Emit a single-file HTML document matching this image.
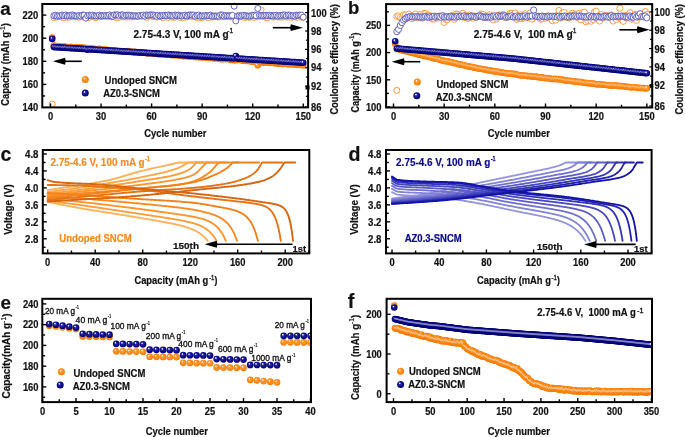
<!DOCTYPE html>
<html><head><meta charset="utf-8"><style>
html,body{margin:0;padding:0;background:#fff;width:685px;height:437px;overflow:hidden;position:relative}
svg{will-change:transform}
text{font-family:"Liberation Sans", sans-serif;white-space:pre}
</style></head><body>
<svg width="685" height="437" viewBox="0 0 685 437" style="position:absolute;left:0;top:0" font-family='"Liberation Sans", sans-serif'>
<defs>
<radialGradient id="gN" cx="0.5" cy="0.5" r="0.55" fx="0.34" fy="0.3">
<stop offset="0" stop-color="#ffffff"/><stop offset="0.12" stop-color="#d8d8f4"/><stop offset="0.3" stop-color="#2a2aa6"/><stop offset="0.7" stop-color="#08088a"/><stop offset="1" stop-color="#000066"/></radialGradient>
<radialGradient id="gO" cx="0.5" cy="0.5" r="0.55" fx="0.34" fy="0.3">
<stop offset="0" stop-color="#ffffff"/><stop offset="0.12" stop-color="#ffe6c8"/><stop offset="0.3" stop-color="#ff9a30"/><stop offset="0.7" stop-color="#ff8816"/><stop offset="1" stop-color="#f07400"/></radialGradient>
</defs>
<rect width="685" height="437" fill="#fff"/>
<circle cx="52.19" cy="104" r="3" fill="#fff" stroke="#FF8A1C" stroke-width="0.9"/>
<circle cx="53.87" cy="17.66" r="3" fill="#fff" stroke="#FF8A1C" stroke-width="0.75"/>
<circle cx="55.55" cy="16.66" r="3" fill="#fff" stroke="#FF8A1C" stroke-width="0.75"/>
<circle cx="57.24" cy="16.98" r="3" fill="#fff" stroke="#FF8A1C" stroke-width="0.75"/>
<circle cx="58.92" cy="16.55" r="3" fill="#fff" stroke="#FF8A1C" stroke-width="0.75"/>
<circle cx="60.61" cy="16.51" r="3" fill="#fff" stroke="#FF8A1C" stroke-width="0.75"/>
<circle cx="62.3" cy="17.54" r="3" fill="#fff" stroke="#FF8A1C" stroke-width="0.75"/>
<circle cx="63.98" cy="17.64" r="3" fill="#fff" stroke="#FF8A1C" stroke-width="0.75"/>
<circle cx="65.67" cy="16.12" r="3" fill="#fff" stroke="#FF8A1C" stroke-width="0.75"/>
<circle cx="67.35" cy="17.18" r="3" fill="#fff" stroke="#FF8A1C" stroke-width="0.75"/>
<circle cx="69.03" cy="17.23" r="3" fill="#fff" stroke="#FF8A1C" stroke-width="0.75"/>
<circle cx="70.72" cy="15.83" r="3" fill="#fff" stroke="#FF8A1C" stroke-width="0.75"/>
<circle cx="72.41" cy="16.79" r="3" fill="#fff" stroke="#FF8A1C" stroke-width="0.75"/>
<circle cx="74.09" cy="16.12" r="3" fill="#fff" stroke="#FF8A1C" stroke-width="0.75"/>
<circle cx="75.78" cy="16.78" r="3" fill="#fff" stroke="#FF8A1C" stroke-width="0.75"/>
<circle cx="77.46" cy="16.48" r="3" fill="#fff" stroke="#FF8A1C" stroke-width="0.75"/>
<circle cx="79.14" cy="17.38" r="3" fill="#fff" stroke="#FF8A1C" stroke-width="0.75"/>
<circle cx="80.83" cy="16.49" r="3" fill="#fff" stroke="#FF8A1C" stroke-width="0.75"/>
<circle cx="82.52" cy="16.06" r="3" fill="#fff" stroke="#FF8A1C" stroke-width="0.75"/>
<circle cx="84.2" cy="16.7" r="3" fill="#fff" stroke="#FF8A1C" stroke-width="0.75"/>
<circle cx="85.88" cy="16.3" r="3" fill="#fff" stroke="#FF8A1C" stroke-width="0.75"/>
<circle cx="87.57" cy="16.42" r="3" fill="#fff" stroke="#FF8A1C" stroke-width="0.75"/>
<circle cx="89.25" cy="17.54" r="3" fill="#fff" stroke="#FF8A1C" stroke-width="0.75"/>
<circle cx="90.94" cy="16.26" r="3" fill="#fff" stroke="#FF8A1C" stroke-width="0.75"/>
<circle cx="92.62" cy="16.57" r="3" fill="#fff" stroke="#FF8A1C" stroke-width="0.75"/>
<circle cx="94.31" cy="17.11" r="3" fill="#fff" stroke="#FF8A1C" stroke-width="0.75"/>
<circle cx="96" cy="17.6" r="3" fill="#fff" stroke="#FF8A1C" stroke-width="0.75"/>
<circle cx="97.68" cy="16.07" r="3" fill="#fff" stroke="#FF8A1C" stroke-width="0.75"/>
<circle cx="99.37" cy="16.79" r="3" fill="#fff" stroke="#FF8A1C" stroke-width="0.75"/>
<circle cx="101.05" cy="16.34" r="3" fill="#fff" stroke="#FF8A1C" stroke-width="0.75"/>
<circle cx="102.73" cy="16.04" r="3" fill="#fff" stroke="#FF8A1C" stroke-width="0.75"/>
<circle cx="104.42" cy="16.35" r="3" fill="#fff" stroke="#FF8A1C" stroke-width="0.75"/>
<circle cx="106.11" cy="15.97" r="3" fill="#fff" stroke="#FF8A1C" stroke-width="0.75"/>
<circle cx="107.79" cy="16.93" r="3" fill="#fff" stroke="#FF8A1C" stroke-width="0.75"/>
<circle cx="109.47" cy="16.19" r="3" fill="#fff" stroke="#FF8A1C" stroke-width="0.75"/>
<circle cx="111.16" cy="16.84" r="3" fill="#fff" stroke="#FF8A1C" stroke-width="0.75"/>
<circle cx="112.84" cy="15.94" r="3" fill="#fff" stroke="#FF8A1C" stroke-width="0.75"/>
<circle cx="114.53" cy="16.04" r="3" fill="#fff" stroke="#FF8A1C" stroke-width="0.75"/>
<circle cx="116.22" cy="17.48" r="3" fill="#fff" stroke="#FF8A1C" stroke-width="0.75"/>
<circle cx="117.9" cy="17.41" r="3" fill="#fff" stroke="#FF8A1C" stroke-width="0.75"/>
<circle cx="119.59" cy="17.26" r="3" fill="#fff" stroke="#FF8A1C" stroke-width="0.75"/>
<circle cx="121.27" cy="15.88" r="3" fill="#fff" stroke="#FF8A1C" stroke-width="0.75"/>
<circle cx="122.95" cy="16.86" r="3" fill="#fff" stroke="#FF8A1C" stroke-width="0.75"/>
<circle cx="124.64" cy="16.51" r="3" fill="#fff" stroke="#FF8A1C" stroke-width="0.75"/>
<circle cx="126.33" cy="17.11" r="3" fill="#fff" stroke="#FF8A1C" stroke-width="0.75"/>
<circle cx="128.01" cy="16.73" r="3" fill="#fff" stroke="#FF8A1C" stroke-width="0.75"/>
<circle cx="129.69" cy="16.95" r="3" fill="#fff" stroke="#FF8A1C" stroke-width="0.75"/>
<circle cx="131.38" cy="17.01" r="3" fill="#fff" stroke="#FF8A1C" stroke-width="0.75"/>
<circle cx="133.06" cy="16.58" r="3" fill="#fff" stroke="#FF8A1C" stroke-width="0.75"/>
<circle cx="134.75" cy="16.58" r="3" fill="#fff" stroke="#FF8A1C" stroke-width="0.75"/>
<circle cx="136.44" cy="16" r="3" fill="#fff" stroke="#FF8A1C" stroke-width="0.75"/>
<circle cx="138.12" cy="16.41" r="3" fill="#fff" stroke="#FF8A1C" stroke-width="0.75"/>
<circle cx="139.81" cy="15.95" r="3" fill="#fff" stroke="#FF8A1C" stroke-width="0.75"/>
<circle cx="141.49" cy="16.08" r="3" fill="#fff" stroke="#FF8A1C" stroke-width="0.75"/>
<circle cx="143.18" cy="15.84" r="3" fill="#fff" stroke="#FF8A1C" stroke-width="0.75"/>
<circle cx="144.86" cy="16.42" r="3" fill="#fff" stroke="#FF8A1C" stroke-width="0.75"/>
<circle cx="146.55" cy="17.36" r="3" fill="#fff" stroke="#FF8A1C" stroke-width="0.75"/>
<circle cx="148.23" cy="16.08" r="3" fill="#fff" stroke="#FF8A1C" stroke-width="0.75"/>
<circle cx="149.92" cy="15.89" r="3" fill="#fff" stroke="#FF8A1C" stroke-width="0.75"/>
<circle cx="151.6" cy="16" r="3" fill="#fff" stroke="#FF8A1C" stroke-width="0.75"/>
<circle cx="153.28" cy="16.61" r="3" fill="#fff" stroke="#FF8A1C" stroke-width="0.75"/>
<circle cx="154.97" cy="16.35" r="3" fill="#fff" stroke="#FF8A1C" stroke-width="0.75"/>
<circle cx="156.66" cy="17.27" r="3" fill="#fff" stroke="#FF8A1C" stroke-width="0.75"/>
<circle cx="158.34" cy="16.13" r="3" fill="#fff" stroke="#FF8A1C" stroke-width="0.75"/>
<circle cx="160.03" cy="16.6" r="3" fill="#fff" stroke="#FF8A1C" stroke-width="0.75"/>
<circle cx="161.71" cy="17.14" r="3" fill="#fff" stroke="#FF8A1C" stroke-width="0.75"/>
<circle cx="163.4" cy="17.54" r="3" fill="#fff" stroke="#FF8A1C" stroke-width="0.75"/>
<circle cx="165.08" cy="16.09" r="3" fill="#fff" stroke="#FF8A1C" stroke-width="0.75"/>
<circle cx="166.76" cy="15.84" r="3" fill="#fff" stroke="#FF8A1C" stroke-width="0.75"/>
<circle cx="168.45" cy="17.5" r="3" fill="#fff" stroke="#FF8A1C" stroke-width="0.75"/>
<circle cx="170.13" cy="16.19" r="3" fill="#fff" stroke="#FF8A1C" stroke-width="0.75"/>
<circle cx="171.82" cy="16.9" r="3" fill="#fff" stroke="#FF8A1C" stroke-width="0.75"/>
<circle cx="173.5" cy="17.38" r="3" fill="#fff" stroke="#FF8A1C" stroke-width="0.75"/>
<circle cx="175.19" cy="17.12" r="3" fill="#fff" stroke="#FF8A1C" stroke-width="0.75"/>
<circle cx="176.88" cy="16.25" r="3" fill="#fff" stroke="#FF8A1C" stroke-width="0.75"/>
<circle cx="178.56" cy="16.05" r="3" fill="#fff" stroke="#FF8A1C" stroke-width="0.75"/>
<circle cx="180.25" cy="17.58" r="3" fill="#fff" stroke="#FF8A1C" stroke-width="0.75"/>
<circle cx="181.93" cy="16.53" r="3" fill="#fff" stroke="#FF8A1C" stroke-width="0.75"/>
<circle cx="183.62" cy="17.58" r="3" fill="#fff" stroke="#FF8A1C" stroke-width="0.75"/>
<circle cx="185.3" cy="16.34" r="3" fill="#fff" stroke="#FF8A1C" stroke-width="0.75"/>
<circle cx="186.99" cy="17.05" r="3" fill="#fff" stroke="#FF8A1C" stroke-width="0.75"/>
<circle cx="188.67" cy="16.04" r="3" fill="#fff" stroke="#FF8A1C" stroke-width="0.75"/>
<circle cx="190.36" cy="15.86" r="3" fill="#fff" stroke="#FF8A1C" stroke-width="0.75"/>
<circle cx="192.04" cy="16.73" r="3" fill="#fff" stroke="#FF8A1C" stroke-width="0.75"/>
<circle cx="193.72" cy="15.82" r="3" fill="#fff" stroke="#FF8A1C" stroke-width="0.75"/>
<circle cx="195.41" cy="17.09" r="3" fill="#fff" stroke="#FF8A1C" stroke-width="0.75"/>
<circle cx="197.09" cy="17.52" r="3" fill="#fff" stroke="#FF8A1C" stroke-width="0.75"/>
<circle cx="198.78" cy="16.56" r="3" fill="#fff" stroke="#FF8A1C" stroke-width="0.75"/>
<circle cx="200.47" cy="17.6" r="3" fill="#fff" stroke="#FF8A1C" stroke-width="0.75"/>
<circle cx="202.15" cy="17.3" r="3" fill="#fff" stroke="#FF8A1C" stroke-width="0.75"/>
<circle cx="203.84" cy="16.91" r="3" fill="#fff" stroke="#FF8A1C" stroke-width="0.75"/>
<circle cx="205.52" cy="16.54" r="3" fill="#fff" stroke="#FF8A1C" stroke-width="0.75"/>
<circle cx="207.21" cy="17.37" r="3" fill="#fff" stroke="#FF8A1C" stroke-width="0.75"/>
<circle cx="208.89" cy="17.58" r="3" fill="#fff" stroke="#FF8A1C" stroke-width="0.75"/>
<circle cx="210.58" cy="16.06" r="3" fill="#fff" stroke="#FF8A1C" stroke-width="0.75"/>
<circle cx="212.26" cy="17.08" r="3" fill="#fff" stroke="#FF8A1C" stroke-width="0.75"/>
<circle cx="213.94" cy="15.9" r="3" fill="#fff" stroke="#FF8A1C" stroke-width="0.75"/>
<circle cx="215.63" cy="16.01" r="3" fill="#fff" stroke="#FF8A1C" stroke-width="0.75"/>
<circle cx="217.31" cy="16.96" r="3" fill="#fff" stroke="#FF8A1C" stroke-width="0.75"/>
<circle cx="219" cy="16.81" r="3" fill="#fff" stroke="#FF8A1C" stroke-width="0.75"/>
<circle cx="220.69" cy="16.7" r="3" fill="#fff" stroke="#FF8A1C" stroke-width="0.75"/>
<circle cx="222.37" cy="16.48" r="3" fill="#fff" stroke="#FF8A1C" stroke-width="0.75"/>
<circle cx="224.06" cy="16.56" r="3" fill="#fff" stroke="#FF8A1C" stroke-width="0.75"/>
<circle cx="225.74" cy="16.63" r="3" fill="#fff" stroke="#FF8A1C" stroke-width="0.75"/>
<circle cx="227.43" cy="16.52" r="3" fill="#fff" stroke="#FF8A1C" stroke-width="0.75"/>
<circle cx="229.11" cy="15.93" r="3" fill="#fff" stroke="#FF8A1C" stroke-width="0.75"/>
<circle cx="230.8" cy="16.73" r="3" fill="#fff" stroke="#FF8A1C" stroke-width="0.75"/>
<circle cx="232.48" cy="16.87" r="3" fill="#fff" stroke="#FF8A1C" stroke-width="0.75"/>
<circle cx="234.16" cy="16.33" r="3" fill="#fff" stroke="#FF8A1C" stroke-width="0.75"/>
<circle cx="235.85" cy="17.22" r="3" fill="#fff" stroke="#FF8A1C" stroke-width="0.75"/>
<circle cx="237.53" cy="17.11" r="3" fill="#fff" stroke="#FF8A1C" stroke-width="0.75"/>
<circle cx="239.22" cy="15.86" r="3" fill="#fff" stroke="#FF8A1C" stroke-width="0.75"/>
<circle cx="240.91" cy="16.7" r="3" fill="#fff" stroke="#FF8A1C" stroke-width="0.75"/>
<circle cx="242.59" cy="16.65" r="3" fill="#fff" stroke="#FF8A1C" stroke-width="0.75"/>
<circle cx="244.28" cy="17.64" r="3" fill="#fff" stroke="#FF8A1C" stroke-width="0.75"/>
<circle cx="245.96" cy="16.9" r="3" fill="#fff" stroke="#FF8A1C" stroke-width="0.75"/>
<circle cx="247.65" cy="16.59" r="3" fill="#fff" stroke="#FF8A1C" stroke-width="0.75"/>
<circle cx="249.33" cy="17.62" r="3" fill="#fff" stroke="#FF8A1C" stroke-width="0.75"/>
<circle cx="251.02" cy="16.53" r="3" fill="#fff" stroke="#FF8A1C" stroke-width="0.75"/>
<circle cx="252.7" cy="16.5" r="3" fill="#fff" stroke="#FF8A1C" stroke-width="0.75"/>
<circle cx="254.39" cy="17.55" r="3" fill="#fff" stroke="#FF8A1C" stroke-width="0.75"/>
<circle cx="256.07" cy="16.51" r="3" fill="#fff" stroke="#FF8A1C" stroke-width="0.75"/>
<circle cx="257.75" cy="16.8" r="3" fill="#fff" stroke="#FF8A1C" stroke-width="0.75"/>
<circle cx="259.44" cy="16.41" r="3" fill="#fff" stroke="#FF8A1C" stroke-width="0.75"/>
<circle cx="261.12" cy="9.84" r="3" fill="#fff" stroke="#FF8A1C" stroke-width="0.75"/>
<circle cx="262.81" cy="16.36" r="3" fill="#fff" stroke="#FF8A1C" stroke-width="0.75"/>
<circle cx="264.5" cy="16.3" r="3" fill="#fff" stroke="#FF8A1C" stroke-width="0.75"/>
<circle cx="266.18" cy="17.62" r="3" fill="#fff" stroke="#FF8A1C" stroke-width="0.75"/>
<circle cx="267.87" cy="17.55" r="3" fill="#fff" stroke="#FF8A1C" stroke-width="0.75"/>
<circle cx="269.55" cy="16.42" r="3" fill="#fff" stroke="#FF8A1C" stroke-width="0.75"/>
<circle cx="271.24" cy="15.89" r="3" fill="#fff" stroke="#FF8A1C" stroke-width="0.75"/>
<circle cx="272.92" cy="17.2" r="3" fill="#fff" stroke="#FF8A1C" stroke-width="0.75"/>
<circle cx="274.61" cy="16.82" r="3" fill="#fff" stroke="#FF8A1C" stroke-width="0.75"/>
<circle cx="276.29" cy="16.57" r="3" fill="#fff" stroke="#FF8A1C" stroke-width="0.75"/>
<circle cx="277.98" cy="17.07" r="3" fill="#fff" stroke="#FF8A1C" stroke-width="0.75"/>
<circle cx="279.66" cy="16.99" r="3" fill="#fff" stroke="#FF8A1C" stroke-width="0.75"/>
<circle cx="281.35" cy="17.08" r="3" fill="#fff" stroke="#FF8A1C" stroke-width="0.75"/>
<circle cx="283.03" cy="16.98" r="3" fill="#fff" stroke="#FF8A1C" stroke-width="0.75"/>
<circle cx="284.72" cy="16.56" r="3" fill="#fff" stroke="#FF8A1C" stroke-width="0.75"/>
<circle cx="286.4" cy="17.11" r="3" fill="#fff" stroke="#FF8A1C" stroke-width="0.75"/>
<circle cx="288.09" cy="16.97" r="3" fill="#fff" stroke="#FF8A1C" stroke-width="0.75"/>
<circle cx="289.77" cy="16.24" r="3" fill="#fff" stroke="#FF8A1C" stroke-width="0.75"/>
<circle cx="291.46" cy="17.61" r="3" fill="#fff" stroke="#FF8A1C" stroke-width="0.75"/>
<circle cx="293.14" cy="16.61" r="3" fill="#fff" stroke="#FF8A1C" stroke-width="0.75"/>
<circle cx="294.83" cy="16.31" r="3" fill="#fff" stroke="#FF8A1C" stroke-width="0.75"/>
<circle cx="296.51" cy="17.09" r="3" fill="#fff" stroke="#FF8A1C" stroke-width="0.75"/>
<circle cx="298.2" cy="17.25" r="3" fill="#fff" stroke="#FF8A1C" stroke-width="0.75"/>
<circle cx="299.88" cy="16.18" r="3" fill="#fff" stroke="#FF8A1C" stroke-width="0.75"/>
<circle cx="301.56" cy="17.22" r="3" fill="#fff" stroke="#FF8A1C" stroke-width="0.75"/>
<circle cx="303.25" cy="17.2" r="3" fill="#fff" stroke="#FF8A1C" stroke-width="0.75"/>
<circle cx="53.87" cy="15.64" r="3" fill="#fff" stroke="#4c4cb8" stroke-width="0.85"/>
<circle cx="55.55" cy="15.25" r="3" fill="#fff" stroke="#4c4cb8" stroke-width="0.85"/>
<circle cx="57.24" cy="16.13" r="3" fill="#fff" stroke="#4c4cb8" stroke-width="0.85"/>
<circle cx="58.92" cy="15.81" r="3" fill="#fff" stroke="#4c4cb8" stroke-width="0.85"/>
<circle cx="60.61" cy="15.79" r="3" fill="#fff" stroke="#4c4cb8" stroke-width="0.85"/>
<circle cx="62.3" cy="15.05" r="3" fill="#fff" stroke="#4c4cb8" stroke-width="0.85"/>
<circle cx="63.98" cy="15.63" r="3" fill="#fff" stroke="#4c4cb8" stroke-width="0.85"/>
<circle cx="65.67" cy="15.02" r="3" fill="#fff" stroke="#4c4cb8" stroke-width="0.85"/>
<circle cx="67.35" cy="16.03" r="3" fill="#fff" stroke="#4c4cb8" stroke-width="0.85"/>
<circle cx="69.03" cy="15.78" r="3" fill="#fff" stroke="#4c4cb8" stroke-width="0.85"/>
<circle cx="70.72" cy="15.32" r="3" fill="#fff" stroke="#4c4cb8" stroke-width="0.85"/>
<circle cx="72.41" cy="14.98" r="3" fill="#fff" stroke="#4c4cb8" stroke-width="0.85"/>
<circle cx="74.09" cy="15.62" r="3" fill="#fff" stroke="#4c4cb8" stroke-width="0.85"/>
<circle cx="75.78" cy="15.95" r="3" fill="#fff" stroke="#4c4cb8" stroke-width="0.85"/>
<circle cx="77.46" cy="16.1" r="3" fill="#fff" stroke="#4c4cb8" stroke-width="0.85"/>
<circle cx="79.14" cy="15.5" r="3" fill="#fff" stroke="#4c4cb8" stroke-width="0.85"/>
<circle cx="80.83" cy="16" r="3" fill="#fff" stroke="#4c4cb8" stroke-width="0.85"/>
<circle cx="82.52" cy="15.09" r="3" fill="#fff" stroke="#4c4cb8" stroke-width="0.85"/>
<circle cx="84.2" cy="15.05" r="3" fill="#fff" stroke="#4c4cb8" stroke-width="0.85"/>
<circle cx="85.88" cy="18.12" r="3" fill="#fff" stroke="#4c4cb8" stroke-width="0.85"/>
<circle cx="87.57" cy="15.87" r="3" fill="#fff" stroke="#4c4cb8" stroke-width="0.85"/>
<circle cx="89.25" cy="15.09" r="3" fill="#fff" stroke="#4c4cb8" stroke-width="0.85"/>
<circle cx="90.94" cy="15.34" r="3" fill="#fff" stroke="#4c4cb8" stroke-width="0.85"/>
<circle cx="92.62" cy="15.09" r="3" fill="#fff" stroke="#4c4cb8" stroke-width="0.85"/>
<circle cx="94.31" cy="15.77" r="3" fill="#fff" stroke="#4c4cb8" stroke-width="0.85"/>
<circle cx="96" cy="16.09" r="3" fill="#fff" stroke="#4c4cb8" stroke-width="0.85"/>
<circle cx="97.68" cy="15.85" r="3" fill="#fff" stroke="#4c4cb8" stroke-width="0.85"/>
<circle cx="99.37" cy="15.11" r="3" fill="#fff" stroke="#4c4cb8" stroke-width="0.85"/>
<circle cx="101.05" cy="15.88" r="3" fill="#fff" stroke="#4c4cb8" stroke-width="0.85"/>
<circle cx="102.73" cy="15.77" r="3" fill="#fff" stroke="#4c4cb8" stroke-width="0.85"/>
<circle cx="104.42" cy="15.67" r="3" fill="#fff" stroke="#4c4cb8" stroke-width="0.85"/>
<circle cx="106.11" cy="15.66" r="3" fill="#fff" stroke="#4c4cb8" stroke-width="0.85"/>
<circle cx="107.79" cy="15.68" r="3" fill="#fff" stroke="#4c4cb8" stroke-width="0.85"/>
<circle cx="109.47" cy="14.92" r="3" fill="#fff" stroke="#4c4cb8" stroke-width="0.85"/>
<circle cx="111.16" cy="16.05" r="3" fill="#fff" stroke="#4c4cb8" stroke-width="0.85"/>
<circle cx="112.84" cy="16.27" r="3" fill="#fff" stroke="#4c4cb8" stroke-width="0.85"/>
<circle cx="114.53" cy="14.89" r="3" fill="#fff" stroke="#4c4cb8" stroke-width="0.85"/>
<circle cx="116.22" cy="14.98" r="3" fill="#fff" stroke="#4c4cb8" stroke-width="0.85"/>
<circle cx="117.9" cy="14.83" r="3" fill="#fff" stroke="#4c4cb8" stroke-width="0.85"/>
<circle cx="119.59" cy="15.64" r="3" fill="#fff" stroke="#4c4cb8" stroke-width="0.85"/>
<circle cx="121.27" cy="14.88" r="3" fill="#fff" stroke="#4c4cb8" stroke-width="0.85"/>
<circle cx="122.95" cy="14.91" r="3" fill="#fff" stroke="#4c4cb8" stroke-width="0.85"/>
<circle cx="124.64" cy="15.95" r="3" fill="#fff" stroke="#4c4cb8" stroke-width="0.85"/>
<circle cx="126.33" cy="15.18" r="3" fill="#fff" stroke="#4c4cb8" stroke-width="0.85"/>
<circle cx="128.01" cy="15.05" r="3" fill="#fff" stroke="#4c4cb8" stroke-width="0.85"/>
<circle cx="129.69" cy="15.3" r="3" fill="#fff" stroke="#4c4cb8" stroke-width="0.85"/>
<circle cx="131.38" cy="15.52" r="3" fill="#fff" stroke="#4c4cb8" stroke-width="0.85"/>
<circle cx="133.06" cy="15.85" r="3" fill="#fff" stroke="#4c4cb8" stroke-width="0.85"/>
<circle cx="134.75" cy="15.78" r="3" fill="#fff" stroke="#4c4cb8" stroke-width="0.85"/>
<circle cx="136.44" cy="15.95" r="3" fill="#fff" stroke="#4c4cb8" stroke-width="0.85"/>
<circle cx="138.12" cy="16.18" r="3" fill="#fff" stroke="#4c4cb8" stroke-width="0.85"/>
<circle cx="139.81" cy="15.41" r="3" fill="#fff" stroke="#4c4cb8" stroke-width="0.85"/>
<circle cx="141.49" cy="15.86" r="3" fill="#fff" stroke="#4c4cb8" stroke-width="0.85"/>
<circle cx="143.18" cy="15.09" r="3" fill="#fff" stroke="#4c4cb8" stroke-width="0.85"/>
<circle cx="144.86" cy="16.21" r="3" fill="#fff" stroke="#4c4cb8" stroke-width="0.85"/>
<circle cx="146.55" cy="14.95" r="3" fill="#fff" stroke="#4c4cb8" stroke-width="0.85"/>
<circle cx="148.23" cy="15.26" r="3" fill="#fff" stroke="#4c4cb8" stroke-width="0.85"/>
<circle cx="149.92" cy="14.92" r="3" fill="#fff" stroke="#4c4cb8" stroke-width="0.85"/>
<circle cx="151.6" cy="14.96" r="3" fill="#fff" stroke="#4c4cb8" stroke-width="0.85"/>
<circle cx="153.28" cy="14.96" r="3" fill="#fff" stroke="#4c4cb8" stroke-width="0.85"/>
<circle cx="154.97" cy="15.43" r="3" fill="#fff" stroke="#4c4cb8" stroke-width="0.85"/>
<circle cx="156.66" cy="16.26" r="3" fill="#fff" stroke="#4c4cb8" stroke-width="0.85"/>
<circle cx="158.34" cy="15.18" r="3" fill="#fff" stroke="#4c4cb8" stroke-width="0.85"/>
<circle cx="160.03" cy="16.03" r="3" fill="#fff" stroke="#4c4cb8" stroke-width="0.85"/>
<circle cx="161.71" cy="15.84" r="3" fill="#fff" stroke="#4c4cb8" stroke-width="0.85"/>
<circle cx="163.4" cy="15.3" r="3" fill="#fff" stroke="#4c4cb8" stroke-width="0.85"/>
<circle cx="165.08" cy="15.51" r="3" fill="#fff" stroke="#4c4cb8" stroke-width="0.85"/>
<circle cx="166.76" cy="15.67" r="3" fill="#fff" stroke="#4c4cb8" stroke-width="0.85"/>
<circle cx="168.45" cy="14.9" r="3" fill="#fff" stroke="#4c4cb8" stroke-width="0.85"/>
<circle cx="170.13" cy="15.38" r="3" fill="#fff" stroke="#4c4cb8" stroke-width="0.85"/>
<circle cx="171.82" cy="15.78" r="3" fill="#fff" stroke="#4c4cb8" stroke-width="0.85"/>
<circle cx="173.5" cy="15.91" r="3" fill="#fff" stroke="#4c4cb8" stroke-width="0.85"/>
<circle cx="175.19" cy="15.01" r="3" fill="#fff" stroke="#4c4cb8" stroke-width="0.85"/>
<circle cx="176.88" cy="15.58" r="3" fill="#fff" stroke="#4c4cb8" stroke-width="0.85"/>
<circle cx="178.56" cy="15.13" r="3" fill="#fff" stroke="#4c4cb8" stroke-width="0.85"/>
<circle cx="180.25" cy="15.76" r="3" fill="#fff" stroke="#4c4cb8" stroke-width="0.85"/>
<circle cx="181.93" cy="15.99" r="3" fill="#fff" stroke="#4c4cb8" stroke-width="0.85"/>
<circle cx="183.62" cy="15.49" r="3" fill="#fff" stroke="#4c4cb8" stroke-width="0.85"/>
<circle cx="185.3" cy="15.08" r="3" fill="#fff" stroke="#4c4cb8" stroke-width="0.85"/>
<circle cx="186.99" cy="16.03" r="3" fill="#fff" stroke="#4c4cb8" stroke-width="0.85"/>
<circle cx="188.67" cy="15.11" r="3" fill="#fff" stroke="#4c4cb8" stroke-width="0.85"/>
<circle cx="190.36" cy="14.92" r="3" fill="#fff" stroke="#4c4cb8" stroke-width="0.85"/>
<circle cx="192.04" cy="15.09" r="3" fill="#fff" stroke="#4c4cb8" stroke-width="0.85"/>
<circle cx="193.72" cy="15.07" r="3" fill="#fff" stroke="#4c4cb8" stroke-width="0.85"/>
<circle cx="195.41" cy="16.27" r="3" fill="#fff" stroke="#4c4cb8" stroke-width="0.85"/>
<circle cx="197.09" cy="15.35" r="3" fill="#fff" stroke="#4c4cb8" stroke-width="0.85"/>
<circle cx="198.78" cy="15.01" r="3" fill="#fff" stroke="#4c4cb8" stroke-width="0.85"/>
<circle cx="200.47" cy="16.21" r="3" fill="#fff" stroke="#4c4cb8" stroke-width="0.85"/>
<circle cx="202.15" cy="15.88" r="3" fill="#fff" stroke="#4c4cb8" stroke-width="0.85"/>
<circle cx="203.84" cy="15.88" r="3" fill="#fff" stroke="#4c4cb8" stroke-width="0.85"/>
<circle cx="205.52" cy="15.5" r="3" fill="#fff" stroke="#4c4cb8" stroke-width="0.85"/>
<circle cx="207.21" cy="15.66" r="3" fill="#fff" stroke="#4c4cb8" stroke-width="0.85"/>
<circle cx="208.89" cy="15.58" r="3" fill="#fff" stroke="#4c4cb8" stroke-width="0.85"/>
<circle cx="210.58" cy="15.14" r="3" fill="#fff" stroke="#4c4cb8" stroke-width="0.85"/>
<circle cx="212.26" cy="16.28" r="3" fill="#fff" stroke="#4c4cb8" stroke-width="0.85"/>
<circle cx="213.94" cy="16.2" r="3" fill="#fff" stroke="#4c4cb8" stroke-width="0.85"/>
<circle cx="215.63" cy="16.09" r="3" fill="#fff" stroke="#4c4cb8" stroke-width="0.85"/>
<circle cx="217.31" cy="16.1" r="3" fill="#fff" stroke="#4c4cb8" stroke-width="0.85"/>
<circle cx="219" cy="16.18" r="3" fill="#fff" stroke="#4c4cb8" stroke-width="0.85"/>
<circle cx="220.69" cy="14.85" r="3" fill="#fff" stroke="#4c4cb8" stroke-width="0.85"/>
<circle cx="222.37" cy="15.02" r="3" fill="#fff" stroke="#4c4cb8" stroke-width="0.85"/>
<circle cx="224.06" cy="16.15" r="3" fill="#fff" stroke="#4c4cb8" stroke-width="0.85"/>
<circle cx="225.74" cy="15.54" r="3" fill="#fff" stroke="#4c4cb8" stroke-width="0.85"/>
<circle cx="227.43" cy="15.82" r="3" fill="#fff" stroke="#4c4cb8" stroke-width="0.85"/>
<circle cx="229.11" cy="15.82" r="3" fill="#fff" stroke="#4c4cb8" stroke-width="0.85"/>
<circle cx="230.8" cy="15.76" r="3" fill="#fff" stroke="#4c4cb8" stroke-width="0.85"/>
<circle cx="232.48" cy="15.33" r="3" fill="#fff" stroke="#4c4cb8" stroke-width="0.85"/>
<circle cx="234.16" cy="6.16" r="3" fill="#fff" stroke="#4c4cb8" stroke-width="0.85"/>
<circle cx="235.85" cy="20.88" r="3" fill="#fff" stroke="#4c4cb8" stroke-width="0.85"/>
<circle cx="237.53" cy="16" r="3" fill="#fff" stroke="#4c4cb8" stroke-width="0.85"/>
<circle cx="239.22" cy="15.8" r="3" fill="#fff" stroke="#4c4cb8" stroke-width="0.85"/>
<circle cx="240.91" cy="16.1" r="3" fill="#fff" stroke="#4c4cb8" stroke-width="0.85"/>
<circle cx="242.59" cy="15.46" r="3" fill="#fff" stroke="#4c4cb8" stroke-width="0.85"/>
<circle cx="244.28" cy="15.23" r="3" fill="#fff" stroke="#4c4cb8" stroke-width="0.85"/>
<circle cx="245.96" cy="15.72" r="3" fill="#fff" stroke="#4c4cb8" stroke-width="0.85"/>
<circle cx="247.65" cy="16.16" r="3" fill="#fff" stroke="#4c4cb8" stroke-width="0.85"/>
<circle cx="249.33" cy="16.02" r="3" fill="#fff" stroke="#4c4cb8" stroke-width="0.85"/>
<circle cx="251.02" cy="15.73" r="3" fill="#fff" stroke="#4c4cb8" stroke-width="0.85"/>
<circle cx="252.7" cy="15.39" r="3" fill="#fff" stroke="#4c4cb8" stroke-width="0.85"/>
<circle cx="254.39" cy="15.13" r="3" fill="#fff" stroke="#4c4cb8" stroke-width="0.85"/>
<circle cx="256.07" cy="15.72" r="3" fill="#fff" stroke="#4c4cb8" stroke-width="0.85"/>
<circle cx="257.75" cy="8.46" r="3" fill="#fff" stroke="#4c4cb8" stroke-width="0.85"/>
<circle cx="259.44" cy="15.36" r="3" fill="#fff" stroke="#4c4cb8" stroke-width="0.85"/>
<circle cx="261.12" cy="15.64" r="3" fill="#fff" stroke="#4c4cb8" stroke-width="0.85"/>
<circle cx="262.81" cy="15.73" r="3" fill="#fff" stroke="#4c4cb8" stroke-width="0.85"/>
<circle cx="264.5" cy="15.55" r="3" fill="#fff" stroke="#4c4cb8" stroke-width="0.85"/>
<circle cx="266.18" cy="15.25" r="3" fill="#fff" stroke="#4c4cb8" stroke-width="0.85"/>
<circle cx="267.87" cy="15.66" r="3" fill="#fff" stroke="#4c4cb8" stroke-width="0.85"/>
<circle cx="269.55" cy="15.26" r="3" fill="#fff" stroke="#4c4cb8" stroke-width="0.85"/>
<circle cx="271.24" cy="15.6" r="3" fill="#fff" stroke="#4c4cb8" stroke-width="0.85"/>
<circle cx="272.92" cy="15.92" r="3" fill="#fff" stroke="#4c4cb8" stroke-width="0.85"/>
<circle cx="274.61" cy="15.49" r="3" fill="#fff" stroke="#4c4cb8" stroke-width="0.85"/>
<circle cx="276.29" cy="15.26" r="3" fill="#fff" stroke="#4c4cb8" stroke-width="0.85"/>
<circle cx="277.98" cy="16.17" r="3" fill="#fff" stroke="#4c4cb8" stroke-width="0.85"/>
<circle cx="279.66" cy="15.65" r="3" fill="#fff" stroke="#4c4cb8" stroke-width="0.85"/>
<circle cx="281.35" cy="15.65" r="3" fill="#fff" stroke="#4c4cb8" stroke-width="0.85"/>
<circle cx="283.03" cy="14.99" r="3" fill="#fff" stroke="#4c4cb8" stroke-width="0.85"/>
<circle cx="284.72" cy="14.9" r="3" fill="#fff" stroke="#4c4cb8" stroke-width="0.85"/>
<circle cx="286.4" cy="15.73" r="3" fill="#fff" stroke="#4c4cb8" stroke-width="0.85"/>
<circle cx="288.09" cy="14.96" r="3" fill="#fff" stroke="#4c4cb8" stroke-width="0.85"/>
<circle cx="289.77" cy="15.12" r="3" fill="#fff" stroke="#4c4cb8" stroke-width="0.85"/>
<circle cx="291.46" cy="15.89" r="3" fill="#fff" stroke="#4c4cb8" stroke-width="0.85"/>
<circle cx="293.14" cy="15.6" r="3" fill="#fff" stroke="#4c4cb8" stroke-width="0.85"/>
<circle cx="294.83" cy="16.1" r="3" fill="#fff" stroke="#4c4cb8" stroke-width="0.85"/>
<circle cx="296.51" cy="15.08" r="3" fill="#fff" stroke="#4c4cb8" stroke-width="0.85"/>
<circle cx="298.2" cy="15.31" r="3" fill="#fff" stroke="#4c4cb8" stroke-width="0.85"/>
<circle cx="299.88" cy="14.97" r="3" fill="#fff" stroke="#4c4cb8" stroke-width="0.85"/>
<circle cx="301.56" cy="15.11" r="3" fill="#fff" stroke="#4c4cb8" stroke-width="0.85"/>
<circle cx="303.25" cy="17.2" r="3" fill="#fff" stroke="#4c4cb8" stroke-width="0.85"/>
<circle cx="52.19" cy="37.62" r="3.3" fill="url(#gO)"/>
<circle cx="53.87" cy="45.49" r="3.3" fill="url(#gO)"/>
<circle cx="55.55" cy="45.78" r="3.3" fill="url(#gO)"/>
<circle cx="57.24" cy="46.34" r="3.3" fill="url(#gO)"/>
<circle cx="58.92" cy="46.02" r="3.3" fill="url(#gO)"/>
<circle cx="60.61" cy="46.7" r="3.3" fill="url(#gO)"/>
<circle cx="62.3" cy="46.7" r="3.3" fill="url(#gO)"/>
<circle cx="63.98" cy="46.25" r="3.3" fill="url(#gO)"/>
<circle cx="65.67" cy="47.06" r="3.3" fill="url(#gO)"/>
<circle cx="67.35" cy="47.15" r="3.3" fill="url(#gO)"/>
<circle cx="69.03" cy="47.27" r="3.3" fill="url(#gO)"/>
<circle cx="70.72" cy="46.68" r="3.3" fill="url(#gO)"/>
<circle cx="72.41" cy="47.46" r="3.3" fill="url(#gO)"/>
<circle cx="74.09" cy="47.74" r="3.3" fill="url(#gO)"/>
<circle cx="75.78" cy="47.12" r="3.3" fill="url(#gO)"/>
<circle cx="77.46" cy="47.91" r="3.3" fill="url(#gO)"/>
<circle cx="79.14" cy="47.38" r="3.3" fill="url(#gO)"/>
<circle cx="80.83" cy="47.67" r="3.3" fill="url(#gO)"/>
<circle cx="82.52" cy="47.65" r="3.3" fill="url(#gO)"/>
<circle cx="84.2" cy="47.68" r="3.3" fill="url(#gO)"/>
<circle cx="85.88" cy="48.16" r="3.3" fill="url(#gO)"/>
<circle cx="87.57" cy="48.08" r="3.3" fill="url(#gO)"/>
<circle cx="89.25" cy="48.92" r="3.3" fill="url(#gO)"/>
<circle cx="90.94" cy="48.38" r="3.3" fill="url(#gO)"/>
<circle cx="92.62" cy="48.75" r="3.3" fill="url(#gO)"/>
<circle cx="94.31" cy="48.69" r="3.3" fill="url(#gO)"/>
<circle cx="96" cy="49.39" r="3.3" fill="url(#gO)"/>
<circle cx="97.68" cy="48.93" r="3.3" fill="url(#gO)"/>
<circle cx="99.37" cy="48.89" r="3.3" fill="url(#gO)"/>
<circle cx="101.05" cy="49.83" r="3.3" fill="url(#gO)"/>
<circle cx="102.73" cy="49.72" r="3.3" fill="url(#gO)"/>
<circle cx="104.42" cy="49.63" r="3.3" fill="url(#gO)"/>
<circle cx="106.11" cy="49.52" r="3.3" fill="url(#gO)"/>
<circle cx="107.79" cy="50.19" r="3.3" fill="url(#gO)"/>
<circle cx="109.47" cy="50.38" r="3.3" fill="url(#gO)"/>
<circle cx="111.16" cy="50.45" r="3.3" fill="url(#gO)"/>
<circle cx="112.84" cy="50.24" r="3.3" fill="url(#gO)"/>
<circle cx="114.53" cy="50.25" r="3.3" fill="url(#gO)"/>
<circle cx="116.22" cy="50.71" r="3.3" fill="url(#gO)"/>
<circle cx="117.9" cy="50.87" r="3.3" fill="url(#gO)"/>
<circle cx="119.59" cy="50.98" r="3.3" fill="url(#gO)"/>
<circle cx="121.27" cy="51.15" r="3.3" fill="url(#gO)"/>
<circle cx="122.95" cy="51.22" r="3.3" fill="url(#gO)"/>
<circle cx="124.64" cy="51.66" r="3.3" fill="url(#gO)"/>
<circle cx="126.33" cy="51.41" r="3.3" fill="url(#gO)"/>
<circle cx="128.01" cy="51.11" r="3.3" fill="url(#gO)"/>
<circle cx="129.69" cy="51.76" r="3.3" fill="url(#gO)"/>
<circle cx="131.38" cy="51.58" r="3.3" fill="url(#gO)"/>
<circle cx="133.06" cy="52.26" r="3.3" fill="url(#gO)"/>
<circle cx="134.75" cy="51.9" r="3.3" fill="url(#gO)"/>
<circle cx="136.44" cy="51.97" r="3.3" fill="url(#gO)"/>
<circle cx="138.12" cy="52.18" r="3.3" fill="url(#gO)"/>
<circle cx="139.81" cy="52.46" r="3.3" fill="url(#gO)"/>
<circle cx="141.49" cy="52.62" r="3.3" fill="url(#gO)"/>
<circle cx="143.18" cy="52.61" r="3.3" fill="url(#gO)"/>
<circle cx="144.86" cy="52.5" r="3.3" fill="url(#gO)"/>
<circle cx="146.55" cy="53.33" r="3.3" fill="url(#gO)"/>
<circle cx="148.23" cy="53.51" r="3.3" fill="url(#gO)"/>
<circle cx="149.92" cy="53.04" r="3.3" fill="url(#gO)"/>
<circle cx="151.6" cy="53.02" r="3.3" fill="url(#gO)"/>
<circle cx="153.28" cy="53.52" r="3.3" fill="url(#gO)"/>
<circle cx="154.97" cy="53.72" r="3.3" fill="url(#gO)"/>
<circle cx="156.66" cy="53.6" r="3.3" fill="url(#gO)"/>
<circle cx="158.34" cy="54.22" r="3.3" fill="url(#gO)"/>
<circle cx="160.03" cy="54.28" r="3.3" fill="url(#gO)"/>
<circle cx="161.71" cy="54.48" r="3.3" fill="url(#gO)"/>
<circle cx="163.4" cy="54.25" r="3.3" fill="url(#gO)"/>
<circle cx="165.08" cy="54.63" r="3.3" fill="url(#gO)"/>
<circle cx="166.76" cy="54.84" r="3.3" fill="url(#gO)"/>
<circle cx="168.45" cy="54.55" r="3.3" fill="url(#gO)"/>
<circle cx="170.13" cy="54.44" r="3.3" fill="url(#gO)"/>
<circle cx="171.82" cy="55.18" r="3.3" fill="url(#gO)"/>
<circle cx="173.5" cy="54.94" r="3.3" fill="url(#gO)"/>
<circle cx="175.19" cy="55.34" r="3.3" fill="url(#gO)"/>
<circle cx="176.88" cy="55.07" r="3.3" fill="url(#gO)"/>
<circle cx="178.56" cy="55.45" r="3.3" fill="url(#gO)"/>
<circle cx="180.25" cy="55.87" r="3.3" fill="url(#gO)"/>
<circle cx="181.93" cy="56.05" r="3.3" fill="url(#gO)"/>
<circle cx="183.62" cy="56.36" r="3.3" fill="url(#gO)"/>
<circle cx="185.3" cy="56.07" r="3.3" fill="url(#gO)"/>
<circle cx="186.99" cy="56.3" r="3.3" fill="url(#gO)"/>
<circle cx="188.67" cy="56.62" r="3.3" fill="url(#gO)"/>
<circle cx="190.36" cy="56.58" r="3.3" fill="url(#gO)"/>
<circle cx="192.04" cy="56.75" r="3.3" fill="url(#gO)"/>
<circle cx="193.72" cy="56.47" r="3.3" fill="url(#gO)"/>
<circle cx="195.41" cy="57.18" r="3.3" fill="url(#gO)"/>
<circle cx="197.09" cy="56.53" r="3.3" fill="url(#gO)"/>
<circle cx="198.78" cy="57.14" r="3.3" fill="url(#gO)"/>
<circle cx="200.47" cy="57.16" r="3.3" fill="url(#gO)"/>
<circle cx="202.15" cy="57.41" r="3.3" fill="url(#gO)"/>
<circle cx="203.84" cy="57.21" r="3.3" fill="url(#gO)"/>
<circle cx="205.52" cy="57.35" r="3.3" fill="url(#gO)"/>
<circle cx="207.21" cy="57.73" r="3.3" fill="url(#gO)"/>
<circle cx="208.89" cy="57.93" r="3.3" fill="url(#gO)"/>
<circle cx="210.58" cy="57.84" r="3.3" fill="url(#gO)"/>
<circle cx="212.26" cy="57.85" r="3.3" fill="url(#gO)"/>
<circle cx="213.94" cy="58.4" r="3.3" fill="url(#gO)"/>
<circle cx="215.63" cy="58.23" r="3.3" fill="url(#gO)"/>
<circle cx="217.31" cy="58.15" r="3.3" fill="url(#gO)"/>
<circle cx="219" cy="58.74" r="3.3" fill="url(#gO)"/>
<circle cx="220.69" cy="59.09" r="3.3" fill="url(#gO)"/>
<circle cx="222.37" cy="59.22" r="3.3" fill="url(#gO)"/>
<circle cx="224.06" cy="58.91" r="3.3" fill="url(#gO)"/>
<circle cx="225.74" cy="59.08" r="3.3" fill="url(#gO)"/>
<circle cx="227.43" cy="58.95" r="3.3" fill="url(#gO)"/>
<circle cx="229.11" cy="59.18" r="3.3" fill="url(#gO)"/>
<circle cx="230.8" cy="59.88" r="3.3" fill="url(#gO)"/>
<circle cx="232.48" cy="60.06" r="3.3" fill="url(#gO)"/>
<circle cx="234.16" cy="60.13" r="3.3" fill="url(#gO)"/>
<circle cx="235.85" cy="60.32" r="3.3" fill="url(#gO)"/>
<circle cx="237.53" cy="59.98" r="3.3" fill="url(#gO)"/>
<circle cx="239.22" cy="59.97" r="3.3" fill="url(#gO)"/>
<circle cx="240.91" cy="60.06" r="3.3" fill="url(#gO)"/>
<circle cx="242.59" cy="60.79" r="3.3" fill="url(#gO)"/>
<circle cx="244.28" cy="60.36" r="3.3" fill="url(#gO)"/>
<circle cx="245.96" cy="61" r="3.3" fill="url(#gO)"/>
<circle cx="247.65" cy="61.04" r="3.3" fill="url(#gO)"/>
<circle cx="249.33" cy="60.89" r="3.3" fill="url(#gO)"/>
<circle cx="251.02" cy="61.61" r="3.3" fill="url(#gO)"/>
<circle cx="252.7" cy="61.74" r="3.3" fill="url(#gO)"/>
<circle cx="254.39" cy="61.19" r="3.3" fill="url(#gO)"/>
<circle cx="256.07" cy="61.82" r="3.3" fill="url(#gO)"/>
<circle cx="257.75" cy="65.34" r="3.3" fill="url(#gO)"/>
<circle cx="259.44" cy="61.82" r="3.3" fill="url(#gO)"/>
<circle cx="261.12" cy="61.86" r="3.3" fill="url(#gO)"/>
<circle cx="262.81" cy="62.61" r="3.3" fill="url(#gO)"/>
<circle cx="264.5" cy="62.44" r="3.3" fill="url(#gO)"/>
<circle cx="266.18" cy="62.48" r="3.3" fill="url(#gO)"/>
<circle cx="267.87" cy="62.57" r="3.3" fill="url(#gO)"/>
<circle cx="269.55" cy="62.96" r="3.3" fill="url(#gO)"/>
<circle cx="271.24" cy="62.74" r="3.3" fill="url(#gO)"/>
<circle cx="272.92" cy="62.53" r="3.3" fill="url(#gO)"/>
<circle cx="274.61" cy="63.19" r="3.3" fill="url(#gO)"/>
<circle cx="276.29" cy="63.18" r="3.3" fill="url(#gO)"/>
<circle cx="277.98" cy="63.7" r="3.3" fill="url(#gO)"/>
<circle cx="279.66" cy="63.69" r="3.3" fill="url(#gO)"/>
<circle cx="281.35" cy="63.46" r="3.3" fill="url(#gO)"/>
<circle cx="283.03" cy="64.11" r="3.3" fill="url(#gO)"/>
<circle cx="284.72" cy="63.53" r="3.3" fill="url(#gO)"/>
<circle cx="286.4" cy="63.64" r="3.3" fill="url(#gO)"/>
<circle cx="288.09" cy="64.52" r="3.3" fill="url(#gO)"/>
<circle cx="289.77" cy="63.87" r="3.3" fill="url(#gO)"/>
<circle cx="291.46" cy="64.53" r="3.3" fill="url(#gO)"/>
<circle cx="293.14" cy="64.29" r="3.3" fill="url(#gO)"/>
<circle cx="294.83" cy="64.44" r="3.3" fill="url(#gO)"/>
<circle cx="296.51" cy="65" r="3.3" fill="url(#gO)"/>
<circle cx="298.2" cy="64.78" r="3.3" fill="url(#gO)"/>
<circle cx="299.88" cy="64.93" r="3.3" fill="url(#gO)"/>
<circle cx="301.56" cy="64.93" r="3.3" fill="url(#gO)"/>
<circle cx="303.25" cy="65.56" r="3.3" fill="url(#gO)"/>
<path d="M52.57 43.89 l0.9 1.9M54.26 44.18 l0.9 1.9M55.94 44.74 l0.9 1.9M57.62 44.42 l0.9 1.9M59.31 45.1 l0.9 1.9M61 45.1 l0.9 1.9M62.68 44.65 l0.9 1.9M64.37 45.46 l0.9 1.9M66.05 45.55 l0.9 1.9M67.73 45.67 l0.9 1.9M69.42 45.08 l0.9 1.9M71.11 45.86 l0.9 1.9M72.79 46.14 l0.9 1.9M74.48 45.52 l0.9 1.9M76.16 46.31 l0.9 1.9M77.84 45.78 l0.9 1.9M79.53 46.07 l0.9 1.9M81.22 46.05 l0.9 1.9M82.9 46.08 l0.9 1.9M84.58 46.56 l0.9 1.9M86.27 46.48 l0.9 1.9M87.95 47.32 l0.9 1.9M89.64 46.78 l0.9 1.9M91.33 47.15 l0.9 1.9M93.01 47.09 l0.9 1.9M94.7 47.79 l0.9 1.9M96.38 47.33 l0.9 1.9M98.07 47.29 l0.9 1.9M99.75 48.23 l0.9 1.9M101.44 48.12 l0.9 1.9M103.12 48.03 l0.9 1.9M104.81 47.92 l0.9 1.9M106.49 48.59 l0.9 1.9M108.17 48.78 l0.9 1.9M109.86 48.85 l0.9 1.9M111.55 48.64 l0.9 1.9M113.23 48.65 l0.9 1.9M114.92 49.11 l0.9 1.9M116.6 49.27 l0.9 1.9M118.29 49.38 l0.9 1.9M119.97 49.55 l0.9 1.9M121.66 49.62 l0.9 1.9M123.34 50.06 l0.9 1.9M125.03 49.81 l0.9 1.9M126.71 49.51 l0.9 1.9M128.39 50.16 l0.9 1.9M130.08 49.98 l0.9 1.9M131.76 50.66 l0.9 1.9M133.45 50.3 l0.9 1.9M135.13 50.37 l0.9 1.9M136.82 50.58 l0.9 1.9M138.5 50.86 l0.9 1.9M140.19 51.02 l0.9 1.9M141.88 51.01 l0.9 1.9M143.56 50.9 l0.9 1.9M145.25 51.73 l0.9 1.9M146.93 51.91 l0.9 1.9M148.62 51.44 l0.9 1.9M150.3 51.42 l0.9 1.9M151.98 51.92 l0.9 1.9M153.67 52.12 l0.9 1.9M155.35 52 l0.9 1.9M157.04 52.62 l0.9 1.9M158.72 52.68 l0.9 1.9M160.41 52.88 l0.9 1.9M162.09 52.65 l0.9 1.9M163.78 53.03 l0.9 1.9M165.46 53.24 l0.9 1.9M167.15 52.95 l0.9 1.9M168.83 52.84 l0.9 1.9M170.52 53.58 l0.9 1.9M172.2 53.34 l0.9 1.9M173.89 53.74 l0.9 1.9M175.57 53.47 l0.9 1.9M177.26 53.85 l0.9 1.9M178.94 54.27 l0.9 1.9M180.63 54.45 l0.9 1.9M182.31 54.76 l0.9 1.9M184 54.47 l0.9 1.9M185.69 54.7 l0.9 1.9M187.37 55.02 l0.9 1.9M189.06 54.98 l0.9 1.9M190.74 55.15 l0.9 1.9M192.42 54.87 l0.9 1.9M194.11 55.58 l0.9 1.9M195.79 54.93 l0.9 1.9M197.48 55.54 l0.9 1.9M199.16 55.56 l0.9 1.9M200.85 55.81 l0.9 1.9M202.53 55.61 l0.9 1.9M204.22 55.75 l0.9 1.9M205.91 56.13 l0.9 1.9M207.59 56.33 l0.9 1.9M209.28 56.24 l0.9 1.9M210.96 56.25 l0.9 1.9M212.64 56.8 l0.9 1.9M214.33 56.63 l0.9 1.9M216.01 56.55 l0.9 1.9M217.7 57.14 l0.9 1.9M219.38 57.49 l0.9 1.9M221.07 57.62 l0.9 1.9M222.75 57.31 l0.9 1.9M224.44 57.48 l0.9 1.9M226.12 57.35 l0.9 1.9M227.81 57.58 l0.9 1.9M229.5 58.28 l0.9 1.9M231.18 58.46 l0.9 1.9M232.86 58.53 l0.9 1.9M234.55 58.72 l0.9 1.9M236.23 58.38 l0.9 1.9M237.92 58.37 l0.9 1.9M239.6 58.46 l0.9 1.9M241.29 59.19 l0.9 1.9M242.97 58.76 l0.9 1.9M244.66 59.4 l0.9 1.9M246.34 59.44 l0.9 1.9M248.03 59.29 l0.9 1.9M249.72 60.01 l0.9 1.9M251.4 60.14 l0.9 1.9M253.09 59.59 l0.9 1.9M254.77 60.22 l0.9 1.9M256.45 63.74 l0.9 1.9M258.14 60.22 l0.9 1.9M259.82 60.26 l0.9 1.9M261.51 61.01 l0.9 1.9M263.19 60.84 l0.9 1.9M264.88 60.88 l0.9 1.9M266.56 60.97 l0.9 1.9M268.25 61.36 l0.9 1.9M269.94 61.14 l0.9 1.9M271.62 60.93 l0.9 1.9M273.31 61.59 l0.9 1.9M274.99 61.58 l0.9 1.9M276.68 62.1 l0.9 1.9M278.36 62.09 l0.9 1.9M280.05 61.86 l0.9 1.9M281.73 62.51 l0.9 1.9M283.42 61.93 l0.9 1.9M285.1 62.04 l0.9 1.9M286.79 62.92 l0.9 1.9M288.47 62.27 l0.9 1.9M290.16 62.93 l0.9 1.9M291.84 62.69 l0.9 1.9M293.53 62.84 l0.9 1.9M295.21 63.4 l0.9 1.9M296.9 63.18 l0.9 1.9M298.58 63.33 l0.9 1.9M300.26 63.33 l0.9 1.9M301.95 63.96 l0.9 1.9" stroke="#fff" stroke-width="0.75" opacity="0.55" fill="none"/>
<circle cx="52.19" cy="38.89" r="3.3" fill="url(#gN)"/>
<circle cx="53.87" cy="47.09" r="3.3" fill="url(#gN)"/>
<circle cx="55.55" cy="47.2" r="3.3" fill="url(#gN)"/>
<circle cx="57.24" cy="47.3" r="3.3" fill="url(#gN)"/>
<circle cx="58.92" cy="47.41" r="3.3" fill="url(#gN)"/>
<circle cx="60.61" cy="47.51" r="3.3" fill="url(#gN)"/>
<circle cx="62.3" cy="47.62" r="3.3" fill="url(#gN)"/>
<circle cx="63.98" cy="47.73" r="3.3" fill="url(#gN)"/>
<circle cx="65.67" cy="47.83" r="3.3" fill="url(#gN)"/>
<circle cx="67.35" cy="47.94" r="3.3" fill="url(#gN)"/>
<circle cx="69.03" cy="48.04" r="3.3" fill="url(#gN)"/>
<circle cx="70.72" cy="48.15" r="3.3" fill="url(#gN)"/>
<circle cx="72.41" cy="48.25" r="3.3" fill="url(#gN)"/>
<circle cx="74.09" cy="48.36" r="3.3" fill="url(#gN)"/>
<circle cx="75.78" cy="48.46" r="3.3" fill="url(#gN)"/>
<circle cx="77.46" cy="48.57" r="3.3" fill="url(#gN)"/>
<circle cx="79.14" cy="48.67" r="3.3" fill="url(#gN)"/>
<circle cx="80.83" cy="48.78" r="3.3" fill="url(#gN)"/>
<circle cx="82.52" cy="48.88" r="3.3" fill="url(#gN)"/>
<circle cx="84.2" cy="48.99" r="3.3" fill="url(#gN)"/>
<circle cx="85.88" cy="49.1" r="3.3" fill="url(#gN)"/>
<circle cx="87.57" cy="49.75" r="3.3" fill="url(#gN)"/>
<circle cx="89.25" cy="49.31" r="3.3" fill="url(#gN)"/>
<circle cx="90.94" cy="49.41" r="3.3" fill="url(#gN)"/>
<circle cx="92.62" cy="49.52" r="3.3" fill="url(#gN)"/>
<circle cx="94.31" cy="49.62" r="3.3" fill="url(#gN)"/>
<circle cx="96" cy="49.73" r="3.3" fill="url(#gN)"/>
<circle cx="97.68" cy="49.83" r="3.3" fill="url(#gN)"/>
<circle cx="99.37" cy="49.94" r="3.3" fill="url(#gN)"/>
<circle cx="101.05" cy="50.04" r="3.3" fill="url(#gN)"/>
<circle cx="102.73" cy="50.15" r="3.3" fill="url(#gN)"/>
<circle cx="104.42" cy="50.25" r="3.3" fill="url(#gN)"/>
<circle cx="106.11" cy="50.36" r="3.3" fill="url(#gN)"/>
<circle cx="107.79" cy="50.46" r="3.3" fill="url(#gN)"/>
<circle cx="109.47" cy="50.57" r="3.3" fill="url(#gN)"/>
<circle cx="111.16" cy="50.68" r="3.3" fill="url(#gN)"/>
<circle cx="112.84" cy="50.78" r="3.3" fill="url(#gN)"/>
<circle cx="114.53" cy="50.89" r="3.3" fill="url(#gN)"/>
<circle cx="116.22" cy="50.99" r="3.3" fill="url(#gN)"/>
<circle cx="117.9" cy="51.1" r="3.3" fill="url(#gN)"/>
<circle cx="119.59" cy="51.2" r="3.3" fill="url(#gN)"/>
<circle cx="121.27" cy="51.31" r="3.3" fill="url(#gN)"/>
<circle cx="122.95" cy="51.41" r="3.3" fill="url(#gN)"/>
<circle cx="124.64" cy="51.52" r="3.3" fill="url(#gN)"/>
<circle cx="126.33" cy="51.62" r="3.3" fill="url(#gN)"/>
<circle cx="128.01" cy="51.73" r="3.3" fill="url(#gN)"/>
<circle cx="129.69" cy="51.83" r="3.3" fill="url(#gN)"/>
<circle cx="131.38" cy="51.94" r="3.3" fill="url(#gN)"/>
<circle cx="133.06" cy="52.05" r="3.3" fill="url(#gN)"/>
<circle cx="134.75" cy="52.15" r="3.3" fill="url(#gN)"/>
<circle cx="136.44" cy="52.26" r="3.3" fill="url(#gN)"/>
<circle cx="138.12" cy="52.36" r="3.3" fill="url(#gN)"/>
<circle cx="139.81" cy="52.47" r="3.3" fill="url(#gN)"/>
<circle cx="141.49" cy="52.57" r="3.3" fill="url(#gN)"/>
<circle cx="143.18" cy="52.68" r="3.3" fill="url(#gN)"/>
<circle cx="144.86" cy="52.78" r="3.3" fill="url(#gN)"/>
<circle cx="146.55" cy="52.89" r="3.3" fill="url(#gN)"/>
<circle cx="148.23" cy="52.99" r="3.3" fill="url(#gN)"/>
<circle cx="149.92" cy="53.1" r="3.3" fill="url(#gN)"/>
<circle cx="151.6" cy="53.2" r="3.3" fill="url(#gN)"/>
<circle cx="153.28" cy="53.31" r="3.3" fill="url(#gN)"/>
<circle cx="154.97" cy="53.41" r="3.3" fill="url(#gN)"/>
<circle cx="156.66" cy="53.52" r="3.3" fill="url(#gN)"/>
<circle cx="158.34" cy="53.63" r="3.3" fill="url(#gN)"/>
<circle cx="160.03" cy="53.73" r="3.3" fill="url(#gN)"/>
<circle cx="161.71" cy="53.84" r="3.3" fill="url(#gN)"/>
<circle cx="163.4" cy="53.94" r="3.3" fill="url(#gN)"/>
<circle cx="165.08" cy="54.05" r="3.3" fill="url(#gN)"/>
<circle cx="166.76" cy="54.15" r="3.3" fill="url(#gN)"/>
<circle cx="168.45" cy="54.26" r="3.3" fill="url(#gN)"/>
<circle cx="170.13" cy="54.36" r="3.3" fill="url(#gN)"/>
<circle cx="171.82" cy="54.47" r="3.3" fill="url(#gN)"/>
<circle cx="173.5" cy="54.57" r="3.3" fill="url(#gN)"/>
<circle cx="175.19" cy="54.68" r="3.3" fill="url(#gN)"/>
<circle cx="176.88" cy="54.78" r="3.3" fill="url(#gN)"/>
<circle cx="178.56" cy="54.89" r="3.3" fill="url(#gN)"/>
<circle cx="180.25" cy="55" r="3.3" fill="url(#gN)"/>
<circle cx="181.93" cy="55.1" r="3.3" fill="url(#gN)"/>
<circle cx="183.62" cy="55.21" r="3.3" fill="url(#gN)"/>
<circle cx="185.3" cy="55.31" r="3.3" fill="url(#gN)"/>
<circle cx="186.99" cy="55.42" r="3.3" fill="url(#gN)"/>
<circle cx="188.67" cy="55.52" r="3.3" fill="url(#gN)"/>
<circle cx="190.36" cy="55.63" r="3.3" fill="url(#gN)"/>
<circle cx="192.04" cy="55.73" r="3.3" fill="url(#gN)"/>
<circle cx="193.72" cy="55.84" r="3.3" fill="url(#gN)"/>
<circle cx="195.41" cy="55.94" r="3.3" fill="url(#gN)"/>
<circle cx="197.09" cy="56.05" r="3.3" fill="url(#gN)"/>
<circle cx="198.78" cy="56.15" r="3.3" fill="url(#gN)"/>
<circle cx="200.47" cy="56.26" r="3.3" fill="url(#gN)"/>
<circle cx="202.15" cy="56.36" r="3.3" fill="url(#gN)"/>
<circle cx="203.84" cy="56.47" r="3.3" fill="url(#gN)"/>
<circle cx="205.52" cy="56.58" r="3.3" fill="url(#gN)"/>
<circle cx="207.21" cy="56.68" r="3.3" fill="url(#gN)"/>
<circle cx="208.89" cy="56.79" r="3.3" fill="url(#gN)"/>
<circle cx="210.58" cy="56.89" r="3.3" fill="url(#gN)"/>
<circle cx="212.26" cy="57" r="3.3" fill="url(#gN)"/>
<circle cx="213.94" cy="57.1" r="3.3" fill="url(#gN)"/>
<circle cx="215.63" cy="57.21" r="3.3" fill="url(#gN)"/>
<circle cx="217.31" cy="57.31" r="3.3" fill="url(#gN)"/>
<circle cx="219" cy="57.42" r="3.3" fill="url(#gN)"/>
<circle cx="220.69" cy="57.52" r="3.3" fill="url(#gN)"/>
<circle cx="222.37" cy="57.63" r="3.3" fill="url(#gN)"/>
<circle cx="224.06" cy="57.73" r="3.3" fill="url(#gN)"/>
<circle cx="225.74" cy="57.84" r="3.3" fill="url(#gN)"/>
<circle cx="227.43" cy="57.95" r="3.3" fill="url(#gN)"/>
<circle cx="229.11" cy="58.05" r="3.3" fill="url(#gN)"/>
<circle cx="230.8" cy="58.16" r="3.3" fill="url(#gN)"/>
<circle cx="232.48" cy="58.26" r="3.3" fill="url(#gN)"/>
<circle cx="234.16" cy="58.37" r="3.3" fill="url(#gN)"/>
<circle cx="235.85" cy="55.99" r="3.3" fill="url(#gN)"/>
<circle cx="237.53" cy="58.58" r="3.3" fill="url(#gN)"/>
<circle cx="239.22" cy="58.68" r="3.3" fill="url(#gN)"/>
<circle cx="240.91" cy="58.79" r="3.3" fill="url(#gN)"/>
<circle cx="242.59" cy="58.89" r="3.3" fill="url(#gN)"/>
<circle cx="244.28" cy="59" r="3.3" fill="url(#gN)"/>
<circle cx="245.96" cy="59.1" r="3.3" fill="url(#gN)"/>
<circle cx="247.65" cy="59.21" r="3.3" fill="url(#gN)"/>
<circle cx="249.33" cy="59.31" r="3.3" fill="url(#gN)"/>
<circle cx="251.02" cy="59.42" r="3.3" fill="url(#gN)"/>
<circle cx="252.7" cy="59.53" r="3.3" fill="url(#gN)"/>
<circle cx="254.39" cy="59.63" r="3.3" fill="url(#gN)"/>
<circle cx="256.07" cy="59.74" r="3.3" fill="url(#gN)"/>
<circle cx="257.75" cy="59.84" r="3.3" fill="url(#gN)"/>
<circle cx="259.44" cy="59.95" r="3.3" fill="url(#gN)"/>
<circle cx="261.12" cy="60.05" r="3.3" fill="url(#gN)"/>
<circle cx="262.81" cy="60.16" r="3.3" fill="url(#gN)"/>
<circle cx="264.5" cy="60.26" r="3.3" fill="url(#gN)"/>
<circle cx="266.18" cy="60.37" r="3.3" fill="url(#gN)"/>
<circle cx="267.87" cy="60.47" r="3.3" fill="url(#gN)"/>
<circle cx="269.55" cy="60.58" r="3.3" fill="url(#gN)"/>
<circle cx="271.24" cy="60.68" r="3.3" fill="url(#gN)"/>
<circle cx="272.92" cy="60.79" r="3.3" fill="url(#gN)"/>
<circle cx="274.61" cy="60.89" r="3.3" fill="url(#gN)"/>
<circle cx="276.29" cy="61" r="3.3" fill="url(#gN)"/>
<circle cx="277.98" cy="61.11" r="3.3" fill="url(#gN)"/>
<circle cx="279.66" cy="61.21" r="3.3" fill="url(#gN)"/>
<circle cx="281.35" cy="61.32" r="3.3" fill="url(#gN)"/>
<circle cx="283.03" cy="61.42" r="3.3" fill="url(#gN)"/>
<circle cx="284.72" cy="61.53" r="3.3" fill="url(#gN)"/>
<circle cx="286.4" cy="61.63" r="3.3" fill="url(#gN)"/>
<circle cx="288.09" cy="61.74" r="3.3" fill="url(#gN)"/>
<circle cx="289.77" cy="61.84" r="3.3" fill="url(#gN)"/>
<circle cx="291.46" cy="61.95" r="3.3" fill="url(#gN)"/>
<circle cx="293.14" cy="62.05" r="3.3" fill="url(#gN)"/>
<circle cx="294.83" cy="62.16" r="3.3" fill="url(#gN)"/>
<circle cx="296.51" cy="62.26" r="3.3" fill="url(#gN)"/>
<circle cx="298.2" cy="62.37" r="3.3" fill="url(#gN)"/>
<circle cx="299.88" cy="62.48" r="3.3" fill="url(#gN)"/>
<circle cx="301.56" cy="62.58" r="3.3" fill="url(#gN)"/>
<circle cx="303.25" cy="62.69" r="3.3" fill="url(#gN)"/>
<path d="M52.57 45.49 l0.9 1.9M54.26 45.6 l0.9 1.9M55.94 45.7 l0.9 1.9M57.62 45.81 l0.9 1.9M59.31 45.91 l0.9 1.9M61 46.02 l0.9 1.9M62.68 46.13 l0.9 1.9M64.37 46.23 l0.9 1.9M66.05 46.34 l0.9 1.9M67.73 46.44 l0.9 1.9M69.42 46.55 l0.9 1.9M71.11 46.65 l0.9 1.9M72.79 46.76 l0.9 1.9M74.48 46.86 l0.9 1.9M76.16 46.97 l0.9 1.9M77.84 47.07 l0.9 1.9M79.53 47.18 l0.9 1.9M81.22 47.28 l0.9 1.9M82.9 47.39 l0.9 1.9M84.58 47.5 l0.9 1.9M86.27 48.15 l0.9 1.9M87.95 47.71 l0.9 1.9M89.64 47.81 l0.9 1.9M91.33 47.92 l0.9 1.9M93.01 48.02 l0.9 1.9M94.7 48.13 l0.9 1.9M96.38 48.23 l0.9 1.9M98.07 48.34 l0.9 1.9M99.75 48.44 l0.9 1.9M101.44 48.55 l0.9 1.9M103.12 48.65 l0.9 1.9M104.81 48.76 l0.9 1.9M106.49 48.86 l0.9 1.9M108.17 48.97 l0.9 1.9M109.86 49.08 l0.9 1.9M111.55 49.18 l0.9 1.9M113.23 49.29 l0.9 1.9M114.92 49.39 l0.9 1.9M116.6 49.5 l0.9 1.9M118.29 49.6 l0.9 1.9M119.97 49.71 l0.9 1.9M121.66 49.81 l0.9 1.9M123.34 49.92 l0.9 1.9M125.03 50.02 l0.9 1.9M126.71 50.13 l0.9 1.9M128.39 50.23 l0.9 1.9M130.08 50.34 l0.9 1.9M131.76 50.45 l0.9 1.9M133.45 50.55 l0.9 1.9M135.13 50.66 l0.9 1.9M136.82 50.76 l0.9 1.9M138.5 50.87 l0.9 1.9M140.19 50.97 l0.9 1.9M141.88 51.08 l0.9 1.9M143.56 51.18 l0.9 1.9M145.25 51.29 l0.9 1.9M146.93 51.39 l0.9 1.9M148.62 51.5 l0.9 1.9M150.3 51.6 l0.9 1.9M151.98 51.71 l0.9 1.9M153.67 51.81 l0.9 1.9M155.35 51.92 l0.9 1.9M157.04 52.03 l0.9 1.9M158.72 52.13 l0.9 1.9M160.41 52.24 l0.9 1.9M162.09 52.34 l0.9 1.9M163.78 52.45 l0.9 1.9M165.46 52.55 l0.9 1.9M167.15 52.66 l0.9 1.9M168.83 52.76 l0.9 1.9M170.52 52.87 l0.9 1.9M172.2 52.97 l0.9 1.9M173.89 53.08 l0.9 1.9M175.57 53.18 l0.9 1.9M177.26 53.29 l0.9 1.9M178.94 53.4 l0.9 1.9M180.63 53.5 l0.9 1.9M182.31 53.61 l0.9 1.9M184 53.71 l0.9 1.9M185.69 53.82 l0.9 1.9M187.37 53.92 l0.9 1.9M189.06 54.03 l0.9 1.9M190.74 54.13 l0.9 1.9M192.42 54.24 l0.9 1.9M194.11 54.34 l0.9 1.9M195.79 54.45 l0.9 1.9M197.48 54.55 l0.9 1.9M199.16 54.66 l0.9 1.9M200.85 54.76 l0.9 1.9M202.53 54.87 l0.9 1.9M204.22 54.98 l0.9 1.9M205.91 55.08 l0.9 1.9M207.59 55.19 l0.9 1.9M209.28 55.29 l0.9 1.9M210.96 55.4 l0.9 1.9M212.64 55.5 l0.9 1.9M214.33 55.61 l0.9 1.9M216.01 55.71 l0.9 1.9M217.7 55.82 l0.9 1.9M219.38 55.92 l0.9 1.9M221.07 56.03 l0.9 1.9M222.75 56.13 l0.9 1.9M224.44 56.24 l0.9 1.9M226.12 56.35 l0.9 1.9M227.81 56.45 l0.9 1.9M229.5 56.56 l0.9 1.9M231.18 56.66 l0.9 1.9M232.86 56.77 l0.9 1.9M234.55 54.39 l0.9 1.9M236.23 56.98 l0.9 1.9M237.92 57.08 l0.9 1.9M239.6 57.19 l0.9 1.9M241.29 57.29 l0.9 1.9M242.97 57.4 l0.9 1.9M244.66 57.5 l0.9 1.9M246.34 57.61 l0.9 1.9M248.03 57.71 l0.9 1.9M249.72 57.82 l0.9 1.9M251.4 57.93 l0.9 1.9M253.09 58.03 l0.9 1.9M254.77 58.14 l0.9 1.9M256.45 58.24 l0.9 1.9M258.14 58.35 l0.9 1.9M259.82 58.45 l0.9 1.9M261.51 58.56 l0.9 1.9M263.19 58.66 l0.9 1.9M264.88 58.77 l0.9 1.9M266.56 58.87 l0.9 1.9M268.25 58.98 l0.9 1.9M269.94 59.08 l0.9 1.9M271.62 59.19 l0.9 1.9M273.31 59.29 l0.9 1.9M274.99 59.4 l0.9 1.9M276.68 59.51 l0.9 1.9M278.36 59.61 l0.9 1.9M280.05 59.72 l0.9 1.9M281.73 59.82 l0.9 1.9M283.42 59.93 l0.9 1.9M285.1 60.03 l0.9 1.9M286.79 60.14 l0.9 1.9M288.47 60.24 l0.9 1.9M290.16 60.35 l0.9 1.9M291.84 60.45 l0.9 1.9M293.53 60.56 l0.9 1.9M295.21 60.66 l0.9 1.9M296.9 60.77 l0.9 1.9M298.58 60.88 l0.9 1.9M300.26 60.98 l0.9 1.9M301.95 61.09 l0.9 1.9" stroke="#fff" stroke-width="0.75" opacity="0.55" fill="none"/>
<rect x="305.5" y="85.5" width="4" height="4" fill="#000"/>
<rect x="42.3" y="4" width="265.8" height="103.4" fill="none" stroke="#000" stroke-width="2"/>
<line x1="42.3" y1="95.95" x2="45.1" y2="95.95" stroke="#000" stroke-width="1.4" stroke-linecap="butt"/>
<line x1="42.3" y1="84.4" x2="46.3" y2="84.4" stroke="#000" stroke-width="1.4" stroke-linecap="butt"/>
<line x1="42.3" y1="72.85" x2="45.1" y2="72.85" stroke="#000" stroke-width="1.4" stroke-linecap="butt"/>
<line x1="42.3" y1="61.3" x2="46.3" y2="61.3" stroke="#000" stroke-width="1.4" stroke-linecap="butt"/>
<line x1="42.3" y1="49.75" x2="45.1" y2="49.75" stroke="#000" stroke-width="1.4" stroke-linecap="butt"/>
<line x1="42.3" y1="38.2" x2="46.3" y2="38.2" stroke="#000" stroke-width="1.4" stroke-linecap="butt"/>
<line x1="42.3" y1="26.65" x2="45.1" y2="26.65" stroke="#000" stroke-width="1.4" stroke-linecap="butt"/>
<line x1="42.3" y1="15.1" x2="46.3" y2="15.1" stroke="#000" stroke-width="1.4" stroke-linecap="butt"/>
<line x1="50.5" y1="107.4" x2="50.5" y2="103.4" stroke="#000" stroke-width="1.4" stroke-linecap="butt"/>
<line x1="75.78" y1="107.4" x2="75.78" y2="104.6" stroke="#000" stroke-width="1.4" stroke-linecap="butt"/>
<line x1="101.05" y1="107.4" x2="101.05" y2="103.4" stroke="#000" stroke-width="1.4" stroke-linecap="butt"/>
<line x1="126.33" y1="107.4" x2="126.33" y2="104.6" stroke="#000" stroke-width="1.4" stroke-linecap="butt"/>
<line x1="151.6" y1="107.4" x2="151.6" y2="103.4" stroke="#000" stroke-width="1.4" stroke-linecap="butt"/>
<line x1="176.88" y1="107.4" x2="176.88" y2="104.6" stroke="#000" stroke-width="1.4" stroke-linecap="butt"/>
<line x1="202.15" y1="107.4" x2="202.15" y2="103.4" stroke="#000" stroke-width="1.4" stroke-linecap="butt"/>
<line x1="227.43" y1="107.4" x2="227.43" y2="104.6" stroke="#000" stroke-width="1.4" stroke-linecap="butt"/>
<line x1="252.7" y1="107.4" x2="252.7" y2="103.4" stroke="#000" stroke-width="1.4" stroke-linecap="butt"/>
<line x1="277.98" y1="107.4" x2="277.98" y2="104.6" stroke="#000" stroke-width="1.4" stroke-linecap="butt"/>
<line x1="303.25" y1="107.4" x2="303.25" y2="103.4" stroke="#000" stroke-width="1.4" stroke-linecap="butt"/>
<line x1="308.1" y1="12.6" x2="305.1" y2="12.6" stroke="#000" stroke-width="1.2" stroke-linecap="butt"/>
<line x1="308.1" y1="21.8" x2="305.9" y2="21.8" stroke="#000" stroke-width="1.2" stroke-linecap="butt"/>
<line x1="308.1" y1="31" x2="305.1" y2="31" stroke="#000" stroke-width="1.2" stroke-linecap="butt"/>
<line x1="308.1" y1="40.2" x2="305.9" y2="40.2" stroke="#000" stroke-width="1.2" stroke-linecap="butt"/>
<line x1="308.1" y1="49.4" x2="305.1" y2="49.4" stroke="#000" stroke-width="1.2" stroke-linecap="butt"/>
<line x1="308.1" y1="58.6" x2="305.9" y2="58.6" stroke="#000" stroke-width="1.2" stroke-linecap="butt"/>
<line x1="308.1" y1="67.8" x2="305.1" y2="67.8" stroke="#000" stroke-width="1.2" stroke-linecap="butt"/>
<line x1="308.1" y1="77" x2="305.9" y2="77" stroke="#000" stroke-width="1.2" stroke-linecap="butt"/>
<line x1="308.1" y1="86.2" x2="305.1" y2="86.2" stroke="#000" stroke-width="1.2" stroke-linecap="butt"/>
<line x1="308.1" y1="96.3" x2="305.9" y2="96.3" stroke="#000" stroke-width="1.2" stroke-linecap="butt"/>
<line x1="308.1" y1="107" x2="305.1" y2="107" stroke="#000" stroke-width="1.2" stroke-linecap="butt"/>
<text x="38.2" y="111.3" font-size="10.1" font-weight="bold" fill="#111" text-anchor="end" textLength="15.6" lengthAdjust="spacingAndGlyphs" stroke="#111" stroke-width="0.2">140</text>
<text x="38.2" y="88.2" font-size="10.1" font-weight="bold" fill="#111" text-anchor="end" textLength="15.6" lengthAdjust="spacingAndGlyphs" stroke="#111" stroke-width="0.2">160</text>
<text x="38.2" y="65.1" font-size="10.1" font-weight="bold" fill="#111" text-anchor="end" textLength="15.6" lengthAdjust="spacingAndGlyphs" stroke="#111" stroke-width="0.2">180</text>
<text x="38.2" y="42" font-size="10.1" font-weight="bold" fill="#111" text-anchor="end" textLength="15.6" lengthAdjust="spacingAndGlyphs" stroke="#111" stroke-width="0.2">200</text>
<text x="38.2" y="18.9" font-size="10.1" font-weight="bold" fill="#111" text-anchor="end" textLength="15.6" lengthAdjust="spacingAndGlyphs" stroke="#111" stroke-width="0.2">220</text>
<text x="50.5" y="120" font-size="10.1" font-weight="bold" fill="#111" text-anchor="middle" textLength="5.2" lengthAdjust="spacingAndGlyphs" stroke="#111" stroke-width="0.2">0</text>
<text x="101.05" y="120" font-size="10.1" font-weight="bold" fill="#111" text-anchor="middle" textLength="10.4" lengthAdjust="spacingAndGlyphs" stroke="#111" stroke-width="0.2">30</text>
<text x="151.6" y="120" font-size="10.1" font-weight="bold" fill="#111" text-anchor="middle" textLength="10.4" lengthAdjust="spacingAndGlyphs" stroke="#111" stroke-width="0.2">60</text>
<text x="202.15" y="120" font-size="10.1" font-weight="bold" fill="#111" text-anchor="middle" textLength="10.4" lengthAdjust="spacingAndGlyphs" stroke="#111" stroke-width="0.2">90</text>
<text x="252.7" y="120" font-size="10.1" font-weight="bold" fill="#111" text-anchor="middle" textLength="15.6" lengthAdjust="spacingAndGlyphs" stroke="#111" stroke-width="0.2">120</text>
<text x="303.25" y="120" font-size="10.1" font-weight="bold" fill="#111" text-anchor="middle" textLength="15.6" lengthAdjust="spacingAndGlyphs" stroke="#111" stroke-width="0.2">150</text>
<text x="311" y="16.7" font-size="10.1" font-weight="bold" fill="#111" text-anchor="start" textLength="15.6" lengthAdjust="spacingAndGlyphs" stroke="#111" stroke-width="0.2">100</text>
<text x="311" y="35.1" font-size="10.1" font-weight="bold" fill="#111" text-anchor="start" textLength="10.4" lengthAdjust="spacingAndGlyphs" stroke="#111" stroke-width="0.2">98</text>
<text x="311" y="53.1" font-size="10.1" font-weight="bold" fill="#111" text-anchor="start" textLength="10.4" lengthAdjust="spacingAndGlyphs" stroke="#111" stroke-width="0.2">96</text>
<text x="311" y="70.9" font-size="10.1" font-weight="bold" fill="#111" text-anchor="start" textLength="10.4" lengthAdjust="spacingAndGlyphs" stroke="#111" stroke-width="0.2">94</text>
<text x="311" y="89.6" font-size="10.1" font-weight="bold" fill="#111" text-anchor="start" textLength="10.4" lengthAdjust="spacingAndGlyphs" stroke="#111" stroke-width="0.2">92</text>
<text x="311" y="111.1" font-size="10.1" font-weight="bold" fill="#111" text-anchor="start" textLength="10.4" lengthAdjust="spacingAndGlyphs" stroke="#111" stroke-width="0.2">86</text>
<text x="144.2" y="136.8" font-size="10" font-weight="bold" fill="#111" text-anchor="start" textLength="62.2" lengthAdjust="spacingAndGlyphs" stroke="#111" stroke-width="0.2">Cycle number</text>
<text x="9.3" y="105.8" font-size="10" font-weight="bold" fill="#111" text-anchor="start" textLength="82.6" lengthAdjust="spacingAndGlyphs" transform="rotate(-90 9.3 105.8)" stroke="#111" stroke-width="0.2">Capacity (mAh g<tspan font-size="7" font-weight="normal" dy="-4.3">-1</tspan><tspan dy="4.3">)</tspan></text>
<text x="338.3" y="114.6" font-size="10" font-weight="bold" fill="#111" text-anchor="start" textLength="110.5" lengthAdjust="spacingAndGlyphs" transform="rotate(-90 338.3 114.6)" stroke="#111" stroke-width="0.2">Coulombic efficiency (%)</text>
<text x="0.3" y="15" font-size="18.8" font-weight="bold" fill="#111" text-anchor="start" stroke="#111" stroke-width="0.2">a</text>
<text x="133.5" y="38.4" font-size="10" font-weight="bold" fill="#111" text-anchor="start" textLength="95" lengthAdjust="spacingAndGlyphs" stroke="#111" stroke-width="0.2">2.75-4.3 V, 100 mA g</text>
<text x="227.3" y="33.4" font-size="6.8" font-weight="normal" fill="#111" text-anchor="start" textLength="5.6" lengthAdjust="spacingAndGlyphs" stroke="#111" stroke-width="0.3">-1</text>
<circle cx="85.3" cy="79.5" r="3.5" fill="url(#gO)"/>
<circle cx="85.3" cy="93.1" r="3.5" fill="url(#gN)"/>
<text x="104.6" y="83.8" font-size="10" font-weight="bold" fill="#111" text-anchor="start" textLength="72.4" lengthAdjust="spacingAndGlyphs" stroke="#111" stroke-width="0.2">Undoped SNCM</text>
<text x="103.2" y="97.1" font-size="10" font-weight="bold" fill="#111" text-anchor="start" textLength="56.8" lengthAdjust="spacingAndGlyphs" stroke="#111" stroke-width="0.2">AZ0.3-SNCM</text>
<line x1="81.8" y1="61.3" x2="64.1" y2="61.3" stroke="#000" stroke-width="1.6" stroke-linecap="butt"/>
<path d="M52.9 61.3 L65.1 57.8 L65.7 61.3 L65.1 64.8 Z" fill="#000"/>
<line x1="272.8" y1="27.7" x2="291.8" y2="27.7" stroke="#000" stroke-width="1.6" stroke-linecap="butt"/>
<path d="M303 27.7 L290.8 24.3 L290.2 27.7 L290.8 31.1 Z" fill="#000"/>
<circle cx="396.8" cy="90.4" r="3" fill="#fff" stroke="#FF8A1C" stroke-width="0.9"/>
<circle cx="396.88" cy="16.36" r="3.1" fill="#fff" stroke="#FF8A1C" stroke-width="0.8"/>
<circle cx="398.57" cy="16.03" r="3.1" fill="#fff" stroke="#FF8A1C" stroke-width="0.8"/>
<circle cx="400.26" cy="17.54" r="3.1" fill="#fff" stroke="#FF8A1C" stroke-width="0.8"/>
<circle cx="401.94" cy="18.5" r="3.1" fill="#fff" stroke="#FF8A1C" stroke-width="0.8"/>
<circle cx="403.63" cy="14.86" r="3.1" fill="#fff" stroke="#FF8A1C" stroke-width="0.8"/>
<circle cx="405.32" cy="15.09" r="3.1" fill="#fff" stroke="#FF8A1C" stroke-width="0.8"/>
<circle cx="407.01" cy="18.23" r="3.1" fill="#fff" stroke="#FF8A1C" stroke-width="0.8"/>
<circle cx="408.7" cy="14.15" r="3.1" fill="#fff" stroke="#FF8A1C" stroke-width="0.8"/>
<circle cx="410.39" cy="17.51" r="3.1" fill="#fff" stroke="#FF8A1C" stroke-width="0.8"/>
<circle cx="412.08" cy="18.62" r="3.1" fill="#fff" stroke="#FF8A1C" stroke-width="0.8"/>
<circle cx="413.77" cy="15.39" r="3.1" fill="#fff" stroke="#FF8A1C" stroke-width="0.8"/>
<circle cx="415.46" cy="14.08" r="3.1" fill="#fff" stroke="#FF8A1C" stroke-width="0.8"/>
<circle cx="417.15" cy="17.27" r="3.1" fill="#fff" stroke="#FF8A1C" stroke-width="0.8"/>
<circle cx="418.83" cy="17.33" r="3.1" fill="#fff" stroke="#FF8A1C" stroke-width="0.8"/>
<circle cx="420.52" cy="14.42" r="3.1" fill="#fff" stroke="#FF8A1C" stroke-width="0.8"/>
<circle cx="422.21" cy="18.19" r="3.1" fill="#fff" stroke="#FF8A1C" stroke-width="0.8"/>
<circle cx="423.9" cy="13.44" r="3.1" fill="#fff" stroke="#FF8A1C" stroke-width="0.8"/>
<circle cx="425.59" cy="13.51" r="3.1" fill="#fff" stroke="#FF8A1C" stroke-width="0.8"/>
<circle cx="427.28" cy="15.45" r="3.1" fill="#fff" stroke="#FF8A1C" stroke-width="0.8"/>
<circle cx="428.97" cy="15.21" r="3.1" fill="#fff" stroke="#FF8A1C" stroke-width="0.8"/>
<circle cx="430.66" cy="16.94" r="3.1" fill="#fff" stroke="#FF8A1C" stroke-width="0.8"/>
<circle cx="432.35" cy="18.92" r="3.1" fill="#fff" stroke="#FF8A1C" stroke-width="0.8"/>
<circle cx="434.04" cy="18.98" r="3.1" fill="#fff" stroke="#FF8A1C" stroke-width="0.8"/>
<circle cx="435.73" cy="17.38" r="3.1" fill="#fff" stroke="#FF8A1C" stroke-width="0.8"/>
<circle cx="437.41" cy="18.02" r="3.1" fill="#fff" stroke="#FF8A1C" stroke-width="0.8"/>
<circle cx="439.1" cy="16.07" r="3.1" fill="#fff" stroke="#FF8A1C" stroke-width="0.8"/>
<circle cx="440.79" cy="16.18" r="3.1" fill="#fff" stroke="#FF8A1C" stroke-width="0.8"/>
<circle cx="442.48" cy="15.87" r="3.1" fill="#fff" stroke="#FF8A1C" stroke-width="0.8"/>
<circle cx="444.17" cy="22.45" r="3.1" fill="#fff" stroke="#FF8A1C" stroke-width="0.8"/>
<circle cx="445.86" cy="19.49" r="3.1" fill="#fff" stroke="#FF8A1C" stroke-width="0.8"/>
<circle cx="447.55" cy="19.38" r="3.1" fill="#fff" stroke="#FF8A1C" stroke-width="0.8"/>
<circle cx="449.24" cy="17.29" r="3.1" fill="#fff" stroke="#FF8A1C" stroke-width="0.8"/>
<circle cx="450.93" cy="17.4" r="3.1" fill="#fff" stroke="#FF8A1C" stroke-width="0.8"/>
<circle cx="452.62" cy="15.37" r="3.1" fill="#fff" stroke="#FF8A1C" stroke-width="0.8"/>
<circle cx="454.3" cy="19.25" r="3.1" fill="#fff" stroke="#FF8A1C" stroke-width="0.8"/>
<circle cx="455.99" cy="13.99" r="3.1" fill="#fff" stroke="#FF8A1C" stroke-width="0.8"/>
<circle cx="457.68" cy="14.39" r="3.1" fill="#fff" stroke="#FF8A1C" stroke-width="0.8"/>
<circle cx="459.37" cy="15.92" r="3.1" fill="#fff" stroke="#FF8A1C" stroke-width="0.8"/>
<circle cx="461.06" cy="16.43" r="3.1" fill="#fff" stroke="#FF8A1C" stroke-width="0.8"/>
<circle cx="462.75" cy="13.35" r="3.1" fill="#fff" stroke="#FF8A1C" stroke-width="0.8"/>
<circle cx="464.44" cy="17.49" r="3.1" fill="#fff" stroke="#FF8A1C" stroke-width="0.8"/>
<circle cx="466.13" cy="15.18" r="3.1" fill="#fff" stroke="#FF8A1C" stroke-width="0.8"/>
<circle cx="467.82" cy="18.37" r="3.1" fill="#fff" stroke="#FF8A1C" stroke-width="0.8"/>
<circle cx="469.5" cy="15.18" r="3.1" fill="#fff" stroke="#FF8A1C" stroke-width="0.8"/>
<circle cx="471.19" cy="16.25" r="3.1" fill="#fff" stroke="#FF8A1C" stroke-width="0.8"/>
<circle cx="472.88" cy="18.18" r="3.1" fill="#fff" stroke="#FF8A1C" stroke-width="0.8"/>
<circle cx="474.57" cy="15.97" r="3.1" fill="#fff" stroke="#FF8A1C" stroke-width="0.8"/>
<circle cx="476.26" cy="17.22" r="3.1" fill="#fff" stroke="#FF8A1C" stroke-width="0.8"/>
<circle cx="477.95" cy="16.59" r="3.1" fill="#fff" stroke="#FF8A1C" stroke-width="0.8"/>
<circle cx="479.64" cy="15.65" r="3.1" fill="#fff" stroke="#FF8A1C" stroke-width="0.8"/>
<circle cx="481.33" cy="14.06" r="3.1" fill="#fff" stroke="#FF8A1C" stroke-width="0.8"/>
<circle cx="483.02" cy="14.41" r="3.1" fill="#fff" stroke="#FF8A1C" stroke-width="0.8"/>
<circle cx="484.71" cy="16.65" r="3.1" fill="#fff" stroke="#FF8A1C" stroke-width="0.8"/>
<circle cx="486.39" cy="17.65" r="3.1" fill="#fff" stroke="#FF8A1C" stroke-width="0.8"/>
<circle cx="488.08" cy="15.77" r="3.1" fill="#fff" stroke="#FF8A1C" stroke-width="0.8"/>
<circle cx="489.77" cy="14.72" r="3.1" fill="#fff" stroke="#FF8A1C" stroke-width="0.8"/>
<circle cx="491.46" cy="16.63" r="3.1" fill="#fff" stroke="#FF8A1C" stroke-width="0.8"/>
<circle cx="493.15" cy="19.86" r="3.1" fill="#fff" stroke="#FF8A1C" stroke-width="0.8"/>
<circle cx="494.84" cy="16.51" r="3.1" fill="#fff" stroke="#FF8A1C" stroke-width="0.8"/>
<circle cx="496.53" cy="18.94" r="3.1" fill="#fff" stroke="#FF8A1C" stroke-width="0.8"/>
<circle cx="498.22" cy="15.37" r="3.1" fill="#fff" stroke="#FF8A1C" stroke-width="0.8"/>
<circle cx="499.91" cy="15.01" r="3.1" fill="#fff" stroke="#FF8A1C" stroke-width="0.8"/>
<circle cx="501.6" cy="15.71" r="3.1" fill="#fff" stroke="#FF8A1C" stroke-width="0.8"/>
<circle cx="503.28" cy="14.38" r="3.1" fill="#fff" stroke="#FF8A1C" stroke-width="0.8"/>
<circle cx="504.97" cy="17.61" r="3.1" fill="#fff" stroke="#FF8A1C" stroke-width="0.8"/>
<circle cx="506.66" cy="17" r="3.1" fill="#fff" stroke="#FF8A1C" stroke-width="0.8"/>
<circle cx="508.35" cy="16.49" r="3.1" fill="#fff" stroke="#FF8A1C" stroke-width="0.8"/>
<circle cx="510.04" cy="13.29" r="3.1" fill="#fff" stroke="#FF8A1C" stroke-width="0.8"/>
<circle cx="511.73" cy="13.24" r="3.1" fill="#fff" stroke="#FF8A1C" stroke-width="0.8"/>
<circle cx="513.42" cy="15.86" r="3.1" fill="#fff" stroke="#FF8A1C" stroke-width="0.8"/>
<circle cx="515.11" cy="13.01" r="3.1" fill="#fff" stroke="#FF8A1C" stroke-width="0.8"/>
<circle cx="516.8" cy="19.31" r="3.1" fill="#fff" stroke="#FF8A1C" stroke-width="0.8"/>
<circle cx="518.49" cy="18.21" r="3.1" fill="#fff" stroke="#FF8A1C" stroke-width="0.8"/>
<circle cx="520.17" cy="14.93" r="3.1" fill="#fff" stroke="#FF8A1C" stroke-width="0.8"/>
<circle cx="521.86" cy="18.74" r="3.1" fill="#fff" stroke="#FF8A1C" stroke-width="0.8"/>
<circle cx="523.55" cy="17.78" r="3.1" fill="#fff" stroke="#FF8A1C" stroke-width="0.8"/>
<circle cx="525.24" cy="13.72" r="3.1" fill="#fff" stroke="#FF8A1C" stroke-width="0.8"/>
<circle cx="526.93" cy="16.89" r="3.1" fill="#fff" stroke="#FF8A1C" stroke-width="0.8"/>
<circle cx="528.62" cy="17.6" r="3.1" fill="#fff" stroke="#FF8A1C" stroke-width="0.8"/>
<circle cx="530.31" cy="13.02" r="3.1" fill="#fff" stroke="#FF8A1C" stroke-width="0.8"/>
<circle cx="532" cy="18.96" r="3.1" fill="#fff" stroke="#FF8A1C" stroke-width="0.8"/>
<circle cx="533.69" cy="16.24" r="3.1" fill="#fff" stroke="#FF8A1C" stroke-width="0.8"/>
<circle cx="535.38" cy="16.5" r="3.1" fill="#fff" stroke="#FF8A1C" stroke-width="0.8"/>
<circle cx="537.07" cy="16.61" r="3.1" fill="#fff" stroke="#FF8A1C" stroke-width="0.8"/>
<circle cx="538.75" cy="16.14" r="3.1" fill="#fff" stroke="#FF8A1C" stroke-width="0.8"/>
<circle cx="540.44" cy="19.16" r="3.1" fill="#fff" stroke="#FF8A1C" stroke-width="0.8"/>
<circle cx="542.13" cy="18.72" r="3.1" fill="#fff" stroke="#FF8A1C" stroke-width="0.8"/>
<circle cx="543.82" cy="16.37" r="3.1" fill="#fff" stroke="#FF8A1C" stroke-width="0.8"/>
<circle cx="545.51" cy="18.35" r="3.1" fill="#fff" stroke="#FF8A1C" stroke-width="0.8"/>
<circle cx="547.2" cy="16.01" r="3.1" fill="#fff" stroke="#FF8A1C" stroke-width="0.8"/>
<circle cx="548.89" cy="17.28" r="3.1" fill="#fff" stroke="#FF8A1C" stroke-width="0.8"/>
<circle cx="550.58" cy="16.63" r="3.1" fill="#fff" stroke="#FF8A1C" stroke-width="0.8"/>
<circle cx="552.27" cy="20.71" r="3.1" fill="#fff" stroke="#FF8A1C" stroke-width="0.8"/>
<circle cx="553.96" cy="16.5" r="3.1" fill="#fff" stroke="#FF8A1C" stroke-width="0.8"/>
<circle cx="555.64" cy="20.05" r="3.1" fill="#fff" stroke="#FF8A1C" stroke-width="0.8"/>
<circle cx="557.33" cy="15.18" r="3.1" fill="#fff" stroke="#FF8A1C" stroke-width="0.8"/>
<circle cx="559.02" cy="10.5" r="3.1" fill="#fff" stroke="#FF8A1C" stroke-width="0.8"/>
<circle cx="560.71" cy="18.06" r="3.1" fill="#fff" stroke="#FF8A1C" stroke-width="0.8"/>
<circle cx="562.4" cy="13.06" r="3.1" fill="#fff" stroke="#FF8A1C" stroke-width="0.8"/>
<circle cx="564.09" cy="12.57" r="3.1" fill="#fff" stroke="#FF8A1C" stroke-width="0.8"/>
<circle cx="565.78" cy="17.16" r="3.1" fill="#fff" stroke="#FF8A1C" stroke-width="0.8"/>
<circle cx="567.47" cy="17.15" r="3.1" fill="#fff" stroke="#FF8A1C" stroke-width="0.8"/>
<circle cx="569.16" cy="17.85" r="3.1" fill="#fff" stroke="#FF8A1C" stroke-width="0.8"/>
<circle cx="570.85" cy="14.84" r="3.1" fill="#fff" stroke="#FF8A1C" stroke-width="0.8"/>
<circle cx="572.53" cy="13.26" r="3.1" fill="#fff" stroke="#FF8A1C" stroke-width="0.8"/>
<circle cx="574.22" cy="14.77" r="3.1" fill="#fff" stroke="#FF8A1C" stroke-width="0.8"/>
<circle cx="575.91" cy="14.14" r="3.1" fill="#fff" stroke="#FF8A1C" stroke-width="0.8"/>
<circle cx="577.6" cy="17.59" r="3.1" fill="#fff" stroke="#FF8A1C" stroke-width="0.8"/>
<circle cx="579.29" cy="13.38" r="3.1" fill="#fff" stroke="#FF8A1C" stroke-width="0.8"/>
<circle cx="580.98" cy="19.77" r="3.1" fill="#fff" stroke="#FF8A1C" stroke-width="0.8"/>
<circle cx="582.67" cy="12.63" r="3.1" fill="#fff" stroke="#FF8A1C" stroke-width="0.8"/>
<circle cx="584.36" cy="12.15" r="3.1" fill="#fff" stroke="#FF8A1C" stroke-width="0.8"/>
<circle cx="586.05" cy="21.89" r="3.1" fill="#fff" stroke="#FF8A1C" stroke-width="0.8"/>
<circle cx="587.74" cy="20.47" r="3.1" fill="#fff" stroke="#FF8A1C" stroke-width="0.8"/>
<circle cx="589.42" cy="17.51" r="3.1" fill="#fff" stroke="#FF8A1C" stroke-width="0.8"/>
<circle cx="591.11" cy="21.19" r="3.1" fill="#fff" stroke="#FF8A1C" stroke-width="0.8"/>
<circle cx="592.8" cy="19.44" r="3.1" fill="#fff" stroke="#FF8A1C" stroke-width="0.8"/>
<circle cx="594.49" cy="12.06" r="3.1" fill="#fff" stroke="#FF8A1C" stroke-width="0.8"/>
<circle cx="596.18" cy="11.18" r="3.1" fill="#fff" stroke="#FF8A1C" stroke-width="0.8"/>
<circle cx="597.87" cy="18.91" r="3.1" fill="#fff" stroke="#FF8A1C" stroke-width="0.8"/>
<circle cx="599.56" cy="21.04" r="3.1" fill="#fff" stroke="#FF8A1C" stroke-width="0.8"/>
<circle cx="601.25" cy="14.58" r="3.1" fill="#fff" stroke="#FF8A1C" stroke-width="0.8"/>
<circle cx="602.94" cy="17.89" r="3.1" fill="#fff" stroke="#FF8A1C" stroke-width="0.8"/>
<circle cx="604.62" cy="16.35" r="3.1" fill="#fff" stroke="#FF8A1C" stroke-width="0.8"/>
<circle cx="606.31" cy="15.35" r="3.1" fill="#fff" stroke="#FF8A1C" stroke-width="0.8"/>
<circle cx="608" cy="16.17" r="3.1" fill="#fff" stroke="#FF8A1C" stroke-width="0.8"/>
<circle cx="609.69" cy="15.95" r="3.1" fill="#fff" stroke="#FF8A1C" stroke-width="0.8"/>
<circle cx="611.38" cy="14.83" r="3.1" fill="#fff" stroke="#FF8A1C" stroke-width="0.8"/>
<circle cx="613.07" cy="21.03" r="3.1" fill="#fff" stroke="#FF8A1C" stroke-width="0.8"/>
<circle cx="614.76" cy="16.4" r="3.1" fill="#fff" stroke="#FF8A1C" stroke-width="0.8"/>
<circle cx="616.45" cy="19.47" r="3.1" fill="#fff" stroke="#FF8A1C" stroke-width="0.8"/>
<circle cx="618.14" cy="17.2" r="3.1" fill="#fff" stroke="#FF8A1C" stroke-width="0.8"/>
<circle cx="619.83" cy="8.23" r="3.1" fill="#fff" stroke="#FF8A1C" stroke-width="0.8"/>
<circle cx="621.51" cy="18.5" r="3.1" fill="#fff" stroke="#FF8A1C" stroke-width="0.8"/>
<circle cx="623.2" cy="21.3" r="3.1" fill="#fff" stroke="#FF8A1C" stroke-width="0.8"/>
<circle cx="624.89" cy="15.39" r="3.1" fill="#fff" stroke="#FF8A1C" stroke-width="0.8"/>
<circle cx="626.58" cy="17.99" r="3.1" fill="#fff" stroke="#FF8A1C" stroke-width="0.8"/>
<circle cx="628.27" cy="15.41" r="3.1" fill="#fff" stroke="#FF8A1C" stroke-width="0.8"/>
<circle cx="629.96" cy="12.71" r="3.1" fill="#fff" stroke="#FF8A1C" stroke-width="0.8"/>
<circle cx="631.65" cy="19.25" r="3.1" fill="#fff" stroke="#FF8A1C" stroke-width="0.8"/>
<circle cx="633.34" cy="18.38" r="3.1" fill="#fff" stroke="#FF8A1C" stroke-width="0.8"/>
<circle cx="635.03" cy="14.39" r="3.1" fill="#fff" stroke="#FF8A1C" stroke-width="0.8"/>
<circle cx="636.72" cy="20.37" r="3.1" fill="#fff" stroke="#FF8A1C" stroke-width="0.8"/>
<circle cx="638.4" cy="17.21" r="3.1" fill="#fff" stroke="#FF8A1C" stroke-width="0.8"/>
<circle cx="640.09" cy="16.45" r="3.1" fill="#fff" stroke="#FF8A1C" stroke-width="0.8"/>
<circle cx="641.78" cy="16.27" r="3.1" fill="#fff" stroke="#FF8A1C" stroke-width="0.8"/>
<circle cx="643.47" cy="15.18" r="3.1" fill="#fff" stroke="#FF8A1C" stroke-width="0.8"/>
<circle cx="645.16" cy="11.52" r="3.1" fill="#fff" stroke="#FF8A1C" stroke-width="0.8"/>
<circle cx="646.85" cy="14.46" r="3.1" fill="#fff" stroke="#FF8A1C" stroke-width="0.8"/>
<circle cx="396.88" cy="31.62" r="3.1" fill="#fff" stroke="#4c4cb8" stroke-width="0.85"/>
<circle cx="398.57" cy="29.32" r="3.1" fill="#fff" stroke="#4c4cb8" stroke-width="0.85"/>
<circle cx="400.26" cy="25.44" r="3.1" fill="#fff" stroke="#4c4cb8" stroke-width="0.85"/>
<circle cx="401.94" cy="22.55" r="3.1" fill="#fff" stroke="#4c4cb8" stroke-width="0.85"/>
<circle cx="403.63" cy="20.19" r="3.1" fill="#fff" stroke="#4c4cb8" stroke-width="0.85"/>
<circle cx="405.32" cy="18.74" r="3.1" fill="#fff" stroke="#4c4cb8" stroke-width="0.85"/>
<circle cx="407.01" cy="17.49" r="3.1" fill="#fff" stroke="#4c4cb8" stroke-width="0.85"/>
<circle cx="408.7" cy="17.01" r="3.1" fill="#fff" stroke="#4c4cb8" stroke-width="0.85"/>
<circle cx="410.39" cy="16.53" r="3.1" fill="#fff" stroke="#4c4cb8" stroke-width="0.85"/>
<circle cx="412.08" cy="16.93" r="3.1" fill="#fff" stroke="#4c4cb8" stroke-width="0.85"/>
<circle cx="413.77" cy="16.91" r="3.1" fill="#fff" stroke="#4c4cb8" stroke-width="0.85"/>
<circle cx="415.46" cy="16.97" r="3.1" fill="#fff" stroke="#4c4cb8" stroke-width="0.85"/>
<circle cx="417.15" cy="16.63" r="3.1" fill="#fff" stroke="#4c4cb8" stroke-width="0.85"/>
<circle cx="418.83" cy="16.97" r="3.1" fill="#fff" stroke="#4c4cb8" stroke-width="0.85"/>
<circle cx="420.52" cy="17.18" r="3.1" fill="#fff" stroke="#4c4cb8" stroke-width="0.85"/>
<circle cx="422.21" cy="17.06" r="3.1" fill="#fff" stroke="#4c4cb8" stroke-width="0.85"/>
<circle cx="423.9" cy="16.97" r="3.1" fill="#fff" stroke="#4c4cb8" stroke-width="0.85"/>
<circle cx="425.59" cy="16.5" r="3.1" fill="#fff" stroke="#4c4cb8" stroke-width="0.85"/>
<circle cx="427.28" cy="17.13" r="3.1" fill="#fff" stroke="#4c4cb8" stroke-width="0.85"/>
<circle cx="428.97" cy="17.19" r="3.1" fill="#fff" stroke="#4c4cb8" stroke-width="0.85"/>
<circle cx="430.66" cy="16.56" r="3.1" fill="#fff" stroke="#4c4cb8" stroke-width="0.85"/>
<circle cx="432.35" cy="16.62" r="3.1" fill="#fff" stroke="#4c4cb8" stroke-width="0.85"/>
<circle cx="434.04" cy="16.19" r="3.1" fill="#fff" stroke="#4c4cb8" stroke-width="0.85"/>
<circle cx="435.73" cy="17.14" r="3.1" fill="#fff" stroke="#4c4cb8" stroke-width="0.85"/>
<circle cx="437.41" cy="16.63" r="3.1" fill="#fff" stroke="#4c4cb8" stroke-width="0.85"/>
<circle cx="439.1" cy="16.64" r="3.1" fill="#fff" stroke="#4c4cb8" stroke-width="0.85"/>
<circle cx="440.79" cy="17.18" r="3.1" fill="#fff" stroke="#4c4cb8" stroke-width="0.85"/>
<circle cx="442.48" cy="15.8" r="3.1" fill="#fff" stroke="#4c4cb8" stroke-width="0.85"/>
<circle cx="444.17" cy="16.9" r="3.1" fill="#fff" stroke="#4c4cb8" stroke-width="0.85"/>
<circle cx="445.86" cy="17.08" r="3.1" fill="#fff" stroke="#4c4cb8" stroke-width="0.85"/>
<circle cx="447.55" cy="16.52" r="3.1" fill="#fff" stroke="#4c4cb8" stroke-width="0.85"/>
<circle cx="449.24" cy="16.98" r="3.1" fill="#fff" stroke="#4c4cb8" stroke-width="0.85"/>
<circle cx="450.93" cy="16.31" r="3.1" fill="#fff" stroke="#4c4cb8" stroke-width="0.85"/>
<circle cx="452.62" cy="16.71" r="3.1" fill="#fff" stroke="#4c4cb8" stroke-width="0.85"/>
<circle cx="454.3" cy="17.04" r="3.1" fill="#fff" stroke="#4c4cb8" stroke-width="0.85"/>
<circle cx="455.99" cy="17.14" r="3.1" fill="#fff" stroke="#4c4cb8" stroke-width="0.85"/>
<circle cx="457.68" cy="16.15" r="3.1" fill="#fff" stroke="#4c4cb8" stroke-width="0.85"/>
<circle cx="459.37" cy="16.81" r="3.1" fill="#fff" stroke="#4c4cb8" stroke-width="0.85"/>
<circle cx="461.06" cy="16.06" r="3.1" fill="#fff" stroke="#4c4cb8" stroke-width="0.85"/>
<circle cx="462.75" cy="16.54" r="3.1" fill="#fff" stroke="#4c4cb8" stroke-width="0.85"/>
<circle cx="464.44" cy="15.85" r="3.1" fill="#fff" stroke="#4c4cb8" stroke-width="0.85"/>
<circle cx="466.13" cy="16.78" r="3.1" fill="#fff" stroke="#4c4cb8" stroke-width="0.85"/>
<circle cx="467.82" cy="16.85" r="3.1" fill="#fff" stroke="#4c4cb8" stroke-width="0.85"/>
<circle cx="469.5" cy="16.83" r="3.1" fill="#fff" stroke="#4c4cb8" stroke-width="0.85"/>
<circle cx="471.19" cy="16.02" r="3.1" fill="#fff" stroke="#4c4cb8" stroke-width="0.85"/>
<circle cx="472.88" cy="16.3" r="3.1" fill="#fff" stroke="#4c4cb8" stroke-width="0.85"/>
<circle cx="474.57" cy="16.71" r="3.1" fill="#fff" stroke="#4c4cb8" stroke-width="0.85"/>
<circle cx="476.26" cy="17.08" r="3.1" fill="#fff" stroke="#4c4cb8" stroke-width="0.85"/>
<circle cx="477.95" cy="16.22" r="3.1" fill="#fff" stroke="#4c4cb8" stroke-width="0.85"/>
<circle cx="479.64" cy="15.8" r="3.1" fill="#fff" stroke="#4c4cb8" stroke-width="0.85"/>
<circle cx="481.33" cy="16.35" r="3.1" fill="#fff" stroke="#4c4cb8" stroke-width="0.85"/>
<circle cx="483.02" cy="17.21" r="3.1" fill="#fff" stroke="#4c4cb8" stroke-width="0.85"/>
<circle cx="484.71" cy="17.17" r="3.1" fill="#fff" stroke="#4c4cb8" stroke-width="0.85"/>
<circle cx="486.39" cy="17.09" r="3.1" fill="#fff" stroke="#4c4cb8" stroke-width="0.85"/>
<circle cx="488.08" cy="16.97" r="3.1" fill="#fff" stroke="#4c4cb8" stroke-width="0.85"/>
<circle cx="489.77" cy="17.16" r="3.1" fill="#fff" stroke="#4c4cb8" stroke-width="0.85"/>
<circle cx="491.46" cy="17.14" r="3.1" fill="#fff" stroke="#4c4cb8" stroke-width="0.85"/>
<circle cx="493.15" cy="16.26" r="3.1" fill="#fff" stroke="#4c4cb8" stroke-width="0.85"/>
<circle cx="494.84" cy="15.9" r="3.1" fill="#fff" stroke="#4c4cb8" stroke-width="0.85"/>
<circle cx="496.53" cy="16.92" r="3.1" fill="#fff" stroke="#4c4cb8" stroke-width="0.85"/>
<circle cx="498.22" cy="15.79" r="3.1" fill="#fff" stroke="#4c4cb8" stroke-width="0.85"/>
<circle cx="499.91" cy="16.52" r="3.1" fill="#fff" stroke="#4c4cb8" stroke-width="0.85"/>
<circle cx="501.6" cy="16.04" r="3.1" fill="#fff" stroke="#4c4cb8" stroke-width="0.85"/>
<circle cx="503.28" cy="15.87" r="3.1" fill="#fff" stroke="#4c4cb8" stroke-width="0.85"/>
<circle cx="504.97" cy="15.84" r="3.1" fill="#fff" stroke="#4c4cb8" stroke-width="0.85"/>
<circle cx="506.66" cy="17.17" r="3.1" fill="#fff" stroke="#4c4cb8" stroke-width="0.85"/>
<circle cx="508.35" cy="16.77" r="3.1" fill="#fff" stroke="#4c4cb8" stroke-width="0.85"/>
<circle cx="510.04" cy="16.33" r="3.1" fill="#fff" stroke="#4c4cb8" stroke-width="0.85"/>
<circle cx="511.73" cy="15.83" r="3.1" fill="#fff" stroke="#4c4cb8" stroke-width="0.85"/>
<circle cx="513.42" cy="17.09" r="3.1" fill="#fff" stroke="#4c4cb8" stroke-width="0.85"/>
<circle cx="515.11" cy="16.79" r="3.1" fill="#fff" stroke="#4c4cb8" stroke-width="0.85"/>
<circle cx="516.8" cy="15.97" r="3.1" fill="#fff" stroke="#4c4cb8" stroke-width="0.85"/>
<circle cx="518.49" cy="17.05" r="3.1" fill="#fff" stroke="#4c4cb8" stroke-width="0.85"/>
<circle cx="520.17" cy="16.65" r="3.1" fill="#fff" stroke="#4c4cb8" stroke-width="0.85"/>
<circle cx="521.86" cy="16.73" r="3.1" fill="#fff" stroke="#4c4cb8" stroke-width="0.85"/>
<circle cx="523.55" cy="16.22" r="3.1" fill="#fff" stroke="#4c4cb8" stroke-width="0.85"/>
<circle cx="525.24" cy="15.86" r="3.1" fill="#fff" stroke="#4c4cb8" stroke-width="0.85"/>
<circle cx="526.93" cy="16.96" r="3.1" fill="#fff" stroke="#4c4cb8" stroke-width="0.85"/>
<circle cx="528.62" cy="16.13" r="3.1" fill="#fff" stroke="#4c4cb8" stroke-width="0.85"/>
<circle cx="530.31" cy="16.14" r="3.1" fill="#fff" stroke="#4c4cb8" stroke-width="0.85"/>
<circle cx="532" cy="15.99" r="3.1" fill="#fff" stroke="#4c4cb8" stroke-width="0.85"/>
<circle cx="533.69" cy="10.07" r="3.1" fill="#fff" stroke="#4c4cb8" stroke-width="0.85"/>
<circle cx="535.38" cy="15.86" r="3.1" fill="#fff" stroke="#4c4cb8" stroke-width="0.85"/>
<circle cx="537.07" cy="16.69" r="3.1" fill="#fff" stroke="#4c4cb8" stroke-width="0.85"/>
<circle cx="538.75" cy="16.61" r="3.1" fill="#fff" stroke="#4c4cb8" stroke-width="0.85"/>
<circle cx="540.44" cy="16.88" r="3.1" fill="#fff" stroke="#4c4cb8" stroke-width="0.85"/>
<circle cx="542.13" cy="16.07" r="3.1" fill="#fff" stroke="#4c4cb8" stroke-width="0.85"/>
<circle cx="543.82" cy="16.51" r="3.1" fill="#fff" stroke="#4c4cb8" stroke-width="0.85"/>
<circle cx="545.51" cy="16.82" r="3.1" fill="#fff" stroke="#4c4cb8" stroke-width="0.85"/>
<circle cx="547.2" cy="16.97" r="3.1" fill="#fff" stroke="#4c4cb8" stroke-width="0.85"/>
<circle cx="548.89" cy="16.16" r="3.1" fill="#fff" stroke="#4c4cb8" stroke-width="0.85"/>
<circle cx="550.58" cy="16.33" r="3.1" fill="#fff" stroke="#4c4cb8" stroke-width="0.85"/>
<circle cx="552.27" cy="16.18" r="3.1" fill="#fff" stroke="#4c4cb8" stroke-width="0.85"/>
<circle cx="553.96" cy="16.65" r="3.1" fill="#fff" stroke="#4c4cb8" stroke-width="0.85"/>
<circle cx="555.64" cy="16.5" r="3.1" fill="#fff" stroke="#4c4cb8" stroke-width="0.85"/>
<circle cx="557.33" cy="16.99" r="3.1" fill="#fff" stroke="#4c4cb8" stroke-width="0.85"/>
<circle cx="559.02" cy="16.18" r="3.1" fill="#fff" stroke="#4c4cb8" stroke-width="0.85"/>
<circle cx="560.71" cy="17.18" r="3.1" fill="#fff" stroke="#4c4cb8" stroke-width="0.85"/>
<circle cx="562.4" cy="16.53" r="3.1" fill="#fff" stroke="#4c4cb8" stroke-width="0.85"/>
<circle cx="564.09" cy="16.11" r="3.1" fill="#fff" stroke="#4c4cb8" stroke-width="0.85"/>
<circle cx="565.78" cy="16.22" r="3.1" fill="#fff" stroke="#4c4cb8" stroke-width="0.85"/>
<circle cx="567.47" cy="17.08" r="3.1" fill="#fff" stroke="#4c4cb8" stroke-width="0.85"/>
<circle cx="569.16" cy="16.87" r="3.1" fill="#fff" stroke="#4c4cb8" stroke-width="0.85"/>
<circle cx="570.85" cy="15.98" r="3.1" fill="#fff" stroke="#4c4cb8" stroke-width="0.85"/>
<circle cx="572.53" cy="16.28" r="3.1" fill="#fff" stroke="#4c4cb8" stroke-width="0.85"/>
<circle cx="574.22" cy="15.93" r="3.1" fill="#fff" stroke="#4c4cb8" stroke-width="0.85"/>
<circle cx="575.91" cy="15.94" r="3.1" fill="#fff" stroke="#4c4cb8" stroke-width="0.85"/>
<circle cx="577.6" cy="16.56" r="3.1" fill="#fff" stroke="#4c4cb8" stroke-width="0.85"/>
<circle cx="579.29" cy="15.9" r="3.1" fill="#fff" stroke="#4c4cb8" stroke-width="0.85"/>
<circle cx="580.98" cy="16.14" r="3.1" fill="#fff" stroke="#4c4cb8" stroke-width="0.85"/>
<circle cx="582.67" cy="16.73" r="3.1" fill="#fff" stroke="#4c4cb8" stroke-width="0.85"/>
<circle cx="584.36" cy="16.68" r="3.1" fill="#fff" stroke="#4c4cb8" stroke-width="0.85"/>
<circle cx="586.05" cy="17.11" r="3.1" fill="#fff" stroke="#4c4cb8" stroke-width="0.85"/>
<circle cx="587.74" cy="16.63" r="3.1" fill="#fff" stroke="#4c4cb8" stroke-width="0.85"/>
<circle cx="589.42" cy="15.82" r="3.1" fill="#fff" stroke="#4c4cb8" stroke-width="0.85"/>
<circle cx="591.11" cy="17.06" r="3.1" fill="#fff" stroke="#4c4cb8" stroke-width="0.85"/>
<circle cx="592.8" cy="16.38" r="3.1" fill="#fff" stroke="#4c4cb8" stroke-width="0.85"/>
<circle cx="594.49" cy="17.06" r="3.1" fill="#fff" stroke="#4c4cb8" stroke-width="0.85"/>
<circle cx="596.18" cy="17.1" r="3.1" fill="#fff" stroke="#4c4cb8" stroke-width="0.85"/>
<circle cx="597.87" cy="16.27" r="3.1" fill="#fff" stroke="#4c4cb8" stroke-width="0.85"/>
<circle cx="599.56" cy="16.87" r="3.1" fill="#fff" stroke="#4c4cb8" stroke-width="0.85"/>
<circle cx="601.25" cy="17.15" r="3.1" fill="#fff" stroke="#4c4cb8" stroke-width="0.85"/>
<circle cx="602.94" cy="16.99" r="3.1" fill="#fff" stroke="#4c4cb8" stroke-width="0.85"/>
<circle cx="604.62" cy="16.27" r="3.1" fill="#fff" stroke="#4c4cb8" stroke-width="0.85"/>
<circle cx="606.31" cy="16.36" r="3.1" fill="#fff" stroke="#4c4cb8" stroke-width="0.85"/>
<circle cx="608" cy="17.2" r="3.1" fill="#fff" stroke="#4c4cb8" stroke-width="0.85"/>
<circle cx="609.69" cy="16.88" r="3.1" fill="#fff" stroke="#4c4cb8" stroke-width="0.85"/>
<circle cx="611.38" cy="15.8" r="3.1" fill="#fff" stroke="#4c4cb8" stroke-width="0.85"/>
<circle cx="613.07" cy="16.9" r="3.1" fill="#fff" stroke="#4c4cb8" stroke-width="0.85"/>
<circle cx="614.76" cy="16.39" r="3.1" fill="#fff" stroke="#4c4cb8" stroke-width="0.85"/>
<circle cx="616.45" cy="16.6" r="3.1" fill="#fff" stroke="#4c4cb8" stroke-width="0.85"/>
<circle cx="618.14" cy="16.07" r="3.1" fill="#fff" stroke="#4c4cb8" stroke-width="0.85"/>
<circle cx="619.83" cy="16.33" r="3.1" fill="#fff" stroke="#4c4cb8" stroke-width="0.85"/>
<circle cx="621.51" cy="16.06" r="3.1" fill="#fff" stroke="#4c4cb8" stroke-width="0.85"/>
<circle cx="623.2" cy="16.43" r="3.1" fill="#fff" stroke="#4c4cb8" stroke-width="0.85"/>
<circle cx="624.89" cy="16.94" r="3.1" fill="#fff" stroke="#4c4cb8" stroke-width="0.85"/>
<circle cx="626.58" cy="16.96" r="3.1" fill="#fff" stroke="#4c4cb8" stroke-width="0.85"/>
<circle cx="628.27" cy="17.1" r="3.1" fill="#fff" stroke="#4c4cb8" stroke-width="0.85"/>
<circle cx="629.96" cy="16.01" r="3.1" fill="#fff" stroke="#4c4cb8" stroke-width="0.85"/>
<circle cx="631.65" cy="17.05" r="3.1" fill="#fff" stroke="#4c4cb8" stroke-width="0.85"/>
<circle cx="633.34" cy="17.18" r="3.1" fill="#fff" stroke="#4c4cb8" stroke-width="0.85"/>
<circle cx="635.03" cy="15.8" r="3.1" fill="#fff" stroke="#4c4cb8" stroke-width="0.85"/>
<circle cx="636.72" cy="16.93" r="3.1" fill="#fff" stroke="#4c4cb8" stroke-width="0.85"/>
<circle cx="638.4" cy="15.91" r="3.1" fill="#fff" stroke="#4c4cb8" stroke-width="0.85"/>
<circle cx="640.09" cy="13.73" r="3.1" fill="#fff" stroke="#4c4cb8" stroke-width="0.85"/>
<circle cx="641.78" cy="16.54" r="3.1" fill="#fff" stroke="#4c4cb8" stroke-width="0.85"/>
<circle cx="643.47" cy="16.89" r="3.1" fill="#fff" stroke="#4c4cb8" stroke-width="0.85"/>
<circle cx="645.16" cy="16" r="3.1" fill="#fff" stroke="#4c4cb8" stroke-width="0.85"/>
<circle cx="646.85" cy="17.86" r="3.1" fill="#fff" stroke="#4c4cb8" stroke-width="0.85"/>
<circle cx="395.19" cy="43.82" r="3.3" fill="url(#gO)"/>
<circle cx="396.88" cy="48.92" r="3.3" fill="url(#gO)"/>
<circle cx="398.57" cy="49.27" r="3.3" fill="url(#gO)"/>
<circle cx="400.26" cy="49.96" r="3.3" fill="url(#gO)"/>
<circle cx="401.94" cy="50.23" r="3.3" fill="url(#gO)"/>
<circle cx="403.63" cy="50.73" r="3.3" fill="url(#gO)"/>
<circle cx="405.32" cy="51.32" r="3.3" fill="url(#gO)"/>
<circle cx="407.01" cy="51.33" r="3.3" fill="url(#gO)"/>
<circle cx="408.7" cy="51.87" r="3.3" fill="url(#gO)"/>
<circle cx="410.39" cy="52.16" r="3.3" fill="url(#gO)"/>
<circle cx="412.08" cy="52.91" r="3.3" fill="url(#gO)"/>
<circle cx="413.77" cy="53.15" r="3.3" fill="url(#gO)"/>
<circle cx="415.46" cy="53.61" r="3.3" fill="url(#gO)"/>
<circle cx="417.15" cy="53.89" r="3.3" fill="url(#gO)"/>
<circle cx="418.83" cy="54.67" r="3.3" fill="url(#gO)"/>
<circle cx="420.52" cy="54.94" r="3.3" fill="url(#gO)"/>
<circle cx="422.21" cy="55.29" r="3.3" fill="url(#gO)"/>
<circle cx="423.9" cy="55.93" r="3.3" fill="url(#gO)"/>
<circle cx="425.59" cy="56.09" r="3.3" fill="url(#gO)"/>
<circle cx="427.28" cy="56.42" r="3.3" fill="url(#gO)"/>
<circle cx="428.97" cy="57.01" r="3.3" fill="url(#gO)"/>
<circle cx="430.66" cy="57.31" r="3.3" fill="url(#gO)"/>
<circle cx="432.35" cy="57.75" r="3.3" fill="url(#gO)"/>
<circle cx="434.04" cy="58.39" r="3.3" fill="url(#gO)"/>
<circle cx="435.73" cy="58.73" r="3.3" fill="url(#gO)"/>
<circle cx="437.41" cy="58.8" r="3.3" fill="url(#gO)"/>
<circle cx="439.1" cy="59.58" r="3.3" fill="url(#gO)"/>
<circle cx="440.79" cy="59.95" r="3.3" fill="url(#gO)"/>
<circle cx="442.48" cy="60.56" r="3.3" fill="url(#gO)"/>
<circle cx="444.17" cy="60.91" r="3.3" fill="url(#gO)"/>
<circle cx="445.86" cy="61.34" r="3.3" fill="url(#gO)"/>
<circle cx="447.55" cy="61.32" r="3.3" fill="url(#gO)"/>
<circle cx="449.24" cy="61.83" r="3.3" fill="url(#gO)"/>
<circle cx="450.93" cy="62.15" r="3.3" fill="url(#gO)"/>
<circle cx="452.62" cy="62.49" r="3.3" fill="url(#gO)"/>
<circle cx="454.3" cy="63.09" r="3.3" fill="url(#gO)"/>
<circle cx="455.99" cy="63.32" r="3.3" fill="url(#gO)"/>
<circle cx="457.68" cy="63.93" r="3.3" fill="url(#gO)"/>
<circle cx="459.37" cy="64.39" r="3.3" fill="url(#gO)"/>
<circle cx="461.06" cy="64.51" r="3.3" fill="url(#gO)"/>
<circle cx="462.75" cy="64.93" r="3.3" fill="url(#gO)"/>
<circle cx="464.44" cy="65.3" r="3.3" fill="url(#gO)"/>
<circle cx="466.13" cy="65.95" r="3.3" fill="url(#gO)"/>
<circle cx="467.82" cy="66.2" r="3.3" fill="url(#gO)"/>
<circle cx="469.5" cy="66.79" r="3.3" fill="url(#gO)"/>
<circle cx="471.19" cy="66.78" r="3.3" fill="url(#gO)"/>
<circle cx="472.88" cy="67.13" r="3.3" fill="url(#gO)"/>
<circle cx="474.57" cy="67.78" r="3.3" fill="url(#gO)"/>
<circle cx="476.26" cy="67.74" r="3.3" fill="url(#gO)"/>
<circle cx="477.95" cy="68.46" r="3.3" fill="url(#gO)"/>
<circle cx="479.64" cy="68.81" r="3.3" fill="url(#gO)"/>
<circle cx="481.33" cy="68.78" r="3.3" fill="url(#gO)"/>
<circle cx="483.02" cy="69.32" r="3.3" fill="url(#gO)"/>
<circle cx="484.71" cy="69.51" r="3.3" fill="url(#gO)"/>
<circle cx="486.39" cy="69.75" r="3.3" fill="url(#gO)"/>
<circle cx="488.08" cy="70.38" r="3.3" fill="url(#gO)"/>
<circle cx="489.77" cy="70.31" r="3.3" fill="url(#gO)"/>
<circle cx="491.46" cy="70.87" r="3.3" fill="url(#gO)"/>
<circle cx="493.15" cy="71.1" r="3.3" fill="url(#gO)"/>
<circle cx="494.84" cy="71.45" r="3.3" fill="url(#gO)"/>
<circle cx="496.53" cy="71.49" r="3.3" fill="url(#gO)"/>
<circle cx="498.22" cy="71.74" r="3.3" fill="url(#gO)"/>
<circle cx="499.91" cy="72.25" r="3.3" fill="url(#gO)"/>
<circle cx="501.6" cy="72.6" r="3.3" fill="url(#gO)"/>
<circle cx="503.28" cy="72.75" r="3.3" fill="url(#gO)"/>
<circle cx="504.97" cy="72.94" r="3.3" fill="url(#gO)"/>
<circle cx="506.66" cy="73.37" r="3.3" fill="url(#gO)"/>
<circle cx="508.35" cy="73.59" r="3.3" fill="url(#gO)"/>
<circle cx="510.04" cy="73.51" r="3.3" fill="url(#gO)"/>
<circle cx="511.73" cy="73.8" r="3.3" fill="url(#gO)"/>
<circle cx="513.42" cy="73.9" r="3.3" fill="url(#gO)"/>
<circle cx="515.11" cy="74.15" r="3.3" fill="url(#gO)"/>
<circle cx="516.8" cy="74.46" r="3.3" fill="url(#gO)"/>
<circle cx="518.49" cy="74.99" r="3.3" fill="url(#gO)"/>
<circle cx="520.17" cy="75.36" r="3.3" fill="url(#gO)"/>
<circle cx="521.86" cy="75.46" r="3.3" fill="url(#gO)"/>
<circle cx="523.55" cy="75.57" r="3.3" fill="url(#gO)"/>
<circle cx="525.24" cy="75.72" r="3.3" fill="url(#gO)"/>
<circle cx="526.93" cy="75.89" r="3.3" fill="url(#gO)"/>
<circle cx="528.62" cy="76.18" r="3.3" fill="url(#gO)"/>
<circle cx="530.31" cy="76.09" r="3.3" fill="url(#gO)"/>
<circle cx="532" cy="76.59" r="3.3" fill="url(#gO)"/>
<circle cx="533.69" cy="76.68" r="3.3" fill="url(#gO)"/>
<circle cx="535.38" cy="76.63" r="3.3" fill="url(#gO)"/>
<circle cx="537.07" cy="76.86" r="3.3" fill="url(#gO)"/>
<circle cx="538.75" cy="77.32" r="3.3" fill="url(#gO)"/>
<circle cx="540.44" cy="77.54" r="3.3" fill="url(#gO)"/>
<circle cx="542.13" cy="77.41" r="3.3" fill="url(#gO)"/>
<circle cx="543.82" cy="78.03" r="3.3" fill="url(#gO)"/>
<circle cx="545.51" cy="78.15" r="3.3" fill="url(#gO)"/>
<circle cx="547.2" cy="78.12" r="3.3" fill="url(#gO)"/>
<circle cx="548.89" cy="78.3" r="3.3" fill="url(#gO)"/>
<circle cx="550.58" cy="78.69" r="3.3" fill="url(#gO)"/>
<circle cx="552.27" cy="78.93" r="3.3" fill="url(#gO)"/>
<circle cx="553.96" cy="79.04" r="3.3" fill="url(#gO)"/>
<circle cx="555.64" cy="78.91" r="3.3" fill="url(#gO)"/>
<circle cx="557.33" cy="79.26" r="3.3" fill="url(#gO)"/>
<circle cx="559.02" cy="79.17" r="3.3" fill="url(#gO)"/>
<circle cx="560.71" cy="79.46" r="3.3" fill="url(#gO)"/>
<circle cx="562.4" cy="79.54" r="3.3" fill="url(#gO)"/>
<circle cx="564.09" cy="80.27" r="3.3" fill="url(#gO)"/>
<circle cx="565.78" cy="80.41" r="3.3" fill="url(#gO)"/>
<circle cx="567.47" cy="80.72" r="3.3" fill="url(#gO)"/>
<circle cx="569.16" cy="80.71" r="3.3" fill="url(#gO)"/>
<circle cx="570.85" cy="80.98" r="3.3" fill="url(#gO)"/>
<circle cx="572.53" cy="81.35" r="3.3" fill="url(#gO)"/>
<circle cx="574.22" cy="81.3" r="3.3" fill="url(#gO)"/>
<circle cx="575.91" cy="81.76" r="3.3" fill="url(#gO)"/>
<circle cx="577.6" cy="81.86" r="3.3" fill="url(#gO)"/>
<circle cx="579.29" cy="82.11" r="3.3" fill="url(#gO)"/>
<circle cx="580.98" cy="82.03" r="3.3" fill="url(#gO)"/>
<circle cx="582.67" cy="82.46" r="3.3" fill="url(#gO)"/>
<circle cx="584.36" cy="82.76" r="3.3" fill="url(#gO)"/>
<circle cx="586.05" cy="83.09" r="3.3" fill="url(#gO)"/>
<circle cx="587.74" cy="83.1" r="3.3" fill="url(#gO)"/>
<circle cx="589.42" cy="83.21" r="3.3" fill="url(#gO)"/>
<circle cx="591.11" cy="83.4" r="3.3" fill="url(#gO)"/>
<circle cx="592.8" cy="83.49" r="3.3" fill="url(#gO)"/>
<circle cx="594.49" cy="83.77" r="3.3" fill="url(#gO)"/>
<circle cx="596.18" cy="84.29" r="3.3" fill="url(#gO)"/>
<circle cx="597.87" cy="84.5" r="3.3" fill="url(#gO)"/>
<circle cx="599.56" cy="84.3" r="3.3" fill="url(#gO)"/>
<circle cx="601.25" cy="84.43" r="3.3" fill="url(#gO)"/>
<circle cx="602.94" cy="84.73" r="3.3" fill="url(#gO)"/>
<circle cx="604.62" cy="84.7" r="3.3" fill="url(#gO)"/>
<circle cx="606.31" cy="84.99" r="3.3" fill="url(#gO)"/>
<circle cx="608" cy="85.29" r="3.3" fill="url(#gO)"/>
<circle cx="609.69" cy="85.49" r="3.3" fill="url(#gO)"/>
<circle cx="611.38" cy="85.72" r="3.3" fill="url(#gO)"/>
<circle cx="613.07" cy="85.52" r="3.3" fill="url(#gO)"/>
<circle cx="614.76" cy="85.53" r="3.3" fill="url(#gO)"/>
<circle cx="616.45" cy="85.67" r="3.3" fill="url(#gO)"/>
<circle cx="618.14" cy="86.06" r="3.3" fill="url(#gO)"/>
<circle cx="619.83" cy="86.09" r="3.3" fill="url(#gO)"/>
<circle cx="621.51" cy="86.09" r="3.3" fill="url(#gO)"/>
<circle cx="623.2" cy="86.3" r="3.3" fill="url(#gO)"/>
<circle cx="624.89" cy="86.56" r="3.3" fill="url(#gO)"/>
<circle cx="626.58" cy="86.81" r="3.3" fill="url(#gO)"/>
<circle cx="628.27" cy="86.9" r="3.3" fill="url(#gO)"/>
<circle cx="629.96" cy="87.23" r="3.3" fill="url(#gO)"/>
<circle cx="631.65" cy="87.37" r="3.3" fill="url(#gO)"/>
<circle cx="633.34" cy="87.24" r="3.3" fill="url(#gO)"/>
<circle cx="635.03" cy="87.22" r="3.3" fill="url(#gO)"/>
<circle cx="636.72" cy="87.61" r="3.3" fill="url(#gO)"/>
<circle cx="638.4" cy="87.83" r="3.3" fill="url(#gO)"/>
<circle cx="640.09" cy="88" r="3.3" fill="url(#gO)"/>
<circle cx="641.78" cy="88.09" r="3.3" fill="url(#gO)"/>
<circle cx="643.47" cy="88.05" r="3.3" fill="url(#gO)"/>
<circle cx="645.16" cy="88.38" r="3.3" fill="url(#gO)"/>
<circle cx="646.85" cy="88.25" r="3.3" fill="url(#gO)"/>
<path d="M393.89 42.22 l0.9 1.9M395.58 47.32 l0.9 1.9M397.27 47.67 l0.9 1.9M398.96 48.36 l0.9 1.9M400.64 48.63 l0.9 1.9M402.33 49.13 l0.9 1.9M404.02 49.72 l0.9 1.9M405.71 49.73 l0.9 1.9M407.4 50.27 l0.9 1.9M409.09 50.56 l0.9 1.9M410.78 51.31 l0.9 1.9M412.47 51.55 l0.9 1.9M414.16 52.01 l0.9 1.9M415.85 52.29 l0.9 1.9M417.53 53.07 l0.9 1.9M419.22 53.34 l0.9 1.9M420.91 53.69 l0.9 1.9M422.6 54.33 l0.9 1.9M424.29 54.49 l0.9 1.9M425.98 54.82 l0.9 1.9M427.67 55.41 l0.9 1.9M429.36 55.71 l0.9 1.9M431.05 56.15 l0.9 1.9M432.74 56.79 l0.9 1.9M434.43 57.13 l0.9 1.9M436.11 57.2 l0.9 1.9M437.8 57.98 l0.9 1.9M439.49 58.35 l0.9 1.9M441.18 58.96 l0.9 1.9M442.87 59.31 l0.9 1.9M444.56 59.74 l0.9 1.9M446.25 59.72 l0.9 1.9M447.94 60.23 l0.9 1.9M449.63 60.55 l0.9 1.9M451.31 60.89 l0.9 1.9M453 61.49 l0.9 1.9M454.69 61.72 l0.9 1.9M456.38 62.33 l0.9 1.9M458.07 62.79 l0.9 1.9M459.76 62.91 l0.9 1.9M461.45 63.33 l0.9 1.9M463.14 63.7 l0.9 1.9M464.83 64.35 l0.9 1.9M466.52 64.6 l0.9 1.9M468.2 65.19 l0.9 1.9M469.89 65.18 l0.9 1.9M471.58 65.53 l0.9 1.9M473.27 66.18 l0.9 1.9M474.96 66.14 l0.9 1.9M476.65 66.86 l0.9 1.9M478.34 67.21 l0.9 1.9M480.03 67.18 l0.9 1.9M481.72 67.72 l0.9 1.9M483.41 67.91 l0.9 1.9M485.09 68.15 l0.9 1.9M486.78 68.78 l0.9 1.9M488.47 68.71 l0.9 1.9M490.16 69.27 l0.9 1.9M491.85 69.5 l0.9 1.9M493.54 69.85 l0.9 1.9M495.23 69.89 l0.9 1.9M496.92 70.14 l0.9 1.9M498.61 70.65 l0.9 1.9M500.3 71 l0.9 1.9M501.98 71.15 l0.9 1.9M503.67 71.34 l0.9 1.9M505.36 71.77 l0.9 1.9M507.05 71.99 l0.9 1.9M508.74 71.91 l0.9 1.9M510.43 72.2 l0.9 1.9M512.12 72.3 l0.9 1.9M513.81 72.55 l0.9 1.9M515.5 72.86 l0.9 1.9M517.19 73.39 l0.9 1.9M518.88 73.76 l0.9 1.9M520.56 73.86 l0.9 1.9M522.25 73.97 l0.9 1.9M523.94 74.12 l0.9 1.9M525.63 74.29 l0.9 1.9M527.32 74.58 l0.9 1.9M529.01 74.49 l0.9 1.9M530.7 74.99 l0.9 1.9M532.39 75.08 l0.9 1.9M534.08 75.03 l0.9 1.9M535.77 75.26 l0.9 1.9M537.45 75.72 l0.9 1.9M539.14 75.94 l0.9 1.9M540.83 75.81 l0.9 1.9M542.52 76.43 l0.9 1.9M544.21 76.55 l0.9 1.9M545.9 76.52 l0.9 1.9M547.59 76.7 l0.9 1.9M549.28 77.09 l0.9 1.9M550.97 77.33 l0.9 1.9M552.66 77.44 l0.9 1.9M554.34 77.31 l0.9 1.9M556.03 77.66 l0.9 1.9M557.72 77.57 l0.9 1.9M559.41 77.86 l0.9 1.9M561.1 77.94 l0.9 1.9M562.79 78.67 l0.9 1.9M564.48 78.81 l0.9 1.9M566.17 79.12 l0.9 1.9M567.86 79.11 l0.9 1.9M569.55 79.38 l0.9 1.9M571.23 79.75 l0.9 1.9M572.92 79.7 l0.9 1.9M574.61 80.16 l0.9 1.9M576.3 80.26 l0.9 1.9M577.99 80.51 l0.9 1.9M579.68 80.43 l0.9 1.9M581.37 80.86 l0.9 1.9M583.06 81.16 l0.9 1.9M584.75 81.49 l0.9 1.9M586.44 81.5 l0.9 1.9M588.12 81.61 l0.9 1.9M589.81 81.8 l0.9 1.9M591.5 81.89 l0.9 1.9M593.19 82.17 l0.9 1.9M594.88 82.69 l0.9 1.9M596.57 82.9 l0.9 1.9M598.26 82.7 l0.9 1.9M599.95 82.83 l0.9 1.9M601.64 83.13 l0.9 1.9M603.33 83.1 l0.9 1.9M605.01 83.39 l0.9 1.9M606.7 83.69 l0.9 1.9M608.39 83.89 l0.9 1.9M610.08 84.12 l0.9 1.9M611.77 83.92 l0.9 1.9M613.46 83.93 l0.9 1.9M615.15 84.07 l0.9 1.9M616.84 84.46 l0.9 1.9M618.53 84.49 l0.9 1.9M620.22 84.49 l0.9 1.9M621.9 84.7 l0.9 1.9M623.59 84.96 l0.9 1.9M625.28 85.21 l0.9 1.9M626.97 85.3 l0.9 1.9M628.66 85.63 l0.9 1.9M630.35 85.77 l0.9 1.9M632.04 85.64 l0.9 1.9M633.73 85.62 l0.9 1.9M635.42 86.01 l0.9 1.9M637.11 86.23 l0.9 1.9M638.79 86.4 l0.9 1.9M640.48 86.49 l0.9 1.9M642.17 86.45 l0.9 1.9M643.86 86.78 l0.9 1.9M645.55 86.65 l0.9 1.9" stroke="#fff" stroke-width="0.75" opacity="0.55" fill="none"/>
<circle cx="395.19" cy="41.18" r="3.3" fill="url(#gN)"/>
<circle cx="396.88" cy="48.52" r="3.3" fill="url(#gN)"/>
<circle cx="398.57" cy="48.67" r="3.3" fill="url(#gN)"/>
<circle cx="400.26" cy="48.81" r="3.3" fill="url(#gN)"/>
<circle cx="401.94" cy="48.96" r="3.3" fill="url(#gN)"/>
<circle cx="403.63" cy="49.1" r="3.3" fill="url(#gN)"/>
<circle cx="405.32" cy="49.25" r="3.3" fill="url(#gN)"/>
<circle cx="407.01" cy="49.4" r="3.3" fill="url(#gN)"/>
<circle cx="408.7" cy="49.54" r="3.3" fill="url(#gN)"/>
<circle cx="410.39" cy="49.69" r="3.3" fill="url(#gN)"/>
<circle cx="412.08" cy="49.83" r="3.3" fill="url(#gN)"/>
<circle cx="413.77" cy="49.98" r="3.3" fill="url(#gN)"/>
<circle cx="415.46" cy="50.12" r="3.3" fill="url(#gN)"/>
<circle cx="417.15" cy="50.27" r="3.3" fill="url(#gN)"/>
<circle cx="418.83" cy="50.42" r="3.3" fill="url(#gN)"/>
<circle cx="420.52" cy="50.56" r="3.3" fill="url(#gN)"/>
<circle cx="422.21" cy="50.71" r="3.3" fill="url(#gN)"/>
<circle cx="423.9" cy="50.85" r="3.3" fill="url(#gN)"/>
<circle cx="425.59" cy="51" r="3.3" fill="url(#gN)"/>
<circle cx="427.28" cy="51.15" r="3.3" fill="url(#gN)"/>
<circle cx="428.97" cy="51.29" r="3.3" fill="url(#gN)"/>
<circle cx="430.66" cy="51.44" r="3.3" fill="url(#gN)"/>
<circle cx="432.35" cy="51.58" r="3.3" fill="url(#gN)"/>
<circle cx="434.04" cy="51.73" r="3.3" fill="url(#gN)"/>
<circle cx="435.73" cy="51.87" r="3.3" fill="url(#gN)"/>
<circle cx="437.41" cy="52.02" r="3.3" fill="url(#gN)"/>
<circle cx="439.1" cy="52.17" r="3.3" fill="url(#gN)"/>
<circle cx="440.79" cy="52.31" r="3.3" fill="url(#gN)"/>
<circle cx="442.48" cy="52.46" r="3.3" fill="url(#gN)"/>
<circle cx="444.17" cy="52.6" r="3.3" fill="url(#gN)"/>
<circle cx="445.86" cy="52.75" r="3.3" fill="url(#gN)"/>
<circle cx="447.55" cy="52.9" r="3.3" fill="url(#gN)"/>
<circle cx="449.24" cy="53.04" r="3.3" fill="url(#gN)"/>
<circle cx="450.93" cy="53.19" r="3.3" fill="url(#gN)"/>
<circle cx="452.62" cy="53.33" r="3.3" fill="url(#gN)"/>
<circle cx="454.3" cy="53.48" r="3.3" fill="url(#gN)"/>
<circle cx="455.99" cy="53.62" r="3.3" fill="url(#gN)"/>
<circle cx="457.68" cy="53.77" r="3.3" fill="url(#gN)"/>
<circle cx="459.37" cy="53.92" r="3.3" fill="url(#gN)"/>
<circle cx="461.06" cy="54.06" r="3.3" fill="url(#gN)"/>
<circle cx="462.75" cy="54.21" r="3.3" fill="url(#gN)"/>
<circle cx="464.44" cy="54.35" r="3.3" fill="url(#gN)"/>
<circle cx="466.13" cy="54.5" r="3.3" fill="url(#gN)"/>
<circle cx="467.82" cy="54.65" r="3.3" fill="url(#gN)"/>
<circle cx="469.5" cy="54.79" r="3.3" fill="url(#gN)"/>
<circle cx="471.19" cy="54.94" r="3.3" fill="url(#gN)"/>
<circle cx="472.88" cy="55.08" r="3.3" fill="url(#gN)"/>
<circle cx="474.57" cy="55.23" r="3.3" fill="url(#gN)"/>
<circle cx="476.26" cy="55.38" r="3.3" fill="url(#gN)"/>
<circle cx="477.95" cy="55.52" r="3.3" fill="url(#gN)"/>
<circle cx="479.64" cy="55.67" r="3.3" fill="url(#gN)"/>
<circle cx="481.33" cy="55.81" r="3.3" fill="url(#gN)"/>
<circle cx="483.02" cy="55.96" r="3.3" fill="url(#gN)"/>
<circle cx="484.71" cy="56.1" r="3.3" fill="url(#gN)"/>
<circle cx="486.39" cy="56.25" r="3.3" fill="url(#gN)"/>
<circle cx="488.08" cy="56.4" r="3.3" fill="url(#gN)"/>
<circle cx="489.77" cy="56.54" r="3.3" fill="url(#gN)"/>
<circle cx="491.46" cy="56.69" r="3.3" fill="url(#gN)"/>
<circle cx="493.15" cy="56.83" r="3.3" fill="url(#gN)"/>
<circle cx="494.84" cy="56.98" r="3.3" fill="url(#gN)"/>
<circle cx="496.53" cy="57.13" r="3.3" fill="url(#gN)"/>
<circle cx="498.22" cy="57.27" r="3.3" fill="url(#gN)"/>
<circle cx="499.91" cy="57.42" r="3.3" fill="url(#gN)"/>
<circle cx="501.6" cy="57.56" r="3.3" fill="url(#gN)"/>
<circle cx="503.28" cy="57.71" r="3.3" fill="url(#gN)"/>
<circle cx="504.97" cy="57.85" r="3.3" fill="url(#gN)"/>
<circle cx="506.66" cy="58" r="3.3" fill="url(#gN)"/>
<circle cx="508.35" cy="58.15" r="3.3" fill="url(#gN)"/>
<circle cx="510.04" cy="58.29" r="3.3" fill="url(#gN)"/>
<circle cx="511.73" cy="58.44" r="3.3" fill="url(#gN)"/>
<circle cx="513.42" cy="58.58" r="3.3" fill="url(#gN)"/>
<circle cx="515.11" cy="58.77" r="3.3" fill="url(#gN)"/>
<circle cx="516.8" cy="58.96" r="3.3" fill="url(#gN)"/>
<circle cx="518.49" cy="59.14" r="3.3" fill="url(#gN)"/>
<circle cx="520.17" cy="59.33" r="3.3" fill="url(#gN)"/>
<circle cx="521.86" cy="59.51" r="3.3" fill="url(#gN)"/>
<circle cx="523.55" cy="59.7" r="3.3" fill="url(#gN)"/>
<circle cx="525.24" cy="59.89" r="3.3" fill="url(#gN)"/>
<circle cx="526.93" cy="60.07" r="3.3" fill="url(#gN)"/>
<circle cx="528.62" cy="60.26" r="3.3" fill="url(#gN)"/>
<circle cx="530.31" cy="60.44" r="3.3" fill="url(#gN)"/>
<circle cx="532" cy="60.63" r="3.3" fill="url(#gN)"/>
<circle cx="533.69" cy="60.82" r="3.3" fill="url(#gN)"/>
<circle cx="535.38" cy="61" r="3.3" fill="url(#gN)"/>
<circle cx="537.07" cy="61.19" r="3.3" fill="url(#gN)"/>
<circle cx="538.75" cy="61.37" r="3.3" fill="url(#gN)"/>
<circle cx="540.44" cy="61.56" r="3.3" fill="url(#gN)"/>
<circle cx="542.13" cy="61.74" r="3.3" fill="url(#gN)"/>
<circle cx="543.82" cy="61.93" r="3.3" fill="url(#gN)"/>
<circle cx="545.51" cy="62.12" r="3.3" fill="url(#gN)"/>
<circle cx="547.2" cy="62.3" r="3.3" fill="url(#gN)"/>
<circle cx="548.89" cy="62.49" r="3.3" fill="url(#gN)"/>
<circle cx="550.58" cy="62.67" r="3.3" fill="url(#gN)"/>
<circle cx="552.27" cy="62.86" r="3.3" fill="url(#gN)"/>
<circle cx="553.96" cy="63.05" r="3.3" fill="url(#gN)"/>
<circle cx="555.64" cy="63.23" r="3.3" fill="url(#gN)"/>
<circle cx="557.33" cy="63.42" r="3.3" fill="url(#gN)"/>
<circle cx="559.02" cy="63.6" r="3.3" fill="url(#gN)"/>
<circle cx="560.71" cy="63.79" r="3.3" fill="url(#gN)"/>
<circle cx="562.4" cy="63.98" r="3.3" fill="url(#gN)"/>
<circle cx="564.09" cy="64.16" r="3.3" fill="url(#gN)"/>
<circle cx="565.78" cy="64.35" r="3.3" fill="url(#gN)"/>
<circle cx="567.47" cy="64.53" r="3.3" fill="url(#gN)"/>
<circle cx="569.16" cy="64.72" r="3.3" fill="url(#gN)"/>
<circle cx="570.85" cy="64.91" r="3.3" fill="url(#gN)"/>
<circle cx="572.53" cy="65.09" r="3.3" fill="url(#gN)"/>
<circle cx="574.22" cy="65.28" r="3.3" fill="url(#gN)"/>
<circle cx="575.91" cy="65.46" r="3.3" fill="url(#gN)"/>
<circle cx="577.6" cy="65.65" r="3.3" fill="url(#gN)"/>
<circle cx="579.29" cy="65.84" r="3.3" fill="url(#gN)"/>
<circle cx="580.98" cy="66.02" r="3.3" fill="url(#gN)"/>
<circle cx="582.67" cy="66.21" r="3.3" fill="url(#gN)"/>
<circle cx="584.36" cy="66.39" r="3.3" fill="url(#gN)"/>
<circle cx="586.05" cy="66.58" r="3.3" fill="url(#gN)"/>
<circle cx="587.74" cy="66.76" r="3.3" fill="url(#gN)"/>
<circle cx="589.42" cy="66.95" r="3.3" fill="url(#gN)"/>
<circle cx="591.11" cy="67.14" r="3.3" fill="url(#gN)"/>
<circle cx="592.8" cy="67.32" r="3.3" fill="url(#gN)"/>
<circle cx="594.49" cy="67.51" r="3.3" fill="url(#gN)"/>
<circle cx="596.18" cy="67.69" r="3.3" fill="url(#gN)"/>
<circle cx="597.87" cy="67.88" r="3.3" fill="url(#gN)"/>
<circle cx="599.56" cy="68.07" r="3.3" fill="url(#gN)"/>
<circle cx="601.25" cy="68.25" r="3.3" fill="url(#gN)"/>
<circle cx="602.94" cy="68.44" r="3.3" fill="url(#gN)"/>
<circle cx="604.62" cy="68.62" r="3.3" fill="url(#gN)"/>
<circle cx="606.31" cy="68.81" r="3.3" fill="url(#gN)"/>
<circle cx="608" cy="69" r="3.3" fill="url(#gN)"/>
<circle cx="609.69" cy="69.18" r="3.3" fill="url(#gN)"/>
<circle cx="611.38" cy="69.37" r="3.3" fill="url(#gN)"/>
<circle cx="613.07" cy="69.55" r="3.3" fill="url(#gN)"/>
<circle cx="614.76" cy="69.74" r="3.3" fill="url(#gN)"/>
<circle cx="616.45" cy="69.93" r="3.3" fill="url(#gN)"/>
<circle cx="618.14" cy="70.11" r="3.3" fill="url(#gN)"/>
<circle cx="619.83" cy="70.3" r="3.3" fill="url(#gN)"/>
<circle cx="621.51" cy="70.48" r="3.3" fill="url(#gN)"/>
<circle cx="623.2" cy="70.67" r="3.3" fill="url(#gN)"/>
<circle cx="624.89" cy="70.85" r="3.3" fill="url(#gN)"/>
<circle cx="626.58" cy="71.04" r="3.3" fill="url(#gN)"/>
<circle cx="628.27" cy="71.23" r="3.3" fill="url(#gN)"/>
<circle cx="629.96" cy="71.41" r="3.3" fill="url(#gN)"/>
<circle cx="631.65" cy="71.6" r="3.3" fill="url(#gN)"/>
<circle cx="633.34" cy="71.78" r="3.3" fill="url(#gN)"/>
<circle cx="635.03" cy="71.97" r="3.3" fill="url(#gN)"/>
<circle cx="636.72" cy="72.16" r="3.3" fill="url(#gN)"/>
<circle cx="638.4" cy="72.34" r="3.3" fill="url(#gN)"/>
<circle cx="640.09" cy="72.53" r="3.3" fill="url(#gN)"/>
<circle cx="641.78" cy="72.71" r="3.3" fill="url(#gN)"/>
<circle cx="643.47" cy="72.9" r="3.3" fill="url(#gN)"/>
<circle cx="645.16" cy="73.09" r="3.3" fill="url(#gN)"/>
<circle cx="646.85" cy="73.27" r="3.3" fill="url(#gN)"/>
<path d="M393.89 39.58 l0.9 1.9M395.58 46.92 l0.9 1.9M397.27 47.07 l0.9 1.9M398.96 47.21 l0.9 1.9M400.64 47.36 l0.9 1.9M402.33 47.5 l0.9 1.9M404.02 47.65 l0.9 1.9M405.71 47.8 l0.9 1.9M407.4 47.94 l0.9 1.9M409.09 48.09 l0.9 1.9M410.78 48.23 l0.9 1.9M412.47 48.38 l0.9 1.9M414.16 48.52 l0.9 1.9M415.85 48.67 l0.9 1.9M417.53 48.82 l0.9 1.9M419.22 48.96 l0.9 1.9M420.91 49.11 l0.9 1.9M422.6 49.25 l0.9 1.9M424.29 49.4 l0.9 1.9M425.98 49.55 l0.9 1.9M427.67 49.69 l0.9 1.9M429.36 49.84 l0.9 1.9M431.05 49.98 l0.9 1.9M432.74 50.13 l0.9 1.9M434.43 50.27 l0.9 1.9M436.11 50.42 l0.9 1.9M437.8 50.57 l0.9 1.9M439.49 50.71 l0.9 1.9M441.18 50.86 l0.9 1.9M442.87 51 l0.9 1.9M444.56 51.15 l0.9 1.9M446.25 51.3 l0.9 1.9M447.94 51.44 l0.9 1.9M449.63 51.59 l0.9 1.9M451.31 51.73 l0.9 1.9M453 51.88 l0.9 1.9M454.69 52.02 l0.9 1.9M456.38 52.17 l0.9 1.9M458.07 52.32 l0.9 1.9M459.76 52.46 l0.9 1.9M461.45 52.61 l0.9 1.9M463.14 52.75 l0.9 1.9M464.83 52.9 l0.9 1.9M466.52 53.05 l0.9 1.9M468.2 53.19 l0.9 1.9M469.89 53.34 l0.9 1.9M471.58 53.48 l0.9 1.9M473.27 53.63 l0.9 1.9M474.96 53.78 l0.9 1.9M476.65 53.92 l0.9 1.9M478.34 54.07 l0.9 1.9M480.03 54.21 l0.9 1.9M481.72 54.36 l0.9 1.9M483.41 54.5 l0.9 1.9M485.09 54.65 l0.9 1.9M486.78 54.8 l0.9 1.9M488.47 54.94 l0.9 1.9M490.16 55.09 l0.9 1.9M491.85 55.23 l0.9 1.9M493.54 55.38 l0.9 1.9M495.23 55.53 l0.9 1.9M496.92 55.67 l0.9 1.9M498.61 55.82 l0.9 1.9M500.3 55.96 l0.9 1.9M501.98 56.11 l0.9 1.9M503.67 56.25 l0.9 1.9M505.36 56.4 l0.9 1.9M507.05 56.55 l0.9 1.9M508.74 56.69 l0.9 1.9M510.43 56.84 l0.9 1.9M512.12 56.98 l0.9 1.9M513.81 57.17 l0.9 1.9M515.5 57.36 l0.9 1.9M517.19 57.54 l0.9 1.9M518.88 57.73 l0.9 1.9M520.56 57.91 l0.9 1.9M522.25 58.1 l0.9 1.9M523.94 58.29 l0.9 1.9M525.63 58.47 l0.9 1.9M527.32 58.66 l0.9 1.9M529.01 58.84 l0.9 1.9M530.7 59.03 l0.9 1.9M532.39 59.22 l0.9 1.9M534.08 59.4 l0.9 1.9M535.77 59.59 l0.9 1.9M537.45 59.77 l0.9 1.9M539.14 59.96 l0.9 1.9M540.83 60.14 l0.9 1.9M542.52 60.33 l0.9 1.9M544.21 60.52 l0.9 1.9M545.9 60.7 l0.9 1.9M547.59 60.89 l0.9 1.9M549.28 61.07 l0.9 1.9M550.97 61.26 l0.9 1.9M552.66 61.45 l0.9 1.9M554.34 61.63 l0.9 1.9M556.03 61.82 l0.9 1.9M557.72 62 l0.9 1.9M559.41 62.19 l0.9 1.9M561.1 62.38 l0.9 1.9M562.79 62.56 l0.9 1.9M564.48 62.75 l0.9 1.9M566.17 62.93 l0.9 1.9M567.86 63.12 l0.9 1.9M569.55 63.31 l0.9 1.9M571.23 63.49 l0.9 1.9M572.92 63.68 l0.9 1.9M574.61 63.86 l0.9 1.9M576.3 64.05 l0.9 1.9M577.99 64.24 l0.9 1.9M579.68 64.42 l0.9 1.9M581.37 64.61 l0.9 1.9M583.06 64.79 l0.9 1.9M584.75 64.98 l0.9 1.9M586.44 65.16 l0.9 1.9M588.12 65.35 l0.9 1.9M589.81 65.54 l0.9 1.9M591.5 65.72 l0.9 1.9M593.19 65.91 l0.9 1.9M594.88 66.09 l0.9 1.9M596.57 66.28 l0.9 1.9M598.26 66.47 l0.9 1.9M599.95 66.65 l0.9 1.9M601.64 66.84 l0.9 1.9M603.33 67.02 l0.9 1.9M605.01 67.21 l0.9 1.9M606.7 67.4 l0.9 1.9M608.39 67.58 l0.9 1.9M610.08 67.77 l0.9 1.9M611.77 67.95 l0.9 1.9M613.46 68.14 l0.9 1.9M615.15 68.33 l0.9 1.9M616.84 68.51 l0.9 1.9M618.53 68.7 l0.9 1.9M620.22 68.88 l0.9 1.9M621.9 69.07 l0.9 1.9M623.59 69.25 l0.9 1.9M625.28 69.44 l0.9 1.9M626.97 69.63 l0.9 1.9M628.66 69.81 l0.9 1.9M630.35 70 l0.9 1.9M632.04 70.18 l0.9 1.9M633.73 70.37 l0.9 1.9M635.42 70.56 l0.9 1.9M637.11 70.74 l0.9 1.9M638.79 70.93 l0.9 1.9M640.48 71.11 l0.9 1.9M642.17 71.3 l0.9 1.9M643.86 71.49 l0.9 1.9M645.55 71.67 l0.9 1.9" stroke="#fff" stroke-width="0.75" opacity="0.55" fill="none"/>
<rect x="649.8" y="84" width="3.4" height="3.8" fill="#000"/>
<rect x="386.1" y="4.1" width="266.1" height="103.4" fill="none" stroke="#000" stroke-width="2"/>
<line x1="386.1" y1="107" x2="390.1" y2="107" stroke="#000" stroke-width="1.4" stroke-linecap="butt"/>
<line x1="386.1" y1="93.4" x2="388.9" y2="93.4" stroke="#000" stroke-width="1.4" stroke-linecap="butt"/>
<line x1="386.1" y1="79.8" x2="390.1" y2="79.8" stroke="#000" stroke-width="1.4" stroke-linecap="butt"/>
<line x1="386.1" y1="66.2" x2="388.9" y2="66.2" stroke="#000" stroke-width="1.4" stroke-linecap="butt"/>
<line x1="386.1" y1="52.6" x2="390.1" y2="52.6" stroke="#000" stroke-width="1.4" stroke-linecap="butt"/>
<line x1="386.1" y1="39" x2="388.9" y2="39" stroke="#000" stroke-width="1.4" stroke-linecap="butt"/>
<line x1="386.1" y1="25.4" x2="390.1" y2="25.4" stroke="#000" stroke-width="1.4" stroke-linecap="butt"/>
<line x1="386.1" y1="11.8" x2="388.9" y2="11.8" stroke="#000" stroke-width="1.4" stroke-linecap="butt"/>
<line x1="393.5" y1="107.5" x2="393.5" y2="103.5" stroke="#000" stroke-width="1.4" stroke-linecap="butt"/>
<line x1="418.83" y1="107.5" x2="418.83" y2="104.7" stroke="#000" stroke-width="1.4" stroke-linecap="butt"/>
<line x1="444.17" y1="107.5" x2="444.17" y2="103.5" stroke="#000" stroke-width="1.4" stroke-linecap="butt"/>
<line x1="469.5" y1="107.5" x2="469.5" y2="104.7" stroke="#000" stroke-width="1.4" stroke-linecap="butt"/>
<line x1="494.84" y1="107.5" x2="494.84" y2="103.5" stroke="#000" stroke-width="1.4" stroke-linecap="butt"/>
<line x1="520.17" y1="107.5" x2="520.17" y2="104.7" stroke="#000" stroke-width="1.4" stroke-linecap="butt"/>
<line x1="545.51" y1="107.5" x2="545.51" y2="103.5" stroke="#000" stroke-width="1.4" stroke-linecap="butt"/>
<line x1="570.85" y1="107.5" x2="570.85" y2="104.7" stroke="#000" stroke-width="1.4" stroke-linecap="butt"/>
<line x1="596.18" y1="107.5" x2="596.18" y2="103.5" stroke="#000" stroke-width="1.4" stroke-linecap="butt"/>
<line x1="621.51" y1="107.5" x2="621.51" y2="104.7" stroke="#000" stroke-width="1.4" stroke-linecap="butt"/>
<line x1="646.85" y1="107.5" x2="646.85" y2="103.5" stroke="#000" stroke-width="1.4" stroke-linecap="butt"/>
<line x1="652.2" y1="11.9" x2="649.2" y2="11.9" stroke="#000" stroke-width="1.2" stroke-linecap="butt"/>
<line x1="652.2" y1="21.07" x2="650" y2="21.07" stroke="#000" stroke-width="1.2" stroke-linecap="butt"/>
<line x1="652.2" y1="30.24" x2="649.2" y2="30.24" stroke="#000" stroke-width="1.2" stroke-linecap="butt"/>
<line x1="652.2" y1="39.41" x2="650" y2="39.41" stroke="#000" stroke-width="1.2" stroke-linecap="butt"/>
<line x1="652.2" y1="48.58" x2="649.2" y2="48.58" stroke="#000" stroke-width="1.2" stroke-linecap="butt"/>
<line x1="652.2" y1="57.75" x2="650" y2="57.75" stroke="#000" stroke-width="1.2" stroke-linecap="butt"/>
<line x1="652.2" y1="66.92" x2="649.2" y2="66.92" stroke="#000" stroke-width="1.2" stroke-linecap="butt"/>
<line x1="652.2" y1="76.09" x2="650" y2="76.09" stroke="#000" stroke-width="1.2" stroke-linecap="butt"/>
<line x1="652.2" y1="85.26" x2="649.2" y2="85.26" stroke="#000" stroke-width="1.2" stroke-linecap="butt"/>
<line x1="652.2" y1="96" x2="650" y2="96" stroke="#000" stroke-width="1.2" stroke-linecap="butt"/>
<line x1="652.2" y1="106" x2="649.2" y2="106" stroke="#000" stroke-width="1.2" stroke-linecap="butt"/>
<text x="381.5" y="110.8" font-size="10.1" font-weight="bold" fill="#111" text-anchor="end" textLength="15.6" lengthAdjust="spacingAndGlyphs" stroke="#111" stroke-width="0.2">100</text>
<text x="381.5" y="83.6" font-size="10.1" font-weight="bold" fill="#111" text-anchor="end" textLength="15.6" lengthAdjust="spacingAndGlyphs" stroke="#111" stroke-width="0.2">150</text>
<text x="381.5" y="56.4" font-size="10.1" font-weight="bold" fill="#111" text-anchor="end" textLength="15.6" lengthAdjust="spacingAndGlyphs" stroke="#111" stroke-width="0.2">200</text>
<text x="381.5" y="29.2" font-size="10.1" font-weight="bold" fill="#111" text-anchor="end" textLength="15.6" lengthAdjust="spacingAndGlyphs" stroke="#111" stroke-width="0.2">250</text>
<text x="393.5" y="120" font-size="10.1" font-weight="bold" fill="#111" text-anchor="middle" textLength="5.2" lengthAdjust="spacingAndGlyphs" stroke="#111" stroke-width="0.2">0</text>
<text x="444.17" y="120" font-size="10.1" font-weight="bold" fill="#111" text-anchor="middle" textLength="10.4" lengthAdjust="spacingAndGlyphs" stroke="#111" stroke-width="0.2">30</text>
<text x="494.84" y="120" font-size="10.1" font-weight="bold" fill="#111" text-anchor="middle" textLength="10.4" lengthAdjust="spacingAndGlyphs" stroke="#111" stroke-width="0.2">60</text>
<text x="545.51" y="120" font-size="10.1" font-weight="bold" fill="#111" text-anchor="middle" textLength="10.4" lengthAdjust="spacingAndGlyphs" stroke="#111" stroke-width="0.2">90</text>
<text x="596.18" y="120" font-size="10.1" font-weight="bold" fill="#111" text-anchor="middle" textLength="15.6" lengthAdjust="spacingAndGlyphs" stroke="#111" stroke-width="0.2">120</text>
<text x="646.85" y="120" font-size="10.1" font-weight="bold" fill="#111" text-anchor="middle" textLength="15.6" lengthAdjust="spacingAndGlyphs" stroke="#111" stroke-width="0.2">150</text>
<text x="654.5" y="16" font-size="10.1" font-weight="bold" fill="#111" text-anchor="start" textLength="15.6" lengthAdjust="spacingAndGlyphs" stroke="#111" stroke-width="0.2">100</text>
<text x="654.5" y="34.4" font-size="10.1" font-weight="bold" fill="#111" text-anchor="start" textLength="10.4" lengthAdjust="spacingAndGlyphs" stroke="#111" stroke-width="0.2">98</text>
<text x="654.5" y="52.6" font-size="10.1" font-weight="bold" fill="#111" text-anchor="start" textLength="10.4" lengthAdjust="spacingAndGlyphs" stroke="#111" stroke-width="0.2">96</text>
<text x="654.5" y="71.1" font-size="10.1" font-weight="bold" fill="#111" text-anchor="start" textLength="10.4" lengthAdjust="spacingAndGlyphs" stroke="#111" stroke-width="0.2">94</text>
<text x="654.5" y="89.4" font-size="10.1" font-weight="bold" fill="#111" text-anchor="start" textLength="10.4" lengthAdjust="spacingAndGlyphs" stroke="#111" stroke-width="0.2">92</text>
<text x="654.5" y="110.1" font-size="10.1" font-weight="bold" fill="#111" text-anchor="start" textLength="10.4" lengthAdjust="spacingAndGlyphs" stroke="#111" stroke-width="0.2">86</text>
<text x="487.8" y="136.8" font-size="10" font-weight="bold" fill="#111" text-anchor="start" textLength="62.2" lengthAdjust="spacingAndGlyphs" stroke="#111" stroke-width="0.2">Cycle number</text>
<text x="358.7" y="112.6" font-size="10" font-weight="bold" fill="#111" text-anchor="start" textLength="80.2" lengthAdjust="spacingAndGlyphs" transform="rotate(-90 358.7 112.6)" stroke="#111" stroke-width="0.2">Capacity (mAh g<tspan font-size="7" font-weight="normal" dy="-4.3">-1</tspan><tspan dy="4.3">)</tspan></text>
<text x="683" y="114.6" font-size="10" font-weight="bold" fill="#111" text-anchor="start" textLength="110.5" lengthAdjust="spacingAndGlyphs" transform="rotate(-90 683 114.6)" stroke="#111" stroke-width="0.2">Coulombic efficiency (%)</text>
<text x="348" y="14" font-size="18.5" font-weight="bold" fill="#111" text-anchor="start" stroke="#111" stroke-width="0.2">b</text>
<text x="473.7" y="38" font-size="10" font-weight="bold" fill="#111" text-anchor="start" textLength="98.9" lengthAdjust="spacingAndGlyphs" stroke="#111" stroke-width="0.2">2.75-4.6 V,  100 mA g</text>
<text x="571" y="32.8" font-size="6.6" font-weight="normal" fill="#111" text-anchor="start" textLength="5.3" lengthAdjust="spacingAndGlyphs" stroke="#111" stroke-width="0.3">-1</text>
<circle cx="417.3" cy="81.9" r="3.5" fill="url(#gO)"/>
<circle cx="416.8" cy="95.7" r="3.5" fill="url(#gN)"/>
<text x="436.5" y="88.2" font-size="10" font-weight="bold" fill="#111" text-anchor="start" textLength="71.8" lengthAdjust="spacingAndGlyphs" stroke="#111" stroke-width="0.2">Undoped SNCM</text>
<text x="435.7" y="100.8" font-size="10" font-weight="bold" fill="#111" text-anchor="start" textLength="56.7" lengthAdjust="spacingAndGlyphs" stroke="#111" stroke-width="0.2">AZ0.3-SNCM</text>
<line x1="420.3" y1="61.7" x2="403" y2="61.7" stroke="#000" stroke-width="1.6" stroke-linecap="butt"/>
<path d="M391.8 61.7 L404 58.2 L404.6 61.7 L404 65.2 Z" fill="#000"/>
<line x1="619.3" y1="29.8" x2="638.4" y2="29.8" stroke="#000" stroke-width="1.6" stroke-linecap="butt"/>
<path d="M649.6 29.8 L637.4 26.3 L636.8 29.8 L637.4 33.3 Z" fill="#000"/>
<path d="M47.7 190.02 L48.89 189.84 L50.08 189.67 L51.26 189.49 L52.45 189.32 L53.64 189.15 L54.83 188.97 L56.01 188.8 L57.2 188.63 L58.39 188.46 L59.58 188.28 L60.76 188.11 L61.95 187.94 L63.14 187.76 L64.33 187.59 L65.51 187.41 L66.7 187.24 L67.89 187.06 L69.08 186.88 L70.26 186.7 L71.45 186.52 L72.64 186.34 L73.83 186.16 L75.01 185.97 L76.2 185.78 L77.39 185.59 L78.58 185.41 L79.76 185.22 L80.95 185.03 L82.14 184.85 L83.33 184.66 L84.51 184.48 L85.7 184.29 L86.89 184.1 L88.08 183.91 L89.26 183.72 L90.45 183.53 L91.64 183.34 L92.83 183.14 L94.01 182.95 L95.2 182.74 L96.39 182.54 L97.58 182.33 L98.76 182.12 L99.95 181.91 L101.14 181.69 L102.33 181.47 L103.51 181.24 L104.7 181 L105.89 180.77 L107.08 180.52 L108.26 180.27 L109.45 180.01 L110.64 179.74 L111.83 179.46 L113.01 179.16 L114.2 178.85 L115.39 178.53 L116.58 178.21 L117.76 177.88 L118.95 177.54 L120.14 177.19 L121.33 176.84 L122.51 176.48 L123.7 176.12 L124.89 175.76 L126.08 175.4 L127.26 175.04 L128.45 174.67 L129.64 174.31 L130.82 173.95 L132.01 173.59 L133.2 173.24 L134.39 172.89 L135.57 172.55 L136.76 172.21 L137.95 171.88 L139.14 171.56 L140.32 171.25 L141.51 170.95 L142.7 170.66 L143.89 170.37 L145.07 170.08 L146.26 169.8 L147.45 169.52 L148.64 169.24 L149.82 168.96 L151.01 168.69 L152.2 168.42 L153.39 168.16 L154.57 167.89 L155.76 167.63 L156.95 167.37 L158.14 167.11 L159.32 166.85 L160.51 166.59 L161.7 166.33 L162.89 166.08 L164.07 165.82 L165.26 165.57 L166.45 165.31 L167.64 165.06 L168.82 164.8 L170.01 164.55 L171.2 164.29 L172.39 164.04 L173.57 163.78 L174.76 163.52 L175.95 163.26 L177.14 163 L178.32 162.74 L179.51 162.48 L203.26 162.48" fill="none" stroke="#FFB25C" stroke-width="1.9" stroke-linejoin="round" stroke-linecap="round" opacity="1"/>
<path d="M47.7 201.88 L48.89 202.12 L50.08 202.35 L51.26 202.59 L52.45 202.82 L53.64 203.06 L54.83 203.3 L56.01 203.54 L57.2 203.78 L58.39 204.02 L59.58 204.26 L60.76 204.49 L61.95 204.73 L63.14 204.97 L64.33 205.2 L65.51 205.44 L66.7 205.67 L67.89 205.9 L69.08 206.13 L70.26 206.36 L71.45 206.58 L72.64 206.81 L73.83 207.03 L75.01 207.24 L76.2 207.46 L77.39 207.67 L78.58 207.88 L79.76 208.09 L80.95 208.29 L82.14 208.5 L83.33 208.7 L84.51 208.9 L85.7 209.1 L86.89 209.3 L88.08 209.5 L89.26 209.7 L90.45 209.89 L91.64 210.09 L92.83 210.28 L94.01 210.47 L95.2 210.67 L96.39 210.86 L97.58 211.05 L98.76 211.24 L99.95 211.43 L101.14 211.62 L102.33 211.8 L103.51 211.99 L104.7 212.18 L105.89 212.37 L107.08 212.55 L108.26 212.74 L109.45 212.93 L110.64 213.11 L111.83 213.3 L113.01 213.48 L114.2 213.67 L115.39 213.86 L116.58 214.05 L117.76 214.23 L118.95 214.42 L120.14 214.61 L121.33 214.8 L122.51 214.99 L123.7 215.18 L124.89 215.37 L126.08 215.56 L127.26 215.75 L128.45 215.95 L129.64 216.14 L130.82 216.34 L132.01 216.54 L133.2 216.73 L134.39 216.93 L135.57 217.13 L136.76 217.33 L137.95 217.52 L139.14 217.72 L140.32 217.92 L141.51 218.12 L142.7 218.32 L143.89 218.52 L144.18 218.57 L144.48 218.62 L144.78 218.67 L145.07 218.72 L145.37 218.77 L145.67 218.82 L145.97 218.87 L146.26 218.92 L146.56 218.98 L146.86 219.03 L147.15 219.08 L147.45 219.13 L147.75 219.18 L148.04 219.23 L148.34 219.28 L148.64 219.33 L148.93 219.38 L149.23 219.43 L149.53 219.48 L149.82 219.53 L150.12 219.58 L150.42 219.63 L150.72 219.69 L151.01 219.74 L151.31 219.79 L151.61 219.84 L151.9 219.89 L152.2 219.94 L152.5 219.99 L152.79 220.04 L153.09 220.1 L153.39 220.15 L153.68 220.2 L153.98 220.25 L154.28 220.3 L154.57 220.35 L154.87 220.41 L155.17 220.46 L155.47 220.51 L155.76 220.56 L156.06 220.61 L156.36 220.67 L156.65 220.72 L156.95 220.77 L157.25 220.82 L157.54 220.87 L157.84 220.93 L158.14 220.98 L158.43 221.03 L158.73 221.09 L159.03 221.14 L159.32 221.19 L159.62 221.24 L159.92 221.3 L160.22 221.35 L160.51 221.4 L160.81 221.46 L161.11 221.51 L161.4 221.57 L161.7 221.62 L162 221.67 L162.29 221.73 L162.59 221.78 L162.89 221.84 L163.18 221.89 L163.48 221.94 L163.78 222 L164.07 222.05 L164.37 222.11 L164.67 222.16 L164.97 222.22 L165.26 222.27 L165.56 222.33 L165.86 222.39 L166.15 222.44 L166.45 222.5 L166.75 222.55 L167.04 222.61 L167.34 222.67 L167.64 222.72 L167.93 222.78 L168.23 222.84 L168.53 222.9 L168.82 222.95 L169.12 223.01 L169.42 223.07 L169.72 223.13 L170.01 223.19 L170.31 223.25 L170.61 223.31 L170.9 223.37 L171.2 223.43 L171.5 223.49 L171.79 223.55 L172.09 223.61 L172.39 223.67 L172.68 223.73 L172.98 223.79 L173.28 223.85 L173.57 223.92 L173.87 223.98 L174.17 224.04 L174.47 224.11 L174.76 224.17 L175.06 224.23 L175.36 224.3 L175.65 224.36 L175.95 224.43 L176.25 224.5 L176.54 224.56 L176.84 224.63 L177.14 224.7 L177.43 224.77 L177.73 224.83 L178.03 224.9 L178.32 224.97 L178.62 225.04 L178.92 225.11 L179.22 225.19 L179.51 225.26 L179.81 225.33 L180.11 225.4 L180.4 225.48 L180.7 225.55 L181 225.63 L181.29 225.71 L181.59 225.78 L181.89 225.86 L182.18 225.94 L182.48 226.02 L182.78 226.1 L183.07 226.18 L183.37 226.26 L183.67 226.35 L183.97 226.43 L184.26 226.52 L184.56 226.6 L184.86 226.69 L185.15 226.78 L185.45 226.87 L185.75 226.96 L186.04 227.05 L186.34 227.14 L186.64 227.23 L186.93 227.33 L187.23 227.43 L187.53 227.52 L187.82 227.62 L188.12 227.72 L188.42 227.82 L188.72 227.93 L189.01 228.03 L189.31 228.14 L189.61 228.25 L189.9 228.36 L190.2 228.47 L190.5 228.58 L190.79 228.7 L191.09 228.81 L191.39 228.93 L191.68 229.05 L191.98 229.18 L192.28 229.3 L192.57 229.43 L192.87 229.56 L193.17 229.69 L193.47 229.82 L193.76 229.96 L194.06 230.1 L194.36 230.24 L194.65 230.38 L194.95 230.53 L195.25 230.68 L195.54 230.83 L195.84 230.98 L196.14 231.14 L196.43 231.3 L196.73 231.47 L197.03 231.63 L197.32 231.8 L197.62 231.98 L197.92 232.15 L198.22 232.34 L198.51 232.52 L198.81 232.71 L199.11 232.9 L199.4 233.1 L199.7 233.3 L200 233.5 L200.29 233.71 L200.59 233.93 L200.89 234.14 L201.18 234.37 L201.48 234.59 L201.78 234.83 L202.07 235.07 L202.37 235.31 L202.67 235.56 L202.97 235.81 L203.26 236.07 L203.56 236.34 L203.86 236.61 L204.15 236.89 L204.45 237.18 L204.75 237.47 L205.04 237.77 L205.34 238.07 L205.64 238.38 L205.93 238.7 L206.23 239.03 L206.53 239.37 L206.82 239.71 L207.12 240.06 L207.42 240.42 L207.72 240.79 L207.78 240.87" fill="none" stroke="#FFB25C" stroke-width="1.9" stroke-linejoin="round" stroke-linecap="round" opacity="1"/>
<path d="M47.7 192.14 L48.89 191.97 L50.08 191.8 L51.26 191.63 L52.45 191.47 L53.64 191.3 L54.83 191.13 L56.01 190.97 L57.2 190.81 L58.39 190.64 L59.58 190.48 L60.76 190.31 L61.95 190.15 L63.14 189.99 L64.33 189.82 L65.51 189.66 L66.7 189.5 L67.89 189.33 L69.08 189.17 L70.26 189.01 L71.45 188.84 L72.64 188.68 L73.83 188.51 L75.01 188.34 L76.2 188.18 L77.39 188.01 L78.58 187.84 L79.76 187.67 L80.95 187.5 L82.14 187.33 L83.33 187.16 L84.51 186.98 L85.7 186.81 L86.89 186.63 L88.08 186.46 L89.26 186.28 L90.45 186.1 L91.64 185.91 L92.83 185.73 L94.01 185.54 L95.2 185.36 L96.39 185.17 L97.58 184.98 L98.76 184.79 L99.95 184.6 L101.14 184.41 L102.33 184.22 L103.51 184.02 L104.7 183.83 L105.89 183.63 L107.08 183.44 L108.26 183.24 L109.45 183.04 L110.64 182.84 L111.83 182.64 L113.01 182.44 L114.2 182.24 L115.39 182.04 L116.58 181.83 L117.76 181.63 L118.95 181.42 L120.14 181.21 L121.33 181 L122.51 180.78 L123.7 180.57 L124.89 180.35 L126.08 180.14 L127.26 179.92 L128.45 179.7 L129.64 179.47 L130.82 179.25 L132.01 179.02 L133.2 178.79 L134.39 178.56 L135.57 178.33 L136.76 178.09 L137.95 177.85 L139.14 177.62 L140.32 177.37 L141.51 177.13 L142.7 176.88 L143.89 176.64 L145.07 176.39 L146.26 176.15 L147.45 175.91 L148.64 175.67 L149.82 175.43 L151.01 175.19 L152.2 174.94 L153.39 174.7 L154.57 174.45 L155.76 174.2 L156.95 173.94 L158.14 173.68 L159.32 173.42 L160.51 173.15 L161.7 172.87 L162.89 172.59 L164.07 172.3 L165.26 172 L166.45 171.69 L167.64 171.37 L168.82 171.04 L170.01 170.7 L171.2 170.35 L172.39 169.99 L173.57 169.61 L174.76 169.23 L175.95 168.82 L177.14 168.41 L178.39 167.92 L179.64 167.35 L180.9 166.71 L182.15 166.03 L183.4 165.32 L184.66 164.59 L185.91 163.87 L187.17 163.16 L188.42 162.48 L209.2 162.48" fill="none" stroke="#FFA84A" stroke-width="1.9" stroke-linejoin="round" stroke-linecap="round" opacity="1"/>
<path d="M47.7 193.83 L48.89 193.68 L50.08 193.54 L51.26 193.39 L52.45 193.24 L53.64 193.1 L54.83 192.95 L56.01 192.81 L57.2 192.66 L58.39 192.52 L59.58 192.38 L60.76 192.23 L61.95 192.09 L63.14 191.95 L64.33 191.8 L65.51 191.66 L66.7 191.51 L67.89 191.37 L69.08 191.23 L70.26 191.08 L71.45 190.94 L72.64 190.79 L73.83 190.65 L75.01 190.5 L76.2 190.36 L77.39 190.21 L78.58 190.06 L79.76 189.91 L80.95 189.76 L82.14 189.61 L83.33 189.46 L84.51 189.31 L85.7 189.16 L86.89 189.01 L88.08 188.85 L89.26 188.7 L90.45 188.54 L91.64 188.38 L92.83 188.22 L94.01 188.06 L95.2 187.9 L96.39 187.74 L97.58 187.57 L98.76 187.41 L99.95 187.24 L101.14 187.08 L102.33 186.91 L103.51 186.74 L104.7 186.57 L105.89 186.4 L107.08 186.23 L108.26 186.06 L109.45 185.89 L110.64 185.72 L111.83 185.54 L113.01 185.37 L114.2 185.19 L115.39 185.01 L116.58 184.84 L117.76 184.66 L118.95 184.48 L120.14 184.3 L121.33 184.12 L122.51 183.94 L123.7 183.75 L124.89 183.57 L126.08 183.38 L127.26 183.2 L128.45 183.01 L129.64 182.82 L130.82 182.63 L132.01 182.45 L133.2 182.25 L134.39 182.06 L135.57 181.87 L136.76 181.68 L137.95 181.48 L139.14 181.29 L140.32 181.09 L141.51 180.89 L142.7 180.7 L143.89 180.5 L145.07 180.31 L146.26 180.12 L147.45 179.93 L148.64 179.75 L149.82 179.56 L151.01 179.38 L152.2 179.2 L153.39 179.01 L154.57 178.83 L155.76 178.64 L156.95 178.46 L158.14 178.26 L159.32 178.07 L160.51 177.87 L161.7 177.67 L162.89 177.46 L164.07 177.25 L165.26 177.03 L166.45 176.8 L167.64 176.57 L168.82 176.32 L170.01 176.07 L171.2 175.81 L172.39 175.54 L173.57 175.26 L174.76 174.96 L175.95 174.66 L177.14 174.34 L178.32 174.01 L179.51 173.65 L180.7 173.27 L181.89 172.86 L183.07 172.42 L184.26 171.94 L185.45 171.42 L186.64 170.85 L187.82 170.23 L189.01 169.56 L190.2 168.83 L191.39 167.89 L192.57 166.66 L193.76 165.26 L194.95 163.83 L196.14 162.48 L217.51 162.48" fill="none" stroke="#FF9E3A" stroke-width="1.9" stroke-linejoin="round" stroke-linecap="round" opacity="1"/>
<path d="M47.7 200.61 L48.89 200.77 L50.08 200.93 L51.26 201.09 L52.45 201.25 L53.64 201.41 L54.83 201.57 L56.01 201.73 L57.2 201.89 L58.39 202.05 L59.58 202.21 L60.76 202.37 L61.95 202.53 L63.14 202.69 L64.33 202.85 L65.51 203.01 L66.7 203.17 L67.89 203.33 L69.08 203.49 L70.26 203.65 L71.45 203.82 L72.64 203.98 L73.83 204.14 L75.01 204.31 L76.2 204.48 L77.39 204.64 L78.58 204.81 L79.76 204.98 L80.95 205.15 L82.14 205.32 L83.33 205.49 L84.51 205.66 L85.7 205.83 L86.89 206 L88.08 206.17 L89.26 206.35 L90.45 206.52 L91.64 206.69 L92.83 206.87 L94.01 207.04 L95.2 207.21 L96.39 207.39 L97.58 207.56 L98.76 207.74 L99.95 207.91 L101.14 208.09 L102.33 208.27 L103.51 208.44 L104.7 208.62 L105.89 208.8 L107.08 208.97 L108.26 209.15 L109.45 209.33 L110.64 209.5 L111.83 209.68 L113.01 209.86 L114.2 210.04 L115.39 210.21 L116.58 210.39 L117.76 210.57 L118.95 210.74 L120.14 210.92 L121.33 211.1 L122.51 211.28 L123.7 211.45 L124.89 211.63 L126.08 211.81 L127.26 211.98 L128.45 212.16 L129.64 212.34 L130.82 212.51 L132.01 212.69 L133.2 212.87 L134.39 213.04 L135.57 213.22 L136.76 213.4 L137.95 213.58 L139.14 213.75 L140.32 213.93 L141.51 214.11 L142.7 214.29 L143.89 214.46 L145.07 214.64 L146.26 214.82 L147.45 215 L148.64 215.18 L149.82 215.36 L151.01 215.54 L152.2 215.72 L153.39 215.9 L154.57 216.08 L155.76 216.26 L156.95 216.44 L158.14 216.62 L159.32 216.81 L160.51 216.99 L160.81 217.03 L161.11 217.08 L161.4 217.13 L161.7 217.17 L162 217.22 L162.29 217.26 L162.59 217.31 L162.89 217.36 L163.18 217.4 L163.48 217.45 L163.78 217.5 L164.07 217.54 L164.37 217.59 L164.67 217.63 L164.97 217.68 L165.26 217.73 L165.56 217.77 L165.86 217.82 L166.15 217.87 L166.45 217.92 L166.75 217.96 L167.04 218.01 L167.34 218.06 L167.64 218.1 L167.93 218.15 L168.23 218.2 L168.53 218.25 L168.82 218.29 L169.12 218.34 L169.42 218.39 L169.72 218.44 L170.01 218.49 L170.31 218.53 L170.61 218.58 L170.9 218.63 L171.2 218.68 L171.5 218.73 L171.79 218.78 L172.09 218.82 L172.39 218.87 L172.68 218.92 L172.98 218.97 L173.28 219.02 L173.57 219.07 L173.87 219.12 L174.17 219.17 L174.47 219.22 L174.76 219.27 L175.06 219.32 L175.36 219.37 L175.65 219.42 L175.95 219.47 L176.25 219.52 L176.54 219.58 L176.84 219.63 L177.14 219.68 L177.43 219.73 L177.73 219.78 L178.03 219.84 L178.32 219.89 L178.62 219.94 L178.92 220 L179.22 220.05 L179.51 220.1 L179.81 220.16 L180.11 220.21 L180.4 220.27 L180.7 220.32 L181 220.38 L181.29 220.44 L181.59 220.49 L181.89 220.55 L182.18 220.61 L182.48 220.66 L182.78 220.72 L183.07 220.78 L183.37 220.84 L183.67 220.9 L183.97 220.96 L184.26 221.02 L184.56 221.08 L184.86 221.14 L185.15 221.2 L185.45 221.27 L185.75 221.33 L186.04 221.39 L186.34 221.46 L186.64 221.52 L186.93 221.59 L187.23 221.65 L187.53 221.72 L187.82 221.79 L188.12 221.86 L188.42 221.92 L188.72 221.99 L189.01 222.06 L189.31 222.14 L189.61 222.21 L189.9 222.28 L190.2 222.36 L190.5 222.43 L190.79 222.51 L191.09 222.58 L191.39 222.66 L191.68 222.74 L191.98 222.82 L192.28 222.9 L192.57 222.99 L192.87 223.07 L193.17 223.16 L193.47 223.24 L193.76 223.33 L194.06 223.42 L194.36 223.51 L194.65 223.6 L194.95 223.69 L195.25 223.79 L195.54 223.89 L195.84 223.99 L196.14 224.09 L196.43 224.19 L196.73 224.29 L197.03 224.4 L197.32 224.5 L197.62 224.61 L197.92 224.72 L198.22 224.84 L198.51 224.95 L198.81 225.07 L199.11 225.19 L199.4 225.32 L199.7 225.44 L200 225.57 L200.29 225.7 L200.59 225.83 L200.89 225.97 L201.18 226.11 L201.48 226.25 L201.78 226.4 L202.07 226.54 L202.37 226.7 L202.67 226.85 L202.97 227.01 L203.26 227.17 L203.56 227.34 L203.86 227.51 L204.15 227.68 L204.45 227.86 L204.75 228.04 L205.04 228.23 L205.34 228.42 L205.64 228.62 L205.93 228.82 L206.23 229.02 L206.53 229.23 L206.82 229.45 L207.12 229.67 L207.42 229.9 L207.72 230.13 L208.01 230.37 L208.31 230.61 L208.61 230.86 L208.9 231.12 L209.2 231.39 L209.5 231.66 L209.79 231.94 L210.09 232.22 L210.39 232.52 L210.68 232.82 L210.98 233.13 L211.28 233.45 L211.57 233.78 L211.87 234.11 L212.17 234.46 L212.47 234.81 L212.76 235.18 L213.06 235.55 L213.36 235.94 L213.65 236.33 L213.95 236.74 L214.25 237.16 L214.54 237.59 L214.84 238.04 L215.14 238.49 L215.43 238.96 L215.73 239.44 L216.03 239.94 L216.32 240.45 L216.56 240.87" fill="none" stroke="#FF9E3A" stroke-width="1.9" stroke-linejoin="round" stroke-linecap="round" opacity="1"/>
<path d="M47.7 195.1 L48.89 194.98 L50.08 194.85 L51.26 194.72 L52.45 194.6 L53.64 194.47 L54.83 194.34 L56.01 194.22 L57.2 194.09 L58.39 193.97 L59.58 193.84 L60.76 193.72 L61.95 193.59 L63.14 193.47 L64.33 193.34 L65.51 193.21 L66.7 193.09 L67.89 192.96 L69.08 192.84 L70.26 192.71 L71.45 192.59 L72.64 192.46 L73.83 192.33 L75.01 192.21 L76.2 192.08 L77.39 191.96 L78.58 191.83 L79.76 191.7 L80.95 191.57 L82.14 191.45 L83.33 191.32 L84.51 191.19 L85.7 191.06 L86.89 190.93 L88.08 190.8 L89.26 190.67 L90.45 190.54 L91.64 190.41 L92.83 190.28 L94.01 190.15 L95.2 190.02 L96.39 189.89 L97.58 189.75 L98.76 189.62 L99.95 189.49 L101.14 189.36 L102.33 189.23 L103.51 189.1 L104.7 188.97 L105.89 188.84 L107.08 188.71 L108.26 188.57 L109.45 188.44 L110.64 188.31 L111.83 188.18 L113.01 188.05 L114.2 187.91 L115.39 187.78 L116.58 187.65 L117.76 187.51 L118.95 187.38 L120.14 187.24 L121.33 187.11 L122.51 186.97 L123.7 186.84 L124.89 186.7 L126.08 186.56 L127.26 186.42 L128.45 186.28 L129.64 186.14 L130.82 186 L132.01 185.85 L133.2 185.71 L134.39 185.56 L135.57 185.42 L136.76 185.27 L137.95 185.12 L139.14 184.97 L140.32 184.82 L141.51 184.66 L142.7 184.51 L143.89 184.36 L145.07 184.2 L146.26 184.05 L147.45 183.9 L148.64 183.75 L149.82 183.59 L151.01 183.44 L152.2 183.29 L153.39 183.14 L154.57 182.98 L155.76 182.83 L156.95 182.67 L158.14 182.51 L159.32 182.35 L160.51 182.18 L161.7 182.01 L162.89 181.84 L164.07 181.67 L165.26 181.49 L166.45 181.31 L167.64 181.12 L168.82 180.93 L170.01 180.73 L171.2 180.53 L172.39 180.32 L173.57 180.11 L174.76 179.89 L175.95 179.66 L177.14 179.43 L178.32 179.19 L179.51 178.95 L180.7 178.7 L181.89 178.44 L183.07 178.17 L184.26 177.89 L185.45 177.58 L186.64 177.26 L187.82 176.9 L189.01 176.53 L190.2 176.11 L191.39 175.67 L192.57 175.19 L193.76 174.6 L194.95 173.84 L196.14 172.95 L197.32 171.94 L198.51 170.84 L199.7 169.67 L200.89 168.45 L202.07 167.21 L203.26 165.97 L204.45 164.75 L205.64 163.58 L206.82 162.48 L227.01 162.48" fill="none" stroke="#FF952C" stroke-width="1.9" stroke-linejoin="round" stroke-linecap="round" opacity="1"/>
<path d="M47.7 198.92 L48.89 199.02 L50.08 199.13 L51.26 199.24 L52.45 199.34 L53.64 199.44 L54.83 199.55 L56.01 199.65 L57.2 199.75 L58.39 199.86 L59.58 199.96 L60.76 200.07 L61.95 200.17 L63.14 200.27 L64.33 200.38 L65.51 200.49 L66.7 200.59 L67.89 200.7 L69.08 200.81 L70.26 200.92 L71.45 201.03 L72.64 201.15 L73.83 201.26 L75.01 201.38 L76.2 201.5 L77.39 201.62 L78.58 201.74 L79.76 201.86 L80.95 201.98 L82.14 202.11 L83.33 202.23 L84.51 202.36 L85.7 202.49 L86.89 202.62 L88.08 202.75 L89.26 202.88 L90.45 203.01 L91.64 203.14 L92.83 203.27 L94.01 203.41 L95.2 203.54 L96.39 203.68 L97.58 203.81 L98.76 203.95 L99.95 204.09 L101.14 204.23 L102.33 204.37 L103.51 204.51 L104.7 204.65 L105.89 204.79 L107.08 204.93 L108.26 205.07 L109.45 205.22 L110.64 205.36 L111.83 205.5 L113.01 205.65 L114.2 205.79 L115.39 205.94 L116.58 206.08 L117.76 206.23 L118.95 206.37 L120.14 206.52 L121.33 206.67 L122.51 206.81 L123.7 206.96 L124.89 207.11 L126.08 207.26 L127.26 207.4 L128.45 207.55 L129.64 207.7 L130.82 207.85 L132.01 208 L133.2 208.14 L134.39 208.3 L135.57 208.45 L136.76 208.6 L137.95 208.75 L139.14 208.91 L140.32 209.06 L141.51 209.22 L142.7 209.37 L143.89 209.53 L145.07 209.69 L146.26 209.85 L147.45 210.01 L148.64 210.17 L149.82 210.33 L151.01 210.49 L152.2 210.65 L153.39 210.81 L154.57 210.97 L155.76 211.13 L156.95 211.3 L158.14 211.46 L159.32 211.62 L160.51 211.79 L161.7 211.95 L162.89 212.12 L164.07 212.28 L165.26 212.45 L166.45 212.62 L167.64 212.78 L168.82 212.95 L170.01 213.12 L171.2 213.29 L172.39 213.46 L172.68 213.5 L172.98 213.54 L173.28 213.58 L173.57 213.63 L173.87 213.67 L174.17 213.71 L174.47 213.75 L174.76 213.8 L175.06 213.84 L175.36 213.88 L175.65 213.93 L175.95 213.97 L176.25 214.01 L176.54 214.05 L176.84 214.1 L177.14 214.14 L177.43 214.18 L177.73 214.23 L178.03 214.27 L178.32 214.32 L178.62 214.36 L178.92 214.4 L179.22 214.45 L179.51 214.49 L179.81 214.53 L180.11 214.58 L180.4 214.62 L180.7 214.67 L181 214.71 L181.29 214.76 L181.59 214.8 L181.89 214.85 L182.18 214.89 L182.48 214.94 L182.78 214.98 L183.07 215.03 L183.37 215.07 L183.67 215.12 L183.97 215.16 L184.26 215.21 L184.56 215.26 L184.86 215.3 L185.15 215.35 L185.45 215.4 L185.75 215.44 L186.04 215.49 L186.34 215.54 L186.64 215.59 L186.93 215.64 L187.23 215.68 L187.53 215.73 L187.82 215.78 L188.12 215.83 L188.42 215.88 L188.72 215.93 L189.01 215.98 L189.31 216.03 L189.61 216.08 L189.9 216.14 L190.2 216.19 L190.5 216.24 L190.79 216.29 L191.09 216.35 L191.39 216.4 L191.68 216.45 L191.98 216.51 L192.28 216.56 L192.57 216.62 L192.87 216.68 L193.17 216.73 L193.47 216.79 L193.76 216.85 L194.06 216.91 L194.36 216.97 L194.65 217.03 L194.95 217.09 L195.25 217.15 L195.54 217.21 L195.84 217.27 L196.14 217.34 L196.43 217.4 L196.73 217.47 L197.03 217.53 L197.32 217.6 L197.62 217.67 L197.92 217.74 L198.22 217.81 L198.51 217.88 L198.81 217.95 L199.11 218.02 L199.4 218.1 L199.7 218.17 L200 218.25 L200.29 218.32 L200.59 218.4 L200.89 218.48 L201.18 218.57 L201.48 218.65 L201.78 218.73 L202.07 218.82 L202.37 218.91 L202.67 219 L202.97 219.09 L203.26 219.18 L203.56 219.27 L203.86 219.37 L204.15 219.47 L204.45 219.57 L204.75 219.67 L205.04 219.77 L205.34 219.88 L205.64 219.99 L205.93 220.1 L206.23 220.21 L206.53 220.33 L206.82 220.45 L207.12 220.57 L207.42 220.69 L207.72 220.82 L208.01 220.95 L208.31 221.08 L208.61 221.22 L208.9 221.36 L209.2 221.5 L209.5 221.65 L209.79 221.8 L210.09 221.95 L210.39 222.11 L210.68 222.27 L210.98 222.43 L211.28 222.6 L211.57 222.78 L211.87 222.96 L212.17 223.14 L212.47 223.33 L212.76 223.52 L213.06 223.72 L213.36 223.92 L213.65 224.13 L213.95 224.35 L214.25 224.57 L214.54 224.8 L214.84 225.03 L215.14 225.27 L215.43 225.52 L215.73 225.77 L216.03 226.03 L216.32 226.3 L216.62 226.58 L216.92 226.86 L217.22 227.15 L217.51 227.45 L217.81 227.76 L218.11 228.08 L218.4 228.41 L218.7 228.75 L219 229.1 L219.29 229.46 L219.59 229.83 L219.89 230.21 L220.18 230.6 L220.48 231.01 L220.78 231.42 L221.07 231.85 L221.37 232.3 L221.67 232.75 L221.97 233.22 L222.26 233.71 L222.56 234.21 L222.86 234.72 L223.15 235.26 L223.45 235.81 L223.75 236.37 L224.04 236.96 L224.34 237.56 L224.64 238.18 L224.93 238.82 L225.23 239.48 L225.53 240.16 L225.82 240.87" fill="none" stroke="#FF952C" stroke-width="1.9" stroke-linejoin="round" stroke-linecap="round" opacity="1"/>
<path d="M47.7 196.38 L48.89 196.27 L50.08 196.16 L51.26 196.06 L52.45 195.95 L53.64 195.84 L54.83 195.74 L56.01 195.63 L57.2 195.52 L58.39 195.41 L59.58 195.31 L60.76 195.2 L61.95 195.09 L63.14 194.98 L64.33 194.87 L65.51 194.77 L66.7 194.66 L67.89 194.55 L69.08 194.44 L70.26 194.34 L71.45 194.23 L72.64 194.12 L73.83 194.01 L75.01 193.91 L76.2 193.8 L77.39 193.69 L78.58 193.59 L79.76 193.48 L80.95 193.38 L82.14 193.27 L83.33 193.17 L84.51 193.06 L85.7 192.96 L86.89 192.85 L88.08 192.75 L89.26 192.65 L90.45 192.54 L91.64 192.44 L92.83 192.34 L94.01 192.24 L95.2 192.14 L96.39 192.04 L97.58 191.94 L98.76 191.84 L99.95 191.74 L101.14 191.65 L102.33 191.55 L103.51 191.46 L104.7 191.36 L105.89 191.27 L107.08 191.18 L108.26 191.08 L109.45 190.99 L110.64 190.9 L111.83 190.81 L113.01 190.71 L114.2 190.62 L115.39 190.53 L116.58 190.44 L117.76 190.35 L118.95 190.26 L120.14 190.17 L121.33 190.07 L122.51 189.98 L123.7 189.89 L124.89 189.8 L126.08 189.7 L127.26 189.61 L128.45 189.52 L129.64 189.42 L130.82 189.33 L132.01 189.23 L133.2 189.13 L134.39 189.03 L135.57 188.94 L136.76 188.84 L137.95 188.74 L139.14 188.64 L140.32 188.53 L141.51 188.43 L142.7 188.32 L143.89 188.22 L145.07 188.12 L146.26 188.01 L147.45 187.91 L148.64 187.82 L149.82 187.72 L151.01 187.62 L152.2 187.52 L153.39 187.42 L154.57 187.32 L155.76 187.22 L156.95 187.12 L158.14 187.02 L159.32 186.91 L160.51 186.81 L161.7 186.7 L162.89 186.59 L164.07 186.47 L165.26 186.35 L166.45 186.23 L167.64 186.11 L168.82 185.98 L170.01 185.85 L171.2 185.71 L172.39 185.56 L173.57 185.41 L174.76 185.26 L175.95 185.1 L177.14 184.93 L178.32 184.76 L179.51 184.57 L180.7 184.37 L181.89 184.16 L183.07 183.93 L184.26 183.69 L185.45 183.43 L186.64 183.16 L187.82 182.87 L189.01 182.56 L190.2 182.24 L191.39 181.9 L192.57 181.54 L193.76 181.15 L194.95 180.72 L196.14 180.25 L197.32 179.74 L198.51 179.19 L199.7 178.6 L200.89 177.98 L202.07 177.32 L203.26 176.62 L204.45 175.89 L205.64 175.13 L206.82 174.33 L208.01 173.5 L209.2 172.64 L210.39 171.68 L211.57 170.55 L212.76 169.3 L213.95 167.96 L215.14 166.57 L216.32 165.17 L217.51 163.79 L218.7 162.48 L238.89 162.48" fill="none" stroke="#FC8C22" stroke-width="1.9" stroke-linejoin="round" stroke-linecap="round" opacity="1"/>
<path d="M47.7 196.38 L48.89 196.45 L50.08 196.52 L51.26 196.59 L52.45 196.66 L53.64 196.72 L54.83 196.79 L56.01 196.86 L57.2 196.93 L58.39 197 L59.58 197.06 L60.76 197.13 L61.95 197.2 L63.14 197.27 L64.33 197.34 L65.51 197.41 L66.7 197.48 L67.89 197.55 L69.08 197.63 L70.26 197.7 L71.45 197.78 L72.64 197.85 L73.83 197.93 L75.01 198.01 L76.2 198.09 L77.39 198.18 L78.58 198.26 L79.76 198.35 L80.95 198.43 L82.14 198.52 L83.33 198.61 L84.51 198.7 L85.7 198.79 L86.89 198.88 L88.08 198.97 L89.26 199.07 L90.45 199.16 L91.64 199.26 L92.83 199.35 L94.01 199.45 L95.2 199.55 L96.39 199.64 L97.58 199.74 L98.76 199.84 L99.95 199.94 L101.14 200.04 L102.33 200.15 L103.51 200.25 L104.7 200.35 L105.89 200.46 L107.08 200.56 L108.26 200.67 L109.45 200.77 L110.64 200.88 L111.83 200.99 L113.01 201.09 L114.2 201.2 L115.39 201.31 L116.58 201.42 L117.76 201.53 L118.95 201.64 L120.14 201.75 L121.33 201.86 L122.51 201.97 L123.7 202.08 L124.89 202.19 L126.08 202.3 L127.26 202.42 L128.45 202.53 L129.64 202.64 L130.82 202.75 L132.01 202.87 L133.2 202.98 L134.39 203.09 L135.57 203.2 L136.76 203.31 L137.95 203.42 L139.14 203.54 L140.32 203.65 L141.51 203.76 L142.7 203.87 L143.89 203.98 L145.07 204.09 L146.26 204.2 L147.45 204.31 L148.64 204.42 L149.82 204.54 L151.01 204.65 L152.2 204.76 L153.39 204.88 L154.57 204.99 L155.76 205.11 L156.95 205.23 L158.14 205.34 L159.32 205.46 L160.51 205.58 L161.7 205.7 L162.89 205.83 L164.07 205.95 L165.26 206.07 L166.45 206.2 L167.64 206.33 L168.82 206.46 L170.01 206.59 L171.2 206.72 L172.39 206.86 L173.57 206.99 L174.76 207.13 L175.95 207.27 L177.14 207.42 L178.32 207.56 L179.51 207.71 L180.7 207.86 L181.89 208.02 L183.07 208.17 L184.26 208.33 L185.45 208.49 L186.64 208.66 L187.82 208.83 L188.12 208.87 L188.42 208.92 L188.72 208.96 L189.01 209 L189.31 209.05 L189.61 209.09 L189.9 209.14 L190.2 209.18 L190.5 209.23 L190.79 209.27 L191.09 209.32 L191.39 209.36 L191.68 209.41 L191.98 209.46 L192.28 209.5 L192.57 209.55 L192.87 209.6 L193.17 209.65 L193.47 209.7 L193.76 209.75 L194.06 209.8 L194.36 209.86 L194.65 209.91 L194.95 209.97 L195.25 210.03 L195.54 210.08 L195.84 210.15 L196.14 210.21 L196.43 210.27 L196.73 210.33 L197.03 210.4 L197.32 210.46 L197.62 210.53 L197.92 210.59 L198.22 210.66 L198.51 210.73 L198.81 210.8 L199.11 210.86 L199.4 210.93 L199.7 211 L200 211.07 L200.29 211.14 L200.59 211.21 L200.89 211.28 L201.18 211.35 L201.48 211.42 L201.78 211.48 L202.07 211.55 L202.37 211.62 L202.67 211.69 L202.97 211.76 L203.26 211.83 L203.56 211.9 L203.86 211.97 L204.15 212.04 L204.45 212.11 L204.75 212.19 L205.04 212.26 L205.34 212.33 L205.64 212.41 L205.93 212.48 L206.23 212.56 L206.53 212.63 L206.82 212.71 L207.12 212.79 L207.42 212.87 L207.72 212.95 L208.01 213.03 L208.31 213.11 L208.61 213.19 L208.9 213.28 L209.2 213.36 L209.5 213.45 L209.79 213.53 L210.09 213.62 L210.39 213.71 L210.68 213.8 L210.98 213.89 L211.28 213.98 L211.57 214.08 L211.87 214.17 L212.17 214.27 L212.47 214.37 L212.76 214.47 L213.06 214.57 L213.36 214.67 L213.65 214.78 L213.95 214.88 L214.25 214.99 L214.54 215.1 L214.84 215.21 L215.14 215.33 L215.43 215.44 L215.73 215.56 L216.03 215.68 L216.32 215.81 L216.62 215.93 L216.92 216.06 L217.22 216.19 L217.51 216.32 L217.81 216.46 L218.11 216.6 L218.4 216.74 L218.7 216.89 L219 217.04 L219.29 217.19 L219.59 217.35 L219.89 217.5 L220.18 217.67 L220.48 217.84 L220.78 218.01 L221.07 218.18 L221.37 218.36 L221.67 218.55 L221.97 218.73 L222.26 218.93 L222.56 219.13 L222.86 219.33 L223.15 219.54 L223.45 219.75 L223.75 219.97 L224.04 220.2 L224.34 220.43 L224.64 220.67 L224.93 220.92 L225.23 221.17 L225.53 221.43 L225.82 221.7 L226.12 221.97 L226.42 222.26 L226.72 222.55 L227.01 222.85 L227.31 223.16 L227.61 223.48 L227.9 223.8 L228.2 224.14 L228.5 224.49 L228.79 224.85 L229.09 225.22 L229.39 225.6 L229.68 225.99 L229.98 226.39 L230.28 226.81 L230.57 227.24 L230.87 227.69 L231.17 228.14 L231.47 228.62 L231.76 229.11 L232.06 229.61 L232.36 230.13 L232.65 230.67 L232.95 231.22 L233.25 231.79 L233.54 232.38 L233.84 233 L234.14 233.63 L234.43 234.28 L234.73 234.95 L235.03 235.65 L235.32 236.37 L235.62 237.11 L235.92 237.88 L236.22 238.67 L236.51 239.5 L236.81 240.35 L236.99 240.87" fill="none" stroke="#FC8C22" stroke-width="1.9" stroke-linejoin="round" stroke-linecap="round" opacity="1"/>
<path d="M47.7 198.07 L48.89 197.95 L50.08 197.84 L51.26 197.72 L52.45 197.61 L53.64 197.49 L54.83 197.37 L56.01 197.26 L57.2 197.14 L58.39 197.03 L59.58 196.91 L60.76 196.8 L61.95 196.68 L63.14 196.57 L64.33 196.45 L65.51 196.34 L66.7 196.22 L67.89 196.11 L69.08 196 L70.26 195.88 L71.45 195.76 L72.64 195.65 L73.83 195.53 L75.01 195.42 L76.2 195.3 L77.39 195.19 L78.58 195.07 L79.76 194.95 L80.95 194.84 L82.14 194.72 L83.33 194.6 L84.51 194.48 L85.7 194.37 L86.89 194.25 L88.08 194.13 L89.26 194.01 L90.45 193.89 L91.64 193.77 L92.83 193.65 L94.01 193.53 L95.2 193.41 L96.39 193.29 L97.58 193.17 L98.76 193.04 L99.95 192.92 L101.14 192.8 L102.33 192.68 L103.51 192.55 L104.7 192.43 L105.89 192.3 L107.08 192.18 L108.26 192.06 L109.45 191.93 L110.64 191.81 L111.83 191.68 L113.01 191.56 L114.2 191.43 L115.39 191.31 L116.58 191.18 L117.76 191.05 L118.95 190.93 L120.14 190.8 L121.33 190.67 L122.51 190.55 L123.7 190.42 L124.89 190.29 L126.08 190.16 L127.26 190.03 L128.45 189.9 L129.64 189.77 L130.82 189.64 L132.01 189.51 L133.2 189.38 L134.39 189.25 L135.57 189.12 L136.76 188.99 L137.95 188.86 L139.14 188.72 L140.32 188.59 L141.51 188.46 L142.7 188.32 L143.89 188.19 L145.07 188.06 L146.26 187.94 L147.45 187.81 L148.64 187.69 L149.82 187.57 L151.01 187.45 L152.2 187.33 L153.39 187.22 L154.57 187.1 L155.76 186.99 L156.95 186.87 L158.14 186.76 L159.32 186.65 L160.51 186.53 L161.7 186.42 L162.89 186.3 L164.07 186.19 L165.26 186.07 L166.45 185.95 L167.64 185.83 L168.82 185.7 L170.01 185.58 L171.2 185.45 L172.39 185.32 L173.57 185.18 L174.76 185.04 L175.95 184.9 L177.14 184.76 L178.32 184.61 L179.51 184.45 L180.7 184.29 L181.89 184.13 L183.07 183.96 L184.26 183.78 L185.45 183.6 L186.64 183.42 L187.82 183.23 L189.01 183.03 L190.2 182.82 L191.39 182.61 L192.57 182.39 L193.76 182.15 L194.95 181.89 L196.14 181.6 L197.32 181.29 L198.51 180.95 L199.7 180.6 L200.89 180.22 L202.07 179.83 L203.26 179.42 L204.45 178.99 L205.64 178.55 L206.82 178.1 L208.01 177.63 L209.2 177.16 L210.39 176.67 L211.57 176.18 L212.76 175.69 L213.95 175.19 L215.14 174.68 L216.32 174.14 L217.51 173.59 L218.7 173.01 L219.89 172.4 L221.07 171.76 L222.26 171.08 L223.45 170.37 L224.64 169.62 L225.82 168.83 L227.01 167.94 L228.2 166.93 L229.39 165.84 L230.57 164.7 L231.76 163.57 L232.95 162.48 L259.07 162.48" fill="none" stroke="#F2821C" stroke-width="1.9" stroke-linejoin="round" stroke-linecap="round" opacity="1"/>
<path d="M47.7 192.99 L48.89 193.06 L50.08 193.13 L51.26 193.2 L52.45 193.27 L53.64 193.34 L54.83 193.41 L56.01 193.48 L57.2 193.55 L58.39 193.62 L59.58 193.69 L60.76 193.76 L61.95 193.83 L63.14 193.9 L64.33 193.97 L65.51 194.04 L66.7 194.11 L67.89 194.18 L69.08 194.26 L70.26 194.33 L71.45 194.4 L72.64 194.48 L73.83 194.55 L75.01 194.63 L76.2 194.7 L77.39 194.78 L78.58 194.86 L79.76 194.93 L80.95 195.01 L82.14 195.09 L83.33 195.17 L84.51 195.25 L85.7 195.33 L86.89 195.41 L88.08 195.49 L89.26 195.57 L90.45 195.66 L91.64 195.74 L92.83 195.82 L94.01 195.9 L95.2 195.99 L96.39 196.07 L97.58 196.15 L98.76 196.24 L99.95 196.32 L101.14 196.41 L102.33 196.49 L103.51 196.58 L104.7 196.66 L105.89 196.75 L107.08 196.83 L108.26 196.92 L109.45 197 L110.64 197.09 L111.83 197.17 L113.01 197.26 L114.2 197.34 L115.39 197.43 L116.58 197.51 L117.76 197.59 L118.95 197.68 L120.14 197.76 L121.33 197.85 L122.51 197.93 L123.7 198.01 L124.89 198.1 L126.08 198.18 L127.26 198.26 L128.45 198.35 L129.64 198.43 L130.82 198.51 L132.01 198.59 L133.2 198.67 L134.39 198.75 L135.57 198.82 L136.76 198.9 L137.95 198.97 L139.14 199.05 L140.32 199.12 L141.51 199.19 L142.7 199.26 L143.89 199.33 L145.07 199.4 L146.26 199.47 L147.45 199.54 L148.64 199.61 L149.82 199.67 L151.01 199.74 L152.2 199.81 L153.39 199.88 L154.57 199.95 L155.76 200.01 L156.95 200.08 L158.14 200.15 L159.32 200.22 L160.51 200.29 L161.7 200.36 L162.89 200.43 L164.07 200.5 L165.26 200.58 L166.45 200.65 L167.64 200.72 L168.82 200.8 L170.01 200.88 L171.2 200.95 L172.39 201.03 L173.57 201.12 L174.76 201.2 L175.95 201.28 L177.14 201.37 L178.32 201.46 L179.51 201.55 L180.7 201.64 L181.89 201.73 L183.07 201.83 L184.26 201.93 L185.45 202.03 L186.64 202.13 L187.82 202.24 L189.01 202.35 L190.2 202.46 L191.39 202.57 L192.57 202.69 L193.76 202.81 L194.95 202.94 L196.14 203.08 L197.32 203.24 L198.51 203.4 L199.7 203.57 L200.89 203.75 L202.07 203.94 L203.26 204.13 L204.45 204.33 L205.64 204.53 L206.82 204.74 L208.01 204.95 L209.2 205.16 L210.39 205.38 L211.57 205.6 L212.76 205.81 L213.95 206.03 L215.14 206.25 L215.43 206.3 L215.73 206.36 L216.03 206.41 L216.32 206.46 L216.62 206.52 L216.92 206.57 L217.22 206.63 L217.51 206.68 L217.81 206.73 L218.11 206.79 L218.4 206.84 L218.7 206.89 L219 206.95 L219.29 207 L219.59 207.05 L219.89 207.1 L220.18 207.16 L220.48 207.21 L220.78 207.26 L221.07 207.32 L221.37 207.37 L221.67 207.42 L221.97 207.48 L222.26 207.53 L222.56 207.59 L222.86 207.64 L223.15 207.7 L223.45 207.75 L223.75 207.81 L224.04 207.87 L224.34 207.92 L224.64 207.98 L224.93 208.04 L225.23 208.1 L225.53 208.16 L225.82 208.22 L226.12 208.28 L226.42 208.34 L226.72 208.4 L227.01 208.46 L227.31 208.52 L227.61 208.59 L227.9 208.65 L228.2 208.71 L228.5 208.78 L228.79 208.85 L229.09 208.91 L229.39 208.98 L229.68 209.05 L229.98 209.12 L230.28 209.19 L230.57 209.26 L230.87 209.33 L231.17 209.41 L231.47 209.48 L231.76 209.56 L232.06 209.63 L232.36 209.71 L232.65 209.79 L232.95 209.87 L233.25 209.96 L233.54 210.04 L233.84 210.13 L234.14 210.21 L234.43 210.3 L234.73 210.39 L235.03 210.49 L235.32 210.58 L235.62 210.68 L235.92 210.78 L236.22 210.88 L236.51 210.98 L236.81 211.09 L237.11 211.2 L237.4 211.31 L237.7 211.42 L238 211.54 L238.29 211.66 L238.59 211.78 L238.89 211.91 L239.18 212.04 L239.48 212.17 L239.78 212.31 L240.07 212.45 L240.37 212.59 L240.67 212.74 L240.97 212.89 L241.26 213.05 L241.56 213.21 L241.86 213.38 L242.15 213.55 L242.45 213.73 L242.75 213.91 L243.04 214.1 L243.34 214.29 L243.64 214.49 L243.93 214.7 L244.23 214.92 L244.53 215.14 L244.82 215.37 L245.12 215.6 L245.42 215.85 L245.72 216.1 L246.01 216.36 L246.31 216.63 L246.61 216.92 L246.9 217.21 L247.2 217.51 L247.5 217.82 L247.79 218.14 L248.09 218.48 L248.39 218.82 L248.68 219.18 L248.98 219.56 L249.28 219.94 L249.57 220.34 L249.87 220.76 L250.17 221.19 L250.47 221.64 L250.76 222.11 L251.06 222.59 L251.36 223.09 L251.65 223.61 L251.95 224.16 L252.25 224.72 L252.54 225.3 L252.84 225.91 L253.14 226.54 L253.43 227.2 L253.73 227.88 L254.03 228.59 L254.32 229.33 L254.62 230.1 L254.92 230.89 L255.22 231.72 L255.51 232.58 L255.81 233.48 L256.11 234.42 L256.4 235.39 L256.7 236.4 L257 237.45 L257.29 238.54 L257.59 239.68 L257.89 240.87" fill="none" stroke="#F2821C" stroke-width="1.9" stroke-linejoin="round" stroke-linecap="round" opacity="1"/>
<path d="M47.7 199.76 L48.89 199.66 L50.08 199.55 L51.26 199.45 L52.45 199.34 L53.64 199.24 L54.83 199.13 L56.01 199.02 L57.2 198.92 L58.39 198.81 L59.58 198.71 L60.76 198.6 L61.95 198.49 L63.14 198.39 L64.33 198.28 L65.51 198.18 L66.7 198.07 L67.89 197.96 L69.08 197.86 L70.26 197.75 L71.45 197.65 L72.64 197.54 L73.83 197.43 L75.01 197.33 L76.2 197.22 L77.39 197.12 L78.58 197.01 L79.76 196.9 L80.95 196.8 L82.14 196.69 L83.33 196.59 L84.51 196.48 L85.7 196.38 L86.89 196.27 L88.08 196.16 L89.26 196.06 L90.45 195.95 L91.64 195.85 L92.83 195.74 L94.01 195.63 L95.2 195.53 L96.39 195.42 L97.58 195.31 L98.76 195.21 L99.95 195.1 L101.14 194.99 L102.33 194.88 L103.51 194.77 L104.7 194.66 L105.89 194.55 L107.08 194.44 L108.26 194.33 L109.45 194.22 L110.64 194.11 L111.83 194 L113.01 193.89 L114.2 193.78 L115.39 193.67 L116.58 193.56 L117.76 193.45 L118.95 193.34 L120.14 193.23 L121.33 193.12 L122.51 193.01 L123.7 192.9 L124.89 192.8 L126.08 192.69 L127.26 192.58 L128.45 192.48 L129.64 192.37 L130.82 192.27 L132.01 192.17 L133.2 192.06 L134.39 191.96 L135.57 191.86 L136.76 191.77 L137.95 191.67 L139.14 191.57 L140.32 191.48 L141.51 191.38 L142.7 191.29 L143.89 191.2 L145.07 191.11 L146.26 191.02 L147.45 190.94 L148.64 190.86 L149.82 190.78 L151.01 190.7 L152.2 190.62 L153.39 190.54 L154.57 190.47 L155.76 190.39 L156.95 190.32 L158.14 190.25 L159.32 190.17 L160.51 190.1 L161.7 190.03 L162.89 189.96 L164.07 189.89 L165.26 189.82 L166.45 189.75 L167.64 189.68 L168.82 189.61 L170.01 189.53 L171.2 189.46 L172.39 189.39 L173.57 189.31 L174.76 189.24 L175.95 189.16 L177.14 189.08 L178.32 189.01 L179.51 188.92 L180.7 188.84 L181.89 188.76 L183.07 188.67 L184.26 188.58 L185.45 188.49 L186.64 188.4 L187.82 188.31 L189.01 188.21 L190.2 188.11 L191.39 188.01 L192.57 187.9 L193.76 187.79 L194.95 187.68 L196.14 187.57 L197.32 187.46 L198.51 187.34 L199.7 187.22 L200.89 187.1 L202.07 186.98 L203.26 186.85 L204.45 186.72 L205.64 186.59 L206.82 186.45 L208.01 186.31 L209.2 186.17 L210.39 186.02 L211.57 185.87 L212.76 185.71 L213.95 185.55 L215.14 185.39 L216.32 185.22 L217.51 185.04 L218.7 184.86 L219.89 184.68 L221.07 184.49 L222.26 184.29 L223.45 184.09 L224.64 183.88 L225.82 183.66 L227.01 183.44 L228.2 183.2 L229.39 182.95 L230.57 182.69 L231.76 182.41 L232.95 182.12 L234.14 181.81 L235.32 181.49 L236.51 181.15 L237.7 180.8 L238.89 180.42 L240.07 180.03 L241.26 179.63 L242.45 179.2 L243.64 178.76 L244.82 178.29 L246.01 177.81 L247.2 177.31 L248.39 176.77 L249.57 176.17 L250.76 175.51 L251.95 174.78 L253.14 173.96 L254.32 173.06 L255.51 172.06 L256.7 170.95 L258.04 169.29 L259.37 167.12 L260.71 164.75 L262.04 162.48 L282.23 162.48" fill="none" stroke="#E47416" stroke-width="1.9" stroke-linejoin="round" stroke-linecap="round" opacity="1"/>
<path d="M47.7 184.93 L48.89 184.95 L50.08 184.97 L51.26 184.99 L52.45 185.01 L53.64 185.03 L54.83 185.05 L56.01 185.07 L57.2 185.09 L58.39 185.1 L59.58 185.12 L60.76 185.14 L61.95 185.16 L63.14 185.18 L64.33 185.2 L65.51 185.23 L66.7 185.25 L67.89 185.27 L69.08 185.3 L70.26 185.33 L71.45 185.36 L72.64 185.39 L73.83 185.42 L75.01 185.46 L76.2 185.49 L77.39 185.53 L78.58 185.57 L79.76 185.62 L80.95 185.66 L82.14 185.71 L83.33 185.75 L84.51 185.8 L85.7 185.86 L86.89 185.91 L88.08 185.96 L89.26 186.02 L90.45 186.08 L91.64 186.14 L92.83 186.2 L94.01 186.26 L95.2 186.32 L96.39 186.39 L97.58 186.45 L98.76 186.52 L99.95 186.59 L101.14 186.66 L102.33 186.73 L103.51 186.81 L104.7 186.88 L105.89 186.96 L107.08 187.03 L108.26 187.11 L109.45 187.19 L110.64 187.27 L111.83 187.35 L113.01 187.43 L114.2 187.51 L115.39 187.6 L116.58 187.68 L117.76 187.77 L118.95 187.85 L120.14 187.94 L121.33 188.02 L122.51 188.11 L123.7 188.2 L124.89 188.29 L126.08 188.38 L127.26 188.47 L128.45 188.56 L129.64 188.66 L130.82 188.75 L132.01 188.84 L133.2 188.94 L134.39 189.04 L135.57 189.15 L136.76 189.26 L137.95 189.38 L139.14 189.5 L140.32 189.62 L141.51 189.74 L142.7 189.87 L143.89 190 L145.07 190.14 L146.26 190.28 L147.45 190.42 L148.64 190.56 L149.82 190.7 L151.01 190.85 L152.2 191 L153.39 191.15 L154.57 191.3 L155.76 191.46 L156.95 191.62 L158.14 191.77 L159.32 191.93 L160.51 192.09 L161.7 192.26 L162.89 192.42 L164.07 192.58 L165.26 192.74 L166.45 192.91 L167.64 193.07 L168.82 193.24 L170.01 193.4 L171.2 193.57 L172.39 193.73 L173.57 193.9 L174.76 194.06 L175.95 194.23 L177.14 194.39 L178.32 194.55 L179.51 194.71 L180.7 194.87 L181.89 195.03 L183.07 195.19 L184.26 195.34 L185.45 195.49 L186.64 195.65 L187.82 195.8 L189.01 195.94 L190.2 196.09 L191.39 196.23 L192.57 196.38 L193.76 196.51 L194.95 196.65 L196.14 196.79 L197.32 196.93 L198.51 197.07 L199.7 197.2 L200.89 197.34 L202.07 197.47 L203.26 197.61 L204.45 197.74 L205.64 197.88 L206.82 198.01 L208.01 198.15 L209.2 198.28 L210.39 198.41 L211.57 198.55 L212.76 198.68 L213.95 198.81 L215.14 198.95 L216.32 199.08 L217.51 199.21 L218.7 199.34 L219.89 199.47 L221.07 199.61 L222.26 199.74 L223.45 199.87 L224.64 200 L225.82 200.13 L227.01 200.27 L228.2 200.4 L229.39 200.53 L230.57 200.66 L231.76 200.8 L232.95 200.93 L234.14 201.07 L235.32 201.2 L236.51 201.34 L237.7 201.47 L238.89 201.61 L240.07 201.74 L241.26 201.88 L242.45 202.02 L243.64 202.16 L244.82 202.3 L246.01 202.45 L247.2 202.59 L248.39 202.74 L249.57 202.9 L249.87 202.94 L250.17 202.98 L250.47 203.02 L250.76 203.06 L251.06 203.1 L251.36 203.14 L251.65 203.18 L251.95 203.22 L252.25 203.26 L252.54 203.31 L252.84 203.35 L253.14 203.39 L253.43 203.44 L253.73 203.48 L254.03 203.53 L254.32 203.58 L254.62 203.62 L254.92 203.67 L255.22 203.72 L255.51 203.77 L255.81 203.82 L256.11 203.87 L256.4 203.93 L256.7 203.98 L257 204.04 L257.29 204.09 L257.59 204.15 L257.89 204.21 L258.18 204.27 L258.48 204.33 L258.78 204.4 L259.07 204.46 L259.37 204.53 L259.67 204.6 L259.97 204.67 L260.26 204.74 L260.56 204.82 L260.86 204.9 L261.15 204.98 L261.45 205.06 L261.75 205.15 L262.04 205.24 L262.34 205.33 L262.64 205.42 L262.93 205.52 L263.23 205.63 L263.53 205.73 L263.82 205.84 L264.12 205.96 L264.42 206.08 L264.72 206.21 L265.01 206.34 L265.31 206.47 L265.61 206.61 L265.9 206.76 L266.2 206.92 L266.5 207.08 L266.79 207.25 L267.09 207.43 L267.39 207.61 L267.68 207.8 L267.98 208.01 L268.28 208.22 L268.57 208.44 L268.87 208.68 L269.17 208.92 L269.47 209.18 L269.76 209.45 L270.06 209.73 L270.36 210.03 L270.65 210.34 L270.95 210.67 L271.25 211.02 L271.54 211.38 L271.84 211.76 L272.14 212.16 L272.43 212.59 L272.73 213.03 L273.03 213.5 L273.32 213.99 L273.62 214.51 L273.92 215.06 L274.22 215.64 L274.51 216.25 L274.81 216.89 L275.11 217.57 L275.4 218.28 L275.7 219.03 L276 219.82 L276.29 220.66 L276.59 221.54 L276.89 222.47 L277.18 223.45 L277.48 224.49 L277.78 225.58 L278.07 226.73 L278.37 227.95 L278.67 229.24 L278.97 230.59 L279.26 232.03 L279.56 233.54 L279.86 235.13 L280.15 236.82 L280.45 238.6 L280.75 240.48 L280.81 240.87" fill="none" stroke="#E47416" stroke-width="1.9" stroke-linejoin="round" stroke-linecap="round" opacity="1"/>
<path d="M47.7 201.46 L48.89 201.39 L50.08 201.32 L51.26 201.25 L52.45 201.18 L53.64 201.11 L54.83 201.04 L56.01 200.96 L57.2 200.89 L58.39 200.82 L59.58 200.75 L60.76 200.68 L61.95 200.61 L63.14 200.54 L64.33 200.47 L65.51 200.4 L66.7 200.33 L67.89 200.25 L69.08 200.18 L70.26 200.11 L71.45 200.04 L72.64 199.97 L73.83 199.9 L75.01 199.83 L76.2 199.76 L77.39 199.69 L78.58 199.62 L79.76 199.55 L80.95 199.48 L82.14 199.41 L83.33 199.34 L84.51 199.27 L85.7 199.2 L86.89 199.14 L88.08 199.07 L89.26 199 L90.45 198.94 L91.64 198.87 L92.83 198.81 L94.01 198.75 L95.2 198.68 L96.39 198.62 L97.58 198.55 L98.76 198.49 L99.95 198.43 L101.14 198.36 L102.33 198.3 L103.51 198.23 L104.7 198.17 L105.89 198.1 L107.08 198.03 L108.26 197.97 L109.45 197.9 L110.64 197.83 L111.83 197.76 L113.01 197.68 L114.2 197.61 L115.39 197.54 L116.58 197.46 L117.76 197.38 L118.95 197.3 L120.14 197.22 L121.33 197.14 L122.51 197.06 L123.7 196.97 L124.89 196.88 L126.08 196.79 L127.26 196.7 L128.45 196.61 L129.64 196.51 L130.82 196.42 L132.01 196.32 L133.2 196.22 L134.39 196.12 L135.57 196.02 L136.76 195.92 L137.95 195.82 L139.14 195.71 L140.32 195.61 L141.51 195.5 L142.7 195.39 L143.89 195.29 L145.07 195.18 L146.26 195.07 L147.45 194.96 L148.64 194.85 L149.82 194.74 L151.01 194.63 L152.2 194.51 L153.39 194.4 L154.57 194.29 L155.76 194.17 L156.95 194.06 L158.14 193.95 L159.32 193.83 L160.51 193.72 L161.7 193.6 L162.89 193.48 L164.07 193.36 L165.26 193.24 L166.45 193.12 L167.64 192.99 L168.82 192.87 L170.01 192.74 L171.2 192.61 L172.39 192.48 L173.57 192.35 L174.76 192.22 L175.95 192.09 L177.14 191.96 L178.32 191.83 L179.51 191.69 L180.7 191.56 L181.89 191.43 L183.07 191.3 L184.26 191.16 L185.45 191.03 L186.64 190.9 L187.82 190.76 L189.01 190.63 L190.2 190.5 L191.39 190.37 L192.57 190.24 L193.76 190.11 L194.95 189.98 L196.14 189.85 L197.32 189.72 L198.51 189.59 L199.7 189.47 L200.89 189.35 L202.07 189.23 L203.26 189.11 L204.45 188.99 L205.64 188.88 L206.82 188.77 L208.01 188.65 L209.2 188.54 L210.39 188.43 L211.57 188.32 L212.76 188.21 L213.95 188.1 L215.14 187.98 L216.32 187.87 L217.51 187.76 L218.7 187.64 L219.89 187.53 L221.07 187.41 L222.26 187.29 L223.45 187.17 L224.64 187.04 L225.82 186.92 L227.01 186.79 L228.2 186.65 L229.39 186.52 L230.57 186.38 L231.76 186.24 L232.95 186.09 L234.14 185.94 L235.32 185.78 L236.51 185.62 L237.7 185.46 L238.89 185.3 L240.07 185.14 L241.26 184.98 L242.45 184.81 L243.64 184.64 L244.82 184.46 L246.01 184.28 L247.2 184.09 L248.39 183.89 L249.57 183.69 L250.76 183.48 L251.95 183.26 L253.14 183.03 L254.32 182.8 L255.51 182.55 L256.7 182.29 L257.89 182.02 L259.07 181.73 L260.26 181.43 L261.45 181.12 L262.64 180.78 L263.82 180.39 L265.01 179.96 L266.2 179.49 L267.39 178.97 L268.57 178.4 L269.76 177.8 L270.95 177.15 L272.14 176.46 L273.32 175.68 L274.51 174.78 L275.7 173.76 L276.89 172.63 L278.07 171.41 L279.26 170.1 L280.54 168.45 L281.82 166.52 L283.09 164.47 L284.37 162.48 L295.29 162.48" fill="none" stroke="#D66610" stroke-width="1.9" stroke-linejoin="round" stroke-linecap="round" opacity="1"/>
<path d="M47.7 180.27 L48.89 180.58 L50.08 180.91 L51.26 181.24 L52.45 181.54 L53.64 181.79 L54.83 181.97 L56.01 182.09 L57.2 182.21 L58.39 182.32 L59.58 182.42 L60.76 182.52 L61.95 182.61 L63.14 182.7 L64.33 182.78 L65.51 182.86 L66.7 182.93 L67.89 183 L69.08 183.06 L70.26 183.12 L71.45 183.18 L72.64 183.23 L73.83 183.29 L75.01 183.34 L76.2 183.39 L77.39 183.44 L78.58 183.48 L79.76 183.53 L80.95 183.57 L82.14 183.62 L83.33 183.66 L84.51 183.71 L85.7 183.76 L86.89 183.81 L88.08 183.86 L89.26 183.91 L90.45 183.96 L91.64 184.02 L92.83 184.08 L94.01 184.14 L95.2 184.2 L96.39 184.27 L97.58 184.35 L98.76 184.43 L99.95 184.51 L101.14 184.6 L102.33 184.69 L103.51 184.78 L104.7 184.88 L105.89 184.98 L107.08 185.09 L108.26 185.19 L109.45 185.3 L110.64 185.42 L111.83 185.53 L113.01 185.65 L114.2 185.77 L115.39 185.89 L116.58 186.01 L117.76 186.14 L118.95 186.26 L120.14 186.39 L121.33 186.52 L122.51 186.65 L123.7 186.78 L124.89 186.91 L126.08 187.04 L127.26 187.18 L128.45 187.31 L129.64 187.44 L130.82 187.58 L132.01 187.71 L133.2 187.84 L134.39 187.97 L135.57 188.11 L136.76 188.24 L137.95 188.37 L139.14 188.5 L140.32 188.63 L141.51 188.75 L142.7 188.88 L143.89 189 L145.07 189.13 L146.26 189.25 L147.45 189.36 L148.64 189.48 L149.82 189.59 L151.01 189.71 L152.2 189.82 L153.39 189.93 L154.57 190.04 L155.76 190.14 L156.95 190.25 L158.14 190.35 L159.32 190.46 L160.51 190.56 L161.7 190.66 L162.89 190.77 L164.07 190.87 L165.26 190.97 L166.45 191.07 L167.64 191.17 L168.82 191.27 L170.01 191.37 L171.2 191.47 L172.39 191.57 L173.57 191.67 L174.76 191.78 L175.95 191.88 L177.14 191.98 L178.32 192.08 L179.51 192.19 L180.7 192.29 L181.89 192.4 L183.07 192.51 L184.26 192.61 L185.45 192.72 L186.64 192.83 L187.82 192.94 L189.01 193.06 L190.2 193.17 L191.39 193.29 L192.57 193.41 L193.76 193.53 L194.95 193.65 L196.14 193.77 L197.32 193.89 L198.51 194.02 L199.7 194.14 L200.89 194.27 L202.07 194.4 L203.26 194.52 L204.45 194.65 L205.64 194.78 L206.82 194.91 L208.01 195.05 L209.2 195.18 L210.39 195.31 L211.57 195.45 L212.76 195.58 L213.95 195.72 L215.14 195.85 L216.32 195.99 L217.51 196.13 L218.7 196.27 L219.89 196.41 L221.07 196.55 L222.26 196.69 L223.45 196.84 L224.64 196.98 L225.82 197.12 L227.01 197.27 L228.2 197.42 L229.39 197.56 L230.57 197.71 L231.76 197.86 L232.95 198.01 L234.14 198.16 L235.32 198.31 L236.51 198.46 L237.7 198.61 L238.89 198.76 L240.07 198.92 L241.26 199.07 L242.45 199.23 L243.64 199.39 L244.82 199.56 L246.01 199.72 L247.2 199.89 L248.39 200.06 L249.57 200.23 L250.76 200.4 L251.95 200.57 L253.14 200.75 L254.32 200.92 L255.51 201.1 L256.7 201.27 L257.89 201.45 L259.07 201.62 L260.26 201.8 L261.45 201.97 L262.64 202.15 L263.82 202.32 L265.01 202.5 L266.2 202.68 L267.39 202.86 L268.57 203.04 L269.76 203.23 L270.95 203.43 L271.25 203.48 L271.54 203.53 L271.84 203.58 L272.14 203.63 L272.43 203.69 L272.73 203.74 L273.03 203.8 L273.32 203.86 L273.62 203.91 L273.92 203.97 L274.22 204.03 L274.51 204.1 L274.81 204.16 L275.11 204.22 L275.4 204.29 L275.7 204.36 L276 204.43 L276.29 204.51 L276.59 204.58 L276.89 204.66 L277.18 204.74 L277.48 204.83 L277.78 204.92 L278.07 205.01 L278.37 205.11 L278.67 205.21 L278.97 205.32 L279.26 205.43 L279.56 205.54 L279.86 205.67 L280.15 205.8 L280.45 205.93 L280.75 206.08 L281.04 206.23 L281.34 206.39 L281.64 206.56 L281.93 206.74 L282.23 206.94 L282.53 207.14 L282.82 207.36 L283.12 207.59 L283.42 207.84 L283.72 208.11 L284.01 208.39 L284.31 208.69 L284.61 209.01 L284.9 209.36 L285.2 209.73 L285.5 210.13 L285.79 210.56 L286.09 211.01 L286.39 211.5 L286.68 212.03 L286.98 212.6 L287.28 213.21 L287.57 213.87 L287.87 214.57 L288.17 215.33 L288.47 216.15 L288.76 217.03 L289.06 217.98 L289.36 219.01 L289.65 220.11 L289.95 221.3 L290.25 222.58 L290.54 223.96 L290.84 225.46 L291.14 227.07 L291.43 228.8 L291.73 230.68 L292.03 232.7 L292.32 234.89 L292.62 237.25 L292.92 239.79 L293.04 240.87" fill="none" stroke="#D66610" stroke-width="1.9" stroke-linejoin="round" stroke-linecap="round" opacity="1"/>
<rect x="42.8" y="150" width="266.5" height="103.4" fill="none" stroke="#000" stroke-width="2"/>
<line x1="42.8" y1="247.22" x2="45.6" y2="247.22" stroke="#000" stroke-width="1.4" stroke-linecap="butt"/>
<line x1="42.8" y1="238.75" x2="46.8" y2="238.75" stroke="#000" stroke-width="1.4" stroke-linecap="butt"/>
<line x1="42.8" y1="230.28" x2="45.6" y2="230.28" stroke="#000" stroke-width="1.4" stroke-linecap="butt"/>
<line x1="42.8" y1="221.8" x2="46.8" y2="221.8" stroke="#000" stroke-width="1.4" stroke-linecap="butt"/>
<line x1="42.8" y1="213.32" x2="45.6" y2="213.32" stroke="#000" stroke-width="1.4" stroke-linecap="butt"/>
<line x1="42.8" y1="204.85" x2="46.8" y2="204.85" stroke="#000" stroke-width="1.4" stroke-linecap="butt"/>
<line x1="42.8" y1="196.38" x2="45.6" y2="196.38" stroke="#000" stroke-width="1.4" stroke-linecap="butt"/>
<line x1="42.8" y1="187.9" x2="46.8" y2="187.9" stroke="#000" stroke-width="1.4" stroke-linecap="butt"/>
<line x1="42.8" y1="179.43" x2="45.6" y2="179.43" stroke="#000" stroke-width="1.4" stroke-linecap="butt"/>
<line x1="42.8" y1="170.95" x2="46.8" y2="170.95" stroke="#000" stroke-width="1.4" stroke-linecap="butt"/>
<line x1="42.8" y1="162.48" x2="45.6" y2="162.48" stroke="#000" stroke-width="1.4" stroke-linecap="butt"/>
<line x1="42.8" y1="154" x2="46.8" y2="154" stroke="#000" stroke-width="1.4" stroke-linecap="butt"/>
<line x1="47.7" y1="253.4" x2="47.7" y2="249.4" stroke="#000" stroke-width="1.4" stroke-linecap="butt"/>
<line x1="71.45" y1="253.4" x2="71.45" y2="250.6" stroke="#000" stroke-width="1.4" stroke-linecap="butt"/>
<line x1="95.2" y1="253.4" x2="95.2" y2="249.4" stroke="#000" stroke-width="1.4" stroke-linecap="butt"/>
<line x1="118.95" y1="253.4" x2="118.95" y2="250.6" stroke="#000" stroke-width="1.4" stroke-linecap="butt"/>
<line x1="142.7" y1="253.4" x2="142.7" y2="249.4" stroke="#000" stroke-width="1.4" stroke-linecap="butt"/>
<line x1="166.45" y1="253.4" x2="166.45" y2="250.6" stroke="#000" stroke-width="1.4" stroke-linecap="butt"/>
<line x1="190.2" y1="253.4" x2="190.2" y2="249.4" stroke="#000" stroke-width="1.4" stroke-linecap="butt"/>
<line x1="213.95" y1="253.4" x2="213.95" y2="250.6" stroke="#000" stroke-width="1.4" stroke-linecap="butt"/>
<line x1="237.7" y1="253.4" x2="237.7" y2="249.4" stroke="#000" stroke-width="1.4" stroke-linecap="butt"/>
<line x1="261.45" y1="253.4" x2="261.45" y2="250.6" stroke="#000" stroke-width="1.4" stroke-linecap="butt"/>
<line x1="285.2" y1="253.4" x2="285.2" y2="249.4" stroke="#000" stroke-width="1.4" stroke-linecap="butt"/>
<line x1="308.95" y1="253.4" x2="308.95" y2="250.6" stroke="#000" stroke-width="1.4" stroke-linecap="butt"/>
<text x="38.5" y="242.55" font-size="10.1" font-weight="bold" fill="#111" text-anchor="end" textLength="13.4" lengthAdjust="spacingAndGlyphs" stroke="#111" stroke-width="0.2">2.8</text>
<text x="38.5" y="225.6" font-size="10.1" font-weight="bold" fill="#111" text-anchor="end" textLength="13.4" lengthAdjust="spacingAndGlyphs" stroke="#111" stroke-width="0.2">3.2</text>
<text x="38.5" y="208.65" font-size="10.1" font-weight="bold" fill="#111" text-anchor="end" textLength="13.4" lengthAdjust="spacingAndGlyphs" stroke="#111" stroke-width="0.2">3.6</text>
<text x="38.5" y="191.7" font-size="10.1" font-weight="bold" fill="#111" text-anchor="end" textLength="13.4" lengthAdjust="spacingAndGlyphs" stroke="#111" stroke-width="0.2">4.0</text>
<text x="38.5" y="174.75" font-size="10.1" font-weight="bold" fill="#111" text-anchor="end" textLength="13.4" lengthAdjust="spacingAndGlyphs" stroke="#111" stroke-width="0.2">4.4</text>
<text x="38.5" y="157.8" font-size="10.1" font-weight="bold" fill="#111" text-anchor="end" textLength="13.4" lengthAdjust="spacingAndGlyphs" stroke="#111" stroke-width="0.2">4.8</text>
<text x="47.7" y="265.9" font-size="10.1" font-weight="bold" fill="#111" text-anchor="middle" textLength="5.2" lengthAdjust="spacingAndGlyphs" stroke="#111" stroke-width="0.2">0</text>
<text x="95.2" y="265.9" font-size="10.1" font-weight="bold" fill="#111" text-anchor="middle" textLength="10.4" lengthAdjust="spacingAndGlyphs" stroke="#111" stroke-width="0.2">40</text>
<text x="142.7" y="265.9" font-size="10.1" font-weight="bold" fill="#111" text-anchor="middle" textLength="10.4" lengthAdjust="spacingAndGlyphs" stroke="#111" stroke-width="0.2">80</text>
<text x="190.2" y="265.9" font-size="10.1" font-weight="bold" fill="#111" text-anchor="middle" textLength="15.6" lengthAdjust="spacingAndGlyphs" stroke="#111" stroke-width="0.2">120</text>
<text x="237.7" y="265.9" font-size="10.1" font-weight="bold" fill="#111" text-anchor="middle" textLength="15.6" lengthAdjust="spacingAndGlyphs" stroke="#111" stroke-width="0.2">160</text>
<text x="285.2" y="265.9" font-size="10.1" font-weight="bold" fill="#111" text-anchor="middle" textLength="15.6" lengthAdjust="spacingAndGlyphs" stroke="#111" stroke-width="0.2">200</text>
<text x="12.4" y="234.8" font-size="10" font-weight="bold" fill="#111" text-anchor="start" textLength="50.5" lengthAdjust="spacingAndGlyphs" transform="rotate(-90 12.4 234.8)" stroke="#111" stroke-width="0.2">Voltage (V)</text>
<text x="134.4" y="283.8" font-size="10" font-weight="bold" fill="#111" text-anchor="start" textLength="73.9" lengthAdjust="spacingAndGlyphs" stroke="#111" stroke-width="0.2">Capacity (mAh g</text>
<text x="209" y="279.8" font-size="7" font-weight="normal" fill="#111" text-anchor="start" textLength="5.4" lengthAdjust="spacingAndGlyphs" stroke="#111" stroke-width="0.3">-1</text>
<text x="214.4" y="283.8" font-size="10" font-weight="bold" fill="#111" text-anchor="start" textLength="2.9" lengthAdjust="spacingAndGlyphs" stroke="#111" stroke-width="0.2">)</text>
<text x="0.4" y="161.2" font-size="19.5" font-weight="bold" fill="#111" text-anchor="start" stroke="#111" stroke-width="0.2">c</text>
<text x="50.4" y="165.6" font-size="10" font-weight="bold" fill="#FF8A1C" text-anchor="start" textLength="94.3" lengthAdjust="spacingAndGlyphs" stroke="#FF8A1C" stroke-width="0.15">2.75-4.6 V, 100 mA g</text>
<text x="145" y="160.9" font-size="6.6" font-weight="normal" fill="#FF8A1C" text-anchor="start" textLength="4.9" lengthAdjust="spacingAndGlyphs" stroke="#FF8A1C" stroke-width="0.35">-1</text>
<text x="59.3" y="241.8" font-size="10" font-weight="bold" fill="#FF8A1C" text-anchor="start" textLength="72.4" lengthAdjust="spacingAndGlyphs" stroke="#FF8A1C" stroke-width="0.2">Undoped SNCM</text>
<line x1="292.5" y1="244.3" x2="215.8" y2="244.3" stroke="#000" stroke-width="1.6" stroke-linecap="butt"/>
<path d="M204.6 244.3 L216.8 240.8 L217.4 244.3 L216.8 247.8 Z" fill="#000"/>
<text x="173" y="249.4" font-size="9.6" font-weight="bold" fill="#111" text-anchor="start" textLength="26" lengthAdjust="spacingAndGlyphs" stroke="#111" stroke-width="0.2">150th</text>
<text x="292.5" y="251.6" font-size="9.6" font-weight="bold" fill="#111" text-anchor="start" textLength="13.5" lengthAdjust="spacingAndGlyphs" stroke="#111" stroke-width="0.2">1st</text>
<path d="M392 198.49 L393.2 198.33 L394.4 198.18 L395.59 198.02 L396.79 197.87 L397.99 197.72 L399.19 197.56 L400.39 197.41 L401.58 197.26 L402.78 197.11 L403.98 196.97 L405.18 196.82 L406.37 196.67 L407.57 196.52 L408.77 196.37 L409.97 196.21 L411.17 196.06 L412.36 195.91 L413.56 195.75 L414.76 195.59 L415.96 195.43 L417.16 195.27 L418.35 195.1 L419.55 194.93 L420.75 194.76 L421.95 194.58 L423.15 194.4 L424.34 194.21 L425.54 194.03 L426.74 193.83 L427.95 193.63 L429.16 193.42 L430.37 193.21 L431.58 192.99 L432.79 192.76 L434 192.52 L435.21 192.29 L436.42 192.04 L437.63 191.79 L438.85 191.54 L440.06 191.28 L441.27 191.02 L442.48 190.76 L443.69 190.5 L444.9 190.23 L446.11 189.96 L447.32 189.68 L448.53 189.41 L449.74 189.13 L450.95 188.86 L452.16 188.58 L453.37 188.3 L454.58 188.03 L455.79 187.75 L457 187.48 L458.22 187.21 L459.43 186.93 L460.64 186.66 L461.85 186.4 L463.06 186.13 L464.27 185.87 L465.48 185.61 L466.69 185.36 L467.9 185.11 L469.1 184.86 L470.31 184.61 L471.51 184.36 L472.72 184.11 L473.93 183.86 L475.13 183.61 L476.34 183.36 L477.55 183.12 L478.75 182.87 L479.96 182.62 L481.16 182.38 L482.37 182.13 L483.58 181.88 L484.78 181.64 L485.99 181.39 L487.2 181.15 L488.4 180.9 L489.61 180.66 L490.81 180.41 L492.02 180.16 L493.23 179.92 L494.43 179.67 L495.64 179.43 L496.84 179.18 L498.05 178.94 L499.26 178.69 L500.46 178.44 L501.67 178.2 L502.88 177.95 L504.08 177.7 L505.29 177.45 L506.49 177.21 L507.7 176.96 L508.91 176.71 L510.11 176.46 L511.33 176.21 L512.55 175.96 L513.76 175.7 L514.98 175.45 L516.19 175.2 L517.41 174.95 L518.62 174.7 L519.84 174.45 L521.06 174.2 L522.27 173.94 L523.49 173.69 L524.7 173.44 L525.92 173.18 L527.14 172.93 L528.35 172.67 L529.57 172.41 L530.78 172.16 L532 171.9 L533.21 171.64 L534.43 171.37 L535.66 171.11 L536.88 170.85 L538.11 170.6 L539.34 170.35 L540.56 170.1 L541.79 169.85 L543.01 169.6 L544.24 169.35 L545.47 169.09 L546.69 168.83 L547.92 168.56 L549.14 168.28 L550.37 167.99 L551.6 167.69 L552.82 167.38 L554.05 167.05 L555.27 166.71 L556.49 166.35 L557.71 165.96 L558.92 165.53 L560.14 165.08 L561.35 164.59 L562.8 163.94 L564.25 163.21 L565.7 162.48 L586.7 162.48" fill="none" stroke="#9494de" stroke-width="1.8" stroke-linejoin="round" stroke-linecap="round" opacity="1"/>
<path d="M392 192.14 L393.18 192.7 L394.36 193.33 L395.54 193.93 L396.72 194.4 L397.9 194.68 L399.08 194.82 L400.26 194.94 L401.44 195.05 L402.62 195.15 L403.8 195.25 L404.98 195.33 L406.16 195.4 L407.34 195.47 L408.52 195.52 L409.7 195.58 L410.88 195.63 L412.06 195.67 L413.24 195.72 L414.42 195.76 L415.6 195.8 L416.78 195.84 L417.96 195.88 L419.14 195.93 L420.32 195.97 L421.5 196.02 L422.68 196.08 L423.86 196.14 L425.04 196.21 L426.22 196.29 L427.4 196.38 L428.58 196.47 L429.76 196.57 L430.94 196.67 L432.12 196.78 L433.3 196.89 L434.48 197 L435.66 197.12 L436.84 197.25 L438.02 197.37 L439.2 197.5 L440.38 197.64 L441.56 197.77 L442.74 197.91 L443.92 198.06 L445.1 198.2 L446.28 198.35 L447.46 198.5 L448.64 198.65 L449.82 198.81 L451 198.96 L452.18 199.12 L453.36 199.28 L454.54 199.44 L455.72 199.6 L456.9 199.77 L458.08 199.93 L459.26 200.1 L460.44 200.27 L461.62 200.45 L462.8 200.63 L463.98 200.82 L465.16 201.01 L466.34 201.2 L467.52 201.4 L468.7 201.6 L469.88 201.8 L471.06 202 L472.24 202.21 L473.42 202.42 L474.6 202.63 L475.78 202.85 L476.96 203.07 L478.14 203.28 L479.32 203.5 L480.5 203.73 L481.68 203.95 L482.86 204.17 L484.04 204.4 L485.22 204.63 L486.4 204.85 L487.58 205.08 L488.76 205.32 L489.94 205.56 L491.12 205.81 L492.3 206.06 L493.48 206.32 L494.66 206.58 L495.84 206.84 L497.02 207.11 L498.2 207.37 L499.38 207.64 L500.56 207.9 L501.74 208.17 L502.92 208.43 L504.1 208.69 L505.28 208.95 L506.46 209.21 L507.64 209.46 L508.82 209.71 L510 209.96 L511.18 210.2 L512.36 210.43 L513.54 210.67 L514.72 210.91 L515.9 211.14 L517.08 211.38 L518.26 211.61 L518.55 211.67 L518.85 211.73 L519.14 211.79 L519.44 211.85 L519.74 211.91 L520.03 211.96 L520.33 212.02 L520.62 212.08 L520.91 212.14 L521.21 212.2 L521.5 212.25 L521.8 212.31 L522.1 212.37 L522.39 212.43 L522.68 212.49 L522.98 212.54 L523.27 212.6 L523.57 212.66 L523.87 212.72 L524.16 212.78 L524.45 212.83 L524.75 212.89 L525.04 212.95 L525.34 213.01 L525.63 213.07 L525.93 213.12 L526.23 213.18 L526.52 213.24 L526.82 213.3 L527.11 213.36 L527.4 213.41 L527.7 213.47 L528 213.53 L528.29 213.59 L528.59 213.65 L528.88 213.7 L529.17 213.76 L529.47 213.82 L529.76 213.88 L530.06 213.94 L530.36 213.99 L530.65 214.05 L530.94 214.11 L531.24 214.17 L531.53 214.23 L531.83 214.29 L532.12 214.35 L532.42 214.4 L532.72 214.46 L533.01 214.52 L533.3 214.58 L533.6 214.64 L533.89 214.7 L534.19 214.76 L534.49 214.82 L534.78 214.88 L535.08 214.93 L535.37 214.99 L535.66 215.05 L535.96 215.11 L536.25 215.17 L536.55 215.23 L536.85 215.29 L537.14 215.35 L537.43 215.41 L537.73 215.47 L538.02 215.53 L538.32 215.59 L538.62 215.65 L538.91 215.72 L539.2 215.78 L539.5 215.84 L539.79 215.9 L540.09 215.96 L540.38 216.02 L540.68 216.08 L540.98 216.15 L541.27 216.21 L541.57 216.27 L541.86 216.33 L542.15 216.4 L542.45 216.46 L542.75 216.52 L543.04 216.59 L543.34 216.65 L543.63 216.72 L543.92 216.78 L544.22 216.85 L544.51 216.91 L544.81 216.98 L545.11 217.04 L545.4 217.11 L545.69 217.17 L545.99 217.24 L546.28 217.31 L546.58 217.38 L546.88 217.44 L547.17 217.51 L547.47 217.58 L547.76 217.65 L548.05 217.72 L548.35 217.79 L548.64 217.86 L548.94 217.93 L549.24 218 L549.53 218.07 L549.83 218.14 L550.12 218.21 L550.41 218.29 L550.71 218.36 L551 218.43 L551.3 218.51 L551.6 218.58 L551.89 218.66 L552.18 218.74 L552.48 218.81 L552.77 218.89 L553.07 218.97 L553.37 219.05 L553.66 219.13 L553.95 219.21 L554.25 219.29 L554.54 219.37 L554.84 219.45 L555.13 219.53 L555.43 219.62 L555.73 219.7 L556.02 219.79 L556.32 219.88 L556.61 219.96 L556.9 220.05 L557.2 220.14 L557.5 220.23 L557.79 220.32 L558.09 220.41 L558.38 220.51 L558.67 220.6 L558.97 220.7 L559.26 220.79 L559.56 220.89 L559.86 220.99 L560.15 221.09 L560.44 221.19 L560.74 221.29 L561.03 221.4 L561.33 221.5 L561.62 221.61 L561.92 221.72 L562.22 221.83 L562.51 221.94 L562.8 222.05 L563.1 222.16 L563.39 222.28 L563.69 222.4 L563.99 222.52 L564.28 222.64 L564.58 222.76 L564.87 222.88 L565.16 223.01 L565.46 223.14 L565.75 223.27 L566.05 223.4 L566.35 223.54 L566.64 223.67 L566.93 223.81 L567.23 223.95 L567.52 224.1 L567.82 224.24 L568.12 224.39 L568.41 224.54 L568.7 224.7 L569 224.85 L569.29 225.01 L569.59 225.18 L569.88 225.34 L570.18 225.51 L570.48 225.68 L570.77 225.85 L571.07 226.03 L571.36 226.21 L571.65 226.39 L571.95 226.58 L572.25 226.77 L572.54 226.96 L572.84 227.16 L573.13 227.36 L573.42 227.57 L573.72 227.78 L574.01 227.99 L574.31 228.21 L574.61 228.43 L574.9 228.66 L575.19 228.89 L575.49 229.13 L575.78 229.37 L576.08 229.61 L576.38 229.86 L576.67 230.12 L576.97 230.38 L577.26 230.65 L577.55 230.92 L577.85 231.2 L578.14 231.48 L578.44 231.77 L578.74 232.07 L579.03 232.37 L579.33 232.68 L579.62 233 L579.91 233.32 L580.21 233.65 L580.5 233.99 L580.8 234.33 L581.1 234.69 L581.39 235.05 L581.68 235.42 L581.98 235.8 L582.27 236.18 L582.57 236.58 L582.87 236.98 L583.16 237.4 L583.45 237.82 L583.75 238.25 L584.04 238.69 L584.34 239.15 L584.63 239.61 L584.93 240.09 L585.23 240.57 L585.4 240.87" fill="none" stroke="#9494de" stroke-width="1.8" stroke-linejoin="round" stroke-linecap="round" opacity="1"/>
<path d="M392 199.63 L393.2 199.49 L394.4 199.35 L395.59 199.21 L396.79 199.08 L397.99 198.94 L399.19 198.81 L400.39 198.68 L401.59 198.54 L402.78 198.41 L403.98 198.28 L405.18 198.15 L406.38 198.02 L407.58 197.89 L408.78 197.75 L409.97 197.62 L411.17 197.49 L412.37 197.35 L413.57 197.21 L414.77 197.08 L415.97 196.94 L417.16 196.8 L418.36 196.65 L419.56 196.51 L420.76 196.36 L421.96 196.21 L423.16 196.05 L424.35 195.89 L425.55 195.73 L426.75 195.57 L427.95 195.4 L429.15 195.23 L430.33 195.06 L431.52 194.88 L432.71 194.69 L433.89 194.5 L435.08 194.31 L436.27 194.11 L437.45 193.9 L438.64 193.69 L439.83 193.48 L441.01 193.26 L442.2 193.04 L443.39 192.82 L444.57 192.6 L445.76 192.37 L446.95 192.14 L448.13 191.91 L449.32 191.67 L450.51 191.44 L451.69 191.2 L452.88 190.96 L454.07 190.72 L455.25 190.48 L456.44 190.24 L457.63 190 L458.81 189.76 L460 189.52 L461.19 189.28 L462.37 189.04 L463.56 188.8 L464.75 188.57 L465.93 188.33 L467.12 188.1 L468.3 187.87 L469.49 187.64 L470.68 187.42 L471.86 187.19 L473.06 186.97 L474.25 186.75 L475.44 186.53 L476.63 186.31 L477.82 186.09 L479.01 185.87 L480.2 185.66 L481.39 185.44 L482.58 185.22 L483.77 185 L484.96 184.79 L486.15 184.57 L487.34 184.35 L488.53 184.14 L489.72 183.92 L490.91 183.7 L492.1 183.49 L493.3 183.27 L494.49 183.05 L495.68 182.84 L496.87 182.62 L498.06 182.4 L499.25 182.18 L500.44 181.97 L501.63 181.75 L502.82 181.53 L504.01 181.31 L505.2 181.09 L506.39 180.87 L507.58 180.65 L508.77 180.43 L509.96 180.21 L511.15 179.99 L512.34 179.77 L513.54 179.54 L514.73 179.32 L515.92 179.1 L517.11 178.87 L518.3 178.65 L519.48 178.42 L520.66 178.2 L521.84 177.97 L523.03 177.74 L524.21 177.52 L525.39 177.29 L526.57 177.06 L527.75 176.84 L528.94 176.61 L530.12 176.38 L531.3 176.15 L532.48 175.92 L533.66 175.69 L534.84 175.45 L536.03 175.22 L537.21 174.99 L538.39 174.75 L539.57 174.52 L540.75 174.28 L541.94 174.04 L543.12 173.8 L544.3 173.56 L545.54 173.31 L546.78 173.07 L548.01 172.84 L549.25 172.61 L550.49 172.38 L551.73 172.15 L552.97 171.92 L554.21 171.69 L555.44 171.46 L556.68 171.21 L557.92 170.96 L559.16 170.7 L560.4 170.43 L561.64 170.14 L562.87 169.83 L564.11 169.51 L565.35 169.17 L566.59 168.81 L567.89 168.39 L569.19 167.92 L570.49 167.37 L571.79 166.76 L573.09 166.08 L574.64 165.03 L576.18 163.75 L577.73 162.48 L591.42 162.48" fill="none" stroke="#8282d8" stroke-width="1.8" stroke-linejoin="round" stroke-linecap="round" opacity="1"/>
<path d="M392 188.9 L393.18 189.51 L394.36 190.18 L395.54 190.82 L396.72 191.33 L397.9 191.62 L399.08 191.76 L400.26 191.88 L401.44 192 L402.62 192.1 L403.8 192.19 L404.98 192.28 L406.16 192.35 L407.34 192.42 L408.52 192.48 L409.7 192.54 L410.88 192.59 L412.06 192.63 L413.24 192.68 L414.42 192.72 L415.6 192.76 L416.78 192.8 L417.96 192.84 L419.14 192.89 L420.32 192.93 L421.5 192.98 L422.68 193.03 L423.86 193.09 L425.04 193.16 L426.22 193.23 L427.4 193.31 L428.58 193.4 L429.76 193.49 L430.94 193.58 L432.12 193.67 L433.3 193.77 L434.48 193.86 L435.66 193.96 L436.84 194.07 L438.02 194.17 L439.2 194.28 L440.38 194.39 L441.56 194.5 L442.74 194.61 L443.92 194.73 L445.1 194.85 L446.28 194.97 L447.46 195.1 L448.64 195.22 L449.82 195.35 L451 195.48 L452.18 195.62 L453.36 195.75 L454.54 195.89 L455.72 196.03 L456.9 196.18 L458.08 196.33 L459.26 196.48 L460.44 196.65 L461.62 196.81 L462.8 196.99 L463.98 197.17 L465.16 197.35 L466.34 197.54 L467.52 197.74 L468.7 197.94 L469.88 198.14 L471.06 198.34 L472.24 198.55 L473.42 198.76 L474.6 198.98 L475.78 199.19 L476.96 199.41 L478.14 199.63 L479.32 199.85 L480.5 200.07 L481.68 200.29 L482.86 200.51 L484.04 200.74 L485.22 200.96 L486.4 201.18 L487.58 201.4 L488.76 201.63 L489.94 201.86 L491.12 202.1 L492.3 202.34 L493.48 202.58 L494.66 202.83 L495.84 203.08 L497.02 203.33 L498.2 203.58 L499.38 203.83 L500.56 204.09 L501.74 204.34 L502.92 204.58 L504.1 204.83 L505.28 205.07 L506.46 205.31 L507.64 205.55 L508.82 205.78 L510 206.01 L511.18 206.23 L512.36 206.45 L513.54 206.67 L514.72 206.89 L515.9 207.1 L517.08 207.32 L518.26 207.53 L519.44 207.75 L520.62 207.96 L521.8 208.17 L522.98 208.38 L524.16 208.59 L525.34 208.8 L526.52 209.01 L527.7 209.21 L528.88 209.42 L530.06 209.63 L530.36 209.68 L530.65 209.73 L530.94 209.78 L531.24 209.84 L531.53 209.89 L531.83 209.94 L532.12 209.99 L532.42 210.04 L532.72 210.1 L533.01 210.15 L533.3 210.2 L533.6 210.25 L533.89 210.3 L534.19 210.36 L534.49 210.41 L534.78 210.46 L535.08 210.51 L535.37 210.56 L535.66 210.62 L535.96 210.67 L536.25 210.72 L536.55 210.77 L536.85 210.83 L537.14 210.88 L537.43 210.93 L537.73 210.98 L538.02 211.04 L538.32 211.09 L538.62 211.14 L538.91 211.2 L539.2 211.25 L539.5 211.3 L539.79 211.35 L540.09 211.41 L540.38 211.46 L540.68 211.51 L540.98 211.57 L541.27 211.62 L541.57 211.68 L541.86 211.73 L542.15 211.78 L542.45 211.84 L542.75 211.89 L543.04 211.95 L543.34 212 L543.63 212.06 L543.92 212.11 L544.22 212.17 L544.51 212.22 L544.81 212.28 L545.11 212.34 L545.4 212.39 L545.69 212.45 L545.99 212.5 L546.28 212.56 L546.58 212.62 L546.88 212.67 L547.17 212.73 L547.47 212.79 L547.76 212.85 L548.05 212.91 L548.35 212.97 L548.64 213.02 L548.94 213.08 L549.24 213.14 L549.53 213.2 L549.83 213.26 L550.12 213.32 L550.41 213.38 L550.71 213.45 L551 213.51 L551.3 213.57 L551.6 213.63 L551.89 213.69 L552.18 213.76 L552.48 213.82 L552.77 213.89 L553.07 213.95 L553.37 214.02 L553.66 214.08 L553.95 214.15 L554.25 214.21 L554.54 214.28 L554.84 214.35 L555.13 214.42 L555.43 214.49 L555.73 214.56 L556.02 214.63 L556.32 214.7 L556.61 214.77 L556.9 214.84 L557.2 214.91 L557.5 214.99 L557.79 215.06 L558.09 215.14 L558.38 215.21 L558.67 215.29 L558.97 215.37 L559.26 215.45 L559.56 215.53 L559.86 215.61 L560.15 215.69 L560.44 215.77 L560.74 215.86 L561.03 215.94 L561.33 216.03 L561.62 216.11 L561.92 216.2 L562.22 216.29 L562.51 216.38 L562.8 216.47 L563.1 216.57 L563.39 216.66 L563.69 216.76 L563.99 216.85 L564.28 216.95 L564.58 217.05 L564.87 217.15 L565.16 217.26 L565.46 217.36 L565.75 217.47 L566.05 217.58 L566.35 217.69 L566.64 217.8 L566.93 217.91 L567.23 218.03 L567.52 218.15 L567.82 218.27 L568.12 218.39 L568.41 218.52 L568.7 218.64 L569 218.77 L569.29 218.9 L569.59 219.04 L569.88 219.17 L570.18 219.31 L570.48 219.45 L570.77 219.6 L571.07 219.74 L571.36 219.89 L571.65 220.05 L571.95 220.2 L572.25 220.36 L572.54 220.52 L572.84 220.69 L573.13 220.86 L573.42 221.03 L573.72 221.21 L574.01 221.39 L574.31 221.57 L574.61 221.76 L574.9 221.95 L575.19 222.15 L575.49 222.35 L575.78 222.55 L576.08 222.76 L576.38 222.98 L576.67 223.2 L576.97 223.42 L577.26 223.65 L577.55 223.89 L577.85 224.13 L578.14 224.38 L578.44 224.63 L578.74 224.89 L579.03 225.15 L579.33 225.42 L579.62 225.7 L579.91 225.98 L580.21 226.27 L580.5 226.57 L580.8 226.88 L581.1 227.19 L581.39 227.51 L581.68 227.84 L581.98 228.18 L582.27 228.52 L582.57 228.88 L582.87 229.24 L583.16 229.62 L583.45 230 L583.75 230.39 L584.04 230.8 L584.34 231.21 L584.63 231.63 L584.93 232.07 L585.23 232.52 L585.52 232.98 L585.82 233.45 L586.11 233.93 L586.4 234.43 L586.7 234.94 L587 235.46 L587.29 236 L587.59 236.55 L587.88 237.12 L588.17 237.71 L588.47 238.3 L588.76 238.92 L589.06 239.55 L589.36 240.2 L589.65 240.87" fill="none" stroke="#8282d8" stroke-width="1.8" stroke-linejoin="round" stroke-linecap="round" opacity="1"/>
<path d="M392 200.68 L393.19 200.55 L394.37 200.43 L395.56 200.31 L396.74 200.19 L397.93 200.07 L399.11 199.95 L400.3 199.83 L401.49 199.71 L402.67 199.59 L403.86 199.48 L405.04 199.36 L406.23 199.24 L407.41 199.13 L408.6 199.01 L409.79 198.89 L410.97 198.77 L412.16 198.65 L413.34 198.53 L414.53 198.41 L415.71 198.29 L416.9 198.17 L418.09 198.04 L419.27 197.92 L420.46 197.79 L421.64 197.66 L422.83 197.52 L424.01 197.39 L425.2 197.25 L426.39 197.11 L427.57 196.97 L428.76 196.82 L429.94 196.67 L431.13 196.52 L432.31 196.36 L433.5 196.2 L434.68 196.04 L435.87 195.87 L437.05 195.69 L438.23 195.51 L439.42 195.33 L440.6 195.15 L441.79 194.96 L442.97 194.76 L444.15 194.57 L445.34 194.37 L446.52 194.17 L447.71 193.97 L448.89 193.76 L450.08 193.55 L451.26 193.34 L452.44 193.13 L453.63 192.92 L454.81 192.71 L456 192.49 L457.18 192.28 L458.36 192.06 L459.55 191.85 L460.73 191.63 L461.92 191.41 L463.1 191.2 L464.29 190.98 L465.47 190.76 L466.65 190.55 L467.84 190.34 L469.02 190.12 L470.21 189.91 L471.39 189.7 L472.57 189.5 L473.76 189.29 L474.94 189.09 L476.13 188.88 L477.32 188.68 L478.51 188.48 L479.71 188.28 L480.9 188.08 L482.09 187.88 L483.28 187.68 L484.48 187.49 L485.67 187.29 L486.86 187.09 L488.06 186.89 L489.25 186.7 L490.44 186.5 L491.64 186.3 L492.83 186.1 L494.02 185.91 L495.21 185.71 L496.41 185.51 L497.6 185.32 L498.79 185.12 L499.99 184.92 L501.18 184.72 L502.37 184.53 L503.56 184.33 L504.76 184.13 L505.95 183.93 L507.14 183.73 L508.34 183.53 L509.53 183.33 L510.72 183.13 L511.92 182.93 L513.11 182.72 L514.3 182.52 L515.49 182.32 L516.69 182.11 L517.88 181.91 L519.07 181.7 L520.27 181.49 L521.46 181.29 L522.65 181.08 L523.84 180.87 L525.04 180.66 L526.23 180.45 L527.42 180.23 L528.61 180.02 L529.8 179.81 L530.99 179.59 L532.18 179.38 L533.37 179.16 L534.56 178.94 L535.76 178.73 L536.95 178.51 L538.14 178.29 L539.33 178.07 L540.52 177.84 L541.71 177.62 L542.9 177.4 L544.09 177.17 L545.28 176.95 L546.47 176.72 L547.66 176.49 L548.86 176.27 L550.05 176.04 L551.24 175.8 L552.43 175.57 L553.66 175.34 L554.9 175.11 L556.14 174.89 L557.37 174.67 L558.61 174.46 L559.84 174.25 L561.08 174.04 L562.31 173.83 L563.55 173.61 L564.78 173.38 L566.02 173.15 L567.26 172.91 L568.49 172.65 L569.73 172.38 L570.96 172.09 L572.2 171.79 L573.43 171.46 L574.67 171.11 L575.91 170.74 L577.27 170.27 L578.64 169.71 L580.01 169.06 L581.38 168.31 L582.75 167.45 L583.98 166.45 L585.2 165.18 L586.42 163.8 L587.64 162.48 L598.5 162.48" fill="none" stroke="#7070d0" stroke-width="1.8" stroke-linejoin="round" stroke-linecap="round" opacity="1"/>
<path d="M392 185.92 L393.18 186.57 L394.36 187.28 L395.54 187.96 L396.72 188.5 L397.9 188.8 L399.08 188.94 L400.26 189.07 L401.44 189.19 L402.62 189.29 L403.8 189.39 L404.98 189.47 L406.16 189.55 L407.34 189.62 L408.52 189.68 L409.7 189.74 L410.88 189.79 L412.06 189.84 L413.24 189.88 L414.42 189.93 L415.6 189.97 L416.78 190.01 L417.96 190.05 L419.14 190.09 L420.32 190.14 L421.5 190.18 L422.68 190.24 L423.86 190.29 L425.04 190.35 L426.22 190.42 L427.4 190.5 L428.58 190.58 L429.76 190.66 L430.94 190.74 L432.12 190.82 L433.3 190.9 L434.48 190.98 L435.66 191.06 L436.84 191.14 L438.02 191.23 L439.2 191.31 L440.38 191.4 L441.56 191.49 L442.74 191.58 L443.92 191.67 L445.1 191.77 L446.28 191.87 L447.46 191.97 L448.64 192.07 L449.82 192.18 L451 192.28 L452.18 192.4 L453.36 192.51 L454.54 192.63 L455.72 192.75 L456.9 192.88 L458.08 193.01 L459.26 193.15 L460.44 193.31 L461.62 193.47 L462.8 193.63 L463.98 193.81 L465.16 193.99 L466.34 194.17 L467.52 194.37 L468.7 194.56 L469.88 194.77 L471.06 194.97 L472.24 195.18 L473.42 195.39 L474.6 195.61 L475.78 195.83 L476.96 196.05 L478.14 196.27 L479.32 196.49 L480.5 196.71 L481.68 196.93 L482.86 197.15 L484.04 197.37 L485.22 197.58 L486.4 197.8 L487.58 198.01 L488.76 198.23 L489.94 198.46 L491.12 198.68 L492.3 198.92 L493.48 199.15 L494.66 199.39 L495.84 199.62 L497.02 199.86 L498.2 200.1 L499.38 200.34 L500.56 200.58 L501.74 200.81 L502.92 201.05 L504.1 201.28 L505.28 201.51 L506.46 201.73 L507.64 201.95 L508.82 202.17 L510 202.38 L511.18 202.59 L512.36 202.79 L513.54 202.99 L514.72 203.19 L515.9 203.39 L517.08 203.59 L518.26 203.79 L519.44 203.98 L520.62 204.18 L521.8 204.37 L522.98 204.56 L524.16 204.75 L525.34 204.94 L526.52 205.13 L527.7 205.31 L528.88 205.5 L530.06 205.68 L531.24 205.87 L532.42 206.05 L533.6 206.24 L534.78 206.42 L535.96 206.6 L537.14 206.79 L538.32 206.97 L539.5 207.15 L540.68 207.33 L541.86 207.52 L543.04 207.7 L544.22 207.89 L544.51 207.93 L544.81 207.98 L545.11 208.03 L545.4 208.07 L545.69 208.12 L545.99 208.17 L546.28 208.21 L546.58 208.26 L546.88 208.31 L547.17 208.35 L547.47 208.4 L547.76 208.45 L548.05 208.5 L548.35 208.54 L548.64 208.59 L548.94 208.64 L549.24 208.69 L549.53 208.74 L549.83 208.78 L550.12 208.83 L550.41 208.88 L550.71 208.93 L551 208.98 L551.3 209.03 L551.6 209.08 L551.89 209.13 L552.18 209.18 L552.48 209.23 L552.77 209.28 L553.07 209.33 L553.37 209.38 L553.66 209.43 L553.95 209.48 L554.25 209.53 L554.54 209.58 L554.84 209.63 L555.13 209.68 L555.43 209.74 L555.73 209.79 L556.02 209.84 L556.32 209.89 L556.61 209.95 L556.9 210 L557.2 210.06 L557.5 210.11 L557.79 210.16 L558.09 210.22 L558.38 210.28 L558.67 210.33 L558.97 210.39 L559.26 210.45 L559.56 210.5 L559.86 210.56 L560.15 210.62 L560.44 210.68 L560.74 210.74 L561.03 210.8 L561.33 210.86 L561.62 210.92 L561.92 210.98 L562.22 211.04 L562.51 211.11 L562.8 211.17 L563.1 211.23 L563.39 211.3 L563.69 211.36 L563.99 211.43 L564.28 211.5 L564.58 211.57 L564.87 211.63 L565.16 211.7 L565.46 211.77 L565.75 211.85 L566.05 211.92 L566.35 211.99 L566.64 212.07 L566.93 212.14 L567.23 212.22 L567.52 212.3 L567.82 212.37 L568.12 212.45 L568.41 212.53 L568.7 212.62 L569 212.7 L569.29 212.79 L569.59 212.87 L569.88 212.96 L570.18 213.05 L570.48 213.14 L570.77 213.23 L571.07 213.32 L571.36 213.42 L571.65 213.52 L571.95 213.62 L572.25 213.72 L572.54 213.82 L572.84 213.92 L573.13 214.03 L573.42 214.14 L573.72 214.25 L574.01 214.36 L574.31 214.47 L574.61 214.59 L574.9 214.71 L575.19 214.83 L575.49 214.96 L575.78 215.08 L576.08 215.21 L576.38 215.35 L576.67 215.48 L576.97 215.62 L577.26 215.76 L577.55 215.91 L577.85 216.06 L578.14 216.21 L578.44 216.36 L578.74 216.52 L579.03 216.69 L579.33 216.85 L579.62 217.03 L579.91 217.2 L580.21 217.38 L580.5 217.57 L580.8 217.76 L581.1 217.95 L581.39 218.15 L581.68 218.35 L581.98 218.56 L582.27 218.78 L582.57 219 L582.87 219.23 L583.16 219.46 L583.45 219.7 L583.75 219.94 L584.04 220.2 L584.34 220.46 L584.63 220.72 L584.93 221 L585.23 221.28 L585.52 221.57 L585.82 221.87 L586.11 222.18 L586.4 222.49 L586.7 222.82 L587 223.15 L587.29 223.5 L587.59 223.85 L587.88 224.22 L588.17 224.59 L588.47 224.98 L588.76 225.38 L589.06 225.79 L589.36 226.21 L589.65 226.65 L589.94 227.09 L590.24 227.56 L590.53 228.03 L590.83 228.53 L591.12 229.03 L591.42 229.55 L591.72 230.09 L592.01 230.65 L592.3 231.22 L592.6 231.81 L592.89 232.42 L593.19 233.04 L593.49 233.69 L593.78 234.36 L594.08 235.05 L594.37 235.76 L594.66 236.49 L594.96 237.25 L595.25 238.03 L595.55 238.83 L595.85 239.66 L596.14 240.52 L596.26 240.87" fill="none" stroke="#7070d0" stroke-width="1.8" stroke-linejoin="round" stroke-linecap="round" opacity="1"/>
<path d="M392 201.62 L393.21 201.51 L394.42 201.39 L395.62 201.28 L396.83 201.17 L398.04 201.06 L399.25 200.95 L400.45 200.84 L401.66 200.73 L402.87 200.63 L404.08 200.52 L405.29 200.41 L406.49 200.3 L407.7 200.2 L408.91 200.09 L410.12 199.98 L411.32 199.87 L412.53 199.76 L413.74 199.65 L414.95 199.54 L416.16 199.43 L417.36 199.32 L418.57 199.21 L419.78 199.09 L420.99 198.97 L422.19 198.85 L423.4 198.73 L424.61 198.61 L425.82 198.49 L427.03 198.36 L428.23 198.23 L429.44 198.1 L430.65 197.96 L431.86 197.82 L433.06 197.68 L434.24 197.54 L435.43 197.4 L436.61 197.25 L437.79 197.1 L438.97 196.94 L440.15 196.78 L441.33 196.62 L442.51 196.45 L443.69 196.28 L444.87 196.11 L446.05 195.93 L447.23 195.76 L448.41 195.58 L449.59 195.39 L450.77 195.21 L451.95 195.02 L453.13 194.84 L454.31 194.65 L455.5 194.46 L456.68 194.26 L457.86 194.07 L459.04 193.88 L460.22 193.68 L461.4 193.49 L462.58 193.29 L463.76 193.1 L464.94 192.9 L466.12 192.7 L467.3 192.51 L468.48 192.31 L469.66 192.12 L470.84 191.92 L472.02 191.73 L473.2 191.54 L474.38 191.35 L475.57 191.16 L476.75 190.97 L477.93 190.78 L479.11 190.6 L480.29 190.41 L481.48 190.23 L482.68 190.05 L483.87 189.86 L485.06 189.68 L486.26 189.5 L487.45 189.32 L488.64 189.14 L489.84 188.95 L491.03 188.77 L492.22 188.59 L493.42 188.41 L494.61 188.23 L495.81 188.05 L497 187.87 L498.19 187.69 L499.39 187.51 L500.58 187.33 L501.77 187.15 L502.97 186.97 L504.16 186.79 L505.36 186.61 L506.55 186.43 L507.74 186.25 L508.94 186.07 L510.13 185.88 L511.32 185.7 L512.52 185.52 L513.71 185.33 L514.91 185.15 L516.1 184.96 L517.29 184.78 L518.49 184.59 L519.68 184.4 L520.87 184.21 L522.07 184.03 L523.26 183.84 L524.46 183.64 L525.65 183.45 L526.84 183.26 L528.04 183.07 L529.23 182.87 L530.42 182.67 L531.62 182.48 L532.82 182.28 L534.01 182.08 L535.21 181.87 L536.41 181.67 L537.61 181.47 L538.8 181.26 L540 181.06 L541.2 180.85 L542.4 180.64 L543.59 180.43 L544.79 180.22 L545.99 180.01 L547.19 179.8 L548.39 179.59 L549.58 179.37 L550.78 179.15 L551.98 178.94 L553.18 178.72 L554.37 178.5 L555.57 178.28 L556.77 178.06 L557.97 177.84 L559.16 177.62 L560.36 177.39 L561.59 177.17 L562.83 176.95 L564.06 176.74 L565.29 176.54 L566.52 176.34 L567.75 176.14 L568.99 175.95 L570.22 175.75 L571.45 175.54 L572.68 175.33 L573.91 175.12 L575.15 174.89 L576.38 174.65 L577.61 174.4 L578.84 174.13 L580.07 173.85 L581.31 173.54 L582.54 173.21 L583.77 172.86 L585 172.49 L586.2 172.07 L587.4 171.57 L588.59 170.98 L589.79 170.31 L590.99 169.54 L592.19 168.69 L593.47 167.46 L594.75 165.87 L596.04 164.14 L597.32 162.48 L607.94 162.48" fill="none" stroke="#5c5cc8" stroke-width="1.8" stroke-linejoin="round" stroke-linecap="round" opacity="1"/>
<path d="M392 183.23 L393.18 183.91 L394.36 184.66 L395.54 185.37 L396.72 185.94 L397.9 186.26 L399.08 186.4 L400.26 186.53 L401.44 186.64 L402.62 186.75 L403.8 186.85 L404.98 186.94 L406.16 187.02 L407.34 187.09 L408.52 187.15 L409.7 187.21 L410.88 187.27 L412.06 187.32 L413.24 187.36 L414.42 187.41 L415.6 187.45 L416.78 187.49 L417.96 187.53 L419.14 187.57 L420.32 187.62 L421.5 187.66 L422.68 187.71 L423.86 187.76 L425.04 187.82 L426.22 187.88 L427.4 187.95 L428.58 188.02 L429.76 188.09 L430.94 188.16 L432.12 188.23 L433.3 188.3 L434.48 188.36 L435.66 188.43 L436.84 188.5 L438.02 188.56 L439.2 188.63 L440.38 188.7 L441.56 188.77 L442.74 188.84 L443.92 188.91 L445.1 188.99 L446.28 189.06 L447.46 189.14 L448.64 189.22 L449.82 189.31 L451 189.4 L452.18 189.49 L453.36 189.58 L454.54 189.68 L455.72 189.79 L456.9 189.9 L458.08 190.01 L459.26 190.14 L460.44 190.28 L461.62 190.43 L462.8 190.59 L463.98 190.76 L465.16 190.94 L466.34 191.12 L467.52 191.31 L468.7 191.51 L469.88 191.71 L471.06 191.92 L472.24 192.13 L473.42 192.34 L474.6 192.56 L475.78 192.78 L476.96 193 L478.14 193.22 L479.32 193.45 L480.5 193.67 L481.68 193.89 L482.86 194.11 L484.04 194.32 L485.22 194.53 L486.4 194.74 L487.58 194.95 L488.76 195.16 L489.94 195.38 L491.12 195.6 L492.3 195.82 L493.48 196.04 L494.66 196.27 L495.84 196.5 L497.02 196.73 L498.2 196.95 L499.38 197.18 L500.56 197.41 L501.74 197.63 L502.92 197.85 L504.1 198.07 L505.28 198.29 L506.46 198.5 L507.64 198.71 L508.82 198.91 L510 199.1 L511.18 199.3 L512.36 199.49 L513.54 199.67 L514.72 199.86 L515.9 200.04 L517.08 200.23 L518.26 200.41 L519.44 200.59 L520.62 200.77 L521.8 200.94 L522.98 201.12 L524.16 201.29 L525.34 201.46 L526.52 201.63 L527.7 201.8 L528.88 201.97 L530.06 202.14 L531.24 202.31 L532.42 202.47 L533.6 202.64 L534.78 202.8 L535.96 202.97 L537.14 203.13 L538.32 203.29 L539.5 203.45 L540.68 203.62 L541.86 203.78 L543.04 203.94 L544.22 204.1 L545.4 204.26 L546.58 204.42 L547.76 204.58 L548.94 204.74 L550.12 204.91 L551.3 205.07 L552.48 205.23 L553.66 205.4 L554.84 205.56 L556.02 205.73 L557.2 205.89 L558.38 206.06 L559.56 206.24 L559.86 206.28 L560.15 206.32 L560.44 206.37 L560.74 206.41 L561.03 206.45 L561.33 206.5 L561.62 206.54 L561.92 206.59 L562.22 206.63 L562.51 206.68 L562.8 206.72 L563.1 206.77 L563.39 206.81 L563.69 206.86 L563.99 206.9 L564.28 206.95 L564.58 207 L564.87 207.04 L565.16 207.09 L565.46 207.14 L565.75 207.18 L566.05 207.23 L566.35 207.28 L566.64 207.33 L566.93 207.38 L567.23 207.43 L567.52 207.48 L567.82 207.52 L568.12 207.58 L568.41 207.63 L568.7 207.68 L569 207.73 L569.29 207.78 L569.59 207.83 L569.88 207.88 L570.18 207.94 L570.48 207.99 L570.77 208.05 L571.07 208.1 L571.36 208.15 L571.65 208.21 L571.95 208.27 L572.25 208.32 L572.54 208.38 L572.84 208.44 L573.13 208.5 L573.42 208.55 L573.72 208.61 L574.01 208.68 L574.31 208.74 L574.61 208.8 L574.9 208.86 L575.19 208.92 L575.49 208.99 L575.78 209.05 L576.08 209.12 L576.38 209.19 L576.67 209.25 L576.97 209.32 L577.26 209.39 L577.55 209.47 L577.85 209.54 L578.14 209.61 L578.44 209.69 L578.74 209.76 L579.03 209.84 L579.33 209.92 L579.62 210 L579.91 210.08 L580.21 210.16 L580.5 210.25 L580.8 210.34 L581.1 210.42 L581.39 210.51 L581.68 210.61 L581.98 210.7 L582.27 210.8 L582.57 210.89 L582.87 211 L583.16 211.1 L583.45 211.2 L583.75 211.31 L584.04 211.42 L584.34 211.53 L584.63 211.65 L584.93 211.77 L585.23 211.89 L585.52 212.02 L585.82 212.14 L586.11 212.28 L586.4 212.41 L586.7 212.55 L587 212.69 L587.29 212.84 L587.59 212.99 L587.88 213.14 L588.17 213.3 L588.47 213.47 L588.76 213.63 L589.06 213.81 L589.36 213.99 L589.65 214.17 L589.94 214.36 L590.24 214.56 L590.53 214.76 L590.83 214.96 L591.12 215.18 L591.42 215.4 L591.72 215.63 L592.01 215.86 L592.3 216.11 L592.6 216.36 L592.89 216.62 L593.19 216.88 L593.49 217.16 L593.78 217.44 L594.08 217.74 L594.37 218.04 L594.66 218.36 L594.96 218.69 L595.25 219.02 L595.55 219.37 L595.85 219.73 L596.14 220.1 L596.43 220.49 L596.73 220.89 L597.02 221.3 L597.32 221.73 L597.62 222.18 L597.91 222.64 L598.2 223.11 L598.5 223.6 L598.79 224.11 L599.09 224.64 L599.38 225.19 L599.68 225.76 L599.98 226.35 L600.27 226.96 L600.57 227.59 L600.86 228.24 L601.15 228.92 L601.45 229.63 L601.75 230.36 L602.04 231.11 L602.34 231.9 L602.63 232.71 L602.92 233.56 L603.22 234.43 L603.51 235.34 L603.81 236.28 L604.11 237.26 L604.4 238.28 L604.69 239.33 L604.99 240.42 L605.11 240.87" fill="none" stroke="#5c5cc8" stroke-width="1.8" stroke-linejoin="round" stroke-linecap="round" opacity="1"/>
<path d="M392 202.46 L393.2 202.35 L394.39 202.25 L395.59 202.15 L396.79 202.05 L397.98 201.95 L399.18 201.85 L400.37 201.75 L401.57 201.66 L402.77 201.56 L403.96 201.46 L405.16 201.37 L406.36 201.27 L407.55 201.18 L408.75 201.08 L409.95 200.98 L411.14 200.89 L412.34 200.79 L413.54 200.69 L414.73 200.59 L415.93 200.49 L417.12 200.39 L418.32 200.29 L419.52 200.19 L420.71 200.09 L421.91 199.98 L423.11 199.87 L424.3 199.77 L425.5 199.66 L426.7 199.55 L427.89 199.43 L429.09 199.32 L430.28 199.2 L431.48 199.08 L432.68 198.96 L433.87 198.84 L435.07 198.71 L436.28 198.58 L437.49 198.44 L438.69 198.31 L439.9 198.16 L441.11 198.02 L442.32 197.87 L443.53 197.72 L444.73 197.57 L445.94 197.41 L447.15 197.25 L448.36 197.09 L449.57 196.92 L450.77 196.76 L451.98 196.59 L453.19 196.42 L454.4 196.24 L455.61 196.07 L456.82 195.89 L458.02 195.72 L459.23 195.54 L460.44 195.36 L461.65 195.18 L462.86 195 L464.06 194.82 L465.27 194.63 L466.48 194.45 L467.69 194.27 L468.9 194.09 L470.1 193.9 L471.31 193.72 L472.52 193.54 L473.73 193.36 L474.94 193.17 L476.14 192.99 L477.35 192.81 L478.56 192.63 L479.77 192.46 L480.98 192.28 L482.18 192.1 L483.39 191.93 L484.6 191.76 L485.8 191.59 L486.99 191.42 L488.19 191.25 L489.39 191.09 L490.58 190.92 L491.78 190.75 L492.98 190.59 L494.17 190.42 L495.37 190.25 L496.56 190.09 L497.76 189.92 L498.96 189.76 L500.15 189.59 L501.35 189.43 L502.55 189.26 L503.74 189.1 L504.94 188.93 L506.14 188.76 L507.33 188.6 L508.53 188.43 L509.72 188.27 L510.92 188.1 L512.12 187.93 L513.31 187.77 L514.51 187.6 L515.71 187.43 L516.9 187.26 L518.1 187.09 L519.3 186.92 L520.49 186.75 L521.69 186.58 L522.88 186.41 L524.08 186.23 L525.28 186.06 L526.47 185.88 L527.67 185.71 L528.87 185.53 L530.06 185.35 L531.26 185.18 L532.46 185 L533.65 184.82 L534.85 184.63 L536.05 184.45 L537.24 184.27 L538.44 184.08 L539.64 183.89 L540.85 183.7 L542.06 183.51 L543.26 183.32 L544.47 183.12 L545.67 182.93 L546.88 182.73 L548.09 182.53 L549.29 182.34 L550.5 182.13 L551.7 181.93 L552.91 181.73 L554.12 181.53 L555.32 181.32 L556.53 181.12 L557.73 180.91 L558.94 180.7 L560.15 180.49 L561.35 180.28 L562.56 180.07 L563.76 179.86 L564.97 179.64 L566.18 179.43 L567.38 179.21 L568.59 179 L569.82 178.78 L571.05 178.57 L572.28 178.37 L573.51 178.18 L574.74 177.99 L575.97 177.81 L577.2 177.62 L578.43 177.43 L579.66 177.24 L580.89 177.05 L582.12 176.85 L583.35 176.63 L584.58 176.41 L585.81 176.18 L587.05 175.93 L588.28 175.66 L589.51 175.38 L590.74 175.08 L591.97 174.75 L593.2 174.4 L594.43 174.03 L595.69 173.58 L596.94 173.03 L598.2 172.37 L599.45 171.61 L600.71 170.75 L601.97 169.78 L603.31 168.36 L604.66 166.49 L606 164.44 L607.35 162.48 L617.38 162.48" fill="none" stroke="#4848c0" stroke-width="1.8" stroke-linejoin="round" stroke-linecap="round" opacity="1"/>
<path d="M392 180.86 L393.18 181.57 L394.36 182.35 L395.54 183.1 L396.72 183.69 L397.9 184.01 L399.08 184.15 L400.26 184.28 L401.44 184.4 L402.62 184.51 L403.8 184.61 L404.98 184.7 L406.16 184.78 L407.34 184.86 L408.52 184.93 L409.7 184.99 L410.88 185.04 L412.06 185.1 L413.24 185.14 L414.42 185.19 L415.6 185.23 L416.78 185.27 L417.96 185.31 L419.14 185.36 L420.32 185.4 L421.5 185.44 L422.68 185.49 L423.86 185.53 L425.04 185.59 L426.22 185.64 L427.4 185.7 L428.58 185.77 L429.76 185.83 L430.94 185.89 L432.12 185.94 L433.3 186 L434.48 186.05 L435.66 186.11 L436.84 186.16 L438.02 186.21 L439.2 186.26 L440.38 186.31 L441.56 186.37 L442.74 186.42 L443.92 186.48 L445.1 186.53 L446.28 186.59 L447.46 186.65 L448.64 186.72 L449.82 186.78 L451 186.85 L452.18 186.93 L453.36 187.01 L454.54 187.09 L455.72 187.17 L456.9 187.27 L458.08 187.37 L459.26 187.48 L460.44 187.61 L461.62 187.75 L462.8 187.9 L463.98 188.07 L465.16 188.24 L466.34 188.42 L467.52 188.61 L468.7 188.81 L469.88 189.01 L471.06 189.22 L472.24 189.43 L473.42 189.65 L474.6 189.87 L475.78 190.09 L476.96 190.32 L478.14 190.54 L479.32 190.76 L480.5 190.98 L481.68 191.2 L482.86 191.42 L484.04 191.63 L485.22 191.84 L486.4 192.05 L487.58 192.25 L488.76 192.45 L489.94 192.66 L491.12 192.88 L492.3 193.09 L493.48 193.31 L494.66 193.52 L495.84 193.74 L497.02 193.96 L498.2 194.18 L499.38 194.4 L500.56 194.61 L501.74 194.83 L502.92 195.04 L504.1 195.24 L505.28 195.45 L506.46 195.65 L507.64 195.84 L508.82 196.03 L510 196.22 L511.18 196.4 L512.36 196.57 L513.54 196.75 L514.72 196.92 L515.9 197.09 L517.08 197.26 L518.26 197.43 L519.44 197.6 L520.62 197.76 L521.8 197.92 L522.98 198.09 L524.16 198.25 L525.34 198.4 L526.52 198.56 L527.7 198.72 L528.88 198.87 L530.06 199.02 L531.24 199.18 L532.42 199.33 L533.6 199.48 L534.78 199.63 L535.96 199.78 L537.14 199.93 L538.32 200.07 L539.5 200.22 L540.68 200.37 L541.86 200.51 L543.04 200.66 L544.22 200.8 L545.4 200.95 L546.58 201.09 L547.76 201.24 L548.94 201.38 L550.12 201.52 L551.3 201.67 L552.48 201.81 L553.66 201.96 L554.84 202.1 L556.02 202.25 L557.2 202.4 L558.38 202.54 L559.56 202.69 L560.74 202.84 L561.92 202.99 L563.1 203.14 L564.28 203.29 L565.46 203.44 L566.64 203.59 L567.82 203.75 L569 203.91 L570.18 204.06 L571.36 204.22 L572.54 204.38 L573.72 204.55 L574.9 204.71 L576.08 204.88 L576.38 204.92 L576.67 204.96 L576.97 205 L577.26 205.05 L577.55 205.09 L577.85 205.13 L578.14 205.17 L578.44 205.22 L578.74 205.26 L579.03 205.3 L579.33 205.35 L579.62 205.39 L579.91 205.44 L580.21 205.48 L580.5 205.53 L580.8 205.57 L581.1 205.62 L581.39 205.66 L581.68 205.71 L581.98 205.76 L582.27 205.8 L582.57 205.85 L582.87 205.9 L583.16 205.95 L583.45 206 L583.75 206.05 L584.04 206.1 L584.34 206.15 L584.63 206.2 L584.93 206.25 L585.23 206.3 L585.52 206.36 L585.82 206.41 L586.11 206.46 L586.4 206.52 L586.7 206.57 L587 206.63 L587.29 206.69 L587.59 206.75 L587.88 206.81 L588.17 206.87 L588.47 206.93 L588.76 206.99 L589.06 207.05 L589.36 207.12 L589.65 207.18 L589.94 207.25 L590.24 207.32 L590.53 207.39 L590.83 207.46 L591.12 207.54 L591.42 207.61 L591.72 207.69 L592.01 207.76 L592.3 207.84 L592.6 207.93 L592.89 208.01 L593.19 208.1 L593.49 208.18 L593.78 208.27 L594.08 208.37 L594.37 208.46 L594.66 208.56 L594.96 208.66 L595.25 208.77 L595.55 208.87 L595.85 208.98 L596.14 209.1 L596.43 209.21 L596.73 209.33 L597.02 209.46 L597.32 209.59 L597.62 209.72 L597.91 209.86 L598.2 210 L598.5 210.14 L598.79 210.3 L599.09 210.45 L599.38 210.62 L599.68 210.78 L599.98 210.96 L600.27 211.14 L600.57 211.32 L600.86 211.52 L601.15 211.72 L601.45 211.93 L601.75 212.14 L602.04 212.37 L602.34 212.6 L602.63 212.85 L602.92 213.1 L603.22 213.36 L603.51 213.63 L603.81 213.91 L604.11 214.21 L604.4 214.52 L604.69 214.84 L604.99 215.17 L605.28 215.51 L605.58 215.87 L605.88 216.25 L606.17 216.64 L606.46 217.05 L606.76 217.47 L607.05 217.91 L607.35 218.37 L607.64 218.85 L607.94 219.36 L608.24 219.88 L608.53 220.42 L608.83 220.99 L609.12 221.59 L609.41 222.21 L609.71 222.85 L610 223.53 L610.3 224.23 L610.6 224.97 L610.89 225.73 L611.18 226.53 L611.48 227.37 L611.77 228.25 L612.07 229.16 L612.37 230.11 L612.66 231.11 L612.95 232.15 L613.25 233.24 L613.54 234.37 L613.84 235.56 L614.13 236.8 L614.43 238.1 L614.73 239.45 L615.02 240.87" fill="none" stroke="#4848c0" stroke-width="1.8" stroke-linejoin="round" stroke-linecap="round" opacity="1"/>
<path d="M392 203.16 L393.21 203.06 L394.42 202.97 L395.63 202.88 L396.84 202.78 L398.05 202.69 L399.26 202.6 L400.47 202.51 L401.68 202.42 L402.9 202.33 L404.11 202.24 L405.32 202.15 L406.53 202.06 L407.74 201.97 L408.95 201.88 L410.16 201.79 L411.37 201.7 L412.58 201.61 L413.79 201.52 L415 201.43 L416.21 201.33 L417.42 201.24 L418.63 201.15 L419.84 201.05 L421.05 200.96 L422.27 200.86 L423.48 200.76 L424.69 200.66 L425.9 200.56 L427.11 200.46 L428.32 200.36 L429.53 200.25 L430.74 200.14 L431.95 200.04 L433.16 199.92 L434.37 199.81 L435.58 199.7 L436.79 199.58 L437.99 199.46 L439.19 199.33 L440.39 199.21 L441.58 199.08 L442.78 198.95 L443.98 198.81 L445.18 198.68 L446.38 198.54 L447.57 198.39 L448.77 198.25 L449.97 198.1 L451.17 197.95 L452.37 197.8 L453.56 197.65 L454.76 197.49 L455.96 197.34 L457.16 197.18 L458.36 197.02 L459.55 196.86 L460.75 196.69 L461.95 196.53 L463.15 196.37 L464.35 196.2 L465.54 196.04 L466.74 195.87 L467.94 195.7 L469.14 195.54 L470.34 195.37 L471.53 195.2 L472.73 195.03 L473.93 194.86 L475.13 194.7 L476.33 194.53 L477.52 194.36 L478.72 194.2 L479.92 194.03 L481.12 193.87 L482.31 193.7 L483.51 193.54 L484.71 193.38 L485.91 193.22 L487.11 193.06 L488.3 192.9 L489.5 192.74 L490.69 192.59 L491.88 192.43 L493.07 192.27 L494.26 192.12 L495.45 191.97 L496.64 191.81 L497.83 191.66 L499.03 191.51 L500.22 191.35 L501.41 191.2 L502.6 191.05 L503.79 190.89 L504.98 190.74 L506.17 190.59 L507.37 190.43 L508.56 190.28 L509.75 190.13 L510.94 189.97 L512.13 189.82 L513.32 189.67 L514.51 189.51 L515.7 189.36 L516.9 189.2 L518.09 189.05 L519.28 188.89 L520.47 188.73 L521.66 188.58 L522.85 188.42 L524.04 188.26 L525.23 188.1 L526.43 187.94 L527.62 187.78 L528.81 187.62 L530 187.46 L531.19 187.3 L532.38 187.13 L533.57 186.97 L534.77 186.8 L535.96 186.63 L537.15 186.47 L538.34 186.3 L539.53 186.13 L540.72 185.96 L541.91 185.78 L543.1 185.61 L544.3 185.43 L545.5 185.26 L546.71 185.08 L547.91 184.89 L549.12 184.71 L550.33 184.52 L551.53 184.34 L552.74 184.15 L553.94 183.96 L555.15 183.77 L556.36 183.58 L557.56 183.39 L558.77 183.19 L559.97 183 L561.18 182.8 L562.38 182.6 L563.59 182.4 L564.8 182.2 L566 182 L567.21 181.8 L568.41 181.59 L569.62 181.39 L570.83 181.18 L572.03 180.97 L573.24 180.77 L574.44 180.56 L575.65 180.35 L576.87 180.14 L578.09 179.94 L579.32 179.75 L580.54 179.57 L581.76 179.39 L582.98 179.21 L584.2 179.04 L585.42 178.86 L586.65 178.68 L587.87 178.5 L589.09 178.31 L590.31 178.11 L591.53 177.9 L592.75 177.69 L593.97 177.45 L595.2 177.21 L596.42 176.95 L597.64 176.67 L598.86 176.37 L600.08 176.04 L601.3 175.7 L602.53 175.33 L603.83 174.86 L605.14 174.27 L606.45 173.55 L607.75 172.72 L609.06 171.77 L610.36 170.7 L611.76 169.12 L613.16 167.01 L614.56 164.69 L615.96 162.48 L625.64 162.48" fill="none" stroke="#3434b8" stroke-width="1.8" stroke-linejoin="round" stroke-linecap="round" opacity="1"/>
<path d="M392 178.85 L393.18 179.59 L394.36 180.4 L395.54 181.17 L396.72 181.78 L397.9 182.11 L399.08 182.26 L400.26 182.39 L401.44 182.51 L402.62 182.62 L403.8 182.72 L404.98 182.82 L406.16 182.9 L407.34 182.98 L408.52 183.05 L409.7 183.11 L410.88 183.17 L412.06 183.23 L413.24 183.28 L414.42 183.32 L415.6 183.37 L416.78 183.41 L417.96 183.45 L419.14 183.49 L420.32 183.53 L421.5 183.57 L422.68 183.61 L423.86 183.66 L425.04 183.7 L426.22 183.75 L427.4 183.81 L428.58 183.86 L429.76 183.92 L430.94 183.97 L432.12 184.01 L433.3 184.06 L434.48 184.1 L435.66 184.14 L436.84 184.18 L438.02 184.22 L439.2 184.26 L440.38 184.3 L441.56 184.34 L442.74 184.38 L443.92 184.42 L445.1 184.46 L446.28 184.51 L447.46 184.56 L448.64 184.6 L449.82 184.66 L451 184.71 L452.18 184.77 L453.36 184.83 L454.54 184.9 L455.72 184.97 L456.9 185.04 L458.08 185.13 L459.26 185.23 L460.44 185.35 L461.62 185.49 L462.8 185.63 L463.98 185.79 L465.16 185.96 L466.34 186.14 L467.52 186.33 L468.7 186.52 L469.88 186.73 L471.06 186.94 L472.24 187.15 L473.42 187.37 L474.6 187.59 L475.78 187.82 L476.96 188.04 L478.14 188.27 L479.32 188.5 L480.5 188.72 L481.68 188.94 L482.86 189.16 L484.04 189.37 L485.22 189.57 L486.4 189.77 L487.58 189.97 L488.76 190.17 L489.94 190.37 L491.12 190.58 L492.3 190.79 L493.48 190.99 L494.66 191.21 L495.84 191.42 L497.02 191.63 L498.2 191.84 L499.38 192.05 L500.56 192.25 L501.74 192.46 L502.92 192.66 L504.1 192.86 L505.28 193.05 L506.46 193.24 L507.64 193.43 L508.82 193.61 L510 193.78 L511.18 193.95 L512.36 194.11 L513.54 194.28 L514.72 194.44 L515.9 194.6 L517.08 194.76 L518.26 194.92 L519.44 195.07 L520.62 195.22 L521.8 195.38 L522.98 195.52 L524.16 195.67 L525.34 195.82 L526.52 195.97 L527.7 196.11 L528.88 196.25 L530.06 196.39 L531.24 196.53 L532.42 196.67 L533.6 196.81 L534.78 196.95 L535.96 197.09 L537.14 197.22 L538.32 197.36 L539.5 197.49 L540.68 197.63 L541.86 197.76 L543.04 197.89 L544.22 198.02 L545.4 198.16 L546.58 198.29 L547.76 198.42 L548.94 198.55 L550.12 198.68 L551.3 198.82 L552.48 198.95 L553.66 199.08 L554.84 199.21 L556.02 199.35 L557.2 199.48 L558.38 199.61 L559.56 199.75 L560.74 199.88 L561.92 200.02 L563.1 200.15 L564.28 200.29 L565.46 200.43 L566.64 200.57 L567.82 200.71 L569 200.85 L570.18 200.99 L571.36 201.13 L572.54 201.27 L573.72 201.42 L574.9 201.56 L576.08 201.7 L577.26 201.84 L578.44 201.99 L579.62 202.13 L580.8 202.27 L581.98 202.42 L583.16 202.56 L584.34 202.71 L585.52 202.86 L586.7 203.01 L587.88 203.16 L589.06 203.31 L590.24 203.47 L591.42 203.63 L591.72 203.67 L592.01 203.71 L592.3 203.75 L592.6 203.79 L592.89 203.83 L593.19 203.88 L593.49 203.92 L593.78 203.96 L594.08 204.01 L594.37 204.05 L594.66 204.1 L594.96 204.14 L595.25 204.19 L595.55 204.23 L595.85 204.28 L596.14 204.33 L596.43 204.38 L596.73 204.43 L597.02 204.48 L597.32 204.53 L597.62 204.58 L597.91 204.63 L598.2 204.69 L598.5 204.74 L598.79 204.8 L599.09 204.85 L599.38 204.91 L599.68 204.97 L599.98 205.03 L600.27 205.1 L600.57 205.16 L600.86 205.23 L601.15 205.29 L601.45 205.36 L601.75 205.43 L602.04 205.51 L602.34 205.58 L602.63 205.66 L602.92 205.74 L603.22 205.82 L603.51 205.91 L603.81 206 L604.11 206.09 L604.4 206.18 L604.69 206.28 L604.99 206.38 L605.28 206.49 L605.58 206.6 L605.88 206.71 L606.17 206.83 L606.46 206.95 L606.76 207.08 L607.05 207.21 L607.35 207.35 L607.64 207.5 L607.94 207.65 L608.24 207.81 L608.53 207.97 L608.83 208.14 L609.12 208.32 L609.41 208.51 L609.71 208.71 L610 208.91 L610.3 209.13 L610.6 209.35 L610.89 209.59 L611.18 209.84 L611.48 210.1 L611.77 210.37 L612.07 210.66 L612.37 210.96 L612.66 211.27 L612.95 211.61 L613.25 211.95 L613.54 212.32 L613.84 212.71 L614.13 213.11 L614.43 213.54 L614.73 213.99 L615.02 214.46 L615.32 214.96 L615.61 215.49 L615.9 216.04 L616.2 216.62 L616.5 217.24 L616.79 217.88 L617.09 218.56 L617.38 219.28 L617.67 220.04 L617.97 220.84 L618.26 221.68 L618.56 222.57 L618.86 223.51 L619.15 224.5 L619.44 225.54 L619.74 226.64 L620.03 227.8 L620.33 229.03 L620.62 230.32 L620.92 231.69 L621.21 233.13 L621.51 234.65 L621.8 236.26 L622.1 237.95 L622.39 239.75 L622.57 240.87" fill="none" stroke="#3434b8" stroke-width="1.8" stroke-linejoin="round" stroke-linecap="round" opacity="1"/>
<path d="M392 203.71 L393.19 203.62 L394.39 203.53 L395.58 203.44 L396.78 203.36 L397.97 203.27 L399.16 203.19 L400.36 203.11 L401.55 203.02 L402.75 202.94 L403.94 202.86 L405.13 202.78 L406.33 202.69 L407.52 202.61 L408.71 202.53 L409.91 202.45 L411.1 202.37 L412.3 202.28 L413.49 202.2 L414.68 202.12 L415.88 202.03 L417.07 201.95 L418.27 201.87 L419.46 201.78 L420.65 201.69 L421.85 201.61 L423.04 201.52 L424.24 201.43 L425.43 201.34 L426.62 201.25 L427.82 201.15 L429.01 201.06 L430.21 200.96 L431.4 200.87 L432.59 200.77 L433.79 200.67 L434.98 200.57 L436.17 200.46 L437.37 200.35 L438.56 200.25 L439.75 200.14 L440.94 200.02 L442.13 199.91 L443.32 199.79 L444.51 199.67 L445.7 199.54 L446.89 199.42 L448.08 199.29 L449.27 199.16 L450.46 199.02 L451.65 198.89 L452.84 198.75 L454.03 198.61 L455.22 198.47 L456.41 198.33 L457.6 198.19 L458.79 198.04 L459.98 197.9 L461.17 197.75 L462.36 197.6 L463.55 197.45 L464.74 197.3 L465.93 197.15 L467.12 196.99 L468.31 196.84 L469.5 196.69 L470.69 196.53 L471.88 196.38 L473.07 196.22 L474.26 196.07 L475.45 195.91 L476.64 195.76 L477.83 195.6 L479.02 195.44 L480.21 195.29 L481.4 195.14 L482.59 194.98 L483.78 194.83 L484.97 194.67 L486.16 194.52 L487.35 194.37 L488.54 194.22 L489.73 194.07 L490.92 193.92 L492.11 193.78 L493.3 193.63 L494.49 193.48 L495.67 193.34 L496.86 193.19 L498.05 193.05 L499.24 192.91 L500.42 192.76 L501.61 192.62 L502.8 192.48 L503.99 192.33 L505.18 192.19 L506.36 192.05 L507.55 191.91 L508.74 191.76 L509.93 191.62 L511.12 191.48 L512.3 191.33 L513.49 191.19 L514.68 191.05 L515.87 190.9 L517.05 190.76 L518.24 190.62 L519.43 190.47 L520.62 190.33 L521.81 190.18 L522.99 190.04 L524.18 189.89 L525.37 189.74 L526.56 189.6 L527.74 189.45 L528.93 189.3 L530.12 189.15 L531.31 189 L532.5 188.85 L533.68 188.7 L534.87 188.55 L536.06 188.4 L537.25 188.24 L538.44 188.09 L539.62 187.93 L540.81 187.78 L542 187.62 L543.19 187.46 L544.37 187.3 L545.56 187.14 L546.75 186.98 L547.94 186.81 L549.13 186.65 L550.31 186.48 L551.52 186.31 L552.73 186.14 L553.94 185.96 L555.14 185.79 L556.35 185.61 L557.56 185.43 L558.76 185.25 L559.97 185.07 L561.18 184.89 L562.39 184.71 L563.59 184.52 L564.8 184.33 L566.01 184.14 L567.21 183.96 L568.42 183.76 L569.63 183.57 L570.84 183.38 L572.04 183.19 L573.25 182.99 L574.46 182.79 L575.66 182.6 L576.87 182.4 L578.08 182.2 L579.29 182 L580.49 181.8 L581.7 181.6 L582.91 181.4 L584.12 181.2 L585.34 181.01 L586.55 180.82 L587.77 180.65 L588.98 180.48 L590.2 180.31 L591.41 180.14 L592.62 179.97 L593.84 179.8 L595.05 179.63 L596.27 179.45 L597.48 179.26 L598.7 179.07 L599.91 178.87 L601.13 178.65 L602.34 178.42 L603.56 178.18 L604.77 177.92 L605.99 177.65 L607.2 177.35 L608.42 177.04 L609.63 176.7 L610.85 176.33 L612.2 175.84 L613.56 175.22 L614.92 174.46 L616.28 173.57 L617.64 172.55 L618.99 171.41 L620.45 169.7 L621.9 167.41 L623.36 164.88 L624.81 162.48 L633.9 162.48" fill="none" stroke="#2222b0" stroke-width="1.8" stroke-linejoin="round" stroke-linecap="round" opacity="1"/>
<path d="M392 177.31 L393.18 178.06 L394.36 178.89 L395.54 179.69 L396.72 180.31 L397.9 180.65 L399.08 180.79 L400.26 180.93 L401.44 181.05 L402.62 181.16 L403.8 181.27 L404.98 181.36 L406.16 181.45 L407.34 181.53 L408.52 181.6 L409.7 181.67 L410.88 181.73 L412.06 181.78 L413.24 181.84 L414.42 181.88 L415.6 181.93 L416.78 181.97 L417.96 182.01 L419.14 182.05 L420.32 182.09 L421.5 182.13 L422.68 182.17 L423.86 182.21 L425.04 182.25 L426.22 182.3 L427.4 182.34 L428.58 182.39 L429.76 182.44 L430.94 182.48 L432.12 182.52 L433.3 182.55 L434.48 182.59 L435.66 182.62 L436.84 182.65 L438.02 182.68 L439.2 182.71 L440.38 182.74 L441.56 182.77 L442.74 182.8 L443.92 182.84 L445.1 182.87 L446.28 182.9 L447.46 182.94 L448.64 182.98 L449.82 183.02 L451 183.06 L452.18 183.1 L453.36 183.15 L454.54 183.21 L455.72 183.27 L456.9 183.33 L458.08 183.4 L459.26 183.5 L460.44 183.61 L461.62 183.73 L462.8 183.87 L463.98 184.03 L465.16 184.19 L466.34 184.37 L467.52 184.56 L468.7 184.75 L469.88 184.96 L471.06 185.17 L472.24 185.39 L473.42 185.61 L474.6 185.83 L475.78 186.06 L476.96 186.29 L478.14 186.52 L479.32 186.74 L480.5 186.97 L481.68 187.19 L482.86 187.4 L484.04 187.61 L485.22 187.82 L486.4 188.01 L487.58 188.21 L488.76 188.4 L489.94 188.6 L491.12 188.8 L492.3 189.01 L493.48 189.21 L494.66 189.41 L495.84 189.62 L497.02 189.82 L498.2 190.03 L499.38 190.23 L500.56 190.43 L501.74 190.63 L502.92 190.82 L504.1 191.01 L505.28 191.2 L506.46 191.38 L507.64 191.56 L508.82 191.73 L510 191.9 L511.18 192.06 L512.36 192.21 L513.54 192.37 L514.72 192.52 L515.9 192.67 L517.08 192.81 L518.26 192.95 L519.44 193.09 L520.62 193.23 L521.8 193.37 L522.98 193.5 L524.16 193.63 L525.34 193.76 L526.52 193.89 L527.7 194.02 L528.88 194.15 L530.06 194.27 L531.24 194.39 L532.42 194.51 L533.6 194.64 L534.78 194.76 L535.96 194.88 L537.14 195 L538.32 195.12 L539.5 195.23 L540.68 195.35 L541.86 195.47 L543.04 195.59 L544.22 195.71 L545.4 195.83 L546.58 195.95 L547.76 196.07 L548.94 196.19 L550.12 196.31 L551.3 196.44 L552.48 196.56 L553.66 196.69 L554.84 196.82 L556.02 196.95 L557.2 197.08 L558.38 197.21 L559.56 197.34 L560.74 197.48 L561.92 197.62 L563.1 197.76 L564.28 197.9 L565.46 198.05 L566.64 198.2 L567.82 198.35 L569 198.5 L570.18 198.66 L571.36 198.82 L572.54 198.99 L573.72 199.15 L574.9 199.32 L576.08 199.5 L577.26 199.67 L578.44 199.85 L579.62 200.03 L580.8 200.21 L581.98 200.4 L583.16 200.58 L584.34 200.77 L585.52 200.96 L586.7 201.15 L587.88 201.34 L589.06 201.53 L590.24 201.73 L591.42 201.92 L592.6 202.12 L593.78 202.32 L594.96 202.51 L596.14 202.71 L597.32 202.91 L598.5 203.11 L599.68 203.31 L600.86 203.51 L602.04 203.71 L603.22 203.91 L604.4 204.12 L605.58 204.33 L606.76 204.54 L607.05 204.59 L607.35 204.65 L607.64 204.7 L607.94 204.75 L608.24 204.81 L608.53 204.87 L608.83 204.92 L609.12 204.98 L609.41 205.04 L609.71 205.1 L610 205.16 L610.3 205.22 L610.6 205.28 L610.89 205.34 L611.18 205.4 L611.48 205.47 L611.77 205.53 L612.07 205.6 L612.37 205.67 L612.66 205.74 L612.95 205.81 L613.25 205.88 L613.54 205.96 L613.84 206.04 L614.13 206.12 L614.43 206.2 L614.73 206.29 L615.02 206.38 L615.32 206.47 L615.61 206.56 L615.9 206.66 L616.2 206.77 L616.5 206.87 L616.79 206.98 L617.09 207.1 L617.38 207.22 L617.67 207.35 L617.97 207.48 L618.26 207.62 L618.56 207.77 L618.86 207.92 L619.15 208.08 L619.44 208.25 L619.74 208.43 L620.03 208.62 L620.33 208.82 L620.62 209.03 L620.92 209.25 L621.21 209.49 L621.51 209.74 L621.8 210 L622.1 210.28 L622.39 210.58 L622.69 210.9 L622.99 211.24 L623.28 211.6 L623.58 211.98 L623.87 212.38 L624.16 212.82 L624.46 213.28 L624.75 213.77 L625.05 214.3 L625.35 214.86 L625.64 215.46 L625.93 216.1 L626.23 216.78 L626.52 217.51 L626.82 218.3 L627.12 219.13 L627.41 220.03 L627.7 220.99 L628 222.01 L628.29 223.11 L628.59 224.29 L628.88 225.54 L629.18 226.89 L629.48 228.34 L629.77 229.89 L630.07 231.55 L630.36 233.33 L630.65 235.24 L630.95 237.28 L631.25 239.48 L631.42 240.87" fill="none" stroke="#2222b0" stroke-width="1.8" stroke-linejoin="round" stroke-linecap="round" opacity="1"/>
<path d="M392 204 L393.19 203.92 L394.39 203.84 L395.58 203.76 L396.78 203.68 L397.97 203.6 L399.17 203.52 L400.36 203.44 L401.56 203.37 L402.75 203.29 L403.94 203.21 L405.14 203.13 L406.33 203.06 L407.53 202.98 L408.72 202.91 L409.92 202.83 L411.11 202.75 L412.3 202.68 L413.5 202.6 L414.69 202.52 L415.89 202.45 L417.08 202.37 L418.28 202.29 L419.47 202.21 L420.67 202.13 L421.86 202.05 L423.05 201.97 L424.25 201.89 L425.44 201.8 L426.64 201.72 L427.83 201.64 L429.03 201.55 L430.22 201.46 L431.41 201.37 L432.61 201.28 L433.8 201.19 L435 201.1 L436.19 201.01 L437.39 200.91 L438.58 200.81 L439.78 200.71 L440.97 200.61 L442.17 200.51 L443.37 200.4 L444.56 200.29 L445.76 200.18 L446.96 200.07 L448.16 199.95 L449.36 199.84 L450.56 199.72 L451.75 199.59 L452.95 199.47 L454.15 199.34 L455.35 199.22 L456.55 199.09 L457.74 198.95 L458.94 198.82 L460.14 198.69 L461.34 198.55 L462.54 198.42 L463.74 198.28 L464.93 198.14 L466.13 198 L467.33 197.86 L468.53 197.72 L469.73 197.57 L470.93 197.43 L472.12 197.29 L473.32 197.14 L474.52 197 L475.72 196.85 L476.92 196.7 L478.11 196.56 L479.31 196.41 L480.51 196.27 L481.71 196.12 L482.91 195.97 L484.11 195.83 L485.3 195.68 L486.5 195.54 L487.7 195.39 L488.9 195.25 L490.1 195.1 L491.29 194.96 L492.49 194.82 L493.69 194.68 L494.89 194.53 L496.09 194.39 L497.29 194.26 L498.49 194.12 L499.69 193.98 L500.89 193.84 L502.09 193.71 L503.29 193.57 L504.49 193.43 L505.69 193.3 L506.89 193.16 L508.09 193.03 L509.29 192.89 L510.49 192.76 L511.69 192.62 L512.89 192.49 L514.09 192.35 L515.29 192.22 L516.49 192.08 L517.69 191.95 L518.89 191.81 L520.09 191.67 L521.29 191.54 L522.49 191.4 L523.69 191.27 L524.89 191.13 L526.09 190.99 L527.29 190.86 L528.49 190.72 L529.69 190.58 L530.89 190.44 L532.09 190.3 L533.29 190.16 L534.49 190.02 L535.69 189.88 L536.89 189.74 L538.09 189.6 L539.29 189.46 L540.49 189.32 L541.69 189.17 L542.89 189.03 L544.1 188.88 L545.3 188.73 L546.5 188.59 L547.7 188.44 L548.9 188.29 L550.1 188.14 L551.3 187.99 L552.5 187.83 L553.7 187.68 L554.9 187.52 L556.1 187.37 L557.3 187.21 L558.5 187.05 L559.68 186.89 L560.86 186.74 L562.04 186.57 L563.23 186.41 L564.41 186.25 L565.59 186.08 L566.77 185.92 L567.95 185.75 L569.14 185.58 L570.32 185.41 L571.5 185.24 L572.68 185.07 L573.86 184.89 L575.05 184.72 L576.23 184.54 L577.41 184.36 L578.59 184.18 L579.77 184 L580.96 183.82 L582.14 183.64 L583.32 183.46 L584.5 183.27 L585.68 183.09 L586.87 182.9 L588.05 182.72 L589.23 182.53 L590.41 182.34 L591.59 182.16 L592.78 181.97 L594 181.78 L595.23 181.59 L596.45 181.42 L597.67 181.25 L598.9 181.08 L600.12 180.92 L601.35 180.76 L602.57 180.6 L603.8 180.44 L605.02 180.27 L606.24 180.11 L607.47 179.93 L608.69 179.75 L609.92 179.56 L611.14 179.36 L612.37 179.15 L613.59 178.93 L614.81 178.69 L616.04 178.43 L617.26 178.16 L618.49 177.87 L619.71 177.57 L620.93 177.24 L622.16 176.88 L623.38 176.46 L624.61 175.94 L625.83 175.31 L627.06 174.58 L628.28 173.75 L629.5 172.82 L630.73 171.8 L631.95 170.44 L633.18 168.64 L634.4 166.58 L635.63 164.47 L636.85 162.48 L642.75 162.48" fill="none" stroke="#1212a8" stroke-width="1.8" stroke-linejoin="round" stroke-linecap="round" opacity="1"/>
<path d="M392 176.46 L393.18 177.22 L394.36 178.07 L395.54 178.87 L396.72 179.51 L397.9 179.85 L399.08 179.99 L400.26 180.13 L401.44 180.25 L402.62 180.37 L403.8 180.47 L404.98 180.57 L406.16 180.66 L407.34 180.74 L408.52 180.81 L409.7 180.88 L410.88 180.94 L412.06 181 L413.24 181.05 L414.42 181.1 L415.6 181.15 L416.78 181.19 L417.96 181.23 L419.14 181.27 L420.32 181.31 L421.5 181.34 L422.68 181.38 L423.86 181.42 L425.04 181.46 L426.22 181.5 L427.4 181.54 L428.58 181.59 L429.76 181.63 L430.94 181.66 L432.12 181.7 L433.3 181.73 L434.48 181.76 L435.66 181.79 L436.84 181.82 L438.02 181.84 L439.2 181.87 L440.38 181.89 L441.56 181.92 L442.74 181.94 L443.92 181.97 L445.1 181.99 L446.28 182.02 L447.46 182.05 L448.64 182.08 L449.82 182.12 L451 182.16 L452.18 182.2 L453.36 182.24 L454.54 182.29 L455.72 182.34 L456.9 182.39 L458.08 182.46 L459.26 182.55 L460.44 182.65 L461.62 182.77 L462.8 182.91 L463.98 183.06 L465.16 183.22 L466.34 183.4 L467.52 183.59 L468.7 183.79 L469.88 183.99 L471.06 184.2 L472.24 184.42 L473.42 184.64 L474.6 184.87 L475.78 185.1 L476.96 185.33 L478.14 185.56 L479.32 185.79 L480.5 186.01 L481.68 186.23 L482.86 186.45 L484.04 186.66 L485.22 186.86 L486.4 187.05 L487.58 187.24 L488.76 187.44 L489.94 187.63 L491.12 187.83 L492.3 188.03 L493.48 188.23 L494.66 188.43 L495.84 188.64 L497.02 188.84 L498.2 189.04 L499.38 189.24 L500.56 189.43 L501.74 189.63 L502.92 189.82 L504.1 190.01 L505.28 190.19 L506.46 190.37 L507.64 190.54 L508.82 190.71 L510 190.87 L511.18 191.02 L512.36 191.17 L513.54 191.32 L514.72 191.47 L515.9 191.61 L517.08 191.75 L518.26 191.89 L519.44 192.03 L520.62 192.16 L521.8 192.29 L522.98 192.42 L524.16 192.55 L525.34 192.67 L526.52 192.8 L527.7 192.92 L528.88 193.04 L530.06 193.16 L531.24 193.28 L532.42 193.39 L533.6 193.51 L534.78 193.62 L535.96 193.74 L537.14 193.85 L538.32 193.97 L539.5 194.08 L540.68 194.19 L541.86 194.31 L543.04 194.42 L544.22 194.54 L545.4 194.65 L546.58 194.77 L547.76 194.88 L548.94 195 L550.12 195.12 L551.3 195.23 L552.48 195.35 L553.66 195.47 L554.84 195.6 L556.02 195.72 L557.2 195.85 L558.38 195.97 L559.56 196.1 L560.74 196.23 L561.92 196.37 L563.1 196.5 L564.28 196.64 L565.46 196.78 L566.64 196.93 L567.82 197.07 L569 197.22 L570.18 197.38 L571.36 197.53 L572.54 197.69 L573.72 197.85 L574.9 198.02 L576.08 198.19 L577.26 198.36 L578.44 198.53 L579.62 198.71 L580.8 198.88 L581.98 199.06 L583.16 199.24 L584.34 199.43 L585.52 199.61 L586.7 199.8 L587.88 199.98 L589.06 200.17 L590.24 200.36 L591.42 200.55 L592.6 200.74 L593.78 200.93 L594.96 201.13 L596.14 201.32 L597.32 201.51 L598.5 201.7 L599.68 201.89 L600.86 202.08 L602.04 202.28 L603.22 202.47 L604.4 202.66 L605.58 202.84 L606.76 203.03 L607.94 203.22 L609.12 203.41 L610.3 203.6 L611.48 203.79 L612.66 203.98 L613.84 204.17 L615.02 204.37 L616.2 204.58 L616.5 204.64 L616.79 204.69 L617.09 204.75 L617.38 204.8 L617.67 204.86 L617.97 204.92 L618.26 204.98 L618.56 205.04 L618.86 205.1 L619.15 205.16 L619.44 205.23 L619.74 205.3 L620.03 205.36 L620.33 205.43 L620.62 205.51 L620.92 205.58 L621.21 205.66 L621.51 205.74 L621.8 205.82 L622.1 205.91 L622.39 206 L622.69 206.09 L622.99 206.19 L623.28 206.29 L623.58 206.4 L623.87 206.52 L624.16 206.64 L624.46 206.76 L624.75 206.89 L625.05 207.03 L625.35 207.18 L625.64 207.34 L625.93 207.51 L626.23 207.68 L626.52 207.87 L626.82 208.07 L627.12 208.29 L627.41 208.52 L627.7 208.77 L628 209.03 L628.29 209.31 L628.59 209.61 L628.88 209.94 L629.18 210.29 L629.48 210.66 L629.77 211.07 L630.07 211.5 L630.36 211.97 L630.65 212.48 L630.95 213.03 L631.25 213.62 L631.54 214.26 L631.84 214.95 L632.13 215.69 L632.42 216.5 L632.72 217.37 L633.01 218.31 L633.31 219.34 L633.61 220.44 L633.9 221.64 L634.19 222.94 L634.49 224.35 L634.78 225.88 L635.08 227.53 L635.38 229.33 L635.67 231.27 L635.96 233.39 L636.26 235.68 L636.55 238.17 L636.85 240.87" fill="none" stroke="#1212a8" stroke-width="1.8" stroke-linejoin="round" stroke-linecap="round" opacity="1"/>
<rect x="386" y="150" width="265.6" height="103.4" fill="none" stroke="#000" stroke-width="2"/>
<line x1="386" y1="247.22" x2="388.8" y2="247.22" stroke="#000" stroke-width="1.4" stroke-linecap="butt"/>
<line x1="386" y1="238.75" x2="390" y2="238.75" stroke="#000" stroke-width="1.4" stroke-linecap="butt"/>
<line x1="386" y1="230.28" x2="388.8" y2="230.28" stroke="#000" stroke-width="1.4" stroke-linecap="butt"/>
<line x1="386" y1="221.8" x2="390" y2="221.8" stroke="#000" stroke-width="1.4" stroke-linecap="butt"/>
<line x1="386" y1="213.32" x2="388.8" y2="213.32" stroke="#000" stroke-width="1.4" stroke-linecap="butt"/>
<line x1="386" y1="204.85" x2="390" y2="204.85" stroke="#000" stroke-width="1.4" stroke-linecap="butt"/>
<line x1="386" y1="196.38" x2="388.8" y2="196.38" stroke="#000" stroke-width="1.4" stroke-linecap="butt"/>
<line x1="386" y1="187.9" x2="390" y2="187.9" stroke="#000" stroke-width="1.4" stroke-linecap="butt"/>
<line x1="386" y1="179.43" x2="388.8" y2="179.43" stroke="#000" stroke-width="1.4" stroke-linecap="butt"/>
<line x1="386" y1="170.95" x2="390" y2="170.95" stroke="#000" stroke-width="1.4" stroke-linecap="butt"/>
<line x1="386" y1="162.48" x2="388.8" y2="162.48" stroke="#000" stroke-width="1.4" stroke-linecap="butt"/>
<line x1="386" y1="154" x2="390" y2="154" stroke="#000" stroke-width="1.4" stroke-linecap="butt"/>
<line x1="392" y1="253.4" x2="392" y2="249.4" stroke="#000" stroke-width="1.4" stroke-linecap="butt"/>
<line x1="415.6" y1="253.4" x2="415.6" y2="250.6" stroke="#000" stroke-width="1.4" stroke-linecap="butt"/>
<line x1="439.2" y1="253.4" x2="439.2" y2="249.4" stroke="#000" stroke-width="1.4" stroke-linecap="butt"/>
<line x1="462.8" y1="253.4" x2="462.8" y2="250.6" stroke="#000" stroke-width="1.4" stroke-linecap="butt"/>
<line x1="486.4" y1="253.4" x2="486.4" y2="249.4" stroke="#000" stroke-width="1.4" stroke-linecap="butt"/>
<line x1="510" y1="253.4" x2="510" y2="250.6" stroke="#000" stroke-width="1.4" stroke-linecap="butt"/>
<line x1="533.6" y1="253.4" x2="533.6" y2="249.4" stroke="#000" stroke-width="1.4" stroke-linecap="butt"/>
<line x1="557.2" y1="253.4" x2="557.2" y2="250.6" stroke="#000" stroke-width="1.4" stroke-linecap="butt"/>
<line x1="580.8" y1="253.4" x2="580.8" y2="249.4" stroke="#000" stroke-width="1.4" stroke-linecap="butt"/>
<line x1="604.4" y1="253.4" x2="604.4" y2="250.6" stroke="#000" stroke-width="1.4" stroke-linecap="butt"/>
<line x1="628" y1="253.4" x2="628" y2="249.4" stroke="#000" stroke-width="1.4" stroke-linecap="butt"/>
<line x1="651.6" y1="253.4" x2="651.6" y2="250.6" stroke="#000" stroke-width="1.4" stroke-linecap="butt"/>
<text x="381.5" y="242.55" font-size="10.1" font-weight="bold" fill="#111" text-anchor="end" textLength="13.4" lengthAdjust="spacingAndGlyphs" stroke="#111" stroke-width="0.2">2.8</text>
<text x="381.5" y="225.6" font-size="10.1" font-weight="bold" fill="#111" text-anchor="end" textLength="13.4" lengthAdjust="spacingAndGlyphs" stroke="#111" stroke-width="0.2">3.2</text>
<text x="381.5" y="208.65" font-size="10.1" font-weight="bold" fill="#111" text-anchor="end" textLength="13.4" lengthAdjust="spacingAndGlyphs" stroke="#111" stroke-width="0.2">3.6</text>
<text x="381.5" y="191.7" font-size="10.1" font-weight="bold" fill="#111" text-anchor="end" textLength="13.4" lengthAdjust="spacingAndGlyphs" stroke="#111" stroke-width="0.2">4.0</text>
<text x="381.5" y="174.75" font-size="10.1" font-weight="bold" fill="#111" text-anchor="end" textLength="13.4" lengthAdjust="spacingAndGlyphs" stroke="#111" stroke-width="0.2">4.4</text>
<text x="381.5" y="157.8" font-size="10.1" font-weight="bold" fill="#111" text-anchor="end" textLength="13.4" lengthAdjust="spacingAndGlyphs" stroke="#111" stroke-width="0.2">4.8</text>
<text x="392" y="265.9" font-size="10.1" font-weight="bold" fill="#111" text-anchor="middle" textLength="5.2" lengthAdjust="spacingAndGlyphs" stroke="#111" stroke-width="0.2">0</text>
<text x="439.2" y="265.9" font-size="10.1" font-weight="bold" fill="#111" text-anchor="middle" textLength="10.4" lengthAdjust="spacingAndGlyphs" stroke="#111" stroke-width="0.2">40</text>
<text x="486.4" y="265.9" font-size="10.1" font-weight="bold" fill="#111" text-anchor="middle" textLength="10.4" lengthAdjust="spacingAndGlyphs" stroke="#111" stroke-width="0.2">80</text>
<text x="533.6" y="265.9" font-size="10.1" font-weight="bold" fill="#111" text-anchor="middle" textLength="15.6" lengthAdjust="spacingAndGlyphs" stroke="#111" stroke-width="0.2">120</text>
<text x="580.8" y="265.9" font-size="10.1" font-weight="bold" fill="#111" text-anchor="middle" textLength="15.6" lengthAdjust="spacingAndGlyphs" stroke="#111" stroke-width="0.2">160</text>
<text x="628" y="265.9" font-size="10.1" font-weight="bold" fill="#111" text-anchor="middle" textLength="15.6" lengthAdjust="spacingAndGlyphs" stroke="#111" stroke-width="0.2">200</text>
<text x="357.9" y="234.8" font-size="10" font-weight="bold" fill="#111" text-anchor="start" textLength="50.5" lengthAdjust="spacingAndGlyphs" transform="rotate(-90 357.9 234.8)" stroke="#111" stroke-width="0.2">Voltage (V)</text>
<text x="477" y="283.8" font-size="10" font-weight="bold" fill="#111" text-anchor="start" textLength="73.9" lengthAdjust="spacingAndGlyphs" stroke="#111" stroke-width="0.2">Capacity (mAh g</text>
<text x="551.6" y="279.8" font-size="7" font-weight="normal" fill="#111" text-anchor="start" textLength="5.4" lengthAdjust="spacingAndGlyphs" stroke="#111" stroke-width="0.3">-1</text>
<text x="557" y="283.8" font-size="10" font-weight="bold" fill="#111" text-anchor="start" textLength="2.9" lengthAdjust="spacingAndGlyphs" stroke="#111" stroke-width="0.2">)</text>
<text x="348.4" y="161.4" font-size="19.6" font-weight="bold" fill="#111" text-anchor="start" stroke="#111" stroke-width="0.2">d</text>
<text x="396.1" y="165.6" font-size="10" font-weight="bold" fill="#0A0A88" text-anchor="start" textLength="94.3" lengthAdjust="spacingAndGlyphs" stroke="#0A0A88" stroke-width="0.15">2.75-4.6 V, 100 mA g</text>
<text x="490.7" y="160.9" font-size="6.6" font-weight="normal" fill="#0A0A88" text-anchor="start" textLength="4.9" lengthAdjust="spacingAndGlyphs" stroke="#0A0A88" stroke-width="0.35">-1</text>
<text x="404.7" y="241.8" font-size="10" font-weight="bold" fill="#0A0A88" text-anchor="start" textLength="57" lengthAdjust="spacingAndGlyphs" stroke="#0A0A88" stroke-width="0.2">AZ0.3-SNCM</text>
<line x1="635.7" y1="244.4" x2="595.2" y2="244.4" stroke="#000" stroke-width="1.6" stroke-linecap="butt"/>
<path d="M584 244.4 L596.2 240.9 L596.8 244.4 L596.2 247.9 Z" fill="#000"/>
<text x="536.7" y="249.6" font-size="9.6" font-weight="bold" fill="#111" text-anchor="start" textLength="26" lengthAdjust="spacingAndGlyphs" stroke="#111" stroke-width="0.2">150th</text>
<text x="634" y="251.6" font-size="9.6" font-weight="bold" fill="#111" text-anchor="start" textLength="13.5" lengthAdjust="spacingAndGlyphs" stroke="#111" stroke-width="0.2">1st</text>
<clipPath id="ce"><rect x="42.3" y="298.8" width="268.7" height="103.3"/></clipPath><g clip-path="url(#ce)">
<circle cx="49.2" cy="325.69" r="3.35" fill="url(#gO)"/>
<circle cx="55.9" cy="326.52" r="3.35" fill="url(#gO)"/>
<circle cx="62.6" cy="327.35" r="3.35" fill="url(#gO)"/>
<circle cx="69.3" cy="328.18" r="3.35" fill="url(#gO)"/>
<circle cx="76" cy="329.11" r="3.35" fill="url(#gO)"/>
<circle cx="82.7" cy="336.48" r="3.35" fill="url(#gO)"/>
<circle cx="89.4" cy="336.58" r="3.35" fill="url(#gO)"/>
<circle cx="96.1" cy="336.68" r="3.35" fill="url(#gO)"/>
<circle cx="102.8" cy="336.79" r="3.35" fill="url(#gO)"/>
<circle cx="109.5" cy="336.89" r="3.35" fill="url(#gO)"/>
<circle cx="116.2" cy="351.31" r="3.35" fill="url(#gO)"/>
<circle cx="122.9" cy="351.42" r="3.35" fill="url(#gO)"/>
<circle cx="129.6" cy="351.52" r="3.35" fill="url(#gO)"/>
<circle cx="136.3" cy="351.62" r="3.35" fill="url(#gO)"/>
<circle cx="143" cy="351.73" r="3.35" fill="url(#gO)"/>
<circle cx="149.7" cy="356.71" r="3.35" fill="url(#gO)"/>
<circle cx="156.4" cy="356.81" r="3.35" fill="url(#gO)"/>
<circle cx="163.1" cy="356.92" r="3.35" fill="url(#gO)"/>
<circle cx="169.8" cy="357.02" r="3.35" fill="url(#gO)"/>
<circle cx="176.5" cy="357.12" r="3.35" fill="url(#gO)"/>
<circle cx="183.2" cy="362.83" r="3.35" fill="url(#gO)"/>
<circle cx="189.9" cy="362.93" r="3.35" fill="url(#gO)"/>
<circle cx="196.6" cy="363.04" r="3.35" fill="url(#gO)"/>
<circle cx="203.3" cy="363.14" r="3.35" fill="url(#gO)"/>
<circle cx="210" cy="363.24" r="3.35" fill="url(#gO)"/>
<circle cx="216.7" cy="367.39" r="3.35" fill="url(#gO)"/>
<circle cx="223.4" cy="367.5" r="3.35" fill="url(#gO)"/>
<circle cx="230.1" cy="367.6" r="3.35" fill="url(#gO)"/>
<circle cx="236.8" cy="367.71" r="3.35" fill="url(#gO)"/>
<circle cx="243.5" cy="367.81" r="3.35" fill="url(#gO)"/>
<circle cx="250.2" cy="379.84" r="3.35" fill="url(#gO)"/>
<circle cx="256.9" cy="380.36" r="3.35" fill="url(#gO)"/>
<circle cx="263.6" cy="381.09" r="3.35" fill="url(#gO)"/>
<circle cx="270.3" cy="381.71" r="3.35" fill="url(#gO)"/>
<circle cx="277" cy="382.33" r="3.35" fill="url(#gO)"/>
<circle cx="283.7" cy="342.29" r="3.35" fill="url(#gO)"/>
<circle cx="290.4" cy="342.29" r="3.35" fill="url(#gO)"/>
<circle cx="297.1" cy="342.39" r="3.35" fill="url(#gO)"/>
<circle cx="303.8" cy="342.39" r="3.35" fill="url(#gO)"/>
<circle cx="310.5" cy="342.39" r="3.35" fill="url(#gO)"/>
<circle cx="49.2" cy="324.03" r="3.35" fill="url(#gN)"/>
<circle cx="55.9" cy="324.75" r="3.35" fill="url(#gN)"/>
<circle cx="62.6" cy="325.69" r="3.35" fill="url(#gN)"/>
<circle cx="69.3" cy="326.72" r="3.35" fill="url(#gN)"/>
<circle cx="76" cy="327.56" r="3.35" fill="url(#gN)"/>
<circle cx="82.7" cy="333.78" r="3.35" fill="url(#gN)"/>
<circle cx="89.4" cy="334.19" r="3.35" fill="url(#gN)"/>
<circle cx="96.1" cy="334.4" r="3.35" fill="url(#gN)"/>
<circle cx="102.8" cy="334.51" r="3.35" fill="url(#gN)"/>
<circle cx="109.5" cy="334.71" r="3.35" fill="url(#gN)"/>
<circle cx="116.2" cy="343.84" r="3.35" fill="url(#gN)"/>
<circle cx="122.9" cy="343.95" r="3.35" fill="url(#gN)"/>
<circle cx="129.6" cy="344.05" r="3.35" fill="url(#gN)"/>
<circle cx="136.3" cy="344.15" r="3.35" fill="url(#gN)"/>
<circle cx="143" cy="344.36" r="3.35" fill="url(#gN)"/>
<circle cx="149.7" cy="349.65" r="3.35" fill="url(#gN)"/>
<circle cx="156.4" cy="349.86" r="3.35" fill="url(#gN)"/>
<circle cx="163.1" cy="349.96" r="3.35" fill="url(#gN)"/>
<circle cx="169.8" cy="350.07" r="3.35" fill="url(#gN)"/>
<circle cx="176.5" cy="350.17" r="3.35" fill="url(#gN)"/>
<circle cx="183.2" cy="355.15" r="3.35" fill="url(#gN)"/>
<circle cx="189.9" cy="355.26" r="3.35" fill="url(#gN)"/>
<circle cx="196.6" cy="355.36" r="3.35" fill="url(#gN)"/>
<circle cx="203.3" cy="355.46" r="3.35" fill="url(#gN)"/>
<circle cx="210" cy="355.57" r="3.35" fill="url(#gN)"/>
<circle cx="216.7" cy="359.09" r="3.35" fill="url(#gN)"/>
<circle cx="223.4" cy="359.3" r="3.35" fill="url(#gN)"/>
<circle cx="230.1" cy="359.41" r="3.35" fill="url(#gN)"/>
<circle cx="236.8" cy="359.51" r="3.35" fill="url(#gN)"/>
<circle cx="243.5" cy="359.61" r="3.35" fill="url(#gN)"/>
<circle cx="250.2" cy="364.9" r="3.35" fill="url(#gN)"/>
<circle cx="256.9" cy="365.01" r="3.35" fill="url(#gN)"/>
<circle cx="263.6" cy="365.11" r="3.35" fill="url(#gN)"/>
<circle cx="270.3" cy="365.11" r="3.35" fill="url(#gN)"/>
<circle cx="277" cy="365.22" r="3.35" fill="url(#gN)"/>
<circle cx="283.7" cy="335.85" r="3.35" fill="url(#gN)"/>
<circle cx="290.4" cy="335.75" r="3.35" fill="url(#gN)"/>
<circle cx="297.1" cy="335.75" r="3.35" fill="url(#gN)"/>
<circle cx="303.8" cy="335.85" r="3.35" fill="url(#gN)"/>
<circle cx="310.5" cy="335.85" r="3.35" fill="url(#gN)"/>
</g>
<rect x="42.3" y="298.8" width="268.7" height="103.3" fill="none" stroke="#000" stroke-width="2"/>
<line x1="42.3" y1="397.27" x2="45.1" y2="397.27" stroke="#000" stroke-width="1.4" stroke-linecap="butt"/>
<line x1="42.3" y1="386.9" x2="46.3" y2="386.9" stroke="#000" stroke-width="1.4" stroke-linecap="butt"/>
<line x1="42.3" y1="376.52" x2="45.1" y2="376.52" stroke="#000" stroke-width="1.4" stroke-linecap="butt"/>
<line x1="42.3" y1="366.15" x2="46.3" y2="366.15" stroke="#000" stroke-width="1.4" stroke-linecap="butt"/>
<line x1="42.3" y1="355.77" x2="45.1" y2="355.77" stroke="#000" stroke-width="1.4" stroke-linecap="butt"/>
<line x1="42.3" y1="345.4" x2="46.3" y2="345.4" stroke="#000" stroke-width="1.4" stroke-linecap="butt"/>
<line x1="42.3" y1="335.02" x2="45.1" y2="335.02" stroke="#000" stroke-width="1.4" stroke-linecap="butt"/>
<line x1="42.3" y1="324.65" x2="46.3" y2="324.65" stroke="#000" stroke-width="1.4" stroke-linecap="butt"/>
<line x1="42.3" y1="314.27" x2="45.1" y2="314.27" stroke="#000" stroke-width="1.4" stroke-linecap="butt"/>
<line x1="42.3" y1="303.9" x2="46.3" y2="303.9" stroke="#000" stroke-width="1.4" stroke-linecap="butt"/>
<line x1="42.5" y1="402.1" x2="42.5" y2="398.1" stroke="#000" stroke-width="1.4" stroke-linecap="butt"/>
<line x1="59.25" y1="402.1" x2="59.25" y2="399.3" stroke="#000" stroke-width="1.4" stroke-linecap="butt"/>
<line x1="76" y1="402.1" x2="76" y2="398.1" stroke="#000" stroke-width="1.4" stroke-linecap="butt"/>
<line x1="92.75" y1="402.1" x2="92.75" y2="399.3" stroke="#000" stroke-width="1.4" stroke-linecap="butt"/>
<line x1="109.5" y1="402.1" x2="109.5" y2="398.1" stroke="#000" stroke-width="1.4" stroke-linecap="butt"/>
<line x1="126.25" y1="402.1" x2="126.25" y2="399.3" stroke="#000" stroke-width="1.4" stroke-linecap="butt"/>
<line x1="143" y1="402.1" x2="143" y2="398.1" stroke="#000" stroke-width="1.4" stroke-linecap="butt"/>
<line x1="159.75" y1="402.1" x2="159.75" y2="399.3" stroke="#000" stroke-width="1.4" stroke-linecap="butt"/>
<line x1="176.5" y1="402.1" x2="176.5" y2="398.1" stroke="#000" stroke-width="1.4" stroke-linecap="butt"/>
<line x1="193.25" y1="402.1" x2="193.25" y2="399.3" stroke="#000" stroke-width="1.4" stroke-linecap="butt"/>
<line x1="210" y1="402.1" x2="210" y2="398.1" stroke="#000" stroke-width="1.4" stroke-linecap="butt"/>
<line x1="226.75" y1="402.1" x2="226.75" y2="399.3" stroke="#000" stroke-width="1.4" stroke-linecap="butt"/>
<line x1="243.5" y1="402.1" x2="243.5" y2="398.1" stroke="#000" stroke-width="1.4" stroke-linecap="butt"/>
<line x1="260.25" y1="402.1" x2="260.25" y2="399.3" stroke="#000" stroke-width="1.4" stroke-linecap="butt"/>
<line x1="277" y1="402.1" x2="277" y2="398.1" stroke="#000" stroke-width="1.4" stroke-linecap="butt"/>
<line x1="293.75" y1="402.1" x2="293.75" y2="399.3" stroke="#000" stroke-width="1.4" stroke-linecap="butt"/>
<line x1="310.5" y1="402.1" x2="310.5" y2="398.1" stroke="#000" stroke-width="1.4" stroke-linecap="butt"/>
<text x="38.5" y="390.7" font-size="10.1" font-weight="bold" fill="#111" text-anchor="end" textLength="15.6" lengthAdjust="spacingAndGlyphs" stroke="#111" stroke-width="0.2">160</text>
<text x="38.5" y="369.95" font-size="10.1" font-weight="bold" fill="#111" text-anchor="end" textLength="15.6" lengthAdjust="spacingAndGlyphs" stroke="#111" stroke-width="0.2">180</text>
<text x="38.5" y="349.2" font-size="10.1" font-weight="bold" fill="#111" text-anchor="end" textLength="15.6" lengthAdjust="spacingAndGlyphs" stroke="#111" stroke-width="0.2">200</text>
<text x="38.5" y="328.45" font-size="10.1" font-weight="bold" fill="#111" text-anchor="end" textLength="15.6" lengthAdjust="spacingAndGlyphs" stroke="#111" stroke-width="0.2">220</text>
<text x="38.5" y="307.7" font-size="10.1" font-weight="bold" fill="#111" text-anchor="end" textLength="15.6" lengthAdjust="spacingAndGlyphs" stroke="#111" stroke-width="0.2">240</text>
<text x="42.5" y="414.7" font-size="10.1" font-weight="bold" fill="#111" text-anchor="middle" textLength="5.2" lengthAdjust="spacingAndGlyphs" stroke="#111" stroke-width="0.2">0</text>
<text x="76" y="414.7" font-size="10.1" font-weight="bold" fill="#111" text-anchor="middle" textLength="5.2" lengthAdjust="spacingAndGlyphs" stroke="#111" stroke-width="0.2">5</text>
<text x="109.5" y="414.7" font-size="10.1" font-weight="bold" fill="#111" text-anchor="middle" textLength="10.4" lengthAdjust="spacingAndGlyphs" stroke="#111" stroke-width="0.2">10</text>
<text x="143" y="414.7" font-size="10.1" font-weight="bold" fill="#111" text-anchor="middle" textLength="10.4" lengthAdjust="spacingAndGlyphs" stroke="#111" stroke-width="0.2">15</text>
<text x="176.5" y="414.7" font-size="10.1" font-weight="bold" fill="#111" text-anchor="middle" textLength="10.4" lengthAdjust="spacingAndGlyphs" stroke="#111" stroke-width="0.2">20</text>
<text x="210" y="414.7" font-size="10.1" font-weight="bold" fill="#111" text-anchor="middle" textLength="10.4" lengthAdjust="spacingAndGlyphs" stroke="#111" stroke-width="0.2">25</text>
<text x="243.5" y="414.7" font-size="10.1" font-weight="bold" fill="#111" text-anchor="middle" textLength="10.4" lengthAdjust="spacingAndGlyphs" stroke="#111" stroke-width="0.2">30</text>
<text x="277" y="414.7" font-size="10.1" font-weight="bold" fill="#111" text-anchor="middle" textLength="10.4" lengthAdjust="spacingAndGlyphs" stroke="#111" stroke-width="0.2">35</text>
<text x="310.5" y="414.7" font-size="10.1" font-weight="bold" fill="#111" text-anchor="middle" textLength="10.4" lengthAdjust="spacingAndGlyphs" stroke="#111" stroke-width="0.2">40</text>
<text x="145.7" y="434.8" font-size="10" font-weight="bold" fill="#111" text-anchor="start" textLength="62.3" lengthAdjust="spacingAndGlyphs" stroke="#111" stroke-width="0.2">Cycle number</text>
<text x="10.4" y="398.5" font-size="10" font-weight="bold" fill="#111" text-anchor="start" textLength="85.1" lengthAdjust="spacingAndGlyphs" transform="rotate(-90 10.4 398.5)" stroke="#111" stroke-width="0.2">Capacity(mAh g<tspan font-size="7" font-weight="normal" dy="-4.3">-1</tspan><tspan dy="4.3">)</tspan></text>
<text x="0.4" y="308.7" font-size="18.8" font-weight="bold" fill="#111" text-anchor="start" stroke="#111" stroke-width="0.2">e</text>
<text x="44.9" y="313.5" font-size="9.4" font-weight="normal" fill="#111" text-anchor="start" textLength="30.1" lengthAdjust="spacingAndGlyphs" stroke="#111" stroke-width="0.35">20 mA g</text>
<text x="75.5" y="308.7" font-size="5.6" font-weight="normal" fill="#111" text-anchor="start" textLength="3.6" lengthAdjust="spacingAndGlyphs" stroke="#111" stroke-width="0.2">-1</text>
<text x="75.6" y="323.1" font-size="9.4" font-weight="normal" fill="#111" text-anchor="start" textLength="31.6" lengthAdjust="spacingAndGlyphs" stroke="#111" stroke-width="0.35">40 mA g</text>
<text x="107.7" y="318.3" font-size="5.6" font-weight="normal" fill="#111" text-anchor="start" textLength="3.6" lengthAdjust="spacingAndGlyphs" stroke="#111" stroke-width="0.2">-1</text>
<text x="110.5" y="329.4" font-size="9.4" font-weight="normal" fill="#111" text-anchor="start" textLength="35.5" lengthAdjust="spacingAndGlyphs" stroke="#111" stroke-width="0.35">100 mA g</text>
<text x="146.5" y="324.6" font-size="5.6" font-weight="normal" fill="#111" text-anchor="start" textLength="3.6" lengthAdjust="spacingAndGlyphs" stroke="#111" stroke-width="0.2">-1</text>
<text x="145.8" y="338.7" font-size="9.4" font-weight="normal" fill="#111" text-anchor="start" textLength="35.5" lengthAdjust="spacingAndGlyphs" stroke="#111" stroke-width="0.35">200 mA g</text>
<text x="181.8" y="333.9" font-size="5.6" font-weight="normal" fill="#111" text-anchor="start" textLength="3.6" lengthAdjust="spacingAndGlyphs" stroke="#111" stroke-width="0.2">-1</text>
<text x="178.3" y="347.1" font-size="9.4" font-weight="normal" fill="#111" text-anchor="start" textLength="35.5" lengthAdjust="spacingAndGlyphs" stroke="#111" stroke-width="0.35">400 mA g</text>
<text x="214.3" y="342.3" font-size="5.6" font-weight="normal" fill="#111" text-anchor="start" textLength="3.6" lengthAdjust="spacingAndGlyphs" stroke="#111" stroke-width="0.2">-1</text>
<text x="218" y="351.6" font-size="9.4" font-weight="normal" fill="#111" text-anchor="start" textLength="35.5" lengthAdjust="spacingAndGlyphs" stroke="#111" stroke-width="0.35">600 mA g</text>
<text x="254" y="346.8" font-size="5.6" font-weight="normal" fill="#111" text-anchor="start" textLength="3.6" lengthAdjust="spacingAndGlyphs" stroke="#111" stroke-width="0.2">-1</text>
<text x="251.3" y="361.4" font-size="9.4" font-weight="normal" fill="#111" text-anchor="start" textLength="40" lengthAdjust="spacingAndGlyphs" stroke="#111" stroke-width="0.35">1000 mA g</text>
<text x="291.8" y="356.6" font-size="5.6" font-weight="normal" fill="#111" text-anchor="start" textLength="3.6" lengthAdjust="spacingAndGlyphs" stroke="#111" stroke-width="0.2">-1</text>
<text x="274.8" y="328.2" font-size="9.4" font-weight="normal" fill="#111" text-anchor="start" textLength="30.1" lengthAdjust="spacingAndGlyphs" stroke="#111" stroke-width="0.35">20 mA g</text>
<text x="305.4" y="323.4" font-size="5.6" font-weight="normal" fill="#111" text-anchor="start" textLength="3.6" lengthAdjust="spacingAndGlyphs" stroke="#111" stroke-width="0.2">-1</text>
<circle cx="61.4" cy="371.8" r="3.5" fill="url(#gO)"/>
<circle cx="60.2" cy="384.9" r="3.5" fill="url(#gN)"/>
<text x="73.5" y="376.9" font-size="10" font-weight="bold" fill="#111" text-anchor="start" textLength="71.8" lengthAdjust="spacingAndGlyphs" stroke="#111" stroke-width="0.2">Undoped SNCM</text>
<text x="72.7" y="390.2" font-size="10" font-weight="bold" fill="#111" text-anchor="start" textLength="57.3" lengthAdjust="spacingAndGlyphs" stroke="#111" stroke-width="0.2">AZ0.3-SNCM</text>
<clipPath id="cf"><rect x="386.6" y="298.8" width="265.4" height="103.3"/></clipPath><g clip-path="url(#cf)">
<circle cx="394.24" cy="305.65" r="3.3" fill="url(#gO)"/>
<circle cx="394.97" cy="328.35" r="3.3" fill="url(#gO)"/>
<circle cx="395.71" cy="328.33" r="3.3" fill="url(#gO)"/>
<circle cx="396.45" cy="328.25" r="3.3" fill="url(#gO)"/>
<circle cx="397.19" cy="328.67" r="3.3" fill="url(#gO)"/>
<circle cx="397.92" cy="328.21" r="3.3" fill="url(#gO)"/>
<circle cx="398.66" cy="328.49" r="3.3" fill="url(#gO)"/>
<circle cx="399.4" cy="328.57" r="3.3" fill="url(#gO)"/>
<circle cx="400.13" cy="329.32" r="3.3" fill="url(#gO)"/>
<circle cx="400.87" cy="330.48" r="3.3" fill="url(#gO)"/>
<circle cx="401.61" cy="329.86" r="3.3" fill="url(#gO)"/>
<circle cx="402.34" cy="330.15" r="3.3" fill="url(#gO)"/>
<circle cx="403.08" cy="330.49" r="3.3" fill="url(#gO)"/>
<circle cx="403.82" cy="331.06" r="3.3" fill="url(#gO)"/>
<circle cx="404.56" cy="330.62" r="3.3" fill="url(#gO)"/>
<circle cx="405.29" cy="330.54" r="3.3" fill="url(#gO)"/>
<circle cx="406.03" cy="332.07" r="3.3" fill="url(#gO)"/>
<circle cx="406.77" cy="331.41" r="3.3" fill="url(#gO)"/>
<circle cx="407.5" cy="332.13" r="3.3" fill="url(#gO)"/>
<circle cx="408.24" cy="332.14" r="3.3" fill="url(#gO)"/>
<circle cx="408.98" cy="331.72" r="3.3" fill="url(#gO)"/>
<circle cx="409.71" cy="331.79" r="3.3" fill="url(#gO)"/>
<circle cx="410.45" cy="332.47" r="3.3" fill="url(#gO)"/>
<circle cx="411.19" cy="333.36" r="3.3" fill="url(#gO)"/>
<circle cx="411.93" cy="332.39" r="3.3" fill="url(#gO)"/>
<circle cx="412.66" cy="333.74" r="3.3" fill="url(#gO)"/>
<circle cx="413.4" cy="333.6" r="3.3" fill="url(#gO)"/>
<circle cx="414.14" cy="333.07" r="3.3" fill="url(#gO)"/>
<circle cx="414.87" cy="334.06" r="3.3" fill="url(#gO)"/>
<circle cx="415.61" cy="334.32" r="3.3" fill="url(#gO)"/>
<circle cx="416.35" cy="333.42" r="3.3" fill="url(#gO)"/>
<circle cx="417.08" cy="333.6" r="3.3" fill="url(#gO)"/>
<circle cx="417.82" cy="334.78" r="3.3" fill="url(#gO)"/>
<circle cx="418.56" cy="334.84" r="3.3" fill="url(#gO)"/>
<circle cx="419.3" cy="335.19" r="3.3" fill="url(#gO)"/>
<circle cx="420.03" cy="335.61" r="3.3" fill="url(#gO)"/>
<circle cx="420.77" cy="335.6" r="3.3" fill="url(#gO)"/>
<circle cx="421.51" cy="334.62" r="3.3" fill="url(#gO)"/>
<circle cx="422.24" cy="336.23" r="3.3" fill="url(#gO)"/>
<circle cx="422.98" cy="336.17" r="3.3" fill="url(#gO)"/>
<circle cx="423.72" cy="336.4" r="3.3" fill="url(#gO)"/>
<circle cx="424.45" cy="336.79" r="3.3" fill="url(#gO)"/>
<circle cx="425.19" cy="336.27" r="3.3" fill="url(#gO)"/>
<circle cx="425.93" cy="336.11" r="3.3" fill="url(#gO)"/>
<circle cx="426.67" cy="336.15" r="3.3" fill="url(#gO)"/>
<circle cx="427.4" cy="336.67" r="3.3" fill="url(#gO)"/>
<circle cx="428.14" cy="336.56" r="3.3" fill="url(#gO)"/>
<circle cx="428.88" cy="338.04" r="3.3" fill="url(#gO)"/>
<circle cx="429.61" cy="337.79" r="3.3" fill="url(#gO)"/>
<circle cx="430.35" cy="336.9" r="3.3" fill="url(#gO)"/>
<circle cx="431.09" cy="338.51" r="3.3" fill="url(#gO)"/>
<circle cx="431.82" cy="338.39" r="3.3" fill="url(#gO)"/>
<circle cx="432.56" cy="338.23" r="3.3" fill="url(#gO)"/>
<circle cx="433.3" cy="338.76" r="3.3" fill="url(#gO)"/>
<circle cx="434.03" cy="338.51" r="3.3" fill="url(#gO)"/>
<circle cx="434.77" cy="339.5" r="3.3" fill="url(#gO)"/>
<circle cx="435.51" cy="339.39" r="3.3" fill="url(#gO)"/>
<circle cx="436.25" cy="338.43" r="3.3" fill="url(#gO)"/>
<circle cx="436.98" cy="339.91" r="3.3" fill="url(#gO)"/>
<circle cx="437.72" cy="338.89" r="3.3" fill="url(#gO)"/>
<circle cx="438.46" cy="340.24" r="3.3" fill="url(#gO)"/>
<circle cx="439.19" cy="339.13" r="3.3" fill="url(#gO)"/>
<circle cx="439.93" cy="339.83" r="3.3" fill="url(#gO)"/>
<circle cx="440.67" cy="339.99" r="3.3" fill="url(#gO)"/>
<circle cx="441.4" cy="340.91" r="3.3" fill="url(#gO)"/>
<circle cx="442.14" cy="341.16" r="3.3" fill="url(#gO)"/>
<circle cx="442.88" cy="340.16" r="3.3" fill="url(#gO)"/>
<circle cx="443.62" cy="341.2" r="3.3" fill="url(#gO)"/>
<circle cx="444.35" cy="341.3" r="3.3" fill="url(#gO)"/>
<circle cx="445.09" cy="340.41" r="3.3" fill="url(#gO)"/>
<circle cx="445.83" cy="340.44" r="3.3" fill="url(#gO)"/>
<circle cx="446.56" cy="341.87" r="3.3" fill="url(#gO)"/>
<circle cx="447.3" cy="340.54" r="3.3" fill="url(#gO)"/>
<circle cx="448.04" cy="341.33" r="3.3" fill="url(#gO)"/>
<circle cx="448.77" cy="341.69" r="3.3" fill="url(#gO)"/>
<circle cx="449.51" cy="342.25" r="3.3" fill="url(#gO)"/>
<circle cx="450.25" cy="341.91" r="3.3" fill="url(#gO)"/>
<circle cx="450.99" cy="341.08" r="3.3" fill="url(#gO)"/>
<circle cx="451.72" cy="342.32" r="3.3" fill="url(#gO)"/>
<circle cx="452.46" cy="342.68" r="3.3" fill="url(#gO)"/>
<circle cx="453.2" cy="342.77" r="3.3" fill="url(#gO)"/>
<circle cx="453.93" cy="342.92" r="3.3" fill="url(#gO)"/>
<circle cx="454.67" cy="342.68" r="3.3" fill="url(#gO)"/>
<circle cx="455.41" cy="341.91" r="3.3" fill="url(#gO)"/>
<circle cx="456.14" cy="343.36" r="3.3" fill="url(#gO)"/>
<circle cx="456.88" cy="343.29" r="3.3" fill="url(#gO)"/>
<circle cx="457.62" cy="342.23" r="3.3" fill="url(#gO)"/>
<circle cx="458.36" cy="342.25" r="3.3" fill="url(#gO)"/>
<circle cx="459.09" cy="342.4" r="3.3" fill="url(#gO)"/>
<circle cx="459.83" cy="343.68" r="3.3" fill="url(#gO)"/>
<circle cx="460.57" cy="343.41" r="3.3" fill="url(#gO)"/>
<circle cx="461.3" cy="342.37" r="3.3" fill="url(#gO)"/>
<circle cx="462.04" cy="343.01" r="3.3" fill="url(#gO)"/>
<circle cx="462.78" cy="342.56" r="3.3" fill="url(#gO)"/>
<circle cx="463.51" cy="344.37" r="3.3" fill="url(#gO)"/>
<circle cx="464.25" cy="346.03" r="3.3" fill="url(#gO)"/>
<circle cx="464.99" cy="346.7" r="3.3" fill="url(#gO)"/>
<circle cx="465.73" cy="346.86" r="3.3" fill="url(#gO)"/>
<circle cx="466.46" cy="347.6" r="3.3" fill="url(#gO)"/>
<circle cx="467.2" cy="348.73" r="3.3" fill="url(#gO)"/>
<circle cx="467.94" cy="349.25" r="3.3" fill="url(#gO)"/>
<circle cx="468.67" cy="349.48" r="3.3" fill="url(#gO)"/>
<circle cx="469.41" cy="349.99" r="3.3" fill="url(#gO)"/>
<circle cx="470.15" cy="350.2" r="3.3" fill="url(#gO)"/>
<circle cx="470.88" cy="350.07" r="3.3" fill="url(#gO)"/>
<circle cx="471.62" cy="351.43" r="3.3" fill="url(#gO)"/>
<circle cx="472.36" cy="351.16" r="3.3" fill="url(#gO)"/>
<circle cx="473.1" cy="350.97" r="3.3" fill="url(#gO)"/>
<circle cx="473.83" cy="351.46" r="3.3" fill="url(#gO)"/>
<circle cx="474.57" cy="352.88" r="3.3" fill="url(#gO)"/>
<circle cx="475.31" cy="351.98" r="3.3" fill="url(#gO)"/>
<circle cx="476.04" cy="352.53" r="3.3" fill="url(#gO)"/>
<circle cx="476.78" cy="353.95" r="3.3" fill="url(#gO)"/>
<circle cx="477.52" cy="354.15" r="3.3" fill="url(#gO)"/>
<circle cx="478.25" cy="354.6" r="3.3" fill="url(#gO)"/>
<circle cx="478.99" cy="355.19" r="3.3" fill="url(#gO)"/>
<circle cx="479.73" cy="354.08" r="3.3" fill="url(#gO)"/>
<circle cx="480.47" cy="355.34" r="3.3" fill="url(#gO)"/>
<circle cx="481.2" cy="354.87" r="3.3" fill="url(#gO)"/>
<circle cx="481.94" cy="356.34" r="3.3" fill="url(#gO)"/>
<circle cx="482.68" cy="356.77" r="3.3" fill="url(#gO)"/>
<circle cx="483.41" cy="355.68" r="3.3" fill="url(#gO)"/>
<circle cx="484.15" cy="356.07" r="3.3" fill="url(#gO)"/>
<circle cx="484.89" cy="356.03" r="3.3" fill="url(#gO)"/>
<circle cx="485.62" cy="356.78" r="3.3" fill="url(#gO)"/>
<circle cx="486.36" cy="357.31" r="3.3" fill="url(#gO)"/>
<circle cx="487.1" cy="357.19" r="3.3" fill="url(#gO)"/>
<circle cx="487.84" cy="358.53" r="3.3" fill="url(#gO)"/>
<circle cx="488.57" cy="358.09" r="3.3" fill="url(#gO)"/>
<circle cx="489.31" cy="358.52" r="3.3" fill="url(#gO)"/>
<circle cx="490.05" cy="359.25" r="3.3" fill="url(#gO)"/>
<circle cx="490.78" cy="358.8" r="3.3" fill="url(#gO)"/>
<circle cx="491.52" cy="359.51" r="3.3" fill="url(#gO)"/>
<circle cx="492.26" cy="359.49" r="3.3" fill="url(#gO)"/>
<circle cx="493" cy="359.97" r="3.3" fill="url(#gO)"/>
<circle cx="493.73" cy="360.33" r="3.3" fill="url(#gO)"/>
<circle cx="494.47" cy="360.53" r="3.3" fill="url(#gO)"/>
<circle cx="495.21" cy="360.42" r="3.3" fill="url(#gO)"/>
<circle cx="495.94" cy="360.09" r="3.3" fill="url(#gO)"/>
<circle cx="496.68" cy="360.43" r="3.3" fill="url(#gO)"/>
<circle cx="497.42" cy="360.81" r="3.3" fill="url(#gO)"/>
<circle cx="498.15" cy="361.12" r="3.3" fill="url(#gO)"/>
<circle cx="498.89" cy="362.26" r="3.3" fill="url(#gO)"/>
<circle cx="499.63" cy="361.44" r="3.3" fill="url(#gO)"/>
<circle cx="500.37" cy="362.83" r="3.3" fill="url(#gO)"/>
<circle cx="501.1" cy="363.33" r="3.3" fill="url(#gO)"/>
<circle cx="501.84" cy="363.02" r="3.3" fill="url(#gO)"/>
<circle cx="502.58" cy="362.94" r="3.3" fill="url(#gO)"/>
<circle cx="503.31" cy="363.85" r="3.3" fill="url(#gO)"/>
<circle cx="504.05" cy="363.66" r="3.3" fill="url(#gO)"/>
<circle cx="504.79" cy="364.52" r="3.3" fill="url(#gO)"/>
<circle cx="505.52" cy="363.72" r="3.3" fill="url(#gO)"/>
<circle cx="506.26" cy="364.83" r="3.3" fill="url(#gO)"/>
<circle cx="507" cy="365.08" r="3.3" fill="url(#gO)"/>
<circle cx="507.74" cy="365.28" r="3.3" fill="url(#gO)"/>
<circle cx="508.47" cy="365.03" r="3.3" fill="url(#gO)"/>
<circle cx="509.21" cy="365.14" r="3.3" fill="url(#gO)"/>
<circle cx="509.95" cy="366.15" r="3.3" fill="url(#gO)"/>
<circle cx="510.68" cy="366.58" r="3.3" fill="url(#gO)"/>
<circle cx="511.42" cy="366.59" r="3.3" fill="url(#gO)"/>
<circle cx="512.16" cy="367.75" r="3.3" fill="url(#gO)"/>
<circle cx="512.89" cy="367.47" r="3.3" fill="url(#gO)"/>
<circle cx="513.63" cy="367.09" r="3.3" fill="url(#gO)"/>
<circle cx="514.37" cy="367.49" r="3.3" fill="url(#gO)"/>
<circle cx="515.11" cy="368.92" r="3.3" fill="url(#gO)"/>
<circle cx="515.84" cy="367.95" r="3.3" fill="url(#gO)"/>
<circle cx="516.58" cy="368.98" r="3.3" fill="url(#gO)"/>
<circle cx="517.32" cy="368.32" r="3.3" fill="url(#gO)"/>
<circle cx="518.05" cy="369.99" r="3.3" fill="url(#gO)"/>
<circle cx="518.79" cy="370.93" r="3.3" fill="url(#gO)"/>
<circle cx="519.53" cy="371.09" r="3.3" fill="url(#gO)"/>
<circle cx="520.26" cy="371.26" r="3.3" fill="url(#gO)"/>
<circle cx="521" cy="372.67" r="3.3" fill="url(#gO)"/>
<circle cx="521.74" cy="372.67" r="3.3" fill="url(#gO)"/>
<circle cx="522.48" cy="373.61" r="3.3" fill="url(#gO)"/>
<circle cx="523.21" cy="374.86" r="3.3" fill="url(#gO)"/>
<circle cx="523.95" cy="375.66" r="3.3" fill="url(#gO)"/>
<circle cx="524.69" cy="376.03" r="3.3" fill="url(#gO)"/>
<circle cx="525.42" cy="376.89" r="3.3" fill="url(#gO)"/>
<circle cx="526.16" cy="377.63" r="3.3" fill="url(#gO)"/>
<circle cx="526.9" cy="377.8" r="3.3" fill="url(#gO)"/>
<circle cx="527.63" cy="378.07" r="3.3" fill="url(#gO)"/>
<circle cx="528.37" cy="379.15" r="3.3" fill="url(#gO)"/>
<circle cx="529.11" cy="380.47" r="3.3" fill="url(#gO)"/>
<circle cx="529.85" cy="380.97" r="3.3" fill="url(#gO)"/>
<circle cx="530.58" cy="381.35" r="3.3" fill="url(#gO)"/>
<circle cx="531.32" cy="381.58" r="3.3" fill="url(#gO)"/>
<circle cx="532.06" cy="382.96" r="3.3" fill="url(#gO)"/>
<circle cx="532.79" cy="383.32" r="3.3" fill="url(#gO)"/>
<circle cx="533.53" cy="383.21" r="3.3" fill="url(#gO)"/>
<circle cx="534.27" cy="383.54" r="3.3" fill="url(#gO)"/>
<circle cx="535" cy="384.21" r="3.3" fill="url(#gO)"/>
<circle cx="535.74" cy="383.67" r="3.3" fill="url(#gO)"/>
<circle cx="536.48" cy="383.33" r="3.3" fill="url(#gO)"/>
<circle cx="537.22" cy="384.22" r="3.3" fill="url(#gO)"/>
<circle cx="537.95" cy="384.16" r="3.3" fill="url(#gO)"/>
<circle cx="538.69" cy="384.29" r="3.3" fill="url(#gO)"/>
<circle cx="539.43" cy="384.54" r="3.3" fill="url(#gO)"/>
<circle cx="540.16" cy="384.69" r="3.3" fill="url(#gO)"/>
<circle cx="540.9" cy="385.71" r="3.3" fill="url(#gO)"/>
<circle cx="541.64" cy="385.6" r="3.3" fill="url(#gO)"/>
<circle cx="542.37" cy="386.76" r="3.3" fill="url(#gO)"/>
<circle cx="543.11" cy="385.83" r="3.3" fill="url(#gO)"/>
<circle cx="543.85" cy="386.89" r="3.3" fill="url(#gO)"/>
<circle cx="544.59" cy="387.01" r="3.3" fill="url(#gO)"/>
<circle cx="545.32" cy="386.62" r="3.3" fill="url(#gO)"/>
<circle cx="546.06" cy="387.85" r="3.3" fill="url(#gO)"/>
<circle cx="546.8" cy="388.09" r="3.3" fill="url(#gO)"/>
<circle cx="547.53" cy="387.17" r="3.3" fill="url(#gO)"/>
<circle cx="548.27" cy="387.61" r="3.3" fill="url(#gO)"/>
<circle cx="549.01" cy="388.52" r="3.3" fill="url(#gO)"/>
<circle cx="549.74" cy="388.7" r="3.3" fill="url(#gO)"/>
<circle cx="550.48" cy="388.27" r="3.3" fill="url(#gO)"/>
<circle cx="551.22" cy="388.91" r="3.3" fill="url(#gO)"/>
<circle cx="551.95" cy="387.68" r="3.3" fill="url(#gO)"/>
<circle cx="552.69" cy="388.8" r="3.3" fill="url(#gO)"/>
<circle cx="553.43" cy="388.75" r="3.3" fill="url(#gO)"/>
<circle cx="554.17" cy="388.65" r="3.3" fill="url(#gO)"/>
<circle cx="554.9" cy="388.54" r="3.3" fill="url(#gO)"/>
<circle cx="555.64" cy="388.76" r="3.3" fill="url(#gO)"/>
<circle cx="556.38" cy="388.53" r="3.3" fill="url(#gO)"/>
<circle cx="557.11" cy="388.57" r="3.3" fill="url(#gO)"/>
<circle cx="557.85" cy="389.02" r="3.3" fill="url(#gO)"/>
<circle cx="558.59" cy="389.64" r="3.3" fill="url(#gO)"/>
<circle cx="559.33" cy="388.33" r="3.3" fill="url(#gO)"/>
<circle cx="560.06" cy="388.88" r="3.3" fill="url(#gO)"/>
<circle cx="560.8" cy="389.93" r="3.3" fill="url(#gO)"/>
<circle cx="561.54" cy="389.45" r="3.3" fill="url(#gO)"/>
<circle cx="562.27" cy="389.04" r="3.3" fill="url(#gO)"/>
<circle cx="563.01" cy="388.75" r="3.3" fill="url(#gO)"/>
<circle cx="563.75" cy="390.29" r="3.3" fill="url(#gO)"/>
<circle cx="564.48" cy="390.46" r="3.3" fill="url(#gO)"/>
<circle cx="565.22" cy="389.78" r="3.3" fill="url(#gO)"/>
<circle cx="565.96" cy="389.95" r="3.3" fill="url(#gO)"/>
<circle cx="566.69" cy="389.27" r="3.3" fill="url(#gO)"/>
<circle cx="567.43" cy="389.45" r="3.3" fill="url(#gO)"/>
<circle cx="568.17" cy="390.31" r="3.3" fill="url(#gO)"/>
<circle cx="568.91" cy="390.24" r="3.3" fill="url(#gO)"/>
<circle cx="569.64" cy="390.05" r="3.3" fill="url(#gO)"/>
<circle cx="570.38" cy="389.65" r="3.3" fill="url(#gO)"/>
<circle cx="571.12" cy="390.8" r="3.3" fill="url(#gO)"/>
<circle cx="571.85" cy="390.57" r="3.3" fill="url(#gO)"/>
<circle cx="572.59" cy="391.13" r="3.3" fill="url(#gO)"/>
<circle cx="573.33" cy="390.32" r="3.3" fill="url(#gO)"/>
<circle cx="574.07" cy="391.37" r="3.3" fill="url(#gO)"/>
<circle cx="574.8" cy="390" r="3.3" fill="url(#gO)"/>
<circle cx="575.54" cy="390.73" r="3.3" fill="url(#gO)"/>
<circle cx="576.28" cy="390.72" r="3.3" fill="url(#gO)"/>
<circle cx="577.01" cy="391.57" r="3.3" fill="url(#gO)"/>
<circle cx="577.75" cy="391.41" r="3.3" fill="url(#gO)"/>
<circle cx="578.49" cy="391.1" r="3.3" fill="url(#gO)"/>
<circle cx="579.22" cy="390.56" r="3.3" fill="url(#gO)"/>
<circle cx="579.96" cy="391.14" r="3.3" fill="url(#gO)"/>
<circle cx="580.7" cy="391.55" r="3.3" fill="url(#gO)"/>
<circle cx="581.43" cy="390.46" r="3.3" fill="url(#gO)"/>
<circle cx="582.17" cy="390.98" r="3.3" fill="url(#gO)"/>
<circle cx="582.91" cy="391.2" r="3.3" fill="url(#gO)"/>
<circle cx="583.65" cy="391.73" r="3.3" fill="url(#gO)"/>
<circle cx="584.38" cy="391.58" r="3.3" fill="url(#gO)"/>
<circle cx="585.12" cy="390.64" r="3.3" fill="url(#gO)"/>
<circle cx="585.86" cy="391.87" r="3.3" fill="url(#gO)"/>
<circle cx="586.59" cy="391.25" r="3.3" fill="url(#gO)"/>
<circle cx="587.33" cy="391.12" r="3.3" fill="url(#gO)"/>
<circle cx="588.07" cy="391.55" r="3.3" fill="url(#gO)"/>
<circle cx="588.81" cy="390.9" r="3.3" fill="url(#gO)"/>
<circle cx="589.54" cy="390.69" r="3.3" fill="url(#gO)"/>
<circle cx="590.28" cy="390.78" r="3.3" fill="url(#gO)"/>
<circle cx="591.02" cy="390.99" r="3.3" fill="url(#gO)"/>
<circle cx="591.75" cy="391.85" r="3.3" fill="url(#gO)"/>
<circle cx="592.49" cy="392.08" r="3.3" fill="url(#gO)"/>
<circle cx="593.23" cy="391.5" r="3.3" fill="url(#gO)"/>
<circle cx="593.96" cy="391.71" r="3.3" fill="url(#gO)"/>
<circle cx="594.7" cy="391.9" r="3.3" fill="url(#gO)"/>
<circle cx="595.44" cy="390.84" r="3.3" fill="url(#gO)"/>
<circle cx="596.17" cy="391.89" r="3.3" fill="url(#gO)"/>
<circle cx="596.91" cy="390.94" r="3.3" fill="url(#gO)"/>
<circle cx="597.65" cy="390.77" r="3.3" fill="url(#gO)"/>
<circle cx="598.39" cy="392.08" r="3.3" fill="url(#gO)"/>
<circle cx="599.12" cy="390.83" r="3.3" fill="url(#gO)"/>
<circle cx="599.86" cy="391.66" r="3.3" fill="url(#gO)"/>
<circle cx="600.6" cy="391.96" r="3.3" fill="url(#gO)"/>
<circle cx="601.33" cy="392.02" r="3.3" fill="url(#gO)"/>
<circle cx="602.07" cy="392.26" r="3.3" fill="url(#gO)"/>
<circle cx="602.81" cy="391.54" r="3.3" fill="url(#gO)"/>
<circle cx="603.54" cy="391.73" r="3.3" fill="url(#gO)"/>
<circle cx="604.28" cy="391" r="3.3" fill="url(#gO)"/>
<circle cx="605.02" cy="391.04" r="3.3" fill="url(#gO)"/>
<circle cx="605.76" cy="392.29" r="3.3" fill="url(#gO)"/>
<circle cx="606.49" cy="391.75" r="3.3" fill="url(#gO)"/>
<circle cx="607.23" cy="391.78" r="3.3" fill="url(#gO)"/>
<circle cx="607.97" cy="392.13" r="3.3" fill="url(#gO)"/>
<circle cx="608.7" cy="392.02" r="3.3" fill="url(#gO)"/>
<circle cx="609.44" cy="392.01" r="3.3" fill="url(#gO)"/>
<circle cx="610.18" cy="391.34" r="3.3" fill="url(#gO)"/>
<circle cx="610.91" cy="391.91" r="3.3" fill="url(#gO)"/>
<circle cx="611.65" cy="392.29" r="3.3" fill="url(#gO)"/>
<circle cx="612.39" cy="392.13" r="3.3" fill="url(#gO)"/>
<circle cx="613.13" cy="391.78" r="3.3" fill="url(#gO)"/>
<circle cx="613.86" cy="391.6" r="3.3" fill="url(#gO)"/>
<circle cx="614.6" cy="392.12" r="3.3" fill="url(#gO)"/>
<circle cx="615.34" cy="391.41" r="3.3" fill="url(#gO)"/>
<circle cx="616.07" cy="392.18" r="3.3" fill="url(#gO)"/>
<circle cx="616.81" cy="391.47" r="3.3" fill="url(#gO)"/>
<circle cx="617.55" cy="391.57" r="3.3" fill="url(#gO)"/>
<circle cx="618.28" cy="392.27" r="3.3" fill="url(#gO)"/>
<circle cx="619.02" cy="391.36" r="3.3" fill="url(#gO)"/>
<circle cx="619.76" cy="391.94" r="3.3" fill="url(#gO)"/>
<circle cx="620.5" cy="391.72" r="3.3" fill="url(#gO)"/>
<circle cx="621.23" cy="391.63" r="3.3" fill="url(#gO)"/>
<circle cx="621.97" cy="391.59" r="3.3" fill="url(#gO)"/>
<circle cx="622.71" cy="391.89" r="3.3" fill="url(#gO)"/>
<circle cx="623.44" cy="392.52" r="3.3" fill="url(#gO)"/>
<circle cx="624.18" cy="391.36" r="3.3" fill="url(#gO)"/>
<circle cx="624.92" cy="391.26" r="3.3" fill="url(#gO)"/>
<circle cx="625.65" cy="391.85" r="3.3" fill="url(#gO)"/>
<circle cx="626.39" cy="391.72" r="3.3" fill="url(#gO)"/>
<circle cx="627.13" cy="392.22" r="3.3" fill="url(#gO)"/>
<circle cx="627.87" cy="391.22" r="3.3" fill="url(#gO)"/>
<circle cx="628.6" cy="391.57" r="3.3" fill="url(#gO)"/>
<circle cx="629.34" cy="392.32" r="3.3" fill="url(#gO)"/>
<circle cx="630.08" cy="391.38" r="3.3" fill="url(#gO)"/>
<circle cx="630.81" cy="391.12" r="3.3" fill="url(#gO)"/>
<circle cx="631.55" cy="392.14" r="3.3" fill="url(#gO)"/>
<circle cx="632.29" cy="391.12" r="3.3" fill="url(#gO)"/>
<circle cx="633.02" cy="391.94" r="3.3" fill="url(#gO)"/>
<circle cx="633.76" cy="392.43" r="3.3" fill="url(#gO)"/>
<circle cx="634.5" cy="391.58" r="3.3" fill="url(#gO)"/>
<circle cx="635.24" cy="392.19" r="3.3" fill="url(#gO)"/>
<circle cx="635.97" cy="391.58" r="3.3" fill="url(#gO)"/>
<circle cx="636.71" cy="391.82" r="3.3" fill="url(#gO)"/>
<circle cx="637.45" cy="392.58" r="3.3" fill="url(#gO)"/>
<circle cx="638.18" cy="391.92" r="3.3" fill="url(#gO)"/>
<circle cx="638.92" cy="391.42" r="3.3" fill="url(#gO)"/>
<circle cx="639.66" cy="392.02" r="3.3" fill="url(#gO)"/>
<circle cx="640.39" cy="391.93" r="3.3" fill="url(#gO)"/>
<circle cx="641.13" cy="391.42" r="3.3" fill="url(#gO)"/>
<circle cx="641.87" cy="392.09" r="3.3" fill="url(#gO)"/>
<circle cx="642.61" cy="392.03" r="3.3" fill="url(#gO)"/>
<circle cx="643.34" cy="391.89" r="3.3" fill="url(#gO)"/>
<circle cx="644.08" cy="391.52" r="3.3" fill="url(#gO)"/>
<circle cx="644.82" cy="392.51" r="3.3" fill="url(#gO)"/>
<circle cx="645.55" cy="392.69" r="3.3" fill="url(#gO)"/>
<circle cx="646.29" cy="391.64" r="3.3" fill="url(#gO)"/>
<circle cx="647.03" cy="391.98" r="3.3" fill="url(#gO)"/>
<circle cx="647.76" cy="392.39" r="3.3" fill="url(#gO)"/>
<circle cx="648.5" cy="391.46" r="3.3" fill="url(#gO)"/>
<circle cx="649.24" cy="391.48" r="3.3" fill="url(#gO)"/>
<circle cx="649.98" cy="392.03" r="3.3" fill="url(#gO)"/>
<circle cx="650.71" cy="391.33" r="3.3" fill="url(#gO)"/>
<circle cx="651.45" cy="391.58" r="3.3" fill="url(#gO)"/>
<path d="M393.67 326.75 l0.9 1.9M394.41 326.73 l0.9 1.9M395.15 326.65 l0.9 1.9M395.88 327.07 l0.9 1.9M396.62 326.61 l0.9 1.9M397.36 326.89 l0.9 1.9M398.1 326.97 l0.9 1.9M398.83 327.72 l0.9 1.9M399.57 328.88 l0.9 1.9M400.31 328.26 l0.9 1.9M401.04 328.55 l0.9 1.9M401.78 328.89 l0.9 1.9M402.52 329.46 l0.9 1.9M403.25 329.02 l0.9 1.9M403.99 328.94 l0.9 1.9M404.73 330.47 l0.9 1.9M405.47 329.81 l0.9 1.9M406.2 330.53 l0.9 1.9M406.94 330.54 l0.9 1.9M407.68 330.12 l0.9 1.9M408.41 330.19 l0.9 1.9M409.15 330.87 l0.9 1.9M409.89 331.76 l0.9 1.9M410.62 330.79 l0.9 1.9M411.36 332.14 l0.9 1.9M412.1 332 l0.9 1.9M412.84 331.47 l0.9 1.9M413.57 332.46 l0.9 1.9M414.31 332.72 l0.9 1.9M415.05 331.82 l0.9 1.9M415.78 332 l0.9 1.9M416.52 333.18 l0.9 1.9M417.26 333.24 l0.9 1.9M418 333.59 l0.9 1.9M418.73 334.01 l0.9 1.9M419.47 334 l0.9 1.9M420.21 333.02 l0.9 1.9M420.94 334.63 l0.9 1.9M421.68 334.57 l0.9 1.9M422.42 334.8 l0.9 1.9M423.15 335.19 l0.9 1.9M423.89 334.67 l0.9 1.9M424.63 334.51 l0.9 1.9M425.37 334.55 l0.9 1.9M426.1 335.07 l0.9 1.9M426.84 334.96 l0.9 1.9M427.58 336.44 l0.9 1.9M428.31 336.19 l0.9 1.9M429.05 335.3 l0.9 1.9M429.79 336.91 l0.9 1.9M430.52 336.79 l0.9 1.9M431.26 336.63 l0.9 1.9M432 337.16 l0.9 1.9M432.73 336.91 l0.9 1.9M433.47 337.9 l0.9 1.9M434.21 337.79 l0.9 1.9M434.95 336.83 l0.9 1.9M435.68 338.31 l0.9 1.9M436.42 337.29 l0.9 1.9M437.16 338.64 l0.9 1.9M437.89 337.53 l0.9 1.9M438.63 338.23 l0.9 1.9M439.37 338.39 l0.9 1.9M440.1 339.31 l0.9 1.9M440.84 339.56 l0.9 1.9M441.58 338.56 l0.9 1.9M442.32 339.6 l0.9 1.9M443.05 339.7 l0.9 1.9M443.79 338.81 l0.9 1.9M444.53 338.84 l0.9 1.9M445.26 340.27 l0.9 1.9M446 338.94 l0.9 1.9M446.74 339.73 l0.9 1.9M447.47 340.09 l0.9 1.9M448.21 340.65 l0.9 1.9M448.95 340.31 l0.9 1.9M449.69 339.48 l0.9 1.9M450.42 340.72 l0.9 1.9M451.16 341.08 l0.9 1.9M451.9 341.17 l0.9 1.9M452.63 341.32 l0.9 1.9M453.37 341.08 l0.9 1.9M454.11 340.31 l0.9 1.9M454.84 341.76 l0.9 1.9M455.58 341.69 l0.9 1.9M456.32 340.63 l0.9 1.9M457.06 340.65 l0.9 1.9M457.79 340.8 l0.9 1.9M458.53 342.08 l0.9 1.9M459.27 341.81 l0.9 1.9M460 340.77 l0.9 1.9M460.74 341.41 l0.9 1.9M461.48 340.96 l0.9 1.9M462.21 342.77 l0.9 1.9M462.95 344.43 l0.9 1.9M463.69 345.1 l0.9 1.9M464.43 345.26 l0.9 1.9M465.16 346 l0.9 1.9M465.9 347.13 l0.9 1.9M466.64 347.65 l0.9 1.9M467.37 347.88 l0.9 1.9M468.11 348.39 l0.9 1.9M468.85 348.6 l0.9 1.9M469.58 348.47 l0.9 1.9M470.32 349.83 l0.9 1.9M471.06 349.56 l0.9 1.9M471.8 349.37 l0.9 1.9M472.53 349.86 l0.9 1.9M473.27 351.28 l0.9 1.9M474.01 350.38 l0.9 1.9M474.74 350.93 l0.9 1.9M475.48 352.35 l0.9 1.9M476.22 352.55 l0.9 1.9M476.95 353 l0.9 1.9M477.69 353.59 l0.9 1.9M478.43 352.48 l0.9 1.9M479.17 353.74 l0.9 1.9M479.9 353.27 l0.9 1.9M480.64 354.74 l0.9 1.9M481.38 355.17 l0.9 1.9M482.11 354.08 l0.9 1.9M482.85 354.47 l0.9 1.9M483.59 354.43 l0.9 1.9M484.32 355.18 l0.9 1.9M485.06 355.71 l0.9 1.9M485.8 355.59 l0.9 1.9M486.54 356.93 l0.9 1.9M487.27 356.49 l0.9 1.9M488.01 356.92 l0.9 1.9M488.75 357.65 l0.9 1.9M489.48 357.2 l0.9 1.9M490.22 357.91 l0.9 1.9M490.96 357.89 l0.9 1.9M491.69 358.37 l0.9 1.9M492.43 358.73 l0.9 1.9M493.17 358.93 l0.9 1.9M493.91 358.82 l0.9 1.9M494.64 358.49 l0.9 1.9M495.38 358.83 l0.9 1.9M496.12 359.21 l0.9 1.9M496.85 359.52 l0.9 1.9M497.59 360.66 l0.9 1.9M498.33 359.84 l0.9 1.9M499.06 361.23 l0.9 1.9M499.8 361.73 l0.9 1.9M500.54 361.42 l0.9 1.9M501.28 361.34 l0.9 1.9M502.01 362.25 l0.9 1.9M502.75 362.06 l0.9 1.9M503.49 362.92 l0.9 1.9M504.22 362.12 l0.9 1.9M504.96 363.23 l0.9 1.9M505.7 363.48 l0.9 1.9M506.44 363.68 l0.9 1.9M507.17 363.43 l0.9 1.9M507.91 363.54 l0.9 1.9M508.65 364.55 l0.9 1.9M509.38 364.98 l0.9 1.9M510.12 364.99 l0.9 1.9M510.86 366.15 l0.9 1.9M511.59 365.87 l0.9 1.9M512.33 365.49 l0.9 1.9M513.07 365.89 l0.9 1.9M513.81 367.32 l0.9 1.9M514.54 366.35 l0.9 1.9M515.28 367.38 l0.9 1.9M516.02 366.72 l0.9 1.9M516.75 368.39 l0.9 1.9M517.49 369.33 l0.9 1.9M518.23 369.49 l0.9 1.9M518.96 369.66 l0.9 1.9M519.7 371.07 l0.9 1.9M520.44 371.07 l0.9 1.9M521.18 372.01 l0.9 1.9M521.91 373.26 l0.9 1.9M522.65 374.06 l0.9 1.9M523.39 374.43 l0.9 1.9M524.12 375.29 l0.9 1.9M524.86 376.03 l0.9 1.9M525.6 376.2 l0.9 1.9M526.33 376.47 l0.9 1.9M527.07 377.55 l0.9 1.9M527.81 378.87 l0.9 1.9M528.55 379.37 l0.9 1.9M529.28 379.75 l0.9 1.9M530.02 379.98 l0.9 1.9M530.76 381.36 l0.9 1.9M531.49 381.72 l0.9 1.9M532.23 381.61 l0.9 1.9M532.97 381.94 l0.9 1.9M533.7 382.61 l0.9 1.9M534.44 382.07 l0.9 1.9M535.18 381.73 l0.9 1.9M535.92 382.62 l0.9 1.9M536.65 382.56 l0.9 1.9M537.39 382.69 l0.9 1.9M538.13 382.94 l0.9 1.9M538.86 383.09 l0.9 1.9M539.6 384.11 l0.9 1.9M540.34 384 l0.9 1.9M541.07 385.16 l0.9 1.9M541.81 384.23 l0.9 1.9M542.55 385.29 l0.9 1.9M543.29 385.41 l0.9 1.9M544.02 385.02 l0.9 1.9M544.76 386.25 l0.9 1.9M545.5 386.49 l0.9 1.9M546.23 385.57 l0.9 1.9M546.97 386.01 l0.9 1.9M547.71 386.92 l0.9 1.9M548.44 387.1 l0.9 1.9M549.18 386.67 l0.9 1.9M549.92 387.31 l0.9 1.9M550.65 386.08 l0.9 1.9M551.39 387.2 l0.9 1.9M552.13 387.15 l0.9 1.9M552.87 387.05 l0.9 1.9M553.6 386.94 l0.9 1.9M554.34 387.16 l0.9 1.9M555.08 386.93 l0.9 1.9M555.81 386.97 l0.9 1.9M556.55 387.42 l0.9 1.9M557.29 388.04 l0.9 1.9M558.03 386.73 l0.9 1.9M558.76 387.28 l0.9 1.9M559.5 388.33 l0.9 1.9M560.24 387.85 l0.9 1.9M560.97 387.44 l0.9 1.9M561.71 387.15 l0.9 1.9M562.45 388.69 l0.9 1.9M563.18 388.86 l0.9 1.9M563.92 388.18 l0.9 1.9M564.66 388.35 l0.9 1.9M565.39 387.67 l0.9 1.9M566.13 387.85 l0.9 1.9M566.87 388.71 l0.9 1.9M567.61 388.64 l0.9 1.9M568.34 388.45 l0.9 1.9M569.08 388.05 l0.9 1.9M569.82 389.2 l0.9 1.9M570.55 388.97 l0.9 1.9M571.29 389.53 l0.9 1.9M572.03 388.72 l0.9 1.9M572.77 389.77 l0.9 1.9M573.5 388.4 l0.9 1.9M574.24 389.13 l0.9 1.9M574.98 389.12 l0.9 1.9M575.71 389.97 l0.9 1.9M576.45 389.81 l0.9 1.9M577.19 389.5 l0.9 1.9M577.92 388.96 l0.9 1.9M578.66 389.54 l0.9 1.9M579.4 389.95 l0.9 1.9M580.13 388.86 l0.9 1.9M580.87 389.38 l0.9 1.9M581.61 389.6 l0.9 1.9M582.35 390.13 l0.9 1.9M583.08 389.98 l0.9 1.9M583.82 389.04 l0.9 1.9M584.56 390.27 l0.9 1.9M585.29 389.65 l0.9 1.9M586.03 389.52 l0.9 1.9M586.77 389.95 l0.9 1.9M587.51 389.3 l0.9 1.9M588.24 389.09 l0.9 1.9M588.98 389.18 l0.9 1.9M589.72 389.39 l0.9 1.9M590.45 390.25 l0.9 1.9M591.19 390.48 l0.9 1.9M591.93 389.9 l0.9 1.9M592.66 390.11 l0.9 1.9M593.4 390.3 l0.9 1.9M594.14 389.24 l0.9 1.9M594.88 390.29 l0.9 1.9M595.61 389.34 l0.9 1.9M596.35 389.17 l0.9 1.9M597.09 390.48 l0.9 1.9M597.82 389.23 l0.9 1.9M598.56 390.06 l0.9 1.9M599.3 390.36 l0.9 1.9M600.03 390.42 l0.9 1.9M600.77 390.66 l0.9 1.9M601.51 389.94 l0.9 1.9M602.25 390.13 l0.9 1.9M602.98 389.4 l0.9 1.9M603.72 389.44 l0.9 1.9M604.46 390.69 l0.9 1.9M605.19 390.15 l0.9 1.9M605.93 390.18 l0.9 1.9M606.67 390.53 l0.9 1.9M607.4 390.42 l0.9 1.9M608.14 390.41 l0.9 1.9M608.88 389.74 l0.9 1.9M609.62 390.31 l0.9 1.9M610.35 390.69 l0.9 1.9M611.09 390.53 l0.9 1.9M611.83 390.18 l0.9 1.9M612.56 390 l0.9 1.9M613.3 390.52 l0.9 1.9M614.04 389.81 l0.9 1.9M614.77 390.58 l0.9 1.9M615.51 389.87 l0.9 1.9M616.25 389.97 l0.9 1.9M616.99 390.67 l0.9 1.9M617.72 389.76 l0.9 1.9M618.46 390.34 l0.9 1.9M619.2 390.12 l0.9 1.9M619.93 390.03 l0.9 1.9M620.67 389.99 l0.9 1.9M621.41 390.29 l0.9 1.9M622.14 390.92 l0.9 1.9M622.88 389.76 l0.9 1.9M623.62 389.66 l0.9 1.9M624.36 390.25 l0.9 1.9M625.09 390.12 l0.9 1.9M625.83 390.62 l0.9 1.9M626.57 389.62 l0.9 1.9M627.3 389.97 l0.9 1.9M628.04 390.72 l0.9 1.9M628.78 389.78 l0.9 1.9M629.51 389.52 l0.9 1.9M630.25 390.54 l0.9 1.9M630.99 389.52 l0.9 1.9M631.73 390.34 l0.9 1.9M632.46 390.83 l0.9 1.9M633.2 389.98 l0.9 1.9M633.94 390.59 l0.9 1.9M634.67 389.98 l0.9 1.9M635.41 390.22 l0.9 1.9M636.15 390.98 l0.9 1.9M636.88 390.32 l0.9 1.9M637.62 389.82 l0.9 1.9M638.36 390.42 l0.9 1.9M639.1 390.33 l0.9 1.9M639.83 389.82 l0.9 1.9M640.57 390.49 l0.9 1.9M641.31 390.43 l0.9 1.9M642.04 390.29 l0.9 1.9M642.78 389.92 l0.9 1.9M643.52 390.91 l0.9 1.9M644.25 391.09 l0.9 1.9M644.99 390.04 l0.9 1.9M645.73 390.38 l0.9 1.9M646.47 390.79 l0.9 1.9M647.2 389.86 l0.9 1.9M647.94 389.88 l0.9 1.9M648.68 390.43 l0.9 1.9M649.41 389.73 l0.9 1.9M650.15 389.98 l0.9 1.9" stroke="#fff" stroke-width="0.75" opacity="0.55" fill="none"/>
<circle cx="394.24" cy="307.55" r="3.3" fill="url(#gN)"/>
<circle cx="394.97" cy="319.06" r="3.3" fill="url(#gN)"/>
<circle cx="395.71" cy="319.24" r="3.3" fill="url(#gN)"/>
<circle cx="396.45" cy="319.42" r="3.3" fill="url(#gN)"/>
<circle cx="397.19" cy="319.59" r="3.3" fill="url(#gN)"/>
<circle cx="397.92" cy="319.77" r="3.3" fill="url(#gN)"/>
<circle cx="398.66" cy="319.95" r="3.3" fill="url(#gN)"/>
<circle cx="399.4" cy="320.12" r="3.3" fill="url(#gN)"/>
<circle cx="400.13" cy="320.3" r="3.3" fill="url(#gN)"/>
<circle cx="400.87" cy="320.48" r="3.3" fill="url(#gN)"/>
<circle cx="401.61" cy="320.65" r="3.3" fill="url(#gN)"/>
<circle cx="402.34" cy="320.83" r="3.3" fill="url(#gN)"/>
<circle cx="403.08" cy="321" r="3.3" fill="url(#gN)"/>
<circle cx="403.82" cy="321.18" r="3.3" fill="url(#gN)"/>
<circle cx="404.56" cy="321.36" r="3.3" fill="url(#gN)"/>
<circle cx="405.29" cy="321.53" r="3.3" fill="url(#gN)"/>
<circle cx="406.03" cy="321.71" r="3.3" fill="url(#gN)"/>
<circle cx="406.77" cy="321.89" r="3.3" fill="url(#gN)"/>
<circle cx="407.5" cy="322.06" r="3.3" fill="url(#gN)"/>
<circle cx="408.24" cy="322.24" r="3.3" fill="url(#gN)"/>
<circle cx="408.98" cy="322.35" r="3.3" fill="url(#gN)"/>
<circle cx="409.71" cy="322.45" r="3.3" fill="url(#gN)"/>
<circle cx="410.45" cy="322.56" r="3.3" fill="url(#gN)"/>
<circle cx="411.19" cy="322.66" r="3.3" fill="url(#gN)"/>
<circle cx="411.93" cy="322.77" r="3.3" fill="url(#gN)"/>
<circle cx="412.66" cy="322.88" r="3.3" fill="url(#gN)"/>
<circle cx="413.4" cy="322.98" r="3.3" fill="url(#gN)"/>
<circle cx="414.14" cy="323.09" r="3.3" fill="url(#gN)"/>
<circle cx="414.87" cy="323.19" r="3.3" fill="url(#gN)"/>
<circle cx="415.61" cy="323.3" r="3.3" fill="url(#gN)"/>
<circle cx="416.35" cy="323.4" r="3.3" fill="url(#gN)"/>
<circle cx="417.08" cy="323.51" r="3.3" fill="url(#gN)"/>
<circle cx="417.82" cy="323.62" r="3.3" fill="url(#gN)"/>
<circle cx="418.56" cy="323.72" r="3.3" fill="url(#gN)"/>
<circle cx="419.3" cy="323.83" r="3.3" fill="url(#gN)"/>
<circle cx="420.03" cy="323.93" r="3.3" fill="url(#gN)"/>
<circle cx="420.77" cy="324.04" r="3.3" fill="url(#gN)"/>
<circle cx="421.51" cy="324.15" r="3.3" fill="url(#gN)"/>
<circle cx="422.24" cy="324.25" r="3.3" fill="url(#gN)"/>
<circle cx="422.98" cy="324.36" r="3.3" fill="url(#gN)"/>
<circle cx="423.72" cy="324.46" r="3.3" fill="url(#gN)"/>
<circle cx="424.45" cy="324.57" r="3.3" fill="url(#gN)"/>
<circle cx="425.19" cy="324.67" r="3.3" fill="url(#gN)"/>
<circle cx="425.93" cy="324.78" r="3.3" fill="url(#gN)"/>
<circle cx="426.67" cy="324.89" r="3.3" fill="url(#gN)"/>
<circle cx="427.4" cy="324.99" r="3.3" fill="url(#gN)"/>
<circle cx="428.14" cy="325.1" r="3.3" fill="url(#gN)"/>
<circle cx="428.88" cy="325.2" r="3.3" fill="url(#gN)"/>
<circle cx="429.61" cy="325.31" r="3.3" fill="url(#gN)"/>
<circle cx="430.35" cy="325.42" r="3.3" fill="url(#gN)"/>
<circle cx="431.09" cy="325.48" r="3.3" fill="url(#gN)"/>
<circle cx="431.82" cy="325.54" r="3.3" fill="url(#gN)"/>
<circle cx="432.56" cy="325.6" r="3.3" fill="url(#gN)"/>
<circle cx="433.3" cy="325.66" r="3.3" fill="url(#gN)"/>
<circle cx="434.03" cy="325.72" r="3.3" fill="url(#gN)"/>
<circle cx="434.77" cy="325.78" r="3.3" fill="url(#gN)"/>
<circle cx="435.51" cy="325.84" r="3.3" fill="url(#gN)"/>
<circle cx="436.25" cy="325.9" r="3.3" fill="url(#gN)"/>
<circle cx="436.98" cy="325.97" r="3.3" fill="url(#gN)"/>
<circle cx="437.72" cy="326.03" r="3.3" fill="url(#gN)"/>
<circle cx="438.46" cy="326.09" r="3.3" fill="url(#gN)"/>
<circle cx="439.19" cy="326.15" r="3.3" fill="url(#gN)"/>
<circle cx="439.93" cy="326.21" r="3.3" fill="url(#gN)"/>
<circle cx="440.67" cy="326.31" r="3.3" fill="url(#gN)"/>
<circle cx="441.4" cy="326.4" r="3.3" fill="url(#gN)"/>
<circle cx="442.14" cy="326.5" r="3.3" fill="url(#gN)"/>
<circle cx="442.88" cy="326.6" r="3.3" fill="url(#gN)"/>
<circle cx="443.62" cy="326.69" r="3.3" fill="url(#gN)"/>
<circle cx="444.35" cy="326.79" r="3.3" fill="url(#gN)"/>
<circle cx="445.09" cy="326.89" r="3.3" fill="url(#gN)"/>
<circle cx="445.83" cy="326.98" r="3.3" fill="url(#gN)"/>
<circle cx="446.56" cy="327.08" r="3.3" fill="url(#gN)"/>
<circle cx="447.3" cy="327.18" r="3.3" fill="url(#gN)"/>
<circle cx="448.04" cy="327.27" r="3.3" fill="url(#gN)"/>
<circle cx="448.77" cy="327.37" r="3.3" fill="url(#gN)"/>
<circle cx="449.51" cy="327.47" r="3.3" fill="url(#gN)"/>
<circle cx="450.25" cy="327.56" r="3.3" fill="url(#gN)"/>
<circle cx="450.99" cy="327.66" r="3.3" fill="url(#gN)"/>
<circle cx="451.72" cy="327.76" r="3.3" fill="url(#gN)"/>
<circle cx="452.46" cy="327.85" r="3.3" fill="url(#gN)"/>
<circle cx="453.2" cy="327.95" r="3.3" fill="url(#gN)"/>
<circle cx="453.93" cy="328.04" r="3.3" fill="url(#gN)"/>
<circle cx="454.67" cy="328.14" r="3.3" fill="url(#gN)"/>
<circle cx="455.41" cy="328.24" r="3.3" fill="url(#gN)"/>
<circle cx="456.14" cy="328.33" r="3.3" fill="url(#gN)"/>
<circle cx="456.88" cy="328.43" r="3.3" fill="url(#gN)"/>
<circle cx="457.62" cy="328.53" r="3.3" fill="url(#gN)"/>
<circle cx="458.36" cy="328.62" r="3.3" fill="url(#gN)"/>
<circle cx="459.09" cy="328.72" r="3.3" fill="url(#gN)"/>
<circle cx="459.83" cy="328.82" r="3.3" fill="url(#gN)"/>
<circle cx="460.57" cy="328.91" r="3.3" fill="url(#gN)"/>
<circle cx="461.3" cy="329.01" r="3.3" fill="url(#gN)"/>
<circle cx="462.04" cy="329.11" r="3.3" fill="url(#gN)"/>
<circle cx="462.78" cy="329.2" r="3.3" fill="url(#gN)"/>
<circle cx="463.51" cy="329.3" r="3.3" fill="url(#gN)"/>
<circle cx="464.25" cy="329.4" r="3.3" fill="url(#gN)"/>
<circle cx="464.99" cy="329.49" r="3.3" fill="url(#gN)"/>
<circle cx="465.73" cy="329.59" r="3.3" fill="url(#gN)"/>
<circle cx="466.46" cy="329.69" r="3.3" fill="url(#gN)"/>
<circle cx="467.2" cy="329.78" r="3.3" fill="url(#gN)"/>
<circle cx="467.94" cy="329.84" r="3.3" fill="url(#gN)"/>
<circle cx="468.67" cy="329.89" r="3.3" fill="url(#gN)"/>
<circle cx="469.41" cy="329.95" r="3.3" fill="url(#gN)"/>
<circle cx="470.15" cy="330.01" r="3.3" fill="url(#gN)"/>
<circle cx="470.88" cy="330.06" r="3.3" fill="url(#gN)"/>
<circle cx="471.62" cy="330.12" r="3.3" fill="url(#gN)"/>
<circle cx="472.36" cy="330.17" r="3.3" fill="url(#gN)"/>
<circle cx="473.1" cy="330.23" r="3.3" fill="url(#gN)"/>
<circle cx="473.83" cy="330.29" r="3.3" fill="url(#gN)"/>
<circle cx="474.57" cy="330.34" r="3.3" fill="url(#gN)"/>
<circle cx="475.31" cy="330.4" r="3.3" fill="url(#gN)"/>
<circle cx="476.04" cy="330.45" r="3.3" fill="url(#gN)"/>
<circle cx="476.78" cy="330.51" r="3.3" fill="url(#gN)"/>
<circle cx="477.52" cy="330.57" r="3.3" fill="url(#gN)"/>
<circle cx="478.25" cy="330.62" r="3.3" fill="url(#gN)"/>
<circle cx="478.99" cy="330.68" r="3.3" fill="url(#gN)"/>
<circle cx="479.73" cy="330.73" r="3.3" fill="url(#gN)"/>
<circle cx="480.47" cy="330.79" r="3.3" fill="url(#gN)"/>
<circle cx="481.2" cy="330.85" r="3.3" fill="url(#gN)"/>
<circle cx="481.94" cy="330.9" r="3.3" fill="url(#gN)"/>
<circle cx="482.68" cy="330.96" r="3.3" fill="url(#gN)"/>
<circle cx="483.41" cy="331.01" r="3.3" fill="url(#gN)"/>
<circle cx="484.15" cy="331.07" r="3.3" fill="url(#gN)"/>
<circle cx="484.89" cy="331.12" r="3.3" fill="url(#gN)"/>
<circle cx="485.62" cy="331.18" r="3.3" fill="url(#gN)"/>
<circle cx="486.36" cy="331.24" r="3.3" fill="url(#gN)"/>
<circle cx="487.1" cy="331.29" r="3.3" fill="url(#gN)"/>
<circle cx="487.84" cy="331.35" r="3.3" fill="url(#gN)"/>
<circle cx="488.57" cy="331.4" r="3.3" fill="url(#gN)"/>
<circle cx="489.31" cy="331.46" r="3.3" fill="url(#gN)"/>
<circle cx="490.05" cy="331.52" r="3.3" fill="url(#gN)"/>
<circle cx="490.78" cy="331.57" r="3.3" fill="url(#gN)"/>
<circle cx="491.52" cy="331.63" r="3.3" fill="url(#gN)"/>
<circle cx="492.26" cy="331.68" r="3.3" fill="url(#gN)"/>
<circle cx="493" cy="331.74" r="3.3" fill="url(#gN)"/>
<circle cx="493.73" cy="331.8" r="3.3" fill="url(#gN)"/>
<circle cx="494.47" cy="331.85" r="3.3" fill="url(#gN)"/>
<circle cx="495.21" cy="331.91" r="3.3" fill="url(#gN)"/>
<circle cx="495.94" cy="331.96" r="3.3" fill="url(#gN)"/>
<circle cx="496.68" cy="332.02" r="3.3" fill="url(#gN)"/>
<circle cx="497.42" cy="332.08" r="3.3" fill="url(#gN)"/>
<circle cx="498.15" cy="332.13" r="3.3" fill="url(#gN)"/>
<circle cx="498.89" cy="332.19" r="3.3" fill="url(#gN)"/>
<circle cx="499.63" cy="332.24" r="3.3" fill="url(#gN)"/>
<circle cx="500.37" cy="332.3" r="3.3" fill="url(#gN)"/>
<circle cx="501.1" cy="332.36" r="3.3" fill="url(#gN)"/>
<circle cx="501.84" cy="332.41" r="3.3" fill="url(#gN)"/>
<circle cx="502.58" cy="332.47" r="3.3" fill="url(#gN)"/>
<circle cx="503.31" cy="332.52" r="3.3" fill="url(#gN)"/>
<circle cx="504.05" cy="332.58" r="3.3" fill="url(#gN)"/>
<circle cx="504.79" cy="332.63" r="3.3" fill="url(#gN)"/>
<circle cx="505.52" cy="332.69" r="3.3" fill="url(#gN)"/>
<circle cx="506.26" cy="332.75" r="3.3" fill="url(#gN)"/>
<circle cx="507" cy="332.8" r="3.3" fill="url(#gN)"/>
<circle cx="507.74" cy="332.86" r="3.3" fill="url(#gN)"/>
<circle cx="508.47" cy="332.91" r="3.3" fill="url(#gN)"/>
<circle cx="509.21" cy="332.97" r="3.3" fill="url(#gN)"/>
<circle cx="509.95" cy="333.03" r="3.3" fill="url(#gN)"/>
<circle cx="510.68" cy="333.08" r="3.3" fill="url(#gN)"/>
<circle cx="511.42" cy="333.14" r="3.3" fill="url(#gN)"/>
<circle cx="512.16" cy="333.19" r="3.3" fill="url(#gN)"/>
<circle cx="512.89" cy="333.25" r="3.3" fill="url(#gN)"/>
<circle cx="513.63" cy="333.31" r="3.3" fill="url(#gN)"/>
<circle cx="514.37" cy="333.36" r="3.3" fill="url(#gN)"/>
<circle cx="515.11" cy="333.42" r="3.3" fill="url(#gN)"/>
<circle cx="515.84" cy="333.47" r="3.3" fill="url(#gN)"/>
<circle cx="516.58" cy="333.53" r="3.3" fill="url(#gN)"/>
<circle cx="517.32" cy="333.59" r="3.3" fill="url(#gN)"/>
<circle cx="518.05" cy="333.64" r="3.3" fill="url(#gN)"/>
<circle cx="518.79" cy="333.7" r="3.3" fill="url(#gN)"/>
<circle cx="519.53" cy="333.75" r="3.3" fill="url(#gN)"/>
<circle cx="520.26" cy="333.8" r="3.3" fill="url(#gN)"/>
<circle cx="521" cy="333.85" r="3.3" fill="url(#gN)"/>
<circle cx="521.74" cy="333.9" r="3.3" fill="url(#gN)"/>
<circle cx="522.48" cy="333.95" r="3.3" fill="url(#gN)"/>
<circle cx="523.21" cy="334" r="3.3" fill="url(#gN)"/>
<circle cx="523.95" cy="334.04" r="3.3" fill="url(#gN)"/>
<circle cx="524.69" cy="334.09" r="3.3" fill="url(#gN)"/>
<circle cx="525.42" cy="334.14" r="3.3" fill="url(#gN)"/>
<circle cx="526.16" cy="334.19" r="3.3" fill="url(#gN)"/>
<circle cx="526.9" cy="334.24" r="3.3" fill="url(#gN)"/>
<circle cx="527.63" cy="334.29" r="3.3" fill="url(#gN)"/>
<circle cx="528.37" cy="334.33" r="3.3" fill="url(#gN)"/>
<circle cx="529.11" cy="334.38" r="3.3" fill="url(#gN)"/>
<circle cx="529.85" cy="334.43" r="3.3" fill="url(#gN)"/>
<circle cx="530.58" cy="334.48" r="3.3" fill="url(#gN)"/>
<circle cx="531.32" cy="334.53" r="3.3" fill="url(#gN)"/>
<circle cx="532.06" cy="334.58" r="3.3" fill="url(#gN)"/>
<circle cx="532.79" cy="334.62" r="3.3" fill="url(#gN)"/>
<circle cx="533.53" cy="334.67" r="3.3" fill="url(#gN)"/>
<circle cx="534.27" cy="334.72" r="3.3" fill="url(#gN)"/>
<circle cx="535" cy="334.77" r="3.3" fill="url(#gN)"/>
<circle cx="535.74" cy="334.82" r="3.3" fill="url(#gN)"/>
<circle cx="536.48" cy="334.87" r="3.3" fill="url(#gN)"/>
<circle cx="537.22" cy="334.91" r="3.3" fill="url(#gN)"/>
<circle cx="537.95" cy="334.96" r="3.3" fill="url(#gN)"/>
<circle cx="538.69" cy="335.01" r="3.3" fill="url(#gN)"/>
<circle cx="539.43" cy="335.06" r="3.3" fill="url(#gN)"/>
<circle cx="540.16" cy="335.11" r="3.3" fill="url(#gN)"/>
<circle cx="540.9" cy="335.16" r="3.3" fill="url(#gN)"/>
<circle cx="541.64" cy="335.21" r="3.3" fill="url(#gN)"/>
<circle cx="542.37" cy="335.25" r="3.3" fill="url(#gN)"/>
<circle cx="543.11" cy="335.3" r="3.3" fill="url(#gN)"/>
<circle cx="543.85" cy="335.35" r="3.3" fill="url(#gN)"/>
<circle cx="544.59" cy="335.4" r="3.3" fill="url(#gN)"/>
<circle cx="545.32" cy="335.45" r="3.3" fill="url(#gN)"/>
<circle cx="546.06" cy="335.5" r="3.3" fill="url(#gN)"/>
<circle cx="546.8" cy="335.54" r="3.3" fill="url(#gN)"/>
<circle cx="547.53" cy="335.59" r="3.3" fill="url(#gN)"/>
<circle cx="548.27" cy="335.64" r="3.3" fill="url(#gN)"/>
<circle cx="549.01" cy="335.69" r="3.3" fill="url(#gN)"/>
<circle cx="549.74" cy="335.74" r="3.3" fill="url(#gN)"/>
<circle cx="550.48" cy="335.79" r="3.3" fill="url(#gN)"/>
<circle cx="551.22" cy="335.83" r="3.3" fill="url(#gN)"/>
<circle cx="551.95" cy="335.88" r="3.3" fill="url(#gN)"/>
<circle cx="552.69" cy="335.93" r="3.3" fill="url(#gN)"/>
<circle cx="553.43" cy="335.98" r="3.3" fill="url(#gN)"/>
<circle cx="554.17" cy="336.03" r="3.3" fill="url(#gN)"/>
<circle cx="554.9" cy="336.08" r="3.3" fill="url(#gN)"/>
<circle cx="555.64" cy="336.13" r="3.3" fill="url(#gN)"/>
<circle cx="556.38" cy="336.17" r="3.3" fill="url(#gN)"/>
<circle cx="557.11" cy="336.22" r="3.3" fill="url(#gN)"/>
<circle cx="557.85" cy="336.27" r="3.3" fill="url(#gN)"/>
<circle cx="558.59" cy="336.32" r="3.3" fill="url(#gN)"/>
<circle cx="559.33" cy="336.37" r="3.3" fill="url(#gN)"/>
<circle cx="560.06" cy="336.42" r="3.3" fill="url(#gN)"/>
<circle cx="560.8" cy="336.46" r="3.3" fill="url(#gN)"/>
<circle cx="561.54" cy="336.51" r="3.3" fill="url(#gN)"/>
<circle cx="562.27" cy="336.56" r="3.3" fill="url(#gN)"/>
<circle cx="563.01" cy="336.61" r="3.3" fill="url(#gN)"/>
<circle cx="563.75" cy="336.66" r="3.3" fill="url(#gN)"/>
<circle cx="564.48" cy="336.71" r="3.3" fill="url(#gN)"/>
<circle cx="565.22" cy="336.75" r="3.3" fill="url(#gN)"/>
<circle cx="565.96" cy="336.8" r="3.3" fill="url(#gN)"/>
<circle cx="566.69" cy="336.85" r="3.3" fill="url(#gN)"/>
<circle cx="567.43" cy="336.9" r="3.3" fill="url(#gN)"/>
<circle cx="568.17" cy="336.95" r="3.3" fill="url(#gN)"/>
<circle cx="568.91" cy="337" r="3.3" fill="url(#gN)"/>
<circle cx="569.64" cy="337.05" r="3.3" fill="url(#gN)"/>
<circle cx="570.38" cy="337.09" r="3.3" fill="url(#gN)"/>
<circle cx="571.12" cy="337.14" r="3.3" fill="url(#gN)"/>
<circle cx="571.85" cy="337.19" r="3.3" fill="url(#gN)"/>
<circle cx="572.59" cy="337.24" r="3.3" fill="url(#gN)"/>
<circle cx="573.33" cy="337.29" r="3.3" fill="url(#gN)"/>
<circle cx="574.07" cy="337.34" r="3.3" fill="url(#gN)"/>
<circle cx="574.8" cy="337.38" r="3.3" fill="url(#gN)"/>
<circle cx="575.54" cy="337.43" r="3.3" fill="url(#gN)"/>
<circle cx="576.28" cy="337.48" r="3.3" fill="url(#gN)"/>
<circle cx="577.01" cy="337.53" r="3.3" fill="url(#gN)"/>
<circle cx="577.75" cy="337.58" r="3.3" fill="url(#gN)"/>
<circle cx="578.49" cy="337.63" r="3.3" fill="url(#gN)"/>
<circle cx="579.22" cy="337.67" r="3.3" fill="url(#gN)"/>
<circle cx="579.96" cy="337.72" r="3.3" fill="url(#gN)"/>
<circle cx="580.7" cy="337.79" r="3.3" fill="url(#gN)"/>
<circle cx="581.43" cy="337.86" r="3.3" fill="url(#gN)"/>
<circle cx="582.17" cy="337.93" r="3.3" fill="url(#gN)"/>
<circle cx="582.91" cy="337.99" r="3.3" fill="url(#gN)"/>
<circle cx="583.65" cy="338.06" r="3.3" fill="url(#gN)"/>
<circle cx="584.38" cy="338.13" r="3.3" fill="url(#gN)"/>
<circle cx="585.12" cy="338.2" r="3.3" fill="url(#gN)"/>
<circle cx="585.86" cy="338.26" r="3.3" fill="url(#gN)"/>
<circle cx="586.59" cy="338.33" r="3.3" fill="url(#gN)"/>
<circle cx="587.33" cy="338.4" r="3.3" fill="url(#gN)"/>
<circle cx="588.07" cy="338.47" r="3.3" fill="url(#gN)"/>
<circle cx="588.81" cy="338.53" r="3.3" fill="url(#gN)"/>
<circle cx="589.54" cy="338.6" r="3.3" fill="url(#gN)"/>
<circle cx="590.28" cy="338.67" r="3.3" fill="url(#gN)"/>
<circle cx="591.02" cy="338.74" r="3.3" fill="url(#gN)"/>
<circle cx="591.75" cy="338.8" r="3.3" fill="url(#gN)"/>
<circle cx="592.49" cy="338.87" r="3.3" fill="url(#gN)"/>
<circle cx="593.23" cy="338.94" r="3.3" fill="url(#gN)"/>
<circle cx="593.96" cy="339.01" r="3.3" fill="url(#gN)"/>
<circle cx="594.7" cy="339.07" r="3.3" fill="url(#gN)"/>
<circle cx="595.44" cy="339.14" r="3.3" fill="url(#gN)"/>
<circle cx="596.17" cy="339.21" r="3.3" fill="url(#gN)"/>
<circle cx="596.91" cy="339.28" r="3.3" fill="url(#gN)"/>
<circle cx="597.65" cy="339.34" r="3.3" fill="url(#gN)"/>
<circle cx="598.39" cy="339.41" r="3.3" fill="url(#gN)"/>
<circle cx="599.12" cy="339.48" r="3.3" fill="url(#gN)"/>
<circle cx="599.86" cy="339.55" r="3.3" fill="url(#gN)"/>
<circle cx="600.6" cy="339.62" r="3.3" fill="url(#gN)"/>
<circle cx="601.33" cy="339.68" r="3.3" fill="url(#gN)"/>
<circle cx="602.07" cy="339.75" r="3.3" fill="url(#gN)"/>
<circle cx="602.81" cy="339.82" r="3.3" fill="url(#gN)"/>
<circle cx="603.54" cy="339.89" r="3.3" fill="url(#gN)"/>
<circle cx="604.28" cy="339.95" r="3.3" fill="url(#gN)"/>
<circle cx="605.02" cy="340.02" r="3.3" fill="url(#gN)"/>
<circle cx="605.76" cy="340.09" r="3.3" fill="url(#gN)"/>
<circle cx="606.49" cy="340.16" r="3.3" fill="url(#gN)"/>
<circle cx="607.23" cy="340.22" r="3.3" fill="url(#gN)"/>
<circle cx="607.97" cy="340.29" r="3.3" fill="url(#gN)"/>
<circle cx="608.7" cy="340.36" r="3.3" fill="url(#gN)"/>
<circle cx="609.44" cy="340.43" r="3.3" fill="url(#gN)"/>
<circle cx="610.18" cy="340.49" r="3.3" fill="url(#gN)"/>
<circle cx="610.91" cy="340.56" r="3.3" fill="url(#gN)"/>
<circle cx="611.65" cy="340.63" r="3.3" fill="url(#gN)"/>
<circle cx="612.39" cy="340.7" r="3.3" fill="url(#gN)"/>
<circle cx="613.13" cy="340.76" r="3.3" fill="url(#gN)"/>
<circle cx="613.86" cy="340.83" r="3.3" fill="url(#gN)"/>
<circle cx="614.6" cy="340.9" r="3.3" fill="url(#gN)"/>
<circle cx="615.34" cy="340.98" r="3.3" fill="url(#gN)"/>
<circle cx="616.07" cy="341.06" r="3.3" fill="url(#gN)"/>
<circle cx="616.81" cy="341.14" r="3.3" fill="url(#gN)"/>
<circle cx="617.55" cy="341.22" r="3.3" fill="url(#gN)"/>
<circle cx="618.28" cy="341.3" r="3.3" fill="url(#gN)"/>
<circle cx="619.02" cy="341.38" r="3.3" fill="url(#gN)"/>
<circle cx="619.76" cy="341.45" r="3.3" fill="url(#gN)"/>
<circle cx="620.5" cy="341.53" r="3.3" fill="url(#gN)"/>
<circle cx="621.23" cy="341.61" r="3.3" fill="url(#gN)"/>
<circle cx="621.97" cy="341.69" r="3.3" fill="url(#gN)"/>
<circle cx="622.71" cy="341.77" r="3.3" fill="url(#gN)"/>
<circle cx="623.44" cy="341.85" r="3.3" fill="url(#gN)"/>
<circle cx="624.18" cy="341.93" r="3.3" fill="url(#gN)"/>
<circle cx="624.92" cy="342.01" r="3.3" fill="url(#gN)"/>
<circle cx="625.65" cy="342.09" r="3.3" fill="url(#gN)"/>
<circle cx="626.39" cy="342.17" r="3.3" fill="url(#gN)"/>
<circle cx="627.13" cy="342.25" r="3.3" fill="url(#gN)"/>
<circle cx="627.87" cy="342.33" r="3.3" fill="url(#gN)"/>
<circle cx="628.6" cy="342.41" r="3.3" fill="url(#gN)"/>
<circle cx="629.34" cy="342.49" r="3.3" fill="url(#gN)"/>
<circle cx="630.08" cy="342.57" r="3.3" fill="url(#gN)"/>
<circle cx="630.81" cy="342.65" r="3.3" fill="url(#gN)"/>
<circle cx="631.55" cy="342.73" r="3.3" fill="url(#gN)"/>
<circle cx="632.29" cy="342.8" r="3.3" fill="url(#gN)"/>
<circle cx="633.02" cy="342.88" r="3.3" fill="url(#gN)"/>
<circle cx="633.76" cy="342.96" r="3.3" fill="url(#gN)"/>
<circle cx="634.5" cy="343.04" r="3.3" fill="url(#gN)"/>
<circle cx="635.24" cy="343.12" r="3.3" fill="url(#gN)"/>
<circle cx="635.97" cy="343.2" r="3.3" fill="url(#gN)"/>
<circle cx="636.71" cy="343.28" r="3.3" fill="url(#gN)"/>
<circle cx="637.45" cy="343.36" r="3.3" fill="url(#gN)"/>
<circle cx="638.18" cy="343.44" r="3.3" fill="url(#gN)"/>
<circle cx="638.92" cy="343.52" r="3.3" fill="url(#gN)"/>
<circle cx="639.66" cy="343.6" r="3.3" fill="url(#gN)"/>
<circle cx="640.39" cy="343.68" r="3.3" fill="url(#gN)"/>
<circle cx="641.13" cy="343.76" r="3.3" fill="url(#gN)"/>
<circle cx="641.87" cy="343.84" r="3.3" fill="url(#gN)"/>
<circle cx="642.61" cy="343.92" r="3.3" fill="url(#gN)"/>
<circle cx="643.34" cy="344" r="3.3" fill="url(#gN)"/>
<circle cx="644.08" cy="344.07" r="3.3" fill="url(#gN)"/>
<circle cx="644.82" cy="344.15" r="3.3" fill="url(#gN)"/>
<circle cx="645.55" cy="344.23" r="3.3" fill="url(#gN)"/>
<circle cx="646.29" cy="344.31" r="3.3" fill="url(#gN)"/>
<circle cx="647.03" cy="344.39" r="3.3" fill="url(#gN)"/>
<circle cx="647.76" cy="344.47" r="3.3" fill="url(#gN)"/>
<circle cx="648.5" cy="344.55" r="3.3" fill="url(#gN)"/>
<circle cx="649.24" cy="344.63" r="3.3" fill="url(#gN)"/>
<circle cx="649.98" cy="344.71" r="3.3" fill="url(#gN)"/>
<circle cx="650.71" cy="344.79" r="3.3" fill="url(#gN)"/>
<circle cx="651.45" cy="344.87" r="3.3" fill="url(#gN)"/>
<path d="M393.67 317.46 l0.9 1.9M394.41 317.64 l0.9 1.9M395.15 317.82 l0.9 1.9M395.88 317.99 l0.9 1.9M396.62 318.17 l0.9 1.9M397.36 318.35 l0.9 1.9M398.1 318.52 l0.9 1.9M398.83 318.7 l0.9 1.9M399.57 318.88 l0.9 1.9M400.31 319.05 l0.9 1.9M401.04 319.23 l0.9 1.9M401.78 319.4 l0.9 1.9M402.52 319.58 l0.9 1.9M403.25 319.76 l0.9 1.9M403.99 319.93 l0.9 1.9M404.73 320.11 l0.9 1.9M405.47 320.29 l0.9 1.9M406.2 320.46 l0.9 1.9M406.94 320.64 l0.9 1.9M407.68 320.75 l0.9 1.9M408.41 320.85 l0.9 1.9M409.15 320.96 l0.9 1.9M409.89 321.06 l0.9 1.9M410.62 321.17 l0.9 1.9M411.36 321.28 l0.9 1.9M412.1 321.38 l0.9 1.9M412.84 321.49 l0.9 1.9M413.57 321.59 l0.9 1.9M414.31 321.7 l0.9 1.9M415.05 321.8 l0.9 1.9M415.78 321.91 l0.9 1.9M416.52 322.02 l0.9 1.9M417.26 322.12 l0.9 1.9M418 322.23 l0.9 1.9M418.73 322.33 l0.9 1.9M419.47 322.44 l0.9 1.9M420.21 322.55 l0.9 1.9M420.94 322.65 l0.9 1.9M421.68 322.76 l0.9 1.9M422.42 322.86 l0.9 1.9M423.15 322.97 l0.9 1.9M423.89 323.07 l0.9 1.9M424.63 323.18 l0.9 1.9M425.37 323.29 l0.9 1.9M426.1 323.39 l0.9 1.9M426.84 323.5 l0.9 1.9M427.58 323.6 l0.9 1.9M428.31 323.71 l0.9 1.9M429.05 323.82 l0.9 1.9M429.79 323.88 l0.9 1.9M430.52 323.94 l0.9 1.9M431.26 324 l0.9 1.9M432 324.06 l0.9 1.9M432.73 324.12 l0.9 1.9M433.47 324.18 l0.9 1.9M434.21 324.24 l0.9 1.9M434.95 324.3 l0.9 1.9M435.68 324.37 l0.9 1.9M436.42 324.43 l0.9 1.9M437.16 324.49 l0.9 1.9M437.89 324.55 l0.9 1.9M438.63 324.61 l0.9 1.9M439.37 324.71 l0.9 1.9M440.1 324.8 l0.9 1.9M440.84 324.9 l0.9 1.9M441.58 325 l0.9 1.9M442.32 325.09 l0.9 1.9M443.05 325.19 l0.9 1.9M443.79 325.29 l0.9 1.9M444.53 325.38 l0.9 1.9M445.26 325.48 l0.9 1.9M446 325.58 l0.9 1.9M446.74 325.67 l0.9 1.9M447.47 325.77 l0.9 1.9M448.21 325.87 l0.9 1.9M448.95 325.96 l0.9 1.9M449.69 326.06 l0.9 1.9M450.42 326.16 l0.9 1.9M451.16 326.25 l0.9 1.9M451.9 326.35 l0.9 1.9M452.63 326.44 l0.9 1.9M453.37 326.54 l0.9 1.9M454.11 326.64 l0.9 1.9M454.84 326.73 l0.9 1.9M455.58 326.83 l0.9 1.9M456.32 326.93 l0.9 1.9M457.06 327.02 l0.9 1.9M457.79 327.12 l0.9 1.9M458.53 327.22 l0.9 1.9M459.27 327.31 l0.9 1.9M460 327.41 l0.9 1.9M460.74 327.51 l0.9 1.9M461.48 327.6 l0.9 1.9M462.21 327.7 l0.9 1.9M462.95 327.8 l0.9 1.9M463.69 327.89 l0.9 1.9M464.43 327.99 l0.9 1.9M465.16 328.09 l0.9 1.9M465.9 328.18 l0.9 1.9M466.64 328.24 l0.9 1.9M467.37 328.29 l0.9 1.9M468.11 328.35 l0.9 1.9M468.85 328.41 l0.9 1.9M469.58 328.46 l0.9 1.9M470.32 328.52 l0.9 1.9M471.06 328.57 l0.9 1.9M471.8 328.63 l0.9 1.9M472.53 328.69 l0.9 1.9M473.27 328.74 l0.9 1.9M474.01 328.8 l0.9 1.9M474.74 328.85 l0.9 1.9M475.48 328.91 l0.9 1.9M476.22 328.97 l0.9 1.9M476.95 329.02 l0.9 1.9M477.69 329.08 l0.9 1.9M478.43 329.13 l0.9 1.9M479.17 329.19 l0.9 1.9M479.9 329.25 l0.9 1.9M480.64 329.3 l0.9 1.9M481.38 329.36 l0.9 1.9M482.11 329.41 l0.9 1.9M482.85 329.47 l0.9 1.9M483.59 329.52 l0.9 1.9M484.32 329.58 l0.9 1.9M485.06 329.64 l0.9 1.9M485.8 329.69 l0.9 1.9M486.54 329.75 l0.9 1.9M487.27 329.8 l0.9 1.9M488.01 329.86 l0.9 1.9M488.75 329.92 l0.9 1.9M489.48 329.97 l0.9 1.9M490.22 330.03 l0.9 1.9M490.96 330.08 l0.9 1.9M491.69 330.14 l0.9 1.9M492.43 330.2 l0.9 1.9M493.17 330.25 l0.9 1.9M493.91 330.31 l0.9 1.9M494.64 330.36 l0.9 1.9M495.38 330.42 l0.9 1.9M496.12 330.48 l0.9 1.9M496.85 330.53 l0.9 1.9M497.59 330.59 l0.9 1.9M498.33 330.64 l0.9 1.9M499.06 330.7 l0.9 1.9M499.8 330.76 l0.9 1.9M500.54 330.81 l0.9 1.9M501.28 330.87 l0.9 1.9M502.01 330.92 l0.9 1.9M502.75 330.98 l0.9 1.9M503.49 331.03 l0.9 1.9M504.22 331.09 l0.9 1.9M504.96 331.15 l0.9 1.9M505.7 331.2 l0.9 1.9M506.44 331.26 l0.9 1.9M507.17 331.31 l0.9 1.9M507.91 331.37 l0.9 1.9M508.65 331.43 l0.9 1.9M509.38 331.48 l0.9 1.9M510.12 331.54 l0.9 1.9M510.86 331.59 l0.9 1.9M511.59 331.65 l0.9 1.9M512.33 331.71 l0.9 1.9M513.07 331.76 l0.9 1.9M513.81 331.82 l0.9 1.9M514.54 331.87 l0.9 1.9M515.28 331.93 l0.9 1.9M516.02 331.99 l0.9 1.9M516.75 332.04 l0.9 1.9M517.49 332.1 l0.9 1.9M518.23 332.15 l0.9 1.9M518.96 332.2 l0.9 1.9M519.7 332.25 l0.9 1.9M520.44 332.3 l0.9 1.9M521.18 332.35 l0.9 1.9M521.91 332.4 l0.9 1.9M522.65 332.44 l0.9 1.9M523.39 332.49 l0.9 1.9M524.12 332.54 l0.9 1.9M524.86 332.59 l0.9 1.9M525.6 332.64 l0.9 1.9M526.33 332.69 l0.9 1.9M527.07 332.73 l0.9 1.9M527.81 332.78 l0.9 1.9M528.55 332.83 l0.9 1.9M529.28 332.88 l0.9 1.9M530.02 332.93 l0.9 1.9M530.76 332.98 l0.9 1.9M531.49 333.02 l0.9 1.9M532.23 333.07 l0.9 1.9M532.97 333.12 l0.9 1.9M533.7 333.17 l0.9 1.9M534.44 333.22 l0.9 1.9M535.18 333.27 l0.9 1.9M535.92 333.31 l0.9 1.9M536.65 333.36 l0.9 1.9M537.39 333.41 l0.9 1.9M538.13 333.46 l0.9 1.9M538.86 333.51 l0.9 1.9M539.6 333.56 l0.9 1.9M540.34 333.61 l0.9 1.9M541.07 333.65 l0.9 1.9M541.81 333.7 l0.9 1.9M542.55 333.75 l0.9 1.9M543.29 333.8 l0.9 1.9M544.02 333.85 l0.9 1.9M544.76 333.9 l0.9 1.9M545.5 333.94 l0.9 1.9M546.23 333.99 l0.9 1.9M546.97 334.04 l0.9 1.9M547.71 334.09 l0.9 1.9M548.44 334.14 l0.9 1.9M549.18 334.19 l0.9 1.9M549.92 334.23 l0.9 1.9M550.65 334.28 l0.9 1.9M551.39 334.33 l0.9 1.9M552.13 334.38 l0.9 1.9M552.87 334.43 l0.9 1.9M553.6 334.48 l0.9 1.9M554.34 334.53 l0.9 1.9M555.08 334.57 l0.9 1.9M555.81 334.62 l0.9 1.9M556.55 334.67 l0.9 1.9M557.29 334.72 l0.9 1.9M558.03 334.77 l0.9 1.9M558.76 334.82 l0.9 1.9M559.5 334.86 l0.9 1.9M560.24 334.91 l0.9 1.9M560.97 334.96 l0.9 1.9M561.71 335.01 l0.9 1.9M562.45 335.06 l0.9 1.9M563.18 335.11 l0.9 1.9M563.92 335.15 l0.9 1.9M564.66 335.2 l0.9 1.9M565.39 335.25 l0.9 1.9M566.13 335.3 l0.9 1.9M566.87 335.35 l0.9 1.9M567.61 335.4 l0.9 1.9M568.34 335.45 l0.9 1.9M569.08 335.49 l0.9 1.9M569.82 335.54 l0.9 1.9M570.55 335.59 l0.9 1.9M571.29 335.64 l0.9 1.9M572.03 335.69 l0.9 1.9M572.77 335.74 l0.9 1.9M573.5 335.78 l0.9 1.9M574.24 335.83 l0.9 1.9M574.98 335.88 l0.9 1.9M575.71 335.93 l0.9 1.9M576.45 335.98 l0.9 1.9M577.19 336.03 l0.9 1.9M577.92 336.07 l0.9 1.9M578.66 336.12 l0.9 1.9M579.4 336.19 l0.9 1.9M580.13 336.26 l0.9 1.9M580.87 336.33 l0.9 1.9M581.61 336.39 l0.9 1.9M582.35 336.46 l0.9 1.9M583.08 336.53 l0.9 1.9M583.82 336.6 l0.9 1.9M584.56 336.66 l0.9 1.9M585.29 336.73 l0.9 1.9M586.03 336.8 l0.9 1.9M586.77 336.87 l0.9 1.9M587.51 336.93 l0.9 1.9M588.24 337 l0.9 1.9M588.98 337.07 l0.9 1.9M589.72 337.14 l0.9 1.9M590.45 337.2 l0.9 1.9M591.19 337.27 l0.9 1.9M591.93 337.34 l0.9 1.9M592.66 337.41 l0.9 1.9M593.4 337.47 l0.9 1.9M594.14 337.54 l0.9 1.9M594.88 337.61 l0.9 1.9M595.61 337.68 l0.9 1.9M596.35 337.74 l0.9 1.9M597.09 337.81 l0.9 1.9M597.82 337.88 l0.9 1.9M598.56 337.95 l0.9 1.9M599.3 338.02 l0.9 1.9M600.03 338.08 l0.9 1.9M600.77 338.15 l0.9 1.9M601.51 338.22 l0.9 1.9M602.25 338.29 l0.9 1.9M602.98 338.35 l0.9 1.9M603.72 338.42 l0.9 1.9M604.46 338.49 l0.9 1.9M605.19 338.56 l0.9 1.9M605.93 338.62 l0.9 1.9M606.67 338.69 l0.9 1.9M607.4 338.76 l0.9 1.9M608.14 338.83 l0.9 1.9M608.88 338.89 l0.9 1.9M609.62 338.96 l0.9 1.9M610.35 339.03 l0.9 1.9M611.09 339.1 l0.9 1.9M611.83 339.16 l0.9 1.9M612.56 339.23 l0.9 1.9M613.3 339.3 l0.9 1.9M614.04 339.38 l0.9 1.9M614.77 339.46 l0.9 1.9M615.51 339.54 l0.9 1.9M616.25 339.62 l0.9 1.9M616.99 339.7 l0.9 1.9M617.72 339.78 l0.9 1.9M618.46 339.85 l0.9 1.9M619.2 339.93 l0.9 1.9M619.93 340.01 l0.9 1.9M620.67 340.09 l0.9 1.9M621.41 340.17 l0.9 1.9M622.14 340.25 l0.9 1.9M622.88 340.33 l0.9 1.9M623.62 340.41 l0.9 1.9M624.36 340.49 l0.9 1.9M625.09 340.57 l0.9 1.9M625.83 340.65 l0.9 1.9M626.57 340.73 l0.9 1.9M627.3 340.81 l0.9 1.9M628.04 340.89 l0.9 1.9M628.78 340.97 l0.9 1.9M629.51 341.05 l0.9 1.9M630.25 341.13 l0.9 1.9M630.99 341.2 l0.9 1.9M631.73 341.28 l0.9 1.9M632.46 341.36 l0.9 1.9M633.2 341.44 l0.9 1.9M633.94 341.52 l0.9 1.9M634.67 341.6 l0.9 1.9M635.41 341.68 l0.9 1.9M636.15 341.76 l0.9 1.9M636.88 341.84 l0.9 1.9M637.62 341.92 l0.9 1.9M638.36 342 l0.9 1.9M639.1 342.08 l0.9 1.9M639.83 342.16 l0.9 1.9M640.57 342.24 l0.9 1.9M641.31 342.32 l0.9 1.9M642.04 342.4 l0.9 1.9M642.78 342.47 l0.9 1.9M643.52 342.55 l0.9 1.9M644.25 342.63 l0.9 1.9M644.99 342.71 l0.9 1.9M645.73 342.79 l0.9 1.9M646.47 342.87 l0.9 1.9M647.2 342.95 l0.9 1.9M647.94 343.03 l0.9 1.9M648.68 343.11 l0.9 1.9M649.41 343.19 l0.9 1.9M650.15 343.27 l0.9 1.9" stroke="#fff" stroke-width="0.75" opacity="0.55" fill="none"/>
</g>
<rect x="386.6" y="298.8" width="265.4" height="103.3" fill="none" stroke="#000" stroke-width="2"/>
<line x1="386.6" y1="393.7" x2="390.6" y2="393.7" stroke="#000" stroke-width="1.4" stroke-linecap="butt"/>
<line x1="386.6" y1="373.85" x2="389.4" y2="373.85" stroke="#000" stroke-width="1.4" stroke-linecap="butt"/>
<line x1="386.6" y1="354" x2="390.6" y2="354" stroke="#000" stroke-width="1.4" stroke-linecap="butt"/>
<line x1="386.6" y1="334.15" x2="389.4" y2="334.15" stroke="#000" stroke-width="1.4" stroke-linecap="butt"/>
<line x1="386.6" y1="314.3" x2="390.6" y2="314.3" stroke="#000" stroke-width="1.4" stroke-linecap="butt"/>
<line x1="393.5" y1="402.1" x2="393.5" y2="398.1" stroke="#000" stroke-width="1.4" stroke-linecap="butt"/>
<line x1="411.93" y1="402.1" x2="411.93" y2="399.3" stroke="#000" stroke-width="1.4" stroke-linecap="butt"/>
<line x1="430.35" y1="402.1" x2="430.35" y2="398.1" stroke="#000" stroke-width="1.4" stroke-linecap="butt"/>
<line x1="448.77" y1="402.1" x2="448.77" y2="399.3" stroke="#000" stroke-width="1.4" stroke-linecap="butt"/>
<line x1="467.2" y1="402.1" x2="467.2" y2="398.1" stroke="#000" stroke-width="1.4" stroke-linecap="butt"/>
<line x1="485.62" y1="402.1" x2="485.62" y2="399.3" stroke="#000" stroke-width="1.4" stroke-linecap="butt"/>
<line x1="504.05" y1="402.1" x2="504.05" y2="398.1" stroke="#000" stroke-width="1.4" stroke-linecap="butt"/>
<line x1="522.48" y1="402.1" x2="522.48" y2="399.3" stroke="#000" stroke-width="1.4" stroke-linecap="butt"/>
<line x1="540.9" y1="402.1" x2="540.9" y2="398.1" stroke="#000" stroke-width="1.4" stroke-linecap="butt"/>
<line x1="559.33" y1="402.1" x2="559.33" y2="399.3" stroke="#000" stroke-width="1.4" stroke-linecap="butt"/>
<line x1="577.75" y1="402.1" x2="577.75" y2="398.1" stroke="#000" stroke-width="1.4" stroke-linecap="butt"/>
<line x1="596.17" y1="402.1" x2="596.17" y2="399.3" stroke="#000" stroke-width="1.4" stroke-linecap="butt"/>
<line x1="614.6" y1="402.1" x2="614.6" y2="398.1" stroke="#000" stroke-width="1.4" stroke-linecap="butt"/>
<line x1="633.02" y1="402.1" x2="633.02" y2="399.3" stroke="#000" stroke-width="1.4" stroke-linecap="butt"/>
<line x1="651.45" y1="402.1" x2="651.45" y2="398.1" stroke="#000" stroke-width="1.4" stroke-linecap="butt"/>
<text x="381.8" y="397.5" font-size="10.1" font-weight="bold" fill="#111" text-anchor="end" textLength="5.2" lengthAdjust="spacingAndGlyphs" stroke="#111" stroke-width="0.2">0</text>
<text x="381.8" y="357.8" font-size="10.1" font-weight="bold" fill="#111" text-anchor="end" textLength="15.6" lengthAdjust="spacingAndGlyphs" stroke="#111" stroke-width="0.2">100</text>
<text x="381.8" y="318.1" font-size="10.1" font-weight="bold" fill="#111" text-anchor="end" textLength="15.6" lengthAdjust="spacingAndGlyphs" stroke="#111" stroke-width="0.2">200</text>
<text x="393.5" y="414.7" font-size="10.1" font-weight="bold" fill="#111" text-anchor="middle" textLength="5.2" lengthAdjust="spacingAndGlyphs" stroke="#111" stroke-width="0.2">0</text>
<text x="430.35" y="414.7" font-size="10.1" font-weight="bold" fill="#111" text-anchor="middle" textLength="10.4" lengthAdjust="spacingAndGlyphs" stroke="#111" stroke-width="0.2">50</text>
<text x="467.2" y="414.7" font-size="10.1" font-weight="bold" fill="#111" text-anchor="middle" textLength="15.6" lengthAdjust="spacingAndGlyphs" stroke="#111" stroke-width="0.2">100</text>
<text x="504.05" y="414.7" font-size="10.1" font-weight="bold" fill="#111" text-anchor="middle" textLength="15.6" lengthAdjust="spacingAndGlyphs" stroke="#111" stroke-width="0.2">150</text>
<text x="540.9" y="414.7" font-size="10.1" font-weight="bold" fill="#111" text-anchor="middle" textLength="15.6" lengthAdjust="spacingAndGlyphs" stroke="#111" stroke-width="0.2">200</text>
<text x="577.75" y="414.7" font-size="10.1" font-weight="bold" fill="#111" text-anchor="middle" textLength="15.6" lengthAdjust="spacingAndGlyphs" stroke="#111" stroke-width="0.2">250</text>
<text x="614.6" y="414.7" font-size="10.1" font-weight="bold" fill="#111" text-anchor="middle" textLength="15.6" lengthAdjust="spacingAndGlyphs" stroke="#111" stroke-width="0.2">300</text>
<text x="651.45" y="414.7" font-size="10.1" font-weight="bold" fill="#111" text-anchor="middle" textLength="15.6" lengthAdjust="spacingAndGlyphs" stroke="#111" stroke-width="0.2">350</text>
<text x="487.8" y="434.6" font-size="10" font-weight="bold" fill="#111" text-anchor="start" textLength="62.2" lengthAdjust="spacingAndGlyphs" stroke="#111" stroke-width="0.2">Cycle number</text>
<text x="358.7" y="399.9" font-size="10" font-weight="bold" fill="#111" text-anchor="start" textLength="85.2" lengthAdjust="spacingAndGlyphs" transform="rotate(-90 358.7 399.9)" stroke="#111" stroke-width="0.2">Capacity (mAh g<tspan font-size="7" font-weight="normal" dy="-4.3">-1</tspan><tspan dy="4.3">)</tspan></text>
<text x="347.8" y="308.3" font-size="19.8" font-weight="bold" fill="#111" text-anchor="start" stroke="#111" stroke-width="0.2">f</text>
<text x="537.3" y="316" font-size="10" font-weight="bold" fill="#111" text-anchor="start" textLength="98.5" lengthAdjust="spacingAndGlyphs" stroke="#111" stroke-width="0.2">2.75-4.6 V,  1000 mA g</text>
<text x="637" y="312.6" font-size="7" font-weight="normal" fill="#111" text-anchor="start" textLength="6.4" lengthAdjust="spacingAndGlyphs" stroke="#111" stroke-width="0.3">-1</text>
<circle cx="400.6" cy="371.3" r="3.5" fill="url(#gO)"/>
<circle cx="400.6" cy="384.4" r="3.5" fill="url(#gN)"/>
<text x="408.9" y="375.1" font-size="10" font-weight="bold" fill="#111" text-anchor="start" textLength="71.8" lengthAdjust="spacingAndGlyphs" stroke="#111" stroke-width="0.2">Undoped SNCM</text>
<text x="408.2" y="388.2" font-size="10" font-weight="bold" fill="#111" text-anchor="start" textLength="56.9" lengthAdjust="spacingAndGlyphs" stroke="#111" stroke-width="0.2">AZ0.3-SNCM</text>
</svg>
</body></html>
